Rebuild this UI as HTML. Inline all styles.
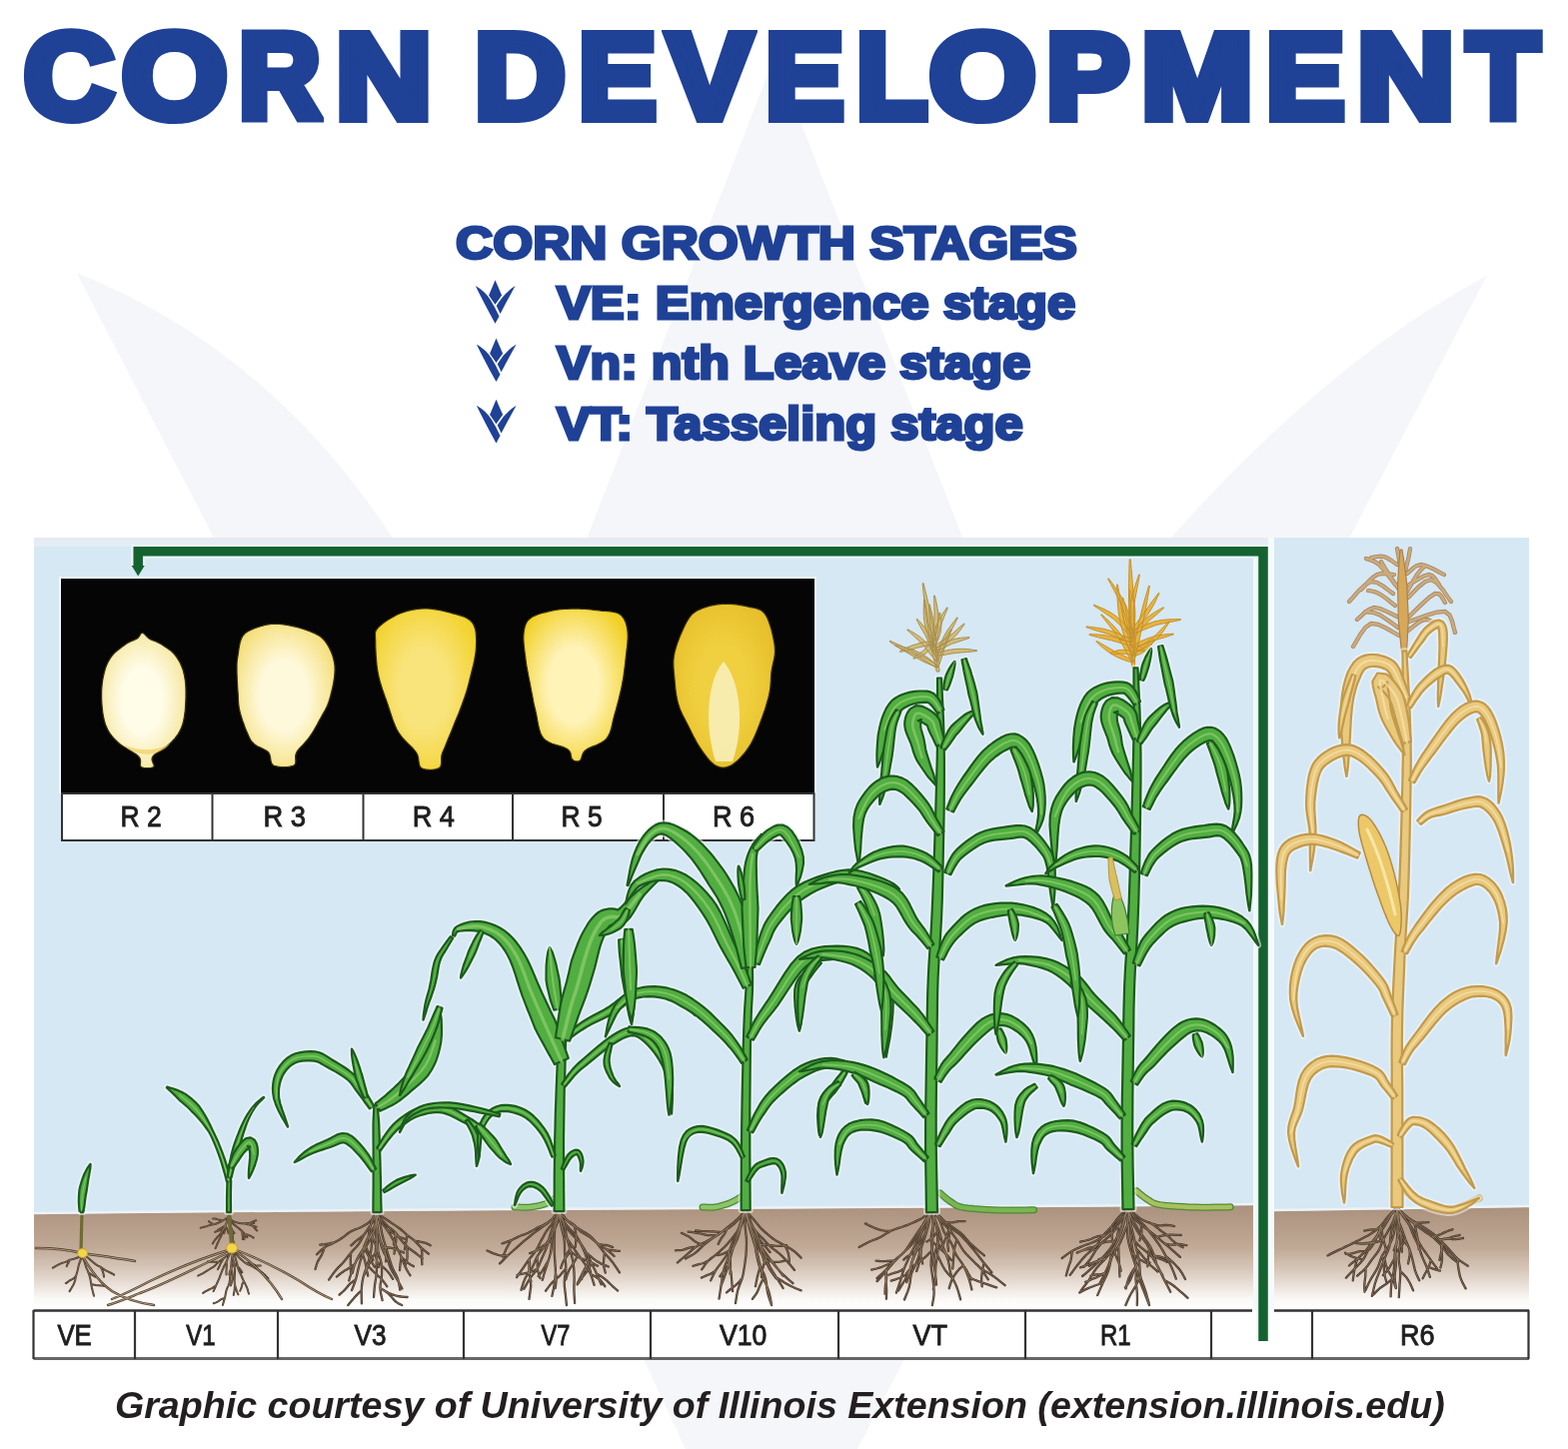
<!DOCTYPE html>
<html><head><meta charset="utf-8"><title>Corn Development</title>
<style>
html,body{margin:0;padding:0;background:#fff;}
body{width:1569px;height:1450px;position:relative;overflow:hidden;font-family:"Liberation Sans",Arial,sans-serif;}
.t{position:absolute;white-space:nowrap;line-height:1;transform-origin:0 0;}
#title{position:absolute;left:0;top:16.2px;width:1569px;height:120px;color:#1f4196;font-weight:bold;font-size:120px;line-height:1;-webkit-text-stroke:10px #1f4196;white-space:nowrap;}
#title span{position:absolute;top:0;transform-origin:0 0;}
#sub{left:455.5px;top:219.5px;color:#1f4196;font-weight:bold;font-size:46px;transform:scaleX(1.118);-webkit-text-stroke:3px #1f4196;}
.bl{color:#1f4196;font-weight:bold;font-size:46px;-webkit-text-stroke:3px #1f4196;}
#foot{left:115px;top:1389px;color:#231f20;font-weight:bold;font-style:italic;font-size:36.5px;transform:scaleX(1.030);}
svg{position:absolute;left:0;top:0;}
.lab{font-family:"Liberation Sans",Arial,sans-serif;font-weight:normal;fill:#1e1e1e;stroke:#1e1e1e;stroke-width:0.9px;}
</style></head>
<body>
<svg width="1569" height="1450" viewBox="0 0 1569 1450"><g fill="#f5f6f9"><path d="M775.4,56 L975,568 L775.4,800 L575.8,568 Z"/><path d="M76.5,273 Q270,350 392.6,538 L480,650 L300,700 L214,538 Z"/><path d="M1488,275.7 Q1330,360 1171.9,538 L1080,660 L1280,680 L1350.3,538 Z"/><path d="M630,1330 L921,1330 L850,1465 L693,1465 Z"/></g><g transform="translate(460.00,270.00) scale(1.0)" fill="#1f4196"><path d="M35.5,10.2 L42.1,25.5 L35.5,34.7 L29.1,25.5 Z"/><path d="M15.8,16.1 Q25.5,21.5 31,30.5 Q35.5,38 39.5,46.4 L35.5,53.8 Q24,33 15.8,16.1 Z"/><path d="M55.6,16.1 Q44.5,23 36.7,36 L40.6,43.9 Q48.5,29 55.6,16.1 Z"/></g><g transform="translate(461.00,328.30) scale(1.0)" fill="#1f4196"><path d="M35.5,10.2 L42.1,25.5 L35.5,34.7 L29.1,25.5 Z"/><path d="M15.8,16.1 Q25.5,21.5 31,30.5 Q35.5,38 39.5,46.4 L35.5,53.8 Q24,33 15.8,16.1 Z"/><path d="M55.6,16.1 Q44.5,23 36.7,36 L40.6,43.9 Q48.5,29 55.6,16.1 Z"/></g><g transform="translate(461.00,389.60) scale(1.0)" fill="#1f4196"><path d="M35.5,10.2 L42.1,25.5 L35.5,34.7 L29.1,25.5 Z"/><path d="M15.8,16.1 Q25.5,21.5 31,30.5 Q35.5,38 39.5,46.4 L35.5,53.8 Q24,33 15.8,16.1 Z"/><path d="M55.6,16.1 Q44.5,23 36.7,36 L40.6,43.9 Q48.5,29 55.6,16.1 Z"/></g><rect x="34" y="538" width="1235" height="773" fill="#d6e8f4"/><rect x="34" y="538" width="1235" height="9" fill="#e2edf6"/><rect x="34" y="538" width="1235" height="2.5" fill="#ebe8ee"/><rect x="1254" y="558" width="4" height="753" fill="#f4f8fb"/><rect x="1269" y="538" width="6" height="773" fill="#f7fafc"/><rect x="1275" y="538" width="255" height="773" fill="#d6e8f4"/><defs><linearGradient id="soil" x1="0" y1="0" x2="0" y2="1"><stop offset="0" stop-color="#ab927e"/><stop offset="0.4" stop-color="#c0a996"/><stop offset="0.62" stop-color="#d8c9bc"/><stop offset="0.8" stop-color="#efe8e2"/><stop offset="0.9" stop-color="#fbfaf8"/><stop offset="1" stop-color="#ffffff"/></linearGradient></defs><path d="M34,1215 L120,1214 L300,1212.5 L500,1211 L700,1210 L930,1208.5 L1100,1207.5 L1254,1206 L1254,1311 L34,1311 Z" fill="url(#soil)"/><path d="M1275,1212 L1400,1210 L1530,1208 L1530,1311 L1275,1311 Z" fill="url(#soil)"/><path d="M34,1214 L120,1213 L300,1211.5 L500,1210 L700,1209 L930,1207.5 L1100,1206.5 L1254,1205 M1275,1211 L1400,1209 L1530,1207" fill="none" stroke="#eef5f9" stroke-width="2.5" opacity="0.9"/><rect x="59" y="577" width="758" height="217" fill="#f4f8fb"/><rect x="61" y="579" width="754" height="215" fill="#050505"/><rect x="62" y="794" width="752.5" height="47" fill="#fff" stroke="#333" stroke-width="2"/><path d="M212.5,794 L212.5,841" stroke="#333" stroke-width="2"/><path d="M363.5,794 L363.5,841" stroke="#333" stroke-width="2"/><path d="M513,794 L513,841" stroke="#333" stroke-width="2"/><path d="M664,794 L664,841" stroke="#333" stroke-width="2"/><text x="120.6" y="826.8" class="lab" font-size="29" textLength="41.1" lengthAdjust="spacingAndGlyphs" xml:space="preserve">R 2</text><text x="263.5" y="826.8" class="lab" font-size="29" textLength="42.5" lengthAdjust="spacingAndGlyphs" xml:space="preserve">R 3</text><text x="412.7" y="826.8" class="lab" font-size="29" textLength="42.2" lengthAdjust="spacingAndGlyphs" xml:space="preserve">R 4</text><text x="561.5" y="826.8" class="lab" font-size="29" textLength="41.1" lengthAdjust="spacingAndGlyphs" xml:space="preserve">R 5</text><text x="713" y="826.8" class="lab" font-size="29" textLength="42.2" lengthAdjust="spacingAndGlyphs" xml:space="preserve">R 6</text><defs><radialGradient id="kg0" cx="0.48" cy="0.5" r="0.6"><stop offset="0" stop-color="#fffce8"/><stop offset="0.4" stop-color="#fffce8"/><stop offset="1" stop-color="#f3e390"/></radialGradient><radialGradient id="kg1" cx="0.48" cy="0.5" r="0.6"><stop offset="0" stop-color="#fff9dc"/><stop offset="0.4" stop-color="#fff9dc"/><stop offset="1" stop-color="#f3dc70"/></radialGradient><radialGradient id="kg2" cx="0.48" cy="0.5" r="0.6"><stop offset="0" stop-color="#f9e47c"/><stop offset="0.4" stop-color="#f9e47c"/><stop offset="1" stop-color="#f2d22c"/></radialGradient><radialGradient id="kg3" cx="0.48" cy="0.5" r="0.6"><stop offset="0" stop-color="#fff3b8"/><stop offset="0.4" stop-color="#fff3b8"/><stop offset="1" stop-color="#f2d024"/></radialGradient><radialGradient id="kg4" cx="0.48" cy="0.5" r="0.6"><stop offset="0" stop-color="#f0d040"/><stop offset="0.4" stop-color="#f0d040"/><stop offset="1" stop-color="#e6be28"/></radialGradient></defs><path d="M142.4,633.2 L143.2,633.4 L143.9,633.9 L144.8,634.7 L145.6,635.6 L146.5,636.6 L147.5,637.6 L148.5,638.5 L149.6,639.3 L150.8,639.9 L152.0,640.5 L153.3,641.0 L154.6,641.5 L156.1,642.0 L157.5,642.7 L159.0,643.4 L160.6,644.3 L162.3,645.3 L164.1,646.5 L166.0,647.7 L167.9,649.0 L169.9,650.4 L171.7,651.9 L173.4,653.6 L175.0,655.3 L176.4,657.1 L177.7,659.1 L179.0,661.2 L180.2,663.3 L181.2,665.6 L182.2,668.0 L183.1,670.4 L183.8,673.0 L184.4,675.7 L184.9,678.5 L185.4,681.5 L185.7,684.5 L185.9,687.7 L186.0,690.8 L186.0,694.1 L186.0,697.3 L185.9,700.7 L185.7,704.2 L185.5,707.8 L185.2,711.5 L184.7,715.1 L184.2,718.6 L183.5,721.9 L182.7,724.9 L181.7,727.6 L180.7,730.1 L179.5,732.4 L178.2,734.5 L176.7,736.6 L175.2,738.6 L173.5,740.5 L171.7,742.5 L169.6,744.5 L167.1,746.4 L164.4,748.3 L161.6,750.2 L158.9,752.0 L156.5,753.7 L154.4,755.3 L153.0,756.9 L152.2,758.4 L152.0,759.9 L152.3,761.3 L152.7,762.6 L153.3,763.9 L153.8,765.0 L154.1,766.0 L154.0,766.8 L153.5,767.4 L152.9,767.9 L152.1,768.2 L151.2,768.4 L150.2,768.5 L149.2,768.5 L148.3,768.5 L147.4,768.5 L146.5,768.5 L145.6,768.5 L144.7,768.5 L143.8,768.4 L143.0,768.2 L142.1,767.9 L141.4,767.4 L140.8,766.8 L140.4,766.0 L140.4,765.0 L140.5,763.9 L140.6,762.6 L140.6,761.3 L140.4,759.9 L139.7,758.4 L138.6,756.9 L136.8,755.3 L134.5,753.7 L131.7,752.0 L128.7,750.2 L125.6,748.3 L122.7,746.4 L119.9,744.5 L117.6,742.5 L115.6,740.5 L113.8,738.6 L112.1,736.6 L110.5,734.5 L109.0,732.4 L107.7,730.1 L106.6,727.6 L105.5,724.9 L104.6,721.9 L103.8,718.6 L103.1,715.1 L102.6,711.5 L102.2,707.8 L101.9,704.2 L101.7,700.7 L101.6,697.3 L101.6,694.1 L101.7,690.8 L101.9,687.6 L102.2,684.5 L102.6,681.4 L103.1,678.5 L103.7,675.6 L104.3,673.0 L105.0,670.5 L105.7,668.2 L106.5,666.0 L107.4,663.9 L108.4,662.0 L109.5,660.1 L110.7,658.2 L112.0,656.4 L113.5,654.6 L115.2,652.9 L117.1,651.2 L119.0,649.7 L120.9,648.2 L122.9,646.8 L124.7,645.5 L126.4,644.3 L128.0,643.3 L129.6,642.5 L131.1,641.8 L132.5,641.1 L133.9,640.6 L135.2,640.0 L136.4,639.4 L137.5,638.8 L138.4,638.0 L139.1,637.1 L139.7,636.2 L140.2,635.3 L140.7,634.4 L141.2,633.8 L141.7,633.3Z" fill="url(#kg0)" stroke="#3a3008" stroke-width="1.2"/><path d="M243.2,636.0 L244.7,634.3 L246.5,632.8 L248.6,631.5 L250.8,630.4 L253.0,629.4 L255.4,628.5 L257.7,627.7 L260.0,627.0 L262.2,626.3 L264.4,625.7 L266.6,625.2 L268.8,624.8 L271.1,624.5 L273.5,624.3 L276.1,624.3 L278.8,624.4 L281.8,624.7 L285.0,625.1 L288.4,625.7 L291.8,626.3 L295.3,627.1 L298.7,628.0 L302.0,629.0 L305.0,630.0 L307.8,631.0 L310.6,632.0 L313.3,633.1 L315.8,634.3 L318.3,635.6 L320.6,637.1 L322.7,638.9 L324.7,641.0 L326.5,643.4 L328.3,646.2 L329.9,649.2 L331.4,652.4 L332.7,655.7 L333.7,659.3 L334.5,662.8 L335.0,666.5 L335.1,670.4 L334.9,674.5 L334.4,678.9 L333.7,683.4 L332.8,687.8 L331.8,692.0 L330.8,696.0 L329.8,699.6 L328.8,702.8 L327.7,705.7 L326.5,708.3 L325.2,710.8 L323.9,713.1 L322.6,715.4 L321.3,717.7 L320.0,720.0 L318.7,722.4 L317.5,724.7 L316.2,727.0 L314.9,729.3 L313.6,731.5 L312.2,733.7 L310.8,735.8 L309.4,737.9 L307.8,739.9 L306.1,741.9 L304.4,743.9 L302.6,745.8 L300.8,747.6 L299.2,749.4 L297.8,751.2 L296.7,753.0 L296.0,754.8 L295.7,756.7 L295.7,758.6 L295.8,760.4 L295.9,762.2 L295.7,763.7 L295.1,765.0 L294.0,766.0 L292.2,766.7 L289.8,767.2 L287.0,767.5 L284.0,767.6 L281.0,767.5 L278.2,767.2 L275.7,766.7 L273.8,766.0 L272.5,765.0 L271.7,763.5 L271.2,761.9 L270.8,760.0 L270.6,758.1 L270.2,756.2 L269.6,754.5 L268.7,753.0 L267.4,751.8 L265.7,750.7 L263.9,749.7 L262.0,748.8 L260.0,747.9 L258.1,747.0 L256.4,746.0 L255.0,745.0 L253.8,744.0 L252.9,743.0 L252.0,742.1 L251.3,741.1 L250.6,740.0 L249.9,738.7 L249.2,737.2 L248.3,735.3 L247.3,733.0 L246.2,730.4 L245.0,727.4 L243.9,724.3 L242.7,721.1 L241.7,717.9 L240.7,714.8 L240.0,712.0 L239.4,709.4 L239.0,706.8 L238.7,704.3 L238.5,701.9 L238.4,699.5 L238.3,697.1 L238.2,694.6 L238.0,692.0 L237.8,689.3 L237.6,686.4 L237.5,683.5 L237.3,680.6 L237.2,677.7 L237.1,675.0 L237.0,672.4 L237.0,670.0 L237.0,667.9 L237.0,666.1 L237.0,664.5 L237.1,663.0 L237.2,661.6 L237.4,660.0 L237.7,658.3 L238.0,656.3 L238.4,654.0 L238.7,651.4 L239.1,648.7 L239.6,645.9 L240.2,643.1 L241.0,640.4 L242.0,638.0Z" fill="url(#kg1)" stroke="#3a3008" stroke-width="1.2"/><path d="M378.3,628.2 L380.1,626.4 L382.3,624.5 L384.9,622.6 L387.8,620.6 L390.8,618.7 L394.0,616.9 L397.0,615.3 L400.0,614.0 L402.9,612.9 L405.8,611.9 L408.8,611.1 L411.8,610.4 L414.9,609.8 L418.0,609.4 L421.1,609.1 L424.2,609.0 L427.4,609.0 L430.6,609.2 L433.9,609.6 L437.2,610.1 L440.5,610.7 L443.7,611.4 L446.9,612.2 L450.0,613.0 L453.1,613.9 L456.3,614.7 L459.5,615.6 L462.7,616.6 L465.6,617.8 L468.3,619.3 L470.7,621.0 L472.6,623.0 L474.0,625.4 L475.1,628.2 L475.9,631.2 L476.3,634.5 L476.5,637.9 L476.6,641.4 L476.5,645.0 L476.4,648.6 L476.1,652.3 L475.5,656.2 L474.8,660.2 L473.9,664.4 L472.9,668.5 L471.9,672.5 L470.9,676.4 L470.0,680.0 L469.2,683.3 L468.4,686.3 L467.6,689.2 L466.8,691.9 L465.9,694.7 L464.9,697.7 L463.7,701.0 L462.4,704.7 L460.8,709.0 L458.9,713.9 L456.7,719.2 L454.5,724.6 L452.4,729.9 L450.3,734.9 L448.5,739.3 L447.0,743.0 L445.9,745.8 L445.0,748.0 L444.3,749.6 L443.7,750.9 L443.2,752.1 L442.8,753.1 L442.4,754.3 L442.0,755.7 L441.7,757.4 L441.6,759.2 L441.6,761.1 L441.6,762.9 L441.5,764.6 L441.1,766.2 L440.5,767.5 L439.5,768.5 L437.9,769.2 L435.8,769.8 L433.4,770.1 L430.7,770.3 L428.1,770.2 L425.5,769.9 L423.3,769.3 L421.6,768.5 L420.4,767.3 L419.7,765.8 L419.3,764.0 L419.0,762.0 L418.8,759.8 L418.4,757.6 L417.7,755.3 L416.5,753.0 L414.8,750.8 L412.8,748.5 L410.4,746.1 L407.9,743.7 L405.4,741.1 L402.9,738.5 L400.7,735.7 L398.7,732.8 L397.0,729.7 L395.5,726.5 L394.1,723.1 L392.8,719.6 L391.6,716.0 L390.4,712.4 L389.2,708.7 L388.0,705.0 L386.7,701.3 L385.3,697.5 L384.0,693.7 L382.6,689.8 L381.4,685.9 L380.2,682.0 L379.2,678.0 L378.3,674.0 L377.6,669.8 L377.0,665.4 L376.6,660.9 L376.2,656.4 L376.0,652.0 L375.8,647.9 L375.7,644.2 L375.7,641.0 L375.6,638.4 L375.5,636.4 L375.5,634.8 L375.5,633.4 L375.7,632.2 L376.2,631.0 L377.0,629.7Z" fill="url(#kg2)" stroke="#3a3008" stroke-width="1.2"/><path d="M530.6,618.7 L532.6,617.3 L535.1,616.1 L537.8,615.0 L540.7,614.0 L543.8,613.1 L547.0,612.3 L550.0,611.6 L553.0,611.0 L555.9,610.5 L558.8,610.0 L561.7,609.7 L564.7,609.5 L567.6,609.3 L570.6,609.2 L573.6,609.1 L576.5,609.1 L579.5,609.1 L582.4,609.3 L585.4,609.4 L588.4,609.7 L591.4,610.0 L594.3,610.3 L597.2,610.6 L600.0,611.0 L602.8,611.3 L605.6,611.5 L608.5,611.7 L611.2,612.0 L613.9,612.4 L616.4,613.0 L618.6,613.8 L620.5,614.9 L622.1,616.3 L623.5,618.0 L624.7,619.9 L625.7,621.9 L626.5,624.2 L627.1,626.6 L627.6,629.3 L628.0,632.0 L628.2,635.0 L628.2,638.3 L628.0,641.8 L627.7,645.5 L627.3,649.2 L626.8,652.9 L626.4,656.5 L626.0,660.0 L625.7,663.3 L625.3,666.5 L624.9,669.6 L624.5,672.7 L624.1,675.8 L623.6,679.0 L623.0,682.2 L622.4,685.6 L621.7,689.1 L620.8,692.8 L619.9,696.6 L619.0,700.4 L618.0,704.2 L617.0,707.9 L616.0,711.6 L615.0,715.0 L614.1,718.3 L613.3,721.7 L612.6,724.9 L611.9,728.1 L611.0,731.1 L609.9,734.0 L608.6,736.6 L607.0,739.0 L604.9,741.1 L602.3,742.8 L599.4,744.3 L596.4,745.7 L593.3,746.9 L590.5,748.1 L588.0,749.3 L586.0,750.6 L584.6,752.0 L583.5,753.6 L582.8,755.1 L582.3,756.6 L581.9,758.0 L581.5,759.2 L581.0,760.3 L580.3,761.0 L579.4,761.5 L578.5,761.8 L577.5,761.9 L576.4,761.8 L575.4,761.6 L574.4,761.2 L573.5,760.6 L572.7,760.0 L572.1,759.2 L571.8,758.1 L571.5,756.8 L571.3,755.5 L571.0,754.0 L570.4,752.5 L569.4,751.1 L567.9,749.7 L565.7,748.5 L562.9,747.4 L559.6,746.4 L556.1,745.4 L552.6,744.2 L549.3,742.8 L546.4,741.1 L544.0,739.0 L542.2,736.4 L540.8,733.4 L539.7,730.0 L538.8,726.5 L538.1,722.8 L537.4,719.1 L536.8,715.5 L536.0,712.0 L535.2,708.7 L534.4,705.3 L533.7,702.0 L533.1,698.7 L532.5,695.4 L531.8,692.1 L531.2,688.9 L530.6,685.6 L530.0,682.4 L529.3,679.2 L528.7,676.0 L528.1,672.8 L527.5,669.6 L526.9,666.4 L526.4,663.2 L526.0,660.0 L525.6,656.7 L525.1,653.3 L524.7,649.8 L524.3,646.4 L524.0,643.0 L523.8,639.8 L523.8,636.7 L524.0,634.0 L524.3,631.5 L524.7,629.2 L525.2,627.1 L525.8,625.2 L526.6,623.4 L527.6,621.7 L529.0,620.2Z" fill="url(#kg3)" stroke="#3a3008" stroke-width="1.2"/><path d="M689.3,618.7 L691.2,616.2 L693.0,614.2 L694.9,612.7 L696.8,611.4 L698.7,610.5 L700.7,609.6 L702.8,608.8 L705.0,608.0 L707.3,607.2 L709.8,606.4 L712.3,605.8 L714.9,605.3 L717.5,604.9 L720.2,604.6 L722.9,604.4 L725.6,604.3 L728.3,604.3 L731.2,604.4 L734.1,604.6 L737.0,604.9 L739.9,605.3 L742.7,605.8 L745.4,606.4 L748.0,607.0 L750.5,607.6 L753.0,608.0 L755.4,608.5 L757.7,609.1 L759.9,609.9 L762.0,611.1 L764.0,612.7 L765.8,614.9 L767.5,617.8 L769.1,621.5 L770.5,625.6 L771.9,630.1 L773.0,634.7 L774.0,639.3 L774.8,643.5 L775.3,647.4 L775.5,650.9 L775.4,654.1 L775.0,657.3 L774.4,660.3 L773.7,663.2 L773.1,666.1 L772.5,669.0 L772.0,672.0 L771.7,674.9 L771.5,677.7 L771.4,680.5 L771.2,683.3 L771.0,686.1 L770.7,689.0 L770.2,692.0 L769.6,695.2 L768.8,698.7 L767.7,702.3 L766.6,706.2 L765.4,710.1 L764.0,714.0 L762.7,717.8 L761.3,721.5 L760.0,725.0 L758.7,728.3 L757.4,731.5 L756.1,734.6 L754.8,737.6 L753.4,740.5 L751.9,743.4 L750.3,746.1 L748.6,748.7 L746.7,751.3 L744.7,753.9 L742.5,756.4 L740.3,758.8 L738.0,761.1 L735.7,763.0 L733.5,764.7 L731.4,766.0 L729.4,766.9 L727.4,767.6 L725.5,768.0 L723.6,768.2 L721.7,768.0 L719.8,767.6 L717.9,766.9 L716.0,766.0 L714.1,764.7 L712.1,763.0 L710.2,761.1 L708.2,758.8 L706.3,756.4 L704.4,753.9 L702.6,751.3 L700.8,748.7 L699.1,746.0 L697.3,743.1 L695.7,740.1 L694.0,737.0 L692.4,733.9 L690.9,730.8 L689.4,727.8 L688.0,725.0 L686.6,722.3 L685.3,719.8 L684.0,717.3 L682.8,714.9 L681.7,712.5 L680.6,710.0 L679.7,707.4 L678.8,704.7 L678.0,701.8 L677.4,698.9 L676.8,695.9 L676.3,692.8 L675.9,689.6 L675.6,686.4 L675.3,683.2 L675.0,680.0 L674.7,676.8 L674.4,673.6 L674.1,670.4 L673.9,667.1 L673.8,663.8 L673.9,660.3 L674.3,656.7 L675.0,653.0 L676.1,648.9 L677.5,644.4 L679.3,639.6 L681.2,634.8 L683.2,630.2 L685.3,625.8 L687.3,621.9Z" fill="url(#kg4)" stroke="#3a3008" stroke-width="1.2"/><path d="M724,662 C740,680 746,725 733,762 L716,762 C704,725 708,680 724,662Z" fill="#f8eeb8" opacity="0.9"/><path d="M124,745 C135,752 160,752 170,744 C160,758 135,758 124,745Z" fill="#f0d060" opacity="0.7"/><rect x="33.5" y="1311" width="1496" height="49" fill="#fff"/><path d="M33.5,1311.5 L1253,1311.5 M1275,1311.5 L1530,1311.5" stroke="#333" stroke-width="2.5" fill="none"/><path d="M33.5,1359.5 L1530,1359.5" stroke="#666" stroke-width="3" fill="none"/><path d="M33.5,1311 L33.5,1360" stroke="#333" stroke-width="2.2"/><path d="M135,1311 L135,1360" stroke="#333" stroke-width="2.2"/><path d="M278,1311 L278,1360" stroke="#333" stroke-width="2.2"/><path d="M464,1311 L464,1360" stroke="#333" stroke-width="2.2"/><path d="M651,1311 L651,1360" stroke="#333" stroke-width="2.2"/><path d="M839,1311 L839,1360" stroke="#333" stroke-width="2.2"/><path d="M1026,1311 L1026,1360" stroke="#333" stroke-width="2.2"/><path d="M1212,1311 L1212,1360" stroke="#333" stroke-width="2.2"/><path d="M1313,1311 L1313,1360" stroke="#333" stroke-width="2.2"/><path d="M1529.5,1311 L1529.5,1360" stroke="#333" stroke-width="2.2"/><text x="57.4" y="1346.3" class="lab" font-size="29.5" textLength="34.4" lengthAdjust="spacingAndGlyphs">VE</text><text x="186.3" y="1346.3" class="lab" font-size="29.5" textLength="29.3" lengthAdjust="spacingAndGlyphs">V1</text><text x="354.6" y="1346.3" class="lab" font-size="29.5" textLength="31.9" lengthAdjust="spacingAndGlyphs">V3</text><text x="541.6" y="1346.3" class="lab" font-size="29.5" textLength="28.8" lengthAdjust="spacingAndGlyphs">V7</text><text x="720" y="1346.3" class="lab" font-size="29.5" textLength="47.3" lengthAdjust="spacingAndGlyphs">V10</text><text x="913.5" y="1346.3" class="lab" font-size="29.5" textLength="34.5" lengthAdjust="spacingAndGlyphs">VT</text><text x="1101" y="1346.3" class="lab" font-size="29.5" textLength="30.6" lengthAdjust="spacingAndGlyphs">R1</text><text x="1401" y="1346.3" class="lab" font-size="29.5" textLength="34.6" lengthAdjust="spacingAndGlyphs">R6</text><path d="M1264,1342 L1264,551.8 L138.2,551.8 L138.2,566" fill="none" stroke="#f2f8fb" stroke-width="14" stroke-linejoin="miter" opacity="0.7"/><path d="M1264,1342 L1264,551.8 L138.2,551.8 L138.2,566" fill="none" stroke="#14622f" stroke-width="9.5" stroke-linejoin="miter"/><path d="M131.7,566 L144.7,566 L138.2,576.6 Z" fill="#14622f"/><path d="M376.6,1214.8 L374.9,1216.9 L372.5,1220.0 L369.8,1222.7 L367.1,1224.8 L364.1,1226.6 L361.0,1228.2 L357.8,1229.5 L354.5,1230.7 L351.4,1232.1 L348.5,1234.0 L345.8,1236.2 L343.0,1238.3 L340.1,1240.2 L337.1,1241.9 L334.1,1243.6 L330.9,1245.1 L327.7,1246.5 L324.7,1248.2 L321.8,1250.6 L319.0,1253.3 L317.1,1255.3 M324.7,1248.2 L324.1,1250.1 L323.1,1252.9 L322.0,1255.6 L320.7,1257.9 L319.2,1260.1 L318.0,1262.4 L316.9,1265.2 L316.1,1268.0 L315.5,1270.0 M334.1,1243.6 L332.9,1243.7 L331.2,1244.0 L329.5,1244.3 L328.0,1244.6 L326.5,1244.9 L324.9,1245.2 L323.2,1245.4 L321.5,1245.5 L320.3,1245.6 M376.9,1215.2 L375.5,1217.8 L373.4,1221.6 L371.2,1225.3 L369.1,1228.5 L366.9,1231.8 L364.8,1235.0 L362.9,1238.3 L361.0,1241.7 L358.9,1245.0 L356.4,1248.0 L353.7,1250.8 L351.1,1253.7 L348.7,1256.7 L346.4,1259.8 L344.0,1262.8 L341.3,1265.7 L338.5,1268.4 L335.9,1271.2 L333.3,1274.6 L330.8,1278.1 L329.1,1280.6 M364.8,1235.0 L363.6,1236.0 L362.0,1237.4 L360.3,1238.8 L358.7,1240.0 L357.2,1241.2 L355.6,1242.4 L354.0,1243.8 L352.4,1245.3 L351.3,1246.3 M351.1,1253.7 L351.0,1255.4 L350.9,1257.8 L350.8,1260.3 L350.8,1262.5 L350.8,1264.8 L350.8,1267.0 L350.9,1269.4 L351.0,1271.9 L351.1,1273.6 M378.3,1215.6 L377.7,1218.5 L376.8,1222.7 L375.8,1226.8 L374.8,1230.5 L373.7,1234.2 L372.3,1237.8 L370.4,1241.1 L368.2,1244.2 L366.2,1247.5 L364.5,1250.9 L363.0,1254.5 L361.7,1258.1 L360.6,1261.8 L359.6,1265.5 L358.6,1269.2 L357.8,1272.9 L356.9,1276.7 L356.0,1280.4 L354.6,1284.4 L353.1,1288.4 L352.0,1291.2 M366.2,1247.5 L366.6,1248.7 L367.3,1250.5 L368.1,1252.2 L369.1,1253.6 L370.2,1254.9 L371.2,1256.3 L372.1,1258.0 L372.8,1259.7 L373.3,1261.0 M372.3,1237.8 L372.8,1238.9 L373.6,1240.6 L374.4,1242.2 L375.0,1243.7 L375.7,1245.2 L376.2,1246.8 L376.6,1248.5 L377.0,1250.3 L377.2,1251.6 M356.0,1280.4 L354.4,1281.5 L352.1,1283.1 L350.0,1284.9 L348.3,1286.7 L346.7,1288.7 L345.1,1290.6 L343.1,1292.5 L341.0,1294.4 L339.6,1295.7 M375.5,1213.3 L374.6,1215.6 L373.2,1218.7 L372.0,1222.0 L371.1,1224.9 L370.4,1228.0 L369.7,1231.0 L369.1,1234.1 L368.7,1237.2 L368.0,1240.2 L366.9,1243.1 L365.6,1245.9 L364.1,1248.7 L362.5,1251.3 L360.8,1253.9 L359.2,1256.6 L357.7,1259.3 L356.3,1262.1 L355.1,1264.9 L354.0,1268.2 L353.2,1271.6 L352.6,1273.9 M364.1,1248.7 L365.1,1250.3 L366.4,1252.6 L367.7,1255.0 L368.9,1257.1 L370.0,1259.2 L371.1,1261.3 L372.4,1263.7 L373.7,1266.0 L374.7,1267.7 M355.1,1264.9 L353.5,1266.0 L351.2,1267.6 L349.0,1269.1 L346.9,1270.4 L344.7,1271.6 L342.7,1273.0 L340.5,1274.6 L338.4,1276.4 L336.9,1277.6 M378.4,1214.6 L377.8,1217.2 L376.9,1221.0 L375.8,1224.7 L374.2,1227.8 L372.4,1230.8 L370.7,1233.8 L369.1,1236.9 L367.5,1240.0 L366.0,1243.2 L364.7,1246.4 L363.6,1249.7 L362.2,1252.9 L360.4,1255.9 L358.4,1258.8 L356.6,1261.7 L355.1,1264.9 L353.8,1268.1 L352.5,1271.3 L351.2,1275.0 L350.0,1278.7 L349.2,1281.3 M362.2,1252.9 L362.9,1254.9 L363.9,1257.8 L364.8,1260.7 L365.5,1263.3 L366.0,1266.0 L366.5,1268.7 L367.1,1271.6 L367.8,1274.6 L368.2,1276.7 M375.6,1214.1 L375.4,1217.5 L375.2,1222.4 L374.8,1227.2 L374.2,1231.5 L373.3,1235.8 L372.5,1240.1 L372.0,1244.5 L371.6,1248.8 L371.0,1253.1 L370.0,1257.4 L368.9,1261.6 L367.6,1265.8 L366.2,1269.9 L364.6,1274.1 L363.4,1278.2 L362.6,1282.5 L362.0,1286.9 L361.7,1291.2 L361.7,1296.1 L361.8,1301.0 L361.9,1304.4 M367.6,1265.8 L369.3,1267.7 L371.7,1270.4 L374.2,1273.0 L376.6,1275.2 L379.1,1277.3 L381.4,1279.5 L383.7,1282.3 L385.8,1285.2 L387.3,1287.3 M361.7,1291.2 L360.4,1292.5 L358.6,1294.2 L356.8,1296.1 L355.2,1297.8 L353.8,1299.6 L352.3,1301.3 L350.8,1303.1 L349.3,1304.8 L348.3,1306.0 M378.3,1215.0 L377.7,1218.1 L376.9,1222.4 L376.3,1226.8 L376.1,1230.8 L376.2,1234.7 L376.4,1238.7 L377.0,1242.7 L377.9,1246.6 L378.3,1250.5 L378.0,1254.4 L377.3,1258.4 L376.8,1262.3 L376.7,1266.3 L376.9,1270.3 L376.8,1274.3 L376.3,1278.2 L375.6,1282.1 L375.0,1286.1 L374.6,1290.5 L374.2,1294.9 L374.0,1298.0 M378.3,1250.5 L376.8,1252.5 L374.7,1255.3 L372.7,1258.2 L371.2,1261.0 L369.8,1263.9 L368.5,1266.8 L367.1,1270.0 L365.7,1273.2 L364.7,1275.5 M376.8,1262.3 L378.4,1263.7 L380.7,1265.6 L382.9,1267.5 L384.9,1269.4 L386.8,1271.3 L388.6,1273.2 L390.4,1275.6 L392.0,1278.2 L393.1,1279.9 M376.3,1214.0 L376.5,1217.3 L376.8,1221.9 L377.0,1226.6 L377.3,1230.8 L377.5,1235.0 L377.7,1239.1 L377.8,1243.3 L377.9,1247.5 L378.3,1251.7 L379.2,1255.8 L380.5,1259.8 L381.5,1263.8 L381.9,1268.0 L382.1,1272.2 L382.0,1276.4 L381.5,1280.6 L380.7,1284.7 L380.4,1288.9 L380.9,1293.5 L381.9,1298.0 L382.6,1301.2 M380.4,1288.9 L382.6,1290.3 L385.8,1292.3 L388.8,1294.6 L391.2,1297.1 L393.4,1299.9 L395.6,1302.2 L398.0,1303.9 L400.5,1305.2 L402.2,1306.0 M380.4,1288.9 L382.5,1290.2 L385.6,1292.1 L388.7,1293.8 L391.7,1295.1 L394.8,1296.2 L397.9,1297.0 L401.4,1297.5 L405.0,1297.8 L407.6,1298.0 M377.7,1239.1 L377.2,1241.6 L376.5,1245.2 L376.0,1248.8 L375.9,1252.0 L376.0,1255.3 L376.4,1258.5 L377.2,1262.1 L378.2,1265.6 L378.9,1268.0 M375.5,1215.2 L376.0,1218.2 L376.7,1222.3 L377.4,1226.5 L378.0,1230.2 L378.6,1234.0 L379.4,1237.7 L380.6,1241.3 L381.9,1244.8 L383.3,1248.4 L384.6,1251.9 L386.0,1255.5 L387.4,1259.0 L388.6,1262.6 L389.7,1266.3 L391.1,1269.8 L392.9,1273.1 L395.0,1276.3 L397.0,1279.6 L399.0,1283.2 L401.0,1286.9 L402.4,1289.5 M383.3,1248.4 L385.2,1248.4 L387.8,1248.5 L390.5,1248.7 L392.9,1249.2 L395.2,1249.9 L397.5,1250.7 L399.9,1251.7 L402.4,1252.8 L404.1,1253.6 M379.4,1237.7 L379.8,1239.8 L380.4,1242.9 L381.2,1245.9 L382.1,1248.5 L383.1,1251.1 L384.2,1253.6 L385.7,1256.3 L387.4,1259.0 L388.5,1260.8 M378.1,1213.1 L378.7,1216.1 L379.5,1220.3 L380.4,1224.5 L381.1,1228.3 L381.7,1232.1 L382.5,1235.9 L383.5,1239.6 L384.7,1243.3 L385.8,1247.0 L386.9,1250.7 L388.0,1254.4 L389.2,1258.0 L390.3,1261.7 L391.5,1265.4 L392.8,1269.0 L394.5,1272.5 L396.4,1275.9 L398.0,1279.4 L399.0,1283.5 L399.8,1287.8 L400.3,1290.7 M385.8,1247.0 L385.7,1248.3 L385.6,1250.2 L385.6,1252.1 L385.8,1253.9 L386.2,1255.6 L386.4,1257.3 L386.3,1259.2 L386.2,1261.1 L386.0,1262.4 M376.4,1214.1 L377.8,1216.3 L379.7,1219.5 L381.7,1222.7 L383.6,1225.5 L385.6,1228.2 L387.5,1231.0 L389.4,1233.9 L391.2,1236.7 L392.8,1239.7 L394.4,1242.7 L395.8,1245.8 L397.2,1248.8 L398.8,1251.8 L400.3,1254.9 L401.7,1257.9 L402.9,1261.1 L404.1,1264.3 L405.4,1267.4 L407.1,1270.7 L409.0,1274.0 L410.4,1276.2 M401.7,1257.9 L401.5,1259.1 L401.1,1260.7 L400.9,1262.3 L400.7,1263.7 L400.5,1265.2 L400.4,1266.7 L400.2,1268.3 L400.1,1270.0 L400.0,1271.1 M387.5,1231.0 L389.1,1231.8 L391.4,1232.9 L393.6,1234.1 L395.5,1235.3 L397.4,1236.5 L399.4,1237.7 L401.7,1238.6 L404.1,1239.3 L405.8,1239.8 M401.7,1257.9 L402.7,1258.8 L404.1,1260.1 L405.5,1261.4 L406.8,1262.5 L408.1,1263.6 L409.5,1264.6 L411.1,1265.7 L412.8,1266.6 L413.9,1267.2 M375.6,1214.0 L377.3,1215.7 L379.7,1218.2 L382.1,1220.8 L384.2,1223.1 L386.3,1225.4 L388.5,1227.6 L391.0,1229.5 L393.5,1231.4 L395.8,1233.5 L397.8,1235.9 L399.6,1238.5 L401.4,1241.0 L403.5,1243.4 L405.6,1245.6 L407.8,1247.8 L410.2,1249.8 L412.8,1251.7 L415.3,1253.5 L418.0,1255.7 L420.8,1257.8 L422.7,1259.3 M407.8,1247.8 L407.7,1249.4 L407.6,1251.6 L407.5,1253.8 L407.5,1255.9 L407.6,1257.9 L407.4,1259.9 L407.0,1262.1 L406.3,1264.2 L405.8,1265.7 M395.8,1233.5 L395.8,1234.5 L395.7,1236.0 L395.5,1237.6 L395.1,1238.9 L394.7,1240.2 L394.3,1241.5 L394.1,1243.0 L394.0,1244.5 L394.0,1245.6 M395.8,1233.5 L396.0,1235.3 L396.3,1237.9 L396.3,1240.6 L396.2,1242.9 L395.8,1245.3 L395.4,1247.6 L395.1,1250.2 L394.7,1252.8 L394.5,1254.6 M376.4,1213.3 L378.4,1214.7 L381.3,1216.7 L384.2,1218.7 L386.9,1220.5 L389.5,1222.3 L392.2,1224.1 L394.9,1225.9 L397.5,1227.6 L400.1,1229.5 L402.5,1231.5 L404.9,1233.7 L407.3,1235.8 L409.8,1237.8 L412.4,1239.6 L414.9,1241.6 L417.1,1243.9 L419.3,1246.3 L421.5,1248.6 L424.1,1250.9 L426.9,1253.1 L428.8,1254.7 M407.3,1235.8 L407.2,1237.1 L407.0,1238.9 L406.8,1240.7 L406.5,1242.4 L406.1,1244.0 L405.7,1245.6 L405.4,1247.4 L405.1,1249.2 L404.9,1250.4 M414.9,1241.6 L416.3,1241.9 L418.3,1242.2 L420.3,1242.6 L422.1,1243.0 L423.9,1243.3 L425.7,1243.8 L427.6,1244.6 L429.4,1245.5 L430.7,1246.2 M421.5,1248.6 L421.7,1250.0 L422.1,1252.0 L422.3,1254.1 L422.3,1256.0 L422.1,1257.8 L422.1,1259.7 L422.2,1261.7 L422.3,1263.8 L422.4,1265.3" fill="none" stroke="#46352a" stroke-width="2.3" stroke-linecap="round" stroke-linejoin="round"/><path d="M376.6,1214.8 L374.9,1216.9 L372.5,1220.0 L369.8,1222.7 L367.1,1224.8 L364.1,1226.6 L361.0,1228.2 L357.8,1229.5 L354.5,1230.7 L351.4,1232.1 L348.5,1234.0 L345.8,1236.2 L343.0,1238.3 L340.1,1240.2 L337.1,1241.9 L334.1,1243.6 L330.9,1245.1 L327.7,1246.5 L324.7,1248.2 L321.8,1250.6 L319.0,1253.3 L317.1,1255.3 M324.7,1248.2 L324.1,1250.1 L323.1,1252.9 L322.0,1255.6 L320.7,1257.9 L319.2,1260.1 L318.0,1262.4 L316.9,1265.2 L316.1,1268.0 L315.5,1270.0 M334.1,1243.6 L332.9,1243.7 L331.2,1244.0 L329.5,1244.3 L328.0,1244.6 L326.5,1244.9 L324.9,1245.2 L323.2,1245.4 L321.5,1245.5 L320.3,1245.6 M376.9,1215.2 L375.5,1217.8 L373.4,1221.6 L371.2,1225.3 L369.1,1228.5 L366.9,1231.8 L364.8,1235.0 L362.9,1238.3 L361.0,1241.7 L358.9,1245.0 L356.4,1248.0 L353.7,1250.8 L351.1,1253.7 L348.7,1256.7 L346.4,1259.8 L344.0,1262.8 L341.3,1265.7 L338.5,1268.4 L335.9,1271.2 L333.3,1274.6 L330.8,1278.1 L329.1,1280.6 M364.8,1235.0 L363.6,1236.0 L362.0,1237.4 L360.3,1238.8 L358.7,1240.0 L357.2,1241.2 L355.6,1242.4 L354.0,1243.8 L352.4,1245.3 L351.3,1246.3 M351.1,1253.7 L351.0,1255.4 L350.9,1257.8 L350.8,1260.3 L350.8,1262.5 L350.8,1264.8 L350.8,1267.0 L350.9,1269.4 L351.0,1271.9 L351.1,1273.6 M378.3,1215.6 L377.7,1218.5 L376.8,1222.7 L375.8,1226.8 L374.8,1230.5 L373.7,1234.2 L372.3,1237.8 L370.4,1241.1 L368.2,1244.2 L366.2,1247.5 L364.5,1250.9 L363.0,1254.5 L361.7,1258.1 L360.6,1261.8 L359.6,1265.5 L358.6,1269.2 L357.8,1272.9 L356.9,1276.7 L356.0,1280.4 L354.6,1284.4 L353.1,1288.4 L352.0,1291.2 M366.2,1247.5 L366.6,1248.7 L367.3,1250.5 L368.1,1252.2 L369.1,1253.6 L370.2,1254.9 L371.2,1256.3 L372.1,1258.0 L372.8,1259.7 L373.3,1261.0 M372.3,1237.8 L372.8,1238.9 L373.6,1240.6 L374.4,1242.2 L375.0,1243.7 L375.7,1245.2 L376.2,1246.8 L376.6,1248.5 L377.0,1250.3 L377.2,1251.6 M356.0,1280.4 L354.4,1281.5 L352.1,1283.1 L350.0,1284.9 L348.3,1286.7 L346.7,1288.7 L345.1,1290.6 L343.1,1292.5 L341.0,1294.4 L339.6,1295.7 M375.5,1213.3 L374.6,1215.6 L373.2,1218.7 L372.0,1222.0 L371.1,1224.9 L370.4,1228.0 L369.7,1231.0 L369.1,1234.1 L368.7,1237.2 L368.0,1240.2 L366.9,1243.1 L365.6,1245.9 L364.1,1248.7 L362.5,1251.3 L360.8,1253.9 L359.2,1256.6 L357.7,1259.3 L356.3,1262.1 L355.1,1264.9 L354.0,1268.2 L353.2,1271.6 L352.6,1273.9 M364.1,1248.7 L365.1,1250.3 L366.4,1252.6 L367.7,1255.0 L368.9,1257.1 L370.0,1259.2 L371.1,1261.3 L372.4,1263.7 L373.7,1266.0 L374.7,1267.7 M355.1,1264.9 L353.5,1266.0 L351.2,1267.6 L349.0,1269.1 L346.9,1270.4 L344.7,1271.6 L342.7,1273.0 L340.5,1274.6 L338.4,1276.4 L336.9,1277.6 M378.4,1214.6 L377.8,1217.2 L376.9,1221.0 L375.8,1224.7 L374.2,1227.8 L372.4,1230.8 L370.7,1233.8 L369.1,1236.9 L367.5,1240.0 L366.0,1243.2 L364.7,1246.4 L363.6,1249.7 L362.2,1252.9 L360.4,1255.9 L358.4,1258.8 L356.6,1261.7 L355.1,1264.9 L353.8,1268.1 L352.5,1271.3 L351.2,1275.0 L350.0,1278.7 L349.2,1281.3 M362.2,1252.9 L362.9,1254.9 L363.9,1257.8 L364.8,1260.7 L365.5,1263.3 L366.0,1266.0 L366.5,1268.7 L367.1,1271.6 L367.8,1274.6 L368.2,1276.7 M375.6,1214.1 L375.4,1217.5 L375.2,1222.4 L374.8,1227.2 L374.2,1231.5 L373.3,1235.8 L372.5,1240.1 L372.0,1244.5 L371.6,1248.8 L371.0,1253.1 L370.0,1257.4 L368.9,1261.6 L367.6,1265.8 L366.2,1269.9 L364.6,1274.1 L363.4,1278.2 L362.6,1282.5 L362.0,1286.9 L361.7,1291.2 L361.7,1296.1 L361.8,1301.0 L361.9,1304.4 M367.6,1265.8 L369.3,1267.7 L371.7,1270.4 L374.2,1273.0 L376.6,1275.2 L379.1,1277.3 L381.4,1279.5 L383.7,1282.3 L385.8,1285.2 L387.3,1287.3 M361.7,1291.2 L360.4,1292.5 L358.6,1294.2 L356.8,1296.1 L355.2,1297.8 L353.8,1299.6 L352.3,1301.3 L350.8,1303.1 L349.3,1304.8 L348.3,1306.0 M378.3,1215.0 L377.7,1218.1 L376.9,1222.4 L376.3,1226.8 L376.1,1230.8 L376.2,1234.7 L376.4,1238.7 L377.0,1242.7 L377.9,1246.6 L378.3,1250.5 L378.0,1254.4 L377.3,1258.4 L376.8,1262.3 L376.7,1266.3 L376.9,1270.3 L376.8,1274.3 L376.3,1278.2 L375.6,1282.1 L375.0,1286.1 L374.6,1290.5 L374.2,1294.9 L374.0,1298.0 M378.3,1250.5 L376.8,1252.5 L374.7,1255.3 L372.7,1258.2 L371.2,1261.0 L369.8,1263.9 L368.5,1266.8 L367.1,1270.0 L365.7,1273.2 L364.7,1275.5 M376.8,1262.3 L378.4,1263.7 L380.7,1265.6 L382.9,1267.5 L384.9,1269.4 L386.8,1271.3 L388.6,1273.2 L390.4,1275.6 L392.0,1278.2 L393.1,1279.9 M376.3,1214.0 L376.5,1217.3 L376.8,1221.9 L377.0,1226.6 L377.3,1230.8 L377.5,1235.0 L377.7,1239.1 L377.8,1243.3 L377.9,1247.5 L378.3,1251.7 L379.2,1255.8 L380.5,1259.8 L381.5,1263.8 L381.9,1268.0 L382.1,1272.2 L382.0,1276.4 L381.5,1280.6 L380.7,1284.7 L380.4,1288.9 L380.9,1293.5 L381.9,1298.0 L382.6,1301.2 M380.4,1288.9 L382.6,1290.3 L385.8,1292.3 L388.8,1294.6 L391.2,1297.1 L393.4,1299.9 L395.6,1302.2 L398.0,1303.9 L400.5,1305.2 L402.2,1306.0 M380.4,1288.9 L382.5,1290.2 L385.6,1292.1 L388.7,1293.8 L391.7,1295.1 L394.8,1296.2 L397.9,1297.0 L401.4,1297.5 L405.0,1297.8 L407.6,1298.0 M377.7,1239.1 L377.2,1241.6 L376.5,1245.2 L376.0,1248.8 L375.9,1252.0 L376.0,1255.3 L376.4,1258.5 L377.2,1262.1 L378.2,1265.6 L378.9,1268.0 M375.5,1215.2 L376.0,1218.2 L376.7,1222.3 L377.4,1226.5 L378.0,1230.2 L378.6,1234.0 L379.4,1237.7 L380.6,1241.3 L381.9,1244.8 L383.3,1248.4 L384.6,1251.9 L386.0,1255.5 L387.4,1259.0 L388.6,1262.6 L389.7,1266.3 L391.1,1269.8 L392.9,1273.1 L395.0,1276.3 L397.0,1279.6 L399.0,1283.2 L401.0,1286.9 L402.4,1289.5 M383.3,1248.4 L385.2,1248.4 L387.8,1248.5 L390.5,1248.7 L392.9,1249.2 L395.2,1249.9 L397.5,1250.7 L399.9,1251.7 L402.4,1252.8 L404.1,1253.6 M379.4,1237.7 L379.8,1239.8 L380.4,1242.9 L381.2,1245.9 L382.1,1248.5 L383.1,1251.1 L384.2,1253.6 L385.7,1256.3 L387.4,1259.0 L388.5,1260.8 M378.1,1213.1 L378.7,1216.1 L379.5,1220.3 L380.4,1224.5 L381.1,1228.3 L381.7,1232.1 L382.5,1235.9 L383.5,1239.6 L384.7,1243.3 L385.8,1247.0 L386.9,1250.7 L388.0,1254.4 L389.2,1258.0 L390.3,1261.7 L391.5,1265.4 L392.8,1269.0 L394.5,1272.5 L396.4,1275.9 L398.0,1279.4 L399.0,1283.5 L399.8,1287.8 L400.3,1290.7 M385.8,1247.0 L385.7,1248.3 L385.6,1250.2 L385.6,1252.1 L385.8,1253.9 L386.2,1255.6 L386.4,1257.3 L386.3,1259.2 L386.2,1261.1 L386.0,1262.4 M376.4,1214.1 L377.8,1216.3 L379.7,1219.5 L381.7,1222.7 L383.6,1225.5 L385.6,1228.2 L387.5,1231.0 L389.4,1233.9 L391.2,1236.7 L392.8,1239.7 L394.4,1242.7 L395.8,1245.8 L397.2,1248.8 L398.8,1251.8 L400.3,1254.9 L401.7,1257.9 L402.9,1261.1 L404.1,1264.3 L405.4,1267.4 L407.1,1270.7 L409.0,1274.0 L410.4,1276.2 M401.7,1257.9 L401.5,1259.1 L401.1,1260.7 L400.9,1262.3 L400.7,1263.7 L400.5,1265.2 L400.4,1266.7 L400.2,1268.3 L400.1,1270.0 L400.0,1271.1 M387.5,1231.0 L389.1,1231.8 L391.4,1232.9 L393.6,1234.1 L395.5,1235.3 L397.4,1236.5 L399.4,1237.7 L401.7,1238.6 L404.1,1239.3 L405.8,1239.8 M401.7,1257.9 L402.7,1258.8 L404.1,1260.1 L405.5,1261.4 L406.8,1262.5 L408.1,1263.6 L409.5,1264.6 L411.1,1265.7 L412.8,1266.6 L413.9,1267.2 M375.6,1214.0 L377.3,1215.7 L379.7,1218.2 L382.1,1220.8 L384.2,1223.1 L386.3,1225.4 L388.5,1227.6 L391.0,1229.5 L393.5,1231.4 L395.8,1233.5 L397.8,1235.9 L399.6,1238.5 L401.4,1241.0 L403.5,1243.4 L405.6,1245.6 L407.8,1247.8 L410.2,1249.8 L412.8,1251.7 L415.3,1253.5 L418.0,1255.7 L420.8,1257.8 L422.7,1259.3 M407.8,1247.8 L407.7,1249.4 L407.6,1251.6 L407.5,1253.8 L407.5,1255.9 L407.6,1257.9 L407.4,1259.9 L407.0,1262.1 L406.3,1264.2 L405.8,1265.7 M395.8,1233.5 L395.8,1234.5 L395.7,1236.0 L395.5,1237.6 L395.1,1238.9 L394.7,1240.2 L394.3,1241.5 L394.1,1243.0 L394.0,1244.5 L394.0,1245.6 M395.8,1233.5 L396.0,1235.3 L396.3,1237.9 L396.3,1240.6 L396.2,1242.9 L395.8,1245.3 L395.4,1247.6 L395.1,1250.2 L394.7,1252.8 L394.5,1254.6 M376.4,1213.3 L378.4,1214.7 L381.3,1216.7 L384.2,1218.7 L386.9,1220.5 L389.5,1222.3 L392.2,1224.1 L394.9,1225.9 L397.5,1227.6 L400.1,1229.5 L402.5,1231.5 L404.9,1233.7 L407.3,1235.8 L409.8,1237.8 L412.4,1239.6 L414.9,1241.6 L417.1,1243.9 L419.3,1246.3 L421.5,1248.6 L424.1,1250.9 L426.9,1253.1 L428.8,1254.7 M407.3,1235.8 L407.2,1237.1 L407.0,1238.9 L406.8,1240.7 L406.5,1242.4 L406.1,1244.0 L405.7,1245.6 L405.4,1247.4 L405.1,1249.2 L404.9,1250.4 M414.9,1241.6 L416.3,1241.9 L418.3,1242.2 L420.3,1242.6 L422.1,1243.0 L423.9,1243.3 L425.7,1243.8 L427.6,1244.6 L429.4,1245.5 L430.7,1246.2 M421.5,1248.6 L421.7,1250.0 L422.1,1252.0 L422.3,1254.1 L422.3,1256.0 L422.1,1257.8 L422.1,1259.7 L422.2,1261.7 L422.3,1263.8 L422.4,1265.3" fill="none" stroke="#9c8466" stroke-width="0.64" stroke-linecap="round"/><path d="M560.0,1212.2 L558.3,1214.0 L555.9,1216.6 L553.4,1219.1 L550.9,1221.2 L548.4,1223.1 L545.8,1224.8 L543.0,1226.3 L540.0,1227.5 L537.1,1228.9 L534.4,1230.4 L531.7,1232.1 L528.9,1233.6 L525.9,1234.8 L522.9,1235.8 L520.0,1237.0 L517.1,1238.4 L514.3,1239.8 L511.4,1241.2 L508.1,1242.4 L504.8,1243.6 L502.5,1244.4 M511.4,1241.2 L510.6,1242.5 L509.5,1244.5 L508.3,1246.5 L507.4,1248.3 L506.5,1250.1 L505.6,1252.0 L504.7,1254.0 L503.8,1256.1 L503.1,1257.6 M558.1,1212.7 L556.4,1215.0 L553.9,1218.3 L551.2,1221.4 L548.3,1223.7 L545.3,1225.9 L542.3,1228.0 L539.3,1230.2 L536.3,1232.4 L533.3,1234.7 L530.4,1237.0 L527.5,1239.3 L524.6,1241.7 L521.8,1244.1 L519.0,1246.6 L516.3,1249.1 L513.5,1251.5 L510.7,1254.0 L508.0,1256.5 L505.0,1259.4 L502.2,1262.4 L500.1,1264.4 M508.0,1256.5 L506.1,1256.5 L503.5,1256.5 L500.9,1256.3 L498.6,1255.8 L496.3,1255.1 L494.0,1254.4 L491.6,1253.4 L489.2,1252.3 L487.5,1251.5 M558.9,1213.8 L557.6,1216.3 L555.6,1219.8 L553.5,1223.3 L551.3,1226.3 L549.0,1229.1 L546.8,1232.0 L544.9,1235.2 L543.2,1238.4 L541.4,1241.6 L539.8,1244.9 L538.1,1248.2 L536.3,1251.4 L534.2,1254.3 L531.9,1257.2 L529.6,1260.0 L527.5,1263.0 L525.4,1266.0 L523.3,1269.1 L521.0,1272.4 L518.7,1275.7 L517.1,1278.1 M529.6,1260.0 L529.8,1261.3 L530.0,1263.1 L530.1,1264.9 L530.1,1266.6 L529.9,1268.2 L529.8,1269.9 L529.5,1271.7 L529.2,1273.5 L529.0,1274.7 M529.6,1260.0 L529.6,1262.0 L529.5,1264.8 L529.5,1267.6 L529.5,1270.1 L529.5,1272.6 L529.7,1275.1 L530.2,1277.8 L530.9,1280.5 L531.4,1282.4 M559.8,1213.7 L558.4,1216.5 L556.4,1220.6 L554.5,1224.6 L553.0,1228.3 L551.6,1232.1 L550.4,1235.9 L549.3,1239.8 L548.4,1243.8 L547.2,1247.6 L545.8,1251.3 L544.1,1255.0 L542.4,1258.7 L540.9,1262.4 L539.4,1266.2 L537.6,1269.8 L535.3,1273.0 L532.7,1276.1 L530.3,1279.3 L528.0,1283.2 L525.8,1287.1 L524.3,1289.8 M530.3,1279.3 L530.6,1281.1 L531.0,1283.7 L531.2,1286.2 L531.1,1288.5 L530.7,1290.8 L530.4,1293.1 L530.1,1295.6 L529.7,1298.1 L529.5,1299.9 M547.2,1247.6 L545.7,1248.0 L543.5,1248.7 L541.4,1249.4 L539.5,1250.2 L537.7,1251.0 L535.8,1251.9 L533.7,1252.7 L531.6,1253.5 L530.1,1254.1 M537.6,1269.8 L536.0,1270.6 L533.7,1271.7 L531.3,1272.7 L529.1,1273.4 L526.8,1273.9 L524.5,1274.4 L522.0,1274.9 L519.4,1275.4 L517.6,1275.8 M561.0,1214.0 L560.0,1217.1 L558.5,1221.5 L556.9,1225.8 L555.2,1229.6 L553.4,1233.3 L551.4,1236.9 L549.3,1240.5 L547.0,1243.9 L544.6,1247.3 L542.2,1250.7 L539.7,1254.0 L537.5,1257.5 L535.7,1261.2 L534.2,1265.1 L532.4,1268.9 L530.2,1272.3 L527.7,1275.7 L525.5,1279.2 L523.8,1283.4 L522.4,1287.8 L521.5,1290.9 M537.5,1257.5 L537.5,1259.4 L537.6,1262.1 L537.7,1264.8 L537.8,1267.2 L538.0,1269.6 L538.3,1272.0 L539.0,1274.6 L539.8,1277.2 L540.5,1279.0 M559.9,1214.0 L558.7,1216.9 L557.2,1221.1 L555.9,1225.4 L555.3,1229.3 L555.0,1233.3 L554.8,1237.3 L554.6,1241.3 L554.6,1245.3 L554.6,1249.3 L554.7,1253.3 L555.0,1257.3 L555.2,1261.2 L555.5,1265.2 L555.8,1269.2 L555.9,1273.2 L555.7,1277.2 L555.2,1281.2 L554.7,1285.1 L553.9,1289.5 L553.0,1293.8 L552.4,1296.9 M555.9,1273.2 L556.1,1274.6 L556.4,1276.5 L556.6,1278.5 L556.6,1280.3 L556.5,1282.1 L556.3,1283.9 L556.1,1285.8 L555.8,1287.8 L555.6,1289.2 M558.5,1212.3 L558.1,1214.9 L557.5,1218.6 L556.7,1222.2 L555.5,1225.4 L554.2,1228.5 L553.1,1231.7 L552.6,1235.0 L552.3,1238.3 L552.1,1241.7 L551.9,1245.1 L551.7,1248.4 L551.3,1251.8 L550.6,1255.0 L549.7,1258.3 L548.7,1261.5 L547.7,1264.7 L546.7,1267.9 L545.6,1271.1 L544.5,1274.7 L543.5,1278.3 L542.7,1280.8 M548.7,1261.5 L547.9,1262.9 L546.7,1264.9 L545.6,1266.9 L544.5,1268.6 L543.5,1270.4 L542.4,1272.2 L541.0,1274.0 L539.7,1275.9 L538.7,1277.1 M552.1,1241.7 L550.4,1242.6 L548.1,1243.8 L545.8,1245.2 L543.8,1246.5 L541.8,1247.9 L539.8,1249.3 L537.7,1250.8 L535.5,1252.3 L533.9,1253.4 M559.1,1214.1 L559.8,1217.6 L560.7,1222.7 L561.7,1227.7 L562.8,1232.3 L563.9,1236.8 L564.7,1241.3 L565.0,1246.0 L565.0,1250.6 L565.1,1255.3 L565.6,1259.9 L566.1,1264.5 L566.3,1269.1 L565.9,1273.7 L565.1,1278.3 L564.7,1282.9 L564.9,1287.7 L565.5,1292.5 L566.0,1296.8 L566.4,1300.6 L566.7,1303.8 L567.0,1306.0 M566.3,1269.1 L564.7,1271.2 L562.3,1274.1 L559.9,1276.9 L557.4,1279.2 L554.8,1281.4 L552.3,1283.7 L549.9,1286.6 L547.6,1289.6 L546.0,1291.7 M560.4,1214.5 L561.6,1217.6 L563.3,1222.2 L564.8,1226.8 L565.8,1231.0 L566.6,1235.3 L567.5,1239.5 L568.6,1243.7 L569.8,1247.9 L570.9,1252.1 L571.9,1256.4 L573.0,1260.6 L573.7,1264.9 L574.2,1269.2 L574.5,1273.5 L574.6,1277.9 L574.6,1282.2 L574.4,1286.6 L574.4,1290.9 L574.6,1295.8 L574.9,1300.6 L575.1,1304.0 M570.9,1252.1 L573.0,1253.8 L576.0,1256.1 L579.2,1258.2 L582.3,1259.7 L585.5,1260.9 L588.8,1262.2 L592.2,1263.9 L595.6,1265.6 L598.0,1266.8 M570.9,1252.1 L569.9,1253.5 L568.4,1255.4 L567.0,1257.3 L565.8,1259.1 L564.5,1260.9 L563.5,1262.8 L562.5,1265.0 L561.7,1267.3 L561.2,1268.9 M560.0,1214.4 L560.4,1217.4 L561.0,1221.6 L561.8,1225.7 L562.9,1229.4 L564.3,1233.0 L565.9,1236.5 L567.7,1239.8 L569.8,1243.0 L572.0,1246.2 L574.2,1249.4 L576.4,1252.5 L578.6,1255.6 L580.8,1258.7 L583.1,1261.8 L585.3,1264.9 L587.3,1268.2 L589.2,1271.5 L590.9,1274.9 L592.4,1278.9 L593.7,1283.0 L594.6,1285.8 M578.6,1255.6 L577.4,1257.7 L575.8,1260.7 L574.1,1263.7 L572.4,1266.3 L570.7,1268.8 L569.2,1271.5 L567.9,1274.7 L566.9,1278.0 L566.2,1280.3 M572.0,1246.2 L571.4,1247.3 L570.5,1248.9 L569.7,1250.6 L568.9,1252.0 L568.0,1253.4 L567.3,1254.9 L566.5,1256.5 L565.7,1258.2 L565.2,1259.4 M590.9,1274.9 L592.4,1275.7 L594.5,1276.8 L596.6,1278.0 L598.3,1279.2 L600.0,1280.5 L601.5,1282.0 L603.0,1283.9 L604.4,1285.8 L605.3,1287.2 M559.6,1214.8 L560.8,1217.6 L562.6,1221.6 L564.7,1225.5 L566.9,1228.7 L569.4,1231.8 L572.0,1234.7 L574.8,1237.6 L577.6,1240.3 L580.2,1243.3 L582.5,1246.5 L584.6,1249.9 L586.5,1253.3 L588.4,1256.8 L590.1,1260.3 L591.9,1263.8 L593.6,1267.4 L595.3,1270.9 L596.9,1274.5 L598.7,1278.5 L600.4,1282.6 L601.6,1285.4 M586.5,1253.3 L588.2,1254.8 L590.7,1257.0 L593.2,1259.1 L595.6,1260.9 L598.0,1262.6 L600.6,1264.1 L603.5,1265.5 L606.6,1266.6 L608.8,1267.5 M596.9,1274.5 L599.0,1275.7 L601.9,1277.5 L604.6,1279.4 L607.0,1281.3 L609.1,1283.4 L611.3,1285.5 L613.8,1287.8 L616.3,1290.0 L618.1,1291.6 M591.9,1263.8 L590.9,1265.9 L589.5,1268.7 L587.9,1271.5 L586.2,1273.8 L584.4,1276.0 L582.6,1278.3 L580.8,1280.9 L579.0,1283.5 L577.7,1285.4 M560.0,1213.6 L561.1,1215.9 L562.7,1219.1 L564.4,1222.3 L566.2,1225.0 L568.1,1227.6 L570.2,1230.1 L572.5,1232.4 L574.9,1234.7 L577.0,1237.1 L578.7,1239.8 L580.2,1242.7 L581.6,1245.7 L583.0,1248.6 L584.3,1251.6 L585.5,1254.6 L586.6,1257.7 L587.5,1260.8 L588.5,1263.9 L589.5,1267.3 L590.4,1270.8 L591.1,1273.2 M588.5,1263.9 L587.5,1265.6 L586.0,1268.0 L584.7,1270.5 L583.5,1272.7 L582.4,1275.0 L581.3,1277.3 L580.0,1279.8 L578.8,1282.4 L577.9,1284.1 M588.5,1263.9 L587.8,1265.2 L586.9,1267.2 L585.9,1269.1 L585.1,1270.9 L584.1,1272.6 L583.4,1274.4 L582.8,1276.5 L582.4,1278.6 L582.1,1280.1 M560.8,1212.8 L562.8,1215.3 L565.6,1218.9 L568.6,1222.2 L571.7,1224.8 L575.1,1227.1 L578.5,1229.3 L582.1,1231.4 L585.6,1233.4 L589.0,1235.6 L592.1,1238.3 L594.9,1241.2 L597.6,1244.3 L600.1,1247.5 L602.5,1250.8 L605.0,1254.0 L607.7,1257.1 L610.4,1260.1 L613.0,1263.2 L615.6,1266.9 L618.1,1270.7 L619.9,1273.4 M605.0,1254.0 L604.7,1255.7 L604.4,1258.1 L604.1,1260.6 L604.0,1262.8 L604.0,1265.0 L604.2,1267.2 L604.7,1269.6 L605.3,1271.9 L605.8,1273.6 M558.8,1212.4 L560.5,1214.4 L563.1,1217.2 L565.8,1219.8 L568.6,1221.9 L571.5,1223.7 L574.3,1225.7 L576.7,1228.0 L579.1,1230.5 L581.6,1232.8 L584.5,1234.6 L587.5,1236.2 L590.5,1238.0 L593.1,1240.1 L595.7,1242.4 L598.3,1244.6 L601.1,1246.6 L604.0,1248.4 L606.8,1250.3 L609.8,1252.7 L612.6,1255.2 L614.6,1257.0 M598.3,1244.6 L599.6,1245.0 L601.4,1245.4 L603.3,1245.8 L605.0,1245.9 L606.7,1246.0 L608.3,1246.3 L610.1,1246.9 L611.9,1247.6 L613.1,1248.1 M606.8,1250.3 L608.0,1250.5 L609.6,1250.8 L611.2,1251.0 L612.6,1251.2 L614.1,1251.4 L615.5,1251.5 L617.1,1251.7 L618.7,1251.8 L619.9,1251.9 M574.3,1225.7 L574.8,1227.5 L575.5,1230.2 L576.1,1233.0 L576.3,1235.4 L576.4,1238.0 L576.3,1240.5 L576.2,1243.2 L575.9,1246.0 L575.7,1248.0" fill="none" stroke="#46352a" stroke-width="2.3" stroke-linecap="round" stroke-linejoin="round"/><path d="M560.0,1212.2 L558.3,1214.0 L555.9,1216.6 L553.4,1219.1 L550.9,1221.2 L548.4,1223.1 L545.8,1224.8 L543.0,1226.3 L540.0,1227.5 L537.1,1228.9 L534.4,1230.4 L531.7,1232.1 L528.9,1233.6 L525.9,1234.8 L522.9,1235.8 L520.0,1237.0 L517.1,1238.4 L514.3,1239.8 L511.4,1241.2 L508.1,1242.4 L504.8,1243.6 L502.5,1244.4 M511.4,1241.2 L510.6,1242.5 L509.5,1244.5 L508.3,1246.5 L507.4,1248.3 L506.5,1250.1 L505.6,1252.0 L504.7,1254.0 L503.8,1256.1 L503.1,1257.6 M558.1,1212.7 L556.4,1215.0 L553.9,1218.3 L551.2,1221.4 L548.3,1223.7 L545.3,1225.9 L542.3,1228.0 L539.3,1230.2 L536.3,1232.4 L533.3,1234.7 L530.4,1237.0 L527.5,1239.3 L524.6,1241.7 L521.8,1244.1 L519.0,1246.6 L516.3,1249.1 L513.5,1251.5 L510.7,1254.0 L508.0,1256.5 L505.0,1259.4 L502.2,1262.4 L500.1,1264.4 M508.0,1256.5 L506.1,1256.5 L503.5,1256.5 L500.9,1256.3 L498.6,1255.8 L496.3,1255.1 L494.0,1254.4 L491.6,1253.4 L489.2,1252.3 L487.5,1251.5 M558.9,1213.8 L557.6,1216.3 L555.6,1219.8 L553.5,1223.3 L551.3,1226.3 L549.0,1229.1 L546.8,1232.0 L544.9,1235.2 L543.2,1238.4 L541.4,1241.6 L539.8,1244.9 L538.1,1248.2 L536.3,1251.4 L534.2,1254.3 L531.9,1257.2 L529.6,1260.0 L527.5,1263.0 L525.4,1266.0 L523.3,1269.1 L521.0,1272.4 L518.7,1275.7 L517.1,1278.1 M529.6,1260.0 L529.8,1261.3 L530.0,1263.1 L530.1,1264.9 L530.1,1266.6 L529.9,1268.2 L529.8,1269.9 L529.5,1271.7 L529.2,1273.5 L529.0,1274.7 M529.6,1260.0 L529.6,1262.0 L529.5,1264.8 L529.5,1267.6 L529.5,1270.1 L529.5,1272.6 L529.7,1275.1 L530.2,1277.8 L530.9,1280.5 L531.4,1282.4 M559.8,1213.7 L558.4,1216.5 L556.4,1220.6 L554.5,1224.6 L553.0,1228.3 L551.6,1232.1 L550.4,1235.9 L549.3,1239.8 L548.4,1243.8 L547.2,1247.6 L545.8,1251.3 L544.1,1255.0 L542.4,1258.7 L540.9,1262.4 L539.4,1266.2 L537.6,1269.8 L535.3,1273.0 L532.7,1276.1 L530.3,1279.3 L528.0,1283.2 L525.8,1287.1 L524.3,1289.8 M530.3,1279.3 L530.6,1281.1 L531.0,1283.7 L531.2,1286.2 L531.1,1288.5 L530.7,1290.8 L530.4,1293.1 L530.1,1295.6 L529.7,1298.1 L529.5,1299.9 M547.2,1247.6 L545.7,1248.0 L543.5,1248.7 L541.4,1249.4 L539.5,1250.2 L537.7,1251.0 L535.8,1251.9 L533.7,1252.7 L531.6,1253.5 L530.1,1254.1 M537.6,1269.8 L536.0,1270.6 L533.7,1271.7 L531.3,1272.7 L529.1,1273.4 L526.8,1273.9 L524.5,1274.4 L522.0,1274.9 L519.4,1275.4 L517.6,1275.8 M561.0,1214.0 L560.0,1217.1 L558.5,1221.5 L556.9,1225.8 L555.2,1229.6 L553.4,1233.3 L551.4,1236.9 L549.3,1240.5 L547.0,1243.9 L544.6,1247.3 L542.2,1250.7 L539.7,1254.0 L537.5,1257.5 L535.7,1261.2 L534.2,1265.1 L532.4,1268.9 L530.2,1272.3 L527.7,1275.7 L525.5,1279.2 L523.8,1283.4 L522.4,1287.8 L521.5,1290.9 M537.5,1257.5 L537.5,1259.4 L537.6,1262.1 L537.7,1264.8 L537.8,1267.2 L538.0,1269.6 L538.3,1272.0 L539.0,1274.6 L539.8,1277.2 L540.5,1279.0 M559.9,1214.0 L558.7,1216.9 L557.2,1221.1 L555.9,1225.4 L555.3,1229.3 L555.0,1233.3 L554.8,1237.3 L554.6,1241.3 L554.6,1245.3 L554.6,1249.3 L554.7,1253.3 L555.0,1257.3 L555.2,1261.2 L555.5,1265.2 L555.8,1269.2 L555.9,1273.2 L555.7,1277.2 L555.2,1281.2 L554.7,1285.1 L553.9,1289.5 L553.0,1293.8 L552.4,1296.9 M555.9,1273.2 L556.1,1274.6 L556.4,1276.5 L556.6,1278.5 L556.6,1280.3 L556.5,1282.1 L556.3,1283.9 L556.1,1285.8 L555.8,1287.8 L555.6,1289.2 M558.5,1212.3 L558.1,1214.9 L557.5,1218.6 L556.7,1222.2 L555.5,1225.4 L554.2,1228.5 L553.1,1231.7 L552.6,1235.0 L552.3,1238.3 L552.1,1241.7 L551.9,1245.1 L551.7,1248.4 L551.3,1251.8 L550.6,1255.0 L549.7,1258.3 L548.7,1261.5 L547.7,1264.7 L546.7,1267.9 L545.6,1271.1 L544.5,1274.7 L543.5,1278.3 L542.7,1280.8 M548.7,1261.5 L547.9,1262.9 L546.7,1264.9 L545.6,1266.9 L544.5,1268.6 L543.5,1270.4 L542.4,1272.2 L541.0,1274.0 L539.7,1275.9 L538.7,1277.1 M552.1,1241.7 L550.4,1242.6 L548.1,1243.8 L545.8,1245.2 L543.8,1246.5 L541.8,1247.9 L539.8,1249.3 L537.7,1250.8 L535.5,1252.3 L533.9,1253.4 M559.1,1214.1 L559.8,1217.6 L560.7,1222.7 L561.7,1227.7 L562.8,1232.3 L563.9,1236.8 L564.7,1241.3 L565.0,1246.0 L565.0,1250.6 L565.1,1255.3 L565.6,1259.9 L566.1,1264.5 L566.3,1269.1 L565.9,1273.7 L565.1,1278.3 L564.7,1282.9 L564.9,1287.7 L565.5,1292.5 L566.0,1296.8 L566.4,1300.6 L566.7,1303.8 L567.0,1306.0 M566.3,1269.1 L564.7,1271.2 L562.3,1274.1 L559.9,1276.9 L557.4,1279.2 L554.8,1281.4 L552.3,1283.7 L549.9,1286.6 L547.6,1289.6 L546.0,1291.7 M560.4,1214.5 L561.6,1217.6 L563.3,1222.2 L564.8,1226.8 L565.8,1231.0 L566.6,1235.3 L567.5,1239.5 L568.6,1243.7 L569.8,1247.9 L570.9,1252.1 L571.9,1256.4 L573.0,1260.6 L573.7,1264.9 L574.2,1269.2 L574.5,1273.5 L574.6,1277.9 L574.6,1282.2 L574.4,1286.6 L574.4,1290.9 L574.6,1295.8 L574.9,1300.6 L575.1,1304.0 M570.9,1252.1 L573.0,1253.8 L576.0,1256.1 L579.2,1258.2 L582.3,1259.7 L585.5,1260.9 L588.8,1262.2 L592.2,1263.9 L595.6,1265.6 L598.0,1266.8 M570.9,1252.1 L569.9,1253.5 L568.4,1255.4 L567.0,1257.3 L565.8,1259.1 L564.5,1260.9 L563.5,1262.8 L562.5,1265.0 L561.7,1267.3 L561.2,1268.9 M560.0,1214.4 L560.4,1217.4 L561.0,1221.6 L561.8,1225.7 L562.9,1229.4 L564.3,1233.0 L565.9,1236.5 L567.7,1239.8 L569.8,1243.0 L572.0,1246.2 L574.2,1249.4 L576.4,1252.5 L578.6,1255.6 L580.8,1258.7 L583.1,1261.8 L585.3,1264.9 L587.3,1268.2 L589.2,1271.5 L590.9,1274.9 L592.4,1278.9 L593.7,1283.0 L594.6,1285.8 M578.6,1255.6 L577.4,1257.7 L575.8,1260.7 L574.1,1263.7 L572.4,1266.3 L570.7,1268.8 L569.2,1271.5 L567.9,1274.7 L566.9,1278.0 L566.2,1280.3 M572.0,1246.2 L571.4,1247.3 L570.5,1248.9 L569.7,1250.6 L568.9,1252.0 L568.0,1253.4 L567.3,1254.9 L566.5,1256.5 L565.7,1258.2 L565.2,1259.4 M590.9,1274.9 L592.4,1275.7 L594.5,1276.8 L596.6,1278.0 L598.3,1279.2 L600.0,1280.5 L601.5,1282.0 L603.0,1283.9 L604.4,1285.8 L605.3,1287.2 M559.6,1214.8 L560.8,1217.6 L562.6,1221.6 L564.7,1225.5 L566.9,1228.7 L569.4,1231.8 L572.0,1234.7 L574.8,1237.6 L577.6,1240.3 L580.2,1243.3 L582.5,1246.5 L584.6,1249.9 L586.5,1253.3 L588.4,1256.8 L590.1,1260.3 L591.9,1263.8 L593.6,1267.4 L595.3,1270.9 L596.9,1274.5 L598.7,1278.5 L600.4,1282.6 L601.6,1285.4 M586.5,1253.3 L588.2,1254.8 L590.7,1257.0 L593.2,1259.1 L595.6,1260.9 L598.0,1262.6 L600.6,1264.1 L603.5,1265.5 L606.6,1266.6 L608.8,1267.5 M596.9,1274.5 L599.0,1275.7 L601.9,1277.5 L604.6,1279.4 L607.0,1281.3 L609.1,1283.4 L611.3,1285.5 L613.8,1287.8 L616.3,1290.0 L618.1,1291.6 M591.9,1263.8 L590.9,1265.9 L589.5,1268.7 L587.9,1271.5 L586.2,1273.8 L584.4,1276.0 L582.6,1278.3 L580.8,1280.9 L579.0,1283.5 L577.7,1285.4 M560.0,1213.6 L561.1,1215.9 L562.7,1219.1 L564.4,1222.3 L566.2,1225.0 L568.1,1227.6 L570.2,1230.1 L572.5,1232.4 L574.9,1234.7 L577.0,1237.1 L578.7,1239.8 L580.2,1242.7 L581.6,1245.7 L583.0,1248.6 L584.3,1251.6 L585.5,1254.6 L586.6,1257.7 L587.5,1260.8 L588.5,1263.9 L589.5,1267.3 L590.4,1270.8 L591.1,1273.2 M588.5,1263.9 L587.5,1265.6 L586.0,1268.0 L584.7,1270.5 L583.5,1272.7 L582.4,1275.0 L581.3,1277.3 L580.0,1279.8 L578.8,1282.4 L577.9,1284.1 M588.5,1263.9 L587.8,1265.2 L586.9,1267.2 L585.9,1269.1 L585.1,1270.9 L584.1,1272.6 L583.4,1274.4 L582.8,1276.5 L582.4,1278.6 L582.1,1280.1 M560.8,1212.8 L562.8,1215.3 L565.6,1218.9 L568.6,1222.2 L571.7,1224.8 L575.1,1227.1 L578.5,1229.3 L582.1,1231.4 L585.6,1233.4 L589.0,1235.6 L592.1,1238.3 L594.9,1241.2 L597.6,1244.3 L600.1,1247.5 L602.5,1250.8 L605.0,1254.0 L607.7,1257.1 L610.4,1260.1 L613.0,1263.2 L615.6,1266.9 L618.1,1270.7 L619.9,1273.4 M605.0,1254.0 L604.7,1255.7 L604.4,1258.1 L604.1,1260.6 L604.0,1262.8 L604.0,1265.0 L604.2,1267.2 L604.7,1269.6 L605.3,1271.9 L605.8,1273.6 M558.8,1212.4 L560.5,1214.4 L563.1,1217.2 L565.8,1219.8 L568.6,1221.9 L571.5,1223.7 L574.3,1225.7 L576.7,1228.0 L579.1,1230.5 L581.6,1232.8 L584.5,1234.6 L587.5,1236.2 L590.5,1238.0 L593.1,1240.1 L595.7,1242.4 L598.3,1244.6 L601.1,1246.6 L604.0,1248.4 L606.8,1250.3 L609.8,1252.7 L612.6,1255.2 L614.6,1257.0 M598.3,1244.6 L599.6,1245.0 L601.4,1245.4 L603.3,1245.8 L605.0,1245.9 L606.7,1246.0 L608.3,1246.3 L610.1,1246.9 L611.9,1247.6 L613.1,1248.1 M606.8,1250.3 L608.0,1250.5 L609.6,1250.8 L611.2,1251.0 L612.6,1251.2 L614.1,1251.4 L615.5,1251.5 L617.1,1251.7 L618.7,1251.8 L619.9,1251.9 M574.3,1225.7 L574.8,1227.5 L575.5,1230.2 L576.1,1233.0 L576.3,1235.4 L576.4,1238.0 L576.3,1240.5 L576.2,1243.2 L575.9,1246.0 L575.7,1248.0" fill="none" stroke="#9c8466" stroke-width="0.64" stroke-linecap="round"/><path d="M747.3,1211.4 L745.3,1213.5 L742.5,1216.5 L739.6,1219.5 L737.0,1222.2 L734.3,1224.8 L731.4,1227.2 L728.4,1229.3 L725.1,1231.1 L721.9,1233.1 L718.8,1235.1 L715.7,1237.2 L712.7,1239.3 L709.6,1241.5 L706.7,1243.8 L703.8,1246.2 L701.1,1248.8 L698.5,1251.4 L695.7,1253.9 L692.3,1256.1 L688.6,1258.1 L686.0,1259.5 M721.9,1233.1 L719.7,1232.9 L716.5,1232.6 L713.3,1232.4 L710.4,1232.3 L707.5,1232.2 L704.7,1232.1 L701.5,1231.9 L698.3,1231.6 L696.1,1231.4 M703.8,1246.2 L701.8,1245.3 L698.9,1244.2 L696.2,1242.8 L693.9,1241.1 L691.8,1239.3 L689.5,1237.6 L686.8,1236.2 L684.0,1234.8 L682.0,1233.9 M745.5,1211.8 L743.4,1214.1 L740.3,1217.5 L737.1,1220.7 L734.1,1223.4 L730.9,1226.0 L727.7,1228.5 L724.5,1231.1 L721.3,1233.6 L718.0,1236.0 L714.6,1238.1 L711.0,1240.1 L707.4,1242.0 L703.7,1243.8 L700.0,1245.6 L696.5,1247.7 L693.3,1250.1 L690.2,1252.8 L687.2,1255.5 L683.7,1258.5 L680.3,1261.4 L677.9,1263.5 M727.7,1228.5 L727.1,1230.0 L726.3,1232.2 L725.3,1234.3 L724.1,1236.0 L722.8,1237.7 L721.6,1239.4 L720.5,1241.4 L719.4,1243.4 L718.7,1244.9 M696.5,1247.7 L694.7,1247.9 L692.1,1248.2 L689.6,1248.6 L687.4,1249.4 L685.2,1250.2 L682.9,1250.9 L680.4,1251.2 L677.8,1251.2 L675.9,1251.3 M718.0,1236.0 L715.4,1236.1 L711.8,1236.2 L708.1,1236.1 L704.9,1235.5 L701.7,1234.7 L698.5,1234.0 L694.8,1233.4 L691.2,1232.9 L688.7,1232.6 M744.8,1211.0 L744.0,1213.7 L742.9,1217.5 L741.7,1221.2 L740.7,1224.7 L739.6,1228.1 L738.2,1231.3 L736.3,1234.3 L734.1,1237.2 L731.9,1240.0 L729.6,1242.7 L727.2,1245.4 L724.8,1248.0 L722.2,1250.4 L719.6,1252.8 L716.9,1255.2 L714.1,1257.3 L711.2,1259.5 L708.5,1261.8 L706.0,1264.9 L703.8,1268.1 L702.2,1270.4 M708.5,1261.8 L707.3,1262.4 L705.5,1263.3 L703.7,1264.0 L702.0,1264.5 L700.3,1264.9 L698.6,1265.3 L696.7,1265.9 L694.8,1266.5 L693.5,1266.9 M745.1,1210.8 L744.4,1213.6 L743.3,1217.7 L742.2,1221.7 L741.2,1225.4 L740.2,1229.0 L739.0,1232.5 L737.2,1235.8 L735.3,1239.0 L733.4,1242.3 L732.0,1245.8 L730.7,1249.4 L729.2,1252.8 L727.2,1256.0 L725.0,1259.1 L722.8,1262.1 L720.6,1265.1 L718.3,1268.1 L716.2,1271.2 L714.2,1274.9 L712.4,1278.7 L711.2,1281.4 M716.2,1271.2 L715.1,1272.1 L713.5,1273.3 L711.8,1274.4 L710.2,1275.1 L708.5,1275.7 L706.8,1276.4 L705.0,1277.2 L703.2,1278.0 L701.9,1278.6 M729.2,1252.8 L729.3,1254.1 L729.4,1256.0 L729.5,1257.9 L729.4,1259.6 L729.2,1261.3 L729.1,1263.1 L729.0,1265.0 L729.0,1266.9 L729.0,1268.2 M729.2,1252.8 L729.6,1254.7 L730.3,1257.3 L730.7,1260.0 L730.9,1262.4 L730.9,1264.9 L730.9,1267.4 L730.8,1270.1 L730.7,1272.8 L730.6,1274.7 M745.2,1211.8 L744.8,1214.7 L744.1,1218.8 L743.2,1222.9 L741.9,1226.4 L740.3,1229.8 L738.8,1233.2 L737.6,1236.8 L736.4,1240.3 L735.3,1243.9 L734.1,1247.5 L733.0,1251.0 L731.9,1254.6 L731.0,1258.2 L730.2,1261.9 L729.2,1265.5 L728.0,1269.1 L726.7,1272.6 L725.5,1276.1 L724.0,1280.0 L722.6,1283.9 L721.6,1286.6 M729.2,1265.5 L728.5,1266.6 L727.5,1268.1 L726.5,1269.6 L725.4,1270.8 L724.3,1272.0 L723.2,1273.2 L722.2,1274.7 L721.1,1276.2 L720.4,1277.2 M746.3,1210.9 L745.1,1214.1 L743.3,1218.7 L741.8,1223.4 L740.8,1227.7 L740.1,1232.1 L739.0,1236.4 L737.5,1240.6 L735.6,1244.6 L733.7,1248.6 L731.7,1252.6 L729.7,1256.5 L727.9,1260.6 L726.2,1264.7 L724.7,1268.9 L723.5,1273.2 L722.7,1277.5 L722.2,1281.9 L721.6,1286.3 L720.8,1291.2 L720.1,1296.1 L719.5,1299.5 M733.7,1248.6 L732.4,1249.5 L730.6,1250.8 L728.8,1252.0 L727.1,1253.0 L725.3,1253.9 L723.5,1254.7 L721.4,1255.3 L719.2,1255.8 L717.7,1256.1 M727.9,1260.6 L728.8,1263.2 L730.0,1267.0 L731.0,1270.8 L731.6,1274.3 L731.9,1277.9 L732.2,1281.5 L732.5,1285.4 L732.9,1289.4 L733.1,1292.2 M746.1,1212.8 L745.8,1216.3 L745.6,1221.2 L745.5,1226.1 L745.9,1230.4 L746.4,1234.8 L746.9,1239.2 L747.0,1243.6 L746.9,1248.0 L746.7,1252.4 L746.4,1256.8 L745.8,1261.2 L745.2,1265.6 L744.5,1269.9 L743.8,1274.3 L742.8,1278.6 L741.3,1282.8 L739.7,1286.9 L738.3,1291.1 L737.3,1295.8 L736.5,1300.7 L736.0,1304.1 M742.8,1278.6 L741.6,1280.1 L740.0,1282.2 L738.2,1284.2 L736.4,1285.8 L734.5,1287.3 L732.6,1288.8 L730.5,1290.5 L728.5,1292.2 L727.1,1293.4 M746.7,1212.1 L747.4,1215.6 L748.4,1220.7 L749.7,1225.7 L751.1,1230.0 L752.8,1234.3 L754.2,1238.7 L755.1,1243.3 L755.8,1247.8 L756.5,1252.4 L757.4,1256.9 L758.3,1261.5 L759.5,1265.9 L760.9,1270.3 L762.4,1274.7 L764.0,1279.0 L765.8,1283.3 L767.6,1287.6 L769.1,1291.9 L770.4,1296.9 L771.4,1301.9 L772.0,1305.5 M764.0,1279.0 L763.1,1280.9 L761.8,1283.5 L760.5,1286.2 L759.5,1288.6 L758.6,1291.1 L757.5,1293.5 L755.9,1295.9 L754.1,1298.3 L752.9,1299.9 M747.1,1212.2 L747.6,1215.8 L748.3,1220.9 L749.2,1226.0 L750.4,1230.5 L751.8,1235.0 L753.2,1239.4 L754.6,1243.9 L756.0,1248.3 L757.4,1252.8 L758.5,1257.3 L759.5,1261.8 L760.8,1266.3 L762.5,1270.7 L764.5,1274.9 L766.0,1279.3 L766.9,1283.9 L767.3,1288.6 L768.0,1293.1 L769.3,1298.0 L770.9,1302.7 L772.1,1306.0 M760.8,1266.3 L760.3,1268.1 L759.7,1270.7 L759.0,1273.3 L758.4,1275.6 L757.8,1277.9 L757.3,1280.2 L756.8,1282.8 L756.3,1285.4 L755.9,1287.2 M744.5,1210.9 L745.7,1213.5 L747.4,1217.1 L749.0,1220.8 L750.2,1224.2 L751.3,1227.7 L752.3,1231.2 L753.1,1234.8 L753.8,1238.3 L754.8,1241.8 L756.3,1245.1 L758.2,1248.2 L760.0,1251.3 L761.9,1254.4 L763.8,1257.5 L765.6,1260.7 L767.2,1263.9 L768.8,1267.2 L770.4,1270.4 L772.7,1273.8 L775.0,1277.0 L776.7,1279.3 M765.6,1260.7 L767.2,1261.2 L769.5,1261.9 L771.8,1262.4 L773.9,1262.7 L776.1,1262.8 L778.2,1262.8 L780.6,1262.6 L782.9,1262.2 L784.6,1261.9 M765.6,1260.7 L765.2,1262.2 L764.6,1264.3 L764.0,1266.4 L763.5,1268.3 L762.9,1270.2 L762.4,1272.1 L762.2,1274.3 L762.0,1276.5 L761.9,1278.0 M747.4,1210.8 L748.3,1213.9 L749.7,1218.3 L751.2,1222.6 L752.8,1226.4 L754.5,1230.1 L756.2,1233.8 L757.9,1237.6 L759.5,1241.4 L761.1,1245.2 L762.5,1249.1 L764.0,1252.9 L765.5,1256.8 L767.1,1260.6 L768.8,1264.3 L770.6,1268.0 L772.7,1271.6 L774.9,1275.0 L777.1,1278.5 L779.5,1282.4 L782.0,1286.3 L783.6,1289.0 M777.1,1278.5 L779.1,1279.8 L782.0,1281.6 L785.0,1283.4 L787.7,1284.9 L790.4,1286.4 L793.1,1287.8 L796.2,1289.2 L799.4,1290.5 L801.6,1291.4 M765.5,1256.8 L767.3,1258.2 L770.0,1260.3 L772.4,1262.6 L774.5,1264.8 L776.3,1267.2 L778.2,1269.6 L780.3,1272.2 L782.3,1274.9 L783.8,1276.7 M745.2,1210.4 L746.0,1213.7 L747.1,1218.3 L748.6,1222.8 L750.3,1226.6 L752.3,1230.4 L754.4,1234.1 L756.4,1237.9 L758.4,1241.7 L760.5,1245.4 L762.8,1249.0 L765.1,1252.5 L767.6,1256.0 L770.1,1259.5 L772.6,1262.9 L775.3,1266.2 L778.0,1269.5 L780.9,1272.7 L783.8,1275.7 L787.3,1278.9 L790.9,1282.0 L793.4,1284.2 M760.5,1245.4 L760.7,1247.1 L761.1,1249.5 L761.6,1252.0 L762.1,1254.1 L762.8,1256.2 L763.5,1258.3 L764.2,1260.7 L765.0,1263.0 L765.5,1264.7 M754.4,1234.1 L755.1,1236.5 L756.1,1239.8 L757.4,1243.0 L758.9,1245.7 L760.7,1248.2 L762.4,1250.8 L764.2,1253.8 L766.1,1256.7 L767.4,1258.7 M760.5,1245.4 L762.8,1245.5 L766.1,1245.7 L769.4,1246.0 L772.4,1246.3 L775.3,1246.7 L778.3,1246.9 L781.5,1246.8 L784.8,1246.4 L787.1,1246.1 M745.1,1212.7 L746.2,1215.3 L747.8,1219.1 L749.6,1222.8 L751.5,1225.9 L753.7,1228.9 L756.0,1231.8 L758.4,1234.6 L761.0,1237.2 L763.6,1239.8 L766.1,1242.5 L768.7,1245.2 L771.3,1247.8 L774.2,1250.1 L777.2,1252.3 L780.1,1254.6 L782.7,1257.1 L785.3,1259.8 L787.8,1262.5 L790.5,1265.6 L793.2,1268.7 L795.0,1270.9 M756.0,1231.8 L756.8,1233.9 L758.1,1236.8 L759.5,1239.6 L761.2,1242.0 L763.1,1244.2 L764.9,1246.4 L767.0,1248.8 L769.0,1251.2 L770.5,1253.0 M747.2,1212.6 L749.0,1214.5 L751.6,1217.4 L754.1,1220.2 L756.3,1222.9 L758.4,1225.6 L760.6,1228.2 L763.0,1230.6 L765.5,1233.0 L768.1,1235.2 L770.8,1237.4 L773.5,1239.5 L776.3,1241.4 L779.3,1243.1 L782.3,1244.7 L785.4,1246.3 L788.4,1248.0 L791.3,1249.7 L794.2,1251.7 L797.0,1254.2 L799.8,1256.8 L801.6,1258.7 M785.4,1246.3 L786.1,1247.7 L787.0,1249.5 L787.9,1251.5 L788.5,1253.3 L789.0,1255.1 L789.3,1257.0 L789.6,1259.0 L789.7,1261.1 L789.8,1262.6" fill="none" stroke="#46352a" stroke-width="2.3" stroke-linecap="round" stroke-linejoin="round"/><path d="M747.3,1211.4 L745.3,1213.5 L742.5,1216.5 L739.6,1219.5 L737.0,1222.2 L734.3,1224.8 L731.4,1227.2 L728.4,1229.3 L725.1,1231.1 L721.9,1233.1 L718.8,1235.1 L715.7,1237.2 L712.7,1239.3 L709.6,1241.5 L706.7,1243.8 L703.8,1246.2 L701.1,1248.8 L698.5,1251.4 L695.7,1253.9 L692.3,1256.1 L688.6,1258.1 L686.0,1259.5 M721.9,1233.1 L719.7,1232.9 L716.5,1232.6 L713.3,1232.4 L710.4,1232.3 L707.5,1232.2 L704.7,1232.1 L701.5,1231.9 L698.3,1231.6 L696.1,1231.4 M703.8,1246.2 L701.8,1245.3 L698.9,1244.2 L696.2,1242.8 L693.9,1241.1 L691.8,1239.3 L689.5,1237.6 L686.8,1236.2 L684.0,1234.8 L682.0,1233.9 M745.5,1211.8 L743.4,1214.1 L740.3,1217.5 L737.1,1220.7 L734.1,1223.4 L730.9,1226.0 L727.7,1228.5 L724.5,1231.1 L721.3,1233.6 L718.0,1236.0 L714.6,1238.1 L711.0,1240.1 L707.4,1242.0 L703.7,1243.8 L700.0,1245.6 L696.5,1247.7 L693.3,1250.1 L690.2,1252.8 L687.2,1255.5 L683.7,1258.5 L680.3,1261.4 L677.9,1263.5 M727.7,1228.5 L727.1,1230.0 L726.3,1232.2 L725.3,1234.3 L724.1,1236.0 L722.8,1237.7 L721.6,1239.4 L720.5,1241.4 L719.4,1243.4 L718.7,1244.9 M696.5,1247.7 L694.7,1247.9 L692.1,1248.2 L689.6,1248.6 L687.4,1249.4 L685.2,1250.2 L682.9,1250.9 L680.4,1251.2 L677.8,1251.2 L675.9,1251.3 M718.0,1236.0 L715.4,1236.1 L711.8,1236.2 L708.1,1236.1 L704.9,1235.5 L701.7,1234.7 L698.5,1234.0 L694.8,1233.4 L691.2,1232.9 L688.7,1232.6 M744.8,1211.0 L744.0,1213.7 L742.9,1217.5 L741.7,1221.2 L740.7,1224.7 L739.6,1228.1 L738.2,1231.3 L736.3,1234.3 L734.1,1237.2 L731.9,1240.0 L729.6,1242.7 L727.2,1245.4 L724.8,1248.0 L722.2,1250.4 L719.6,1252.8 L716.9,1255.2 L714.1,1257.3 L711.2,1259.5 L708.5,1261.8 L706.0,1264.9 L703.8,1268.1 L702.2,1270.4 M708.5,1261.8 L707.3,1262.4 L705.5,1263.3 L703.7,1264.0 L702.0,1264.5 L700.3,1264.9 L698.6,1265.3 L696.7,1265.9 L694.8,1266.5 L693.5,1266.9 M745.1,1210.8 L744.4,1213.6 L743.3,1217.7 L742.2,1221.7 L741.2,1225.4 L740.2,1229.0 L739.0,1232.5 L737.2,1235.8 L735.3,1239.0 L733.4,1242.3 L732.0,1245.8 L730.7,1249.4 L729.2,1252.8 L727.2,1256.0 L725.0,1259.1 L722.8,1262.1 L720.6,1265.1 L718.3,1268.1 L716.2,1271.2 L714.2,1274.9 L712.4,1278.7 L711.2,1281.4 M716.2,1271.2 L715.1,1272.1 L713.5,1273.3 L711.8,1274.4 L710.2,1275.1 L708.5,1275.7 L706.8,1276.4 L705.0,1277.2 L703.2,1278.0 L701.9,1278.6 M729.2,1252.8 L729.3,1254.1 L729.4,1256.0 L729.5,1257.9 L729.4,1259.6 L729.2,1261.3 L729.1,1263.1 L729.0,1265.0 L729.0,1266.9 L729.0,1268.2 M729.2,1252.8 L729.6,1254.7 L730.3,1257.3 L730.7,1260.0 L730.9,1262.4 L730.9,1264.9 L730.9,1267.4 L730.8,1270.1 L730.7,1272.8 L730.6,1274.7 M745.2,1211.8 L744.8,1214.7 L744.1,1218.8 L743.2,1222.9 L741.9,1226.4 L740.3,1229.8 L738.8,1233.2 L737.6,1236.8 L736.4,1240.3 L735.3,1243.9 L734.1,1247.5 L733.0,1251.0 L731.9,1254.6 L731.0,1258.2 L730.2,1261.9 L729.2,1265.5 L728.0,1269.1 L726.7,1272.6 L725.5,1276.1 L724.0,1280.0 L722.6,1283.9 L721.6,1286.6 M729.2,1265.5 L728.5,1266.6 L727.5,1268.1 L726.5,1269.6 L725.4,1270.8 L724.3,1272.0 L723.2,1273.2 L722.2,1274.7 L721.1,1276.2 L720.4,1277.2 M746.3,1210.9 L745.1,1214.1 L743.3,1218.7 L741.8,1223.4 L740.8,1227.7 L740.1,1232.1 L739.0,1236.4 L737.5,1240.6 L735.6,1244.6 L733.7,1248.6 L731.7,1252.6 L729.7,1256.5 L727.9,1260.6 L726.2,1264.7 L724.7,1268.9 L723.5,1273.2 L722.7,1277.5 L722.2,1281.9 L721.6,1286.3 L720.8,1291.2 L720.1,1296.1 L719.5,1299.5 M733.7,1248.6 L732.4,1249.5 L730.6,1250.8 L728.8,1252.0 L727.1,1253.0 L725.3,1253.9 L723.5,1254.7 L721.4,1255.3 L719.2,1255.8 L717.7,1256.1 M727.9,1260.6 L728.8,1263.2 L730.0,1267.0 L731.0,1270.8 L731.6,1274.3 L731.9,1277.9 L732.2,1281.5 L732.5,1285.4 L732.9,1289.4 L733.1,1292.2 M746.1,1212.8 L745.8,1216.3 L745.6,1221.2 L745.5,1226.1 L745.9,1230.4 L746.4,1234.8 L746.9,1239.2 L747.0,1243.6 L746.9,1248.0 L746.7,1252.4 L746.4,1256.8 L745.8,1261.2 L745.2,1265.6 L744.5,1269.9 L743.8,1274.3 L742.8,1278.6 L741.3,1282.8 L739.7,1286.9 L738.3,1291.1 L737.3,1295.8 L736.5,1300.7 L736.0,1304.1 M742.8,1278.6 L741.6,1280.1 L740.0,1282.2 L738.2,1284.2 L736.4,1285.8 L734.5,1287.3 L732.6,1288.8 L730.5,1290.5 L728.5,1292.2 L727.1,1293.4 M746.7,1212.1 L747.4,1215.6 L748.4,1220.7 L749.7,1225.7 L751.1,1230.0 L752.8,1234.3 L754.2,1238.7 L755.1,1243.3 L755.8,1247.8 L756.5,1252.4 L757.4,1256.9 L758.3,1261.5 L759.5,1265.9 L760.9,1270.3 L762.4,1274.7 L764.0,1279.0 L765.8,1283.3 L767.6,1287.6 L769.1,1291.9 L770.4,1296.9 L771.4,1301.9 L772.0,1305.5 M764.0,1279.0 L763.1,1280.9 L761.8,1283.5 L760.5,1286.2 L759.5,1288.6 L758.6,1291.1 L757.5,1293.5 L755.9,1295.9 L754.1,1298.3 L752.9,1299.9 M747.1,1212.2 L747.6,1215.8 L748.3,1220.9 L749.2,1226.0 L750.4,1230.5 L751.8,1235.0 L753.2,1239.4 L754.6,1243.9 L756.0,1248.3 L757.4,1252.8 L758.5,1257.3 L759.5,1261.8 L760.8,1266.3 L762.5,1270.7 L764.5,1274.9 L766.0,1279.3 L766.9,1283.9 L767.3,1288.6 L768.0,1293.1 L769.3,1298.0 L770.9,1302.7 L772.1,1306.0 M760.8,1266.3 L760.3,1268.1 L759.7,1270.7 L759.0,1273.3 L758.4,1275.6 L757.8,1277.9 L757.3,1280.2 L756.8,1282.8 L756.3,1285.4 L755.9,1287.2 M744.5,1210.9 L745.7,1213.5 L747.4,1217.1 L749.0,1220.8 L750.2,1224.2 L751.3,1227.7 L752.3,1231.2 L753.1,1234.8 L753.8,1238.3 L754.8,1241.8 L756.3,1245.1 L758.2,1248.2 L760.0,1251.3 L761.9,1254.4 L763.8,1257.5 L765.6,1260.7 L767.2,1263.9 L768.8,1267.2 L770.4,1270.4 L772.7,1273.8 L775.0,1277.0 L776.7,1279.3 M765.6,1260.7 L767.2,1261.2 L769.5,1261.9 L771.8,1262.4 L773.9,1262.7 L776.1,1262.8 L778.2,1262.8 L780.6,1262.6 L782.9,1262.2 L784.6,1261.9 M765.6,1260.7 L765.2,1262.2 L764.6,1264.3 L764.0,1266.4 L763.5,1268.3 L762.9,1270.2 L762.4,1272.1 L762.2,1274.3 L762.0,1276.5 L761.9,1278.0 M747.4,1210.8 L748.3,1213.9 L749.7,1218.3 L751.2,1222.6 L752.8,1226.4 L754.5,1230.1 L756.2,1233.8 L757.9,1237.6 L759.5,1241.4 L761.1,1245.2 L762.5,1249.1 L764.0,1252.9 L765.5,1256.8 L767.1,1260.6 L768.8,1264.3 L770.6,1268.0 L772.7,1271.6 L774.9,1275.0 L777.1,1278.5 L779.5,1282.4 L782.0,1286.3 L783.6,1289.0 M777.1,1278.5 L779.1,1279.8 L782.0,1281.6 L785.0,1283.4 L787.7,1284.9 L790.4,1286.4 L793.1,1287.8 L796.2,1289.2 L799.4,1290.5 L801.6,1291.4 M765.5,1256.8 L767.3,1258.2 L770.0,1260.3 L772.4,1262.6 L774.5,1264.8 L776.3,1267.2 L778.2,1269.6 L780.3,1272.2 L782.3,1274.9 L783.8,1276.7 M745.2,1210.4 L746.0,1213.7 L747.1,1218.3 L748.6,1222.8 L750.3,1226.6 L752.3,1230.4 L754.4,1234.1 L756.4,1237.9 L758.4,1241.7 L760.5,1245.4 L762.8,1249.0 L765.1,1252.5 L767.6,1256.0 L770.1,1259.5 L772.6,1262.9 L775.3,1266.2 L778.0,1269.5 L780.9,1272.7 L783.8,1275.7 L787.3,1278.9 L790.9,1282.0 L793.4,1284.2 M760.5,1245.4 L760.7,1247.1 L761.1,1249.5 L761.6,1252.0 L762.1,1254.1 L762.8,1256.2 L763.5,1258.3 L764.2,1260.7 L765.0,1263.0 L765.5,1264.7 M754.4,1234.1 L755.1,1236.5 L756.1,1239.8 L757.4,1243.0 L758.9,1245.7 L760.7,1248.2 L762.4,1250.8 L764.2,1253.8 L766.1,1256.7 L767.4,1258.7 M760.5,1245.4 L762.8,1245.5 L766.1,1245.7 L769.4,1246.0 L772.4,1246.3 L775.3,1246.7 L778.3,1246.9 L781.5,1246.8 L784.8,1246.4 L787.1,1246.1 M745.1,1212.7 L746.2,1215.3 L747.8,1219.1 L749.6,1222.8 L751.5,1225.9 L753.7,1228.9 L756.0,1231.8 L758.4,1234.6 L761.0,1237.2 L763.6,1239.8 L766.1,1242.5 L768.7,1245.2 L771.3,1247.8 L774.2,1250.1 L777.2,1252.3 L780.1,1254.6 L782.7,1257.1 L785.3,1259.8 L787.8,1262.5 L790.5,1265.6 L793.2,1268.7 L795.0,1270.9 M756.0,1231.8 L756.8,1233.9 L758.1,1236.8 L759.5,1239.6 L761.2,1242.0 L763.1,1244.2 L764.9,1246.4 L767.0,1248.8 L769.0,1251.2 L770.5,1253.0 M747.2,1212.6 L749.0,1214.5 L751.6,1217.4 L754.1,1220.2 L756.3,1222.9 L758.4,1225.6 L760.6,1228.2 L763.0,1230.6 L765.5,1233.0 L768.1,1235.2 L770.8,1237.4 L773.5,1239.5 L776.3,1241.4 L779.3,1243.1 L782.3,1244.7 L785.4,1246.3 L788.4,1248.0 L791.3,1249.7 L794.2,1251.7 L797.0,1254.2 L799.8,1256.8 L801.6,1258.7 M785.4,1246.3 L786.1,1247.7 L787.0,1249.5 L787.9,1251.5 L788.5,1253.3 L789.0,1255.1 L789.3,1257.0 L789.6,1259.0 L789.7,1261.1 L789.8,1262.6" fill="none" stroke="#9c8466" stroke-width="0.64" stroke-linecap="round"/><path d="M933.1,1211.5 L930.6,1213.4 L927.1,1216.0 L923.5,1218.4 L920.1,1220.4 L916.6,1222.1 L913.1,1223.8 L909.4,1225.3 L905.8,1226.6 L902.1,1228.0 L898.4,1229.2 L894.6,1230.5 L891.0,1231.9 L887.6,1233.9 L884.3,1236.0 L881.0,1238.0 L877.4,1239.6 L873.7,1241.0 L870.1,1242.5 L866.2,1244.5 L862.4,1246.6 L859.7,1248.0 M891.0,1231.9 L888.7,1231.8 L885.4,1231.6 L882.2,1231.2 L879.4,1230.4 L876.6,1229.4 L873.9,1228.3 L870.9,1226.9 L868.0,1225.4 L865.9,1224.4 M933.4,1211.4 L931.6,1214.2 L929.1,1218.1 L926.5,1222.0 L924.0,1225.3 L921.4,1228.7 L919.0,1232.1 L916.6,1235.6 L914.3,1239.1 L912.0,1242.6 L909.7,1246.2 L907.3,1249.7 L904.7,1252.9 L901.7,1255.8 L898.4,1258.4 L895.2,1261.2 L892.3,1264.2 L889.6,1267.4 L886.7,1270.5 L883.4,1273.8 L879.9,1276.9 L877.5,1279.1 M886.7,1270.5 L886.6,1273.1 L886.5,1276.7 L886.5,1280.3 L886.7,1283.5 L886.9,1286.8 L887.1,1290.0 L887.1,1293.6 L887.0,1297.2 L886.9,1299.8 M886.7,1270.5 L886.9,1272.6 L887.1,1275.6 L887.1,1278.6 L886.8,1281.3 L886.3,1283.9 L885.9,1286.6 L885.7,1289.6 L885.6,1292.6 L885.5,1294.7 M895.2,1261.2 L893.6,1261.4 L891.3,1261.6 L889.0,1261.8 L886.9,1262.0 L884.9,1262.1 L882.8,1262.1 L880.5,1262.0 L878.2,1261.8 L876.6,1261.6 M932.7,1210.7 L930.9,1213.5 L928.3,1217.5 L925.8,1221.6 L923.7,1225.4 L921.8,1229.3 L919.7,1233.1 L917.7,1236.9 L915.6,1240.7 L913.2,1244.3 L910.3,1247.5 L907.2,1250.5 L904.0,1253.5 L900.9,1256.5 L897.8,1259.5 L894.8,1262.6 L891.9,1265.9 L889.1,1269.2 L886.3,1272.5 L883.1,1276.1 L879.9,1279.6 L877.6,1282.1 M894.8,1262.6 L892.9,1263.4 L890.1,1264.6 L887.4,1265.8 L884.9,1266.8 L882.5,1267.8 L879.9,1268.7 L877.1,1269.5 L874.2,1270.2 L872.2,1270.6 M931.8,1211.3 L930.2,1214.2 L928.0,1218.4 L925.9,1222.7 L924.1,1226.5 L922.4,1230.5 L920.8,1234.4 L919.1,1238.3 L917.4,1242.2 L915.7,1246.1 L913.8,1250.0 L911.9,1253.8 L910.0,1257.6 L908.2,1261.5 L906.4,1265.4 L904.8,1269.3 L903.4,1273.4 L902.2,1277.5 L901.0,1281.6 L899.5,1286.1 L898.0,1290.5 L896.9,1293.7 M904.8,1269.3 L903.6,1270.1 L901.8,1271.2 L900.0,1272.2 L898.2,1272.8 L896.4,1273.3 L894.6,1273.8 L892.7,1274.5 L890.7,1275.2 L889.4,1275.7 M931.6,1211.4 L930.7,1214.0 L929.4,1217.9 L928.3,1221.8 L927.7,1225.3 L927.1,1228.9 L926.3,1232.4 L925.0,1235.8 L923.4,1239.1 L921.7,1242.3 L920.1,1245.6 L918.5,1248.8 L917.0,1252.1 L915.5,1255.4 L914.1,1258.8 L912.9,1262.2 L911.8,1265.6 L910.9,1269.1 L910.0,1272.7 L908.9,1276.6 L907.9,1280.5 L907.2,1283.2 M917.0,1252.1 L915.9,1252.8 L914.2,1253.8 L912.6,1254.8 L911.1,1255.6 L909.6,1256.4 L908.1,1257.2 L906.7,1258.4 L905.2,1259.7 L904.3,1260.6 M910.0,1272.7 L908.6,1273.8 L906.6,1275.4 L904.5,1276.8 L902.5,1277.8 L900.4,1278.7 L898.3,1279.5 L895.9,1280.4 L893.5,1281.1 L891.8,1281.6 M932.6,1211.5 L931.4,1214.5 L929.7,1218.8 L927.9,1223.0 L926.0,1226.7 L923.9,1230.3 L922.1,1234.0 L920.8,1237.9 L919.7,1241.9 L918.6,1245.9 L917.1,1249.8 L915.5,1253.6 L914.1,1257.5 L913.0,1261.5 L912.1,1265.6 L910.9,1269.5 L909.3,1273.4 L907.5,1277.1 L905.5,1280.8 L903.2,1284.7 L900.8,1288.7 L899.1,1291.4 M918.6,1245.9 L918.9,1247.5 L919.4,1249.8 L920.0,1252.1 L920.5,1254.2 L921.1,1256.2 L921.7,1258.3 L922.3,1260.6 L922.8,1262.9 L923.2,1264.5 M914.1,1257.5 L913.5,1259.3 L912.7,1261.8 L912.0,1264.4 L911.5,1266.7 L911.1,1269.1 L910.8,1271.5 L910.4,1274.1 L910.1,1276.7 L909.9,1278.6 M931.6,1210.4 L931.1,1213.9 L930.3,1218.8 L929.5,1223.7 L928.4,1228.1 L927.2,1232.4 L926.0,1236.7 L924.6,1241.0 L923.0,1245.2 L921.6,1249.5 L920.2,1253.8 L919.0,1258.1 L917.5,1262.3 L915.7,1266.4 L913.7,1270.4 L912.0,1274.6 L911.1,1279.0 L910.6,1283.5 L909.8,1287.9 L908.2,1292.6 L906.3,1297.2 L905.0,1300.5 M921.6,1249.5 L921.6,1251.5 L921.5,1254.3 L921.3,1257.2 L920.8,1259.7 L920.2,1262.2 L919.5,1264.7 L918.7,1267.4 L917.8,1270.2 L917.2,1272.1 M934.0,1209.1 L934.1,1212.8 L934.2,1218.1 L934.1,1223.4 L933.4,1228.1 L932.5,1232.8 L931.8,1237.5 L931.9,1242.2 L932.2,1247.0 L932.5,1251.7 L932.2,1256.5 L931.8,1261.2 L931.6,1265.9 L932.1,1270.7 L932.8,1275.4 L933.5,1280.1 L934.0,1284.9 L934.5,1289.7 L934.6,1294.3 L934.2,1298.8 L933.4,1303.1 L932.9,1306.0 M932.5,1251.7 L930.3,1253.7 L927.3,1256.6 L924.2,1259.4 L921.2,1261.6 L918.1,1263.7 L915.1,1265.9 L912.1,1268.8 L909.2,1271.8 L907.2,1274.0 M933.5,1209.7 L934.0,1212.7 L934.7,1216.9 L935.4,1221.2 L936.3,1224.9 L937.3,1228.7 L938.0,1232.5 L938.3,1236.3 L938.2,1240.2 L938.2,1244.1 L938.2,1248.0 L938.3,1251.8 L938.1,1255.7 L937.6,1259.5 L936.8,1263.3 L936.3,1267.2 L936.1,1271.0 L936.1,1274.9 L935.9,1278.8 L935.3,1283.0 L934.5,1287.2 L933.9,1290.2 M938.2,1244.1 L939.3,1245.3 L940.9,1247.0 L942.4,1248.7 L943.7,1250.3 L945.0,1252.0 L946.1,1253.8 L947.1,1255.8 L948.0,1258.0 L948.6,1259.5 M938.0,1232.5 L937.2,1233.5 L936.1,1235.0 L934.9,1236.4 L933.8,1237.6 L932.7,1238.8 L931.4,1239.9 L929.9,1240.9 L928.4,1241.9 L927.3,1242.5 M938.1,1255.7 L939.1,1257.9 L940.5,1261.1 L942.0,1264.3 L943.4,1267.0 L945.0,1269.8 L946.7,1272.3 L949.0,1275.0 L951.4,1277.5 L953.1,1279.2 M932.2,1210.2 L932.6,1213.0 L933.1,1216.9 L933.4,1220.9 L933.6,1224.5 L933.6,1228.2 L933.6,1231.8 L933.4,1235.4 L933.2,1239.0 L933.1,1242.6 L933.0,1246.2 L932.9,1249.8 L933.0,1253.5 L933.3,1257.1 L933.7,1260.6 L934.2,1264.2 L934.8,1267.8 L935.4,1271.4 L936.0,1274.9 L936.4,1278.9 L936.8,1282.9 L937.0,1285.7 M933.1,1242.6 L934.8,1244.1 L937.2,1246.3 L939.7,1248.5 L941.9,1250.4 L944.1,1252.4 L946.2,1254.4 L948.4,1256.8 L950.5,1259.3 L952.0,1261.1 M932.6,1209.6 L933.6,1213.0 L934.9,1217.8 L936.3,1222.7 L937.8,1227.0 L939.4,1231.2 L940.8,1235.5 L941.9,1239.9 L942.9,1244.4 L944.1,1248.8 L945.7,1253.0 L947.4,1257.2 L948.9,1261.5 L949.8,1266.0 L950.5,1270.5 L951.5,1274.9 L953.2,1279.1 L955.3,1283.1 L957.2,1287.3 L958.8,1292.0 L960.2,1296.9 L961.1,1300.3 M940.8,1235.5 L940.1,1238.2 L939.0,1241.9 L937.9,1245.6 L936.9,1249.0 L935.9,1252.4 L935.1,1255.8 L934.6,1259.6 L934.3,1263.5 L934.1,1266.2 M932.9,1210.3 L934.9,1213.0 L937.7,1216.9 L940.2,1220.9 L941.8,1224.9 L943.1,1229.0 L944.7,1233.0 L946.9,1236.6 L949.4,1240.1 L951.7,1243.7 L953.5,1247.6 L955.0,1251.6 L956.7,1255.6 L959.0,1259.1 L961.6,1262.6 L963.9,1266.2 L965.8,1270.0 L967.5,1274.0 L969.0,1278.0 L970.4,1282.5 L971.6,1287.2 L972.4,1290.4 M963.9,1266.2 L964.7,1267.4 L965.9,1269.1 L967.0,1270.8 L967.9,1272.4 L968.7,1274.0 L969.6,1275.6 L970.6,1277.4 L971.6,1279.2 L972.2,1280.4 M969.0,1278.0 L971.4,1279.0 L974.8,1280.5 L978.2,1281.9 L981.4,1283.0 L984.5,1284.1 L987.7,1285.2 L991.2,1286.4 L994.7,1287.6 L997.2,1288.4 M963.9,1266.2 L962.2,1267.9 L959.7,1270.2 L957.5,1272.8 L955.7,1275.2 L954.1,1277.8 L952.6,1280.5 L951.4,1283.7 L950.4,1286.9 L949.7,1289.2 M933.0,1211.2 L935.1,1213.8 L938.0,1217.5 L941.0,1221.1 L943.9,1224.2 L946.8,1227.3 L949.7,1230.4 L952.4,1233.7 L954.9,1237.1 L957.4,1240.6 L959.6,1244.2 L961.7,1247.9 L964.0,1251.4 L966.8,1254.7 L969.7,1257.8 L972.7,1260.8 L975.7,1263.8 L978.8,1266.7 L981.7,1269.8 L984.5,1273.6 L987.0,1277.6 L988.8,1280.4 M957.4,1240.6 L956.7,1243.0 L955.7,1246.5 L955.0,1250.0 L954.6,1253.3 L954.3,1256.5 L954.1,1259.8 L953.8,1263.4 L953.5,1267.0 L953.3,1269.5 M981.7,1269.8 L984.0,1271.0 L987.1,1272.7 L990.2,1274.5 L992.9,1276.2 L995.5,1278.1 L998.1,1280.1 L1000.9,1282.3 L1003.7,1284.6 L1005.6,1286.2 M949.7,1230.4 L949.0,1232.2 L948.0,1234.7 L947.1,1237.2 L946.2,1239.4 L945.3,1241.7 L944.4,1243.9 L943.3,1246.4 L942.2,1248.8 L941.4,1250.5 M934.0,1210.3 L935.9,1212.9 L938.7,1216.5 L941.7,1220.0 L944.5,1222.9 L947.5,1225.8 L950.6,1228.4 L953.9,1230.8 L957.4,1233.1 L960.7,1235.5 L963.6,1238.4 L966.4,1241.5 L969.1,1244.6 L971.8,1247.7 L974.4,1250.8 L977.0,1254.0 L979.5,1257.2 L982.0,1260.5 L984.5,1263.8 L987.4,1267.3 L990.3,1270.8 L992.4,1273.2 M984.5,1263.8 L984.1,1265.8 L983.5,1268.7 L983.0,1271.6 L982.6,1274.2 L982.3,1276.8 L982.1,1279.5 L982.2,1282.4 L982.5,1285.3 L982.7,1287.3 M950.6,1228.4 L950.5,1230.5 L950.2,1233.4 L949.9,1236.3 L949.4,1238.9 L948.8,1241.5 L948.4,1244.0 L948.5,1246.9 L948.8,1249.9 L949.0,1251.9 M931.2,1210.3 L933.3,1211.8 L936.4,1214.0 L939.3,1216.3 L941.8,1218.7 L944.1,1221.1 L946.6,1223.4 L949.3,1225.4 L952.1,1227.3 L954.9,1229.2 L957.7,1231.2 L960.4,1233.2 L962.9,1235.4 L965.3,1237.9 L967.5,1240.5 L969.7,1243.0 L972.1,1245.3 L974.6,1247.6 L977.2,1249.9 L980.0,1252.3 L982.9,1254.7 L984.9,1256.4 M946.6,1223.4 L948.2,1223.4 L950.6,1223.4 L952.9,1223.3 L955.0,1223.0 L957.1,1222.5 L959.2,1222.2 L961.5,1222.1 L963.9,1222.2 L965.5,1222.2" fill="none" stroke="#46352a" stroke-width="2.3" stroke-linecap="round" stroke-linejoin="round"/><path d="M933.1,1211.5 L930.6,1213.4 L927.1,1216.0 L923.5,1218.4 L920.1,1220.4 L916.6,1222.1 L913.1,1223.8 L909.4,1225.3 L905.8,1226.6 L902.1,1228.0 L898.4,1229.2 L894.6,1230.5 L891.0,1231.9 L887.6,1233.9 L884.3,1236.0 L881.0,1238.0 L877.4,1239.6 L873.7,1241.0 L870.1,1242.5 L866.2,1244.5 L862.4,1246.6 L859.7,1248.0 M891.0,1231.9 L888.7,1231.8 L885.4,1231.6 L882.2,1231.2 L879.4,1230.4 L876.6,1229.4 L873.9,1228.3 L870.9,1226.9 L868.0,1225.4 L865.9,1224.4 M933.4,1211.4 L931.6,1214.2 L929.1,1218.1 L926.5,1222.0 L924.0,1225.3 L921.4,1228.7 L919.0,1232.1 L916.6,1235.6 L914.3,1239.1 L912.0,1242.6 L909.7,1246.2 L907.3,1249.7 L904.7,1252.9 L901.7,1255.8 L898.4,1258.4 L895.2,1261.2 L892.3,1264.2 L889.6,1267.4 L886.7,1270.5 L883.4,1273.8 L879.9,1276.9 L877.5,1279.1 M886.7,1270.5 L886.6,1273.1 L886.5,1276.7 L886.5,1280.3 L886.7,1283.5 L886.9,1286.8 L887.1,1290.0 L887.1,1293.6 L887.0,1297.2 L886.9,1299.8 M886.7,1270.5 L886.9,1272.6 L887.1,1275.6 L887.1,1278.6 L886.8,1281.3 L886.3,1283.9 L885.9,1286.6 L885.7,1289.6 L885.6,1292.6 L885.5,1294.7 M895.2,1261.2 L893.6,1261.4 L891.3,1261.6 L889.0,1261.8 L886.9,1262.0 L884.9,1262.1 L882.8,1262.1 L880.5,1262.0 L878.2,1261.8 L876.6,1261.6 M932.7,1210.7 L930.9,1213.5 L928.3,1217.5 L925.8,1221.6 L923.7,1225.4 L921.8,1229.3 L919.7,1233.1 L917.7,1236.9 L915.6,1240.7 L913.2,1244.3 L910.3,1247.5 L907.2,1250.5 L904.0,1253.5 L900.9,1256.5 L897.8,1259.5 L894.8,1262.6 L891.9,1265.9 L889.1,1269.2 L886.3,1272.5 L883.1,1276.1 L879.9,1279.6 L877.6,1282.1 M894.8,1262.6 L892.9,1263.4 L890.1,1264.6 L887.4,1265.8 L884.9,1266.8 L882.5,1267.8 L879.9,1268.7 L877.1,1269.5 L874.2,1270.2 L872.2,1270.6 M931.8,1211.3 L930.2,1214.2 L928.0,1218.4 L925.9,1222.7 L924.1,1226.5 L922.4,1230.5 L920.8,1234.4 L919.1,1238.3 L917.4,1242.2 L915.7,1246.1 L913.8,1250.0 L911.9,1253.8 L910.0,1257.6 L908.2,1261.5 L906.4,1265.4 L904.8,1269.3 L903.4,1273.4 L902.2,1277.5 L901.0,1281.6 L899.5,1286.1 L898.0,1290.5 L896.9,1293.7 M904.8,1269.3 L903.6,1270.1 L901.8,1271.2 L900.0,1272.2 L898.2,1272.8 L896.4,1273.3 L894.6,1273.8 L892.7,1274.5 L890.7,1275.2 L889.4,1275.7 M931.6,1211.4 L930.7,1214.0 L929.4,1217.9 L928.3,1221.8 L927.7,1225.3 L927.1,1228.9 L926.3,1232.4 L925.0,1235.8 L923.4,1239.1 L921.7,1242.3 L920.1,1245.6 L918.5,1248.8 L917.0,1252.1 L915.5,1255.4 L914.1,1258.8 L912.9,1262.2 L911.8,1265.6 L910.9,1269.1 L910.0,1272.7 L908.9,1276.6 L907.9,1280.5 L907.2,1283.2 M917.0,1252.1 L915.9,1252.8 L914.2,1253.8 L912.6,1254.8 L911.1,1255.6 L909.6,1256.4 L908.1,1257.2 L906.7,1258.4 L905.2,1259.7 L904.3,1260.6 M910.0,1272.7 L908.6,1273.8 L906.6,1275.4 L904.5,1276.8 L902.5,1277.8 L900.4,1278.7 L898.3,1279.5 L895.9,1280.4 L893.5,1281.1 L891.8,1281.6 M932.6,1211.5 L931.4,1214.5 L929.7,1218.8 L927.9,1223.0 L926.0,1226.7 L923.9,1230.3 L922.1,1234.0 L920.8,1237.9 L919.7,1241.9 L918.6,1245.9 L917.1,1249.8 L915.5,1253.6 L914.1,1257.5 L913.0,1261.5 L912.1,1265.6 L910.9,1269.5 L909.3,1273.4 L907.5,1277.1 L905.5,1280.8 L903.2,1284.7 L900.8,1288.7 L899.1,1291.4 M918.6,1245.9 L918.9,1247.5 L919.4,1249.8 L920.0,1252.1 L920.5,1254.2 L921.1,1256.2 L921.7,1258.3 L922.3,1260.6 L922.8,1262.9 L923.2,1264.5 M914.1,1257.5 L913.5,1259.3 L912.7,1261.8 L912.0,1264.4 L911.5,1266.7 L911.1,1269.1 L910.8,1271.5 L910.4,1274.1 L910.1,1276.7 L909.9,1278.6 M931.6,1210.4 L931.1,1213.9 L930.3,1218.8 L929.5,1223.7 L928.4,1228.1 L927.2,1232.4 L926.0,1236.7 L924.6,1241.0 L923.0,1245.2 L921.6,1249.5 L920.2,1253.8 L919.0,1258.1 L917.5,1262.3 L915.7,1266.4 L913.7,1270.4 L912.0,1274.6 L911.1,1279.0 L910.6,1283.5 L909.8,1287.9 L908.2,1292.6 L906.3,1297.2 L905.0,1300.5 M921.6,1249.5 L921.6,1251.5 L921.5,1254.3 L921.3,1257.2 L920.8,1259.7 L920.2,1262.2 L919.5,1264.7 L918.7,1267.4 L917.8,1270.2 L917.2,1272.1 M934.0,1209.1 L934.1,1212.8 L934.2,1218.1 L934.1,1223.4 L933.4,1228.1 L932.5,1232.8 L931.8,1237.5 L931.9,1242.2 L932.2,1247.0 L932.5,1251.7 L932.2,1256.5 L931.8,1261.2 L931.6,1265.9 L932.1,1270.7 L932.8,1275.4 L933.5,1280.1 L934.0,1284.9 L934.5,1289.7 L934.6,1294.3 L934.2,1298.8 L933.4,1303.1 L932.9,1306.0 M932.5,1251.7 L930.3,1253.7 L927.3,1256.6 L924.2,1259.4 L921.2,1261.6 L918.1,1263.7 L915.1,1265.9 L912.1,1268.8 L909.2,1271.8 L907.2,1274.0 M933.5,1209.7 L934.0,1212.7 L934.7,1216.9 L935.4,1221.2 L936.3,1224.9 L937.3,1228.7 L938.0,1232.5 L938.3,1236.3 L938.2,1240.2 L938.2,1244.1 L938.2,1248.0 L938.3,1251.8 L938.1,1255.7 L937.6,1259.5 L936.8,1263.3 L936.3,1267.2 L936.1,1271.0 L936.1,1274.9 L935.9,1278.8 L935.3,1283.0 L934.5,1287.2 L933.9,1290.2 M938.2,1244.1 L939.3,1245.3 L940.9,1247.0 L942.4,1248.7 L943.7,1250.3 L945.0,1252.0 L946.1,1253.8 L947.1,1255.8 L948.0,1258.0 L948.6,1259.5 M938.0,1232.5 L937.2,1233.5 L936.1,1235.0 L934.9,1236.4 L933.8,1237.6 L932.7,1238.8 L931.4,1239.9 L929.9,1240.9 L928.4,1241.9 L927.3,1242.5 M938.1,1255.7 L939.1,1257.9 L940.5,1261.1 L942.0,1264.3 L943.4,1267.0 L945.0,1269.8 L946.7,1272.3 L949.0,1275.0 L951.4,1277.5 L953.1,1279.2 M932.2,1210.2 L932.6,1213.0 L933.1,1216.9 L933.4,1220.9 L933.6,1224.5 L933.6,1228.2 L933.6,1231.8 L933.4,1235.4 L933.2,1239.0 L933.1,1242.6 L933.0,1246.2 L932.9,1249.8 L933.0,1253.5 L933.3,1257.1 L933.7,1260.6 L934.2,1264.2 L934.8,1267.8 L935.4,1271.4 L936.0,1274.9 L936.4,1278.9 L936.8,1282.9 L937.0,1285.7 M933.1,1242.6 L934.8,1244.1 L937.2,1246.3 L939.7,1248.5 L941.9,1250.4 L944.1,1252.4 L946.2,1254.4 L948.4,1256.8 L950.5,1259.3 L952.0,1261.1 M932.6,1209.6 L933.6,1213.0 L934.9,1217.8 L936.3,1222.7 L937.8,1227.0 L939.4,1231.2 L940.8,1235.5 L941.9,1239.9 L942.9,1244.4 L944.1,1248.8 L945.7,1253.0 L947.4,1257.2 L948.9,1261.5 L949.8,1266.0 L950.5,1270.5 L951.5,1274.9 L953.2,1279.1 L955.3,1283.1 L957.2,1287.3 L958.8,1292.0 L960.2,1296.9 L961.1,1300.3 M940.8,1235.5 L940.1,1238.2 L939.0,1241.9 L937.9,1245.6 L936.9,1249.0 L935.9,1252.4 L935.1,1255.8 L934.6,1259.6 L934.3,1263.5 L934.1,1266.2 M932.9,1210.3 L934.9,1213.0 L937.7,1216.9 L940.2,1220.9 L941.8,1224.9 L943.1,1229.0 L944.7,1233.0 L946.9,1236.6 L949.4,1240.1 L951.7,1243.7 L953.5,1247.6 L955.0,1251.6 L956.7,1255.6 L959.0,1259.1 L961.6,1262.6 L963.9,1266.2 L965.8,1270.0 L967.5,1274.0 L969.0,1278.0 L970.4,1282.5 L971.6,1287.2 L972.4,1290.4 M963.9,1266.2 L964.7,1267.4 L965.9,1269.1 L967.0,1270.8 L967.9,1272.4 L968.7,1274.0 L969.6,1275.6 L970.6,1277.4 L971.6,1279.2 L972.2,1280.4 M969.0,1278.0 L971.4,1279.0 L974.8,1280.5 L978.2,1281.9 L981.4,1283.0 L984.5,1284.1 L987.7,1285.2 L991.2,1286.4 L994.7,1287.6 L997.2,1288.4 M963.9,1266.2 L962.2,1267.9 L959.7,1270.2 L957.5,1272.8 L955.7,1275.2 L954.1,1277.8 L952.6,1280.5 L951.4,1283.7 L950.4,1286.9 L949.7,1289.2 M933.0,1211.2 L935.1,1213.8 L938.0,1217.5 L941.0,1221.1 L943.9,1224.2 L946.8,1227.3 L949.7,1230.4 L952.4,1233.7 L954.9,1237.1 L957.4,1240.6 L959.6,1244.2 L961.7,1247.9 L964.0,1251.4 L966.8,1254.7 L969.7,1257.8 L972.7,1260.8 L975.7,1263.8 L978.8,1266.7 L981.7,1269.8 L984.5,1273.6 L987.0,1277.6 L988.8,1280.4 M957.4,1240.6 L956.7,1243.0 L955.7,1246.5 L955.0,1250.0 L954.6,1253.3 L954.3,1256.5 L954.1,1259.8 L953.8,1263.4 L953.5,1267.0 L953.3,1269.5 M981.7,1269.8 L984.0,1271.0 L987.1,1272.7 L990.2,1274.5 L992.9,1276.2 L995.5,1278.1 L998.1,1280.1 L1000.9,1282.3 L1003.7,1284.6 L1005.6,1286.2 M949.7,1230.4 L949.0,1232.2 L948.0,1234.7 L947.1,1237.2 L946.2,1239.4 L945.3,1241.7 L944.4,1243.9 L943.3,1246.4 L942.2,1248.8 L941.4,1250.5 M934.0,1210.3 L935.9,1212.9 L938.7,1216.5 L941.7,1220.0 L944.5,1222.9 L947.5,1225.8 L950.6,1228.4 L953.9,1230.8 L957.4,1233.1 L960.7,1235.5 L963.6,1238.4 L966.4,1241.5 L969.1,1244.6 L971.8,1247.7 L974.4,1250.8 L977.0,1254.0 L979.5,1257.2 L982.0,1260.5 L984.5,1263.8 L987.4,1267.3 L990.3,1270.8 L992.4,1273.2 M984.5,1263.8 L984.1,1265.8 L983.5,1268.7 L983.0,1271.6 L982.6,1274.2 L982.3,1276.8 L982.1,1279.5 L982.2,1282.4 L982.5,1285.3 L982.7,1287.3 M950.6,1228.4 L950.5,1230.5 L950.2,1233.4 L949.9,1236.3 L949.4,1238.9 L948.8,1241.5 L948.4,1244.0 L948.5,1246.9 L948.8,1249.9 L949.0,1251.9 M931.2,1210.3 L933.3,1211.8 L936.4,1214.0 L939.3,1216.3 L941.8,1218.7 L944.1,1221.1 L946.6,1223.4 L949.3,1225.4 L952.1,1227.3 L954.9,1229.2 L957.7,1231.2 L960.4,1233.2 L962.9,1235.4 L965.3,1237.9 L967.5,1240.5 L969.7,1243.0 L972.1,1245.3 L974.6,1247.6 L977.2,1249.9 L980.0,1252.3 L982.9,1254.7 L984.9,1256.4 M946.6,1223.4 L948.2,1223.4 L950.6,1223.4 L952.9,1223.3 L955.0,1223.0 L957.1,1222.5 L959.2,1222.2 L961.5,1222.1 L963.9,1222.2 L965.5,1222.2" fill="none" stroke="#9c8466" stroke-width="0.64" stroke-linecap="round"/><path d="M1130.4,1208.9 L1128.4,1211.4 L1125.7,1215.0 L1122.8,1218.5 L1120.1,1221.6 L1117.4,1224.6 L1114.6,1227.6 L1111.8,1230.6 L1108.9,1233.6 L1105.9,1236.2 L1102.5,1238.6 L1099.0,1240.6 L1095.3,1242.4 L1091.5,1244.0 L1087.7,1245.3 L1083.8,1246.8 L1080.1,1248.4 L1076.3,1250.0 L1072.7,1251.9 L1068.9,1254.4 L1065.3,1257.1 L1062.7,1259.0 M1072.7,1251.9 L1072.5,1254.1 L1072.2,1257.2 L1071.7,1260.3 L1071.0,1263.0 L1070.0,1265.7 L1069.1,1268.4 L1068.2,1271.4 L1067.4,1274.4 L1066.8,1276.5 M1105.9,1236.2 L1103.7,1236.5 L1100.5,1236.9 L1097.4,1237.5 L1094.7,1238.5 L1092.1,1239.7 L1089.5,1240.7 L1086.4,1241.5 L1083.3,1242.2 L1081.1,1242.7 M1129.4,1208.9 L1126.9,1211.1 L1123.3,1214.2 L1119.9,1217.5 L1117.2,1220.8 L1114.7,1224.2 L1112.1,1227.6 L1109.2,1230.8 L1106.2,1233.8 L1103.4,1237.0 L1101.0,1240.5 L1098.9,1244.2 L1096.4,1247.6 L1093.3,1250.6 L1089.9,1253.2 L1086.7,1256.0 L1083.8,1259.1 L1081.0,1262.4 L1078.3,1265.7 L1075.5,1269.4 L1072.7,1273.3 L1070.7,1275.9 M1112.1,1227.6 L1112.3,1229.1 L1112.5,1231.2 L1112.7,1233.2 L1112.7,1235.1 L1112.6,1237.0 L1112.7,1238.9 L1113.2,1240.9 L1113.7,1242.9 L1114.2,1244.3 M1096.4,1247.6 L1094.7,1247.8 L1092.2,1248.1 L1089.9,1248.6 L1087.8,1249.3 L1085.8,1250.2 L1083.8,1251.1 L1081.5,1252.0 L1079.3,1252.9 L1077.7,1253.6 M1129.9,1208.6 L1128.5,1211.0 L1126.5,1214.4 L1124.4,1217.8 L1122.4,1220.8 L1120.4,1223.7 L1118.3,1226.6 L1116.2,1229.6 L1114.1,1232.5 L1111.9,1235.2 L1109.3,1237.7 L1106.5,1240.0 L1103.9,1242.4 L1101.4,1245.0 L1099.1,1247.7 L1096.9,1250.5 L1095.0,1253.6 L1093.2,1256.7 L1091.3,1259.7 L1088.8,1262.8 L1086.2,1265.8 L1084.3,1267.9 M1118.3,1226.6 L1118.5,1227.9 L1118.8,1229.6 L1118.9,1231.3 L1118.8,1232.9 L1118.5,1234.4 L1118.3,1236.0 L1118.3,1237.8 L1118.3,1239.5 L1118.4,1240.7 M1096.9,1250.5 L1095.4,1250.3 L1093.2,1250.0 L1091.1,1249.9 L1089.1,1250.0 L1087.2,1250.3 L1085.3,1250.7 L1083.3,1251.3 L1081.3,1252.1 L1079.8,1252.7 M1129.6,1209.2 L1128.3,1212.0 L1126.4,1216.1 L1124.7,1220.1 L1123.4,1223.9 L1122.1,1227.7 L1120.8,1231.4 L1119.2,1235.1 L1117.4,1238.7 L1115.6,1242.2 L1113.5,1245.6 L1111.3,1248.9 L1108.9,1252.1 L1106.3,1255.1 L1103.6,1258.0 L1100.8,1260.9 L1098.0,1263.7 L1095.1,1266.5 L1092.2,1269.2 L1088.9,1272.1 L1085.5,1275.0 L1083.1,1277.0 M1115.6,1242.2 L1113.6,1242.2 L1110.8,1242.3 L1108.0,1242.6 L1105.5,1243.2 L1103.1,1243.9 L1100.7,1244.7 L1098.2,1245.8 L1095.7,1247.1 L1093.9,1248.0 M1127.8,1210.3 L1126.9,1213.7 L1125.7,1218.6 L1124.3,1223.4 L1123.1,1227.8 L1121.7,1232.1 L1120.2,1236.3 L1118.5,1240.5 L1116.6,1244.6 L1114.4,1248.6 L1111.9,1252.3 L1109.1,1255.9 L1106.2,1259.4 L1103.1,1262.7 L1099.9,1265.9 L1097.0,1269.3 L1094.4,1273.0 L1092.1,1276.9 L1089.7,1280.8 L1086.8,1284.8 L1083.7,1288.8 L1081.6,1291.6 M1106.2,1259.4 L1104.7,1259.9 L1102.6,1260.6 L1100.6,1261.4 L1098.7,1262.1 L1096.9,1262.9 L1095.1,1263.7 L1093.2,1264.8 L1091.3,1266.0 L1090.0,1266.9 M1114.4,1248.6 L1114.9,1250.6 L1115.6,1253.5 L1116.5,1256.4 L1117.5,1258.9 L1118.6,1261.3 L1119.6,1263.8 L1120.5,1266.7 L1121.2,1269.6 L1121.7,1271.7 M1106.2,1259.4 L1104.0,1260.1 L1100.8,1261.1 L1097.7,1262.1 L1094.9,1263.1 L1092.1,1264.2 L1089.3,1265.2 L1086.3,1266.4 L1083.2,1267.6 L1081.0,1268.4 M1130.4,1208.5 L1130.2,1212.0 L1129.9,1217.0 L1129.2,1221.9 L1128.0,1226.2 L1126.4,1230.4 L1124.7,1234.6 L1123.0,1238.7 L1121.2,1242.8 L1119.2,1246.9 L1116.9,1250.7 L1114.4,1254.5 L1112.4,1258.5 L1111.1,1262.8 L1110.3,1267.2 L1109.1,1271.5 L1107.5,1275.7 L1105.5,1279.7 L1103.6,1283.8 L1101.6,1288.4 L1099.6,1292.9 L1098.2,1296.1 M1103.6,1283.8 L1101.5,1284.5 L1098.6,1285.5 L1095.6,1286.5 L1093.0,1287.5 L1090.3,1288.5 L1087.8,1289.6 L1084.9,1291.0 L1082.2,1292.4 L1080.2,1293.5 M1119.2,1246.9 L1119.2,1249.5 L1119.4,1253.3 L1119.5,1257.1 L1119.7,1260.5 L1119.9,1263.9 L1120.1,1267.3 L1120.2,1271.1 L1120.3,1274.8 L1120.4,1277.5 M1127.5,1210.7 L1126.9,1213.6 L1126.1,1217.6 L1125.2,1221.7 L1124.3,1225.3 L1123.4,1229.0 L1122.3,1232.5 L1120.9,1236.0 L1119.4,1239.4 L1117.8,1242.8 L1116.1,1246.2 L1114.4,1249.5 L1112.8,1252.9 L1111.8,1256.5 L1111.1,1260.2 L1110.1,1263.8 L1108.7,1267.3 L1107.2,1270.7 L1105.6,1274.1 L1103.8,1277.8 L1101.9,1281.5 L1100.6,1284.1 M1112.8,1252.9 L1111.6,1253.5 L1109.9,1254.3 L1108.2,1255.2 L1106.8,1256.2 L1105.5,1257.3 L1104.1,1258.2 L1102.3,1259.0 L1100.6,1259.7 L1099.3,1260.2 M1105.6,1274.1 L1104.4,1274.4 L1102.6,1274.9 L1100.9,1275.2 L1099.3,1275.4 L1097.6,1275.4 L1096.0,1275.5 L1094.3,1275.9 L1092.6,1276.5 L1091.4,1276.9 M1105.6,1274.1 L1103.9,1274.9 L1101.6,1276.1 L1099.2,1277.3 L1097.1,1278.3 L1094.9,1279.1 L1092.7,1280.0 L1090.3,1281.1 L1087.9,1282.2 L1086.2,1282.9 M1128.7,1208.0 L1129.3,1211.8 L1130.2,1217.1 L1130.9,1222.4 L1131.1,1227.3 L1131.2,1232.1 L1131.4,1237.0 L1132.0,1241.8 L1132.7,1246.6 L1133.6,1251.4 L1134.9,1256.1 L1136.2,1260.8 L1137.1,1265.5 L1137.1,1270.3 L1136.7,1275.2 L1136.5,1280.1 L1136.9,1285.0 L1137.5,1290.0 L1137.9,1294.6 L1138.0,1299.0 L1137.9,1303.1 L1137.8,1306.0 M1131.4,1237.0 L1133.2,1239.2 L1135.8,1242.3 L1138.5,1245.3 L1141.2,1247.8 L1144.0,1250.1 L1146.9,1252.4 L1149.9,1255.1 L1152.9,1257.8 L1155.0,1259.7 M1137.1,1265.5 L1136.3,1267.6 L1135.1,1270.5 L1133.9,1273.5 L1132.9,1276.1 L1131.9,1278.8 L1130.7,1281.4 L1129.0,1284.0 L1127.2,1286.7 L1125.9,1288.5 M1129.2,1210.4 L1128.9,1214.1 L1128.6,1219.4 L1128.3,1224.7 L1128.2,1229.6 L1128.2,1234.4 L1128.5,1239.1 L1129.4,1243.8 L1130.6,1248.5 L1132.0,1253.1 L1133.4,1257.7 L1134.9,1262.3 L1136.4,1266.8 L1137.6,1271.5 L1138.8,1276.1 L1140.2,1280.7 L1141.9,1285.3 L1143.7,1289.8 L1145.4,1294.2 L1147.2,1298.7 L1148.9,1303.0 L1150.0,1306.0 M1132.0,1253.1 L1134.1,1255.1 L1137.2,1257.8 L1140.4,1260.3 L1143.6,1262.1 L1146.9,1263.7 L1150.1,1265.4 L1153.3,1267.9 L1156.4,1270.7 L1158.5,1272.6 M1128.0,1208.7 L1128.7,1212.3 L1129.7,1217.3 L1130.8,1222.4 L1131.9,1226.9 L1133.0,1231.4 L1134.1,1235.9 L1135.1,1240.5 L1136.0,1245.0 L1137.0,1249.6 L1138.1,1254.1 L1139.2,1258.6 L1140.1,1263.2 L1140.4,1267.8 L1140.6,1272.5 L1141.1,1277.1 L1142.4,1281.5 L1144.1,1285.9 L1145.7,1290.3 L1147.2,1295.2 L1148.6,1300.2 L1149.6,1303.6 M1137.0,1249.6 L1138.1,1250.8 L1139.7,1252.6 L1141.3,1254.5 L1142.7,1256.2 L1144.0,1257.9 L1145.4,1259.6 L1147.2,1261.2 L1149.2,1262.7 L1150.5,1263.7 M1141.1,1277.1 L1139.9,1279.7 L1138.1,1283.4 L1136.3,1287.0 L1134.4,1290.2 L1132.5,1293.3 L1130.7,1296.5 L1129.0,1300.0 L1127.5,1303.5 L1126.4,1306.0 M1140.1,1263.2 L1138.4,1265.2 L1136.1,1268.0 L1133.9,1271.0 L1132.1,1273.8 L1130.6,1276.7 L1129.2,1279.8 L1128.1,1283.3 L1127.2,1286.9 L1126.6,1289.4 M1127.8,1210.5 L1129.1,1212.9 L1131.0,1216.4 L1132.9,1219.9 L1134.7,1223.0 L1136.5,1226.1 L1138.3,1229.1 L1140.2,1232.1 L1142.2,1235.1 L1144.3,1238.0 L1146.4,1240.9 L1148.6,1243.8 L1150.5,1246.7 L1152.2,1249.9 L1153.6,1253.2 L1154.9,1256.5 L1155.9,1259.9 L1156.8,1263.4 L1158.0,1266.8 L1159.8,1270.3 L1161.8,1273.7 L1163.3,1276.1 M1154.9,1256.5 L1155.9,1257.2 L1157.4,1258.2 L1159.0,1259.1 L1160.5,1259.6 L1162.0,1260.1 L1163.5,1260.7 L1165.1,1261.5 L1166.7,1262.3 L1167.8,1263.0 M1150.5,1246.7 L1150.2,1248.5 L1149.8,1251.0 L1149.4,1253.5 L1149.2,1255.8 L1149.0,1258.1 L1148.9,1260.4 L1148.6,1263.0 L1148.4,1265.5 L1148.3,1267.3 M1154.9,1256.5 L1156.5,1256.8 L1158.9,1257.2 L1161.2,1257.7 L1163.2,1258.3 L1165.2,1259.1 L1167.2,1259.9 L1169.4,1260.8 L1171.6,1261.7 L1173.1,1262.4 M1129.7,1210.1 L1130.5,1213.5 L1131.8,1218.2 L1133.3,1222.9 L1135.2,1226.9 L1137.4,1230.8 L1139.7,1234.5 L1142.4,1238.1 L1145.2,1241.5 L1147.7,1245.1 L1149.6,1249.1 L1151.1,1253.3 L1152.8,1257.4 L1154.9,1261.3 L1157.2,1265.1 L1159.4,1268.9 L1161.3,1272.9 L1163.2,1276.9 L1165.1,1280.9 L1167.4,1285.3 L1169.6,1289.6 L1171.2,1292.7 M1165.1,1280.9 L1167.3,1282.2 L1170.5,1284.0 L1173.5,1286.0 L1176.1,1288.0 L1178.6,1290.2 L1181.1,1292.3 L1183.9,1294.7 L1186.6,1297.1 L1188.5,1298.8 M1128.6,1209.0 L1130.7,1211.5 L1133.6,1215.0 L1136.6,1218.4 L1139.5,1221.3 L1142.6,1224.0 L1145.5,1226.9 L1148.2,1230.0 L1150.7,1233.3 L1153.2,1236.6 L1155.7,1239.8 L1158.2,1243.2 L1160.5,1246.5 L1162.7,1250.0 L1164.8,1253.6 L1166.8,1257.2 L1168.7,1260.8 L1170.6,1264.4 L1172.4,1268.2 L1174.1,1272.4 L1175.7,1276.7 L1176.8,1279.7 M1166.8,1257.2 L1168.8,1258.8 L1171.6,1261.3 L1174.3,1263.8 L1176.6,1266.2 L1178.9,1268.7 L1181.0,1271.3 L1183.0,1274.4 L1184.8,1277.7 L1186.0,1280.0 M1130.1,1208.9 L1131.1,1211.3 L1132.6,1214.8 L1134.4,1218.1 L1136.5,1220.8 L1139.0,1223.2 L1141.5,1225.4 L1144.2,1227.6 L1146.9,1229.6 L1149.7,1231.6 L1152.4,1233.7 L1155.1,1235.7 L1157.7,1237.9 L1160.3,1240.1 L1162.9,1242.3 L1165.4,1244.5 L1168.1,1246.7 L1170.7,1248.9 L1173.3,1251.1 L1176.1,1253.6 L1178.9,1256.1 L1180.9,1257.9 M1141.5,1225.4 L1141.8,1226.8 L1142.1,1228.8 L1142.3,1230.8 L1142.3,1232.6 L1142.2,1234.5 L1141.9,1236.2 L1141.4,1238.2 L1140.7,1240.1 L1140.3,1241.4 M1157.7,1237.9 L1159.8,1237.3 L1162.7,1236.6 L1165.6,1236.0 L1168.3,1235.8 L1171.1,1235.7 L1173.8,1235.7 L1176.8,1235.8 L1179.8,1235.9 L1181.9,1236.0 M1165.4,1244.5 L1167.3,1244.9 L1170.0,1245.4 L1172.7,1245.7 L1175.2,1245.5 L1177.6,1245.2 L1180.0,1245.0 L1182.7,1245.3 L1185.4,1245.9 L1187.3,1246.2 M1129.1,1208.4 L1130.8,1210.3 L1133.3,1212.9 L1135.9,1215.4 L1138.4,1217.4 L1141.0,1219.4 L1143.8,1221.1 L1146.8,1222.3 L1149.8,1223.4 L1152.8,1224.7 L1155.5,1226.6 L1158.0,1228.6 L1160.5,1230.7 L1163.1,1232.6 L1165.7,1234.5 L1168.3,1236.5 L1170.7,1238.7 L1172.9,1241.0 L1175.4,1243.2 L1178.4,1245.2 L1181.5,1247.0 L1183.7,1248.2 M1152.8,1224.7 L1154.7,1225.2 L1157.4,1225.9 L1160.1,1226.3 L1162.6,1226.3 L1165.1,1226.0 L1167.6,1225.9 L1170.4,1226.2 L1173.1,1226.7 L1175.0,1227.1" fill="none" stroke="#46352a" stroke-width="2.3" stroke-linecap="round" stroke-linejoin="round"/><path d="M1130.4,1208.9 L1128.4,1211.4 L1125.7,1215.0 L1122.8,1218.5 L1120.1,1221.6 L1117.4,1224.6 L1114.6,1227.6 L1111.8,1230.6 L1108.9,1233.6 L1105.9,1236.2 L1102.5,1238.6 L1099.0,1240.6 L1095.3,1242.4 L1091.5,1244.0 L1087.7,1245.3 L1083.8,1246.8 L1080.1,1248.4 L1076.3,1250.0 L1072.7,1251.9 L1068.9,1254.4 L1065.3,1257.1 L1062.7,1259.0 M1072.7,1251.9 L1072.5,1254.1 L1072.2,1257.2 L1071.7,1260.3 L1071.0,1263.0 L1070.0,1265.7 L1069.1,1268.4 L1068.2,1271.4 L1067.4,1274.4 L1066.8,1276.5 M1105.9,1236.2 L1103.7,1236.5 L1100.5,1236.9 L1097.4,1237.5 L1094.7,1238.5 L1092.1,1239.7 L1089.5,1240.7 L1086.4,1241.5 L1083.3,1242.2 L1081.1,1242.7 M1129.4,1208.9 L1126.9,1211.1 L1123.3,1214.2 L1119.9,1217.5 L1117.2,1220.8 L1114.7,1224.2 L1112.1,1227.6 L1109.2,1230.8 L1106.2,1233.8 L1103.4,1237.0 L1101.0,1240.5 L1098.9,1244.2 L1096.4,1247.6 L1093.3,1250.6 L1089.9,1253.2 L1086.7,1256.0 L1083.8,1259.1 L1081.0,1262.4 L1078.3,1265.7 L1075.5,1269.4 L1072.7,1273.3 L1070.7,1275.9 M1112.1,1227.6 L1112.3,1229.1 L1112.5,1231.2 L1112.7,1233.2 L1112.7,1235.1 L1112.6,1237.0 L1112.7,1238.9 L1113.2,1240.9 L1113.7,1242.9 L1114.2,1244.3 M1096.4,1247.6 L1094.7,1247.8 L1092.2,1248.1 L1089.9,1248.6 L1087.8,1249.3 L1085.8,1250.2 L1083.8,1251.1 L1081.5,1252.0 L1079.3,1252.9 L1077.7,1253.6 M1129.9,1208.6 L1128.5,1211.0 L1126.5,1214.4 L1124.4,1217.8 L1122.4,1220.8 L1120.4,1223.7 L1118.3,1226.6 L1116.2,1229.6 L1114.1,1232.5 L1111.9,1235.2 L1109.3,1237.7 L1106.5,1240.0 L1103.9,1242.4 L1101.4,1245.0 L1099.1,1247.7 L1096.9,1250.5 L1095.0,1253.6 L1093.2,1256.7 L1091.3,1259.7 L1088.8,1262.8 L1086.2,1265.8 L1084.3,1267.9 M1118.3,1226.6 L1118.5,1227.9 L1118.8,1229.6 L1118.9,1231.3 L1118.8,1232.9 L1118.5,1234.4 L1118.3,1236.0 L1118.3,1237.8 L1118.3,1239.5 L1118.4,1240.7 M1096.9,1250.5 L1095.4,1250.3 L1093.2,1250.0 L1091.1,1249.9 L1089.1,1250.0 L1087.2,1250.3 L1085.3,1250.7 L1083.3,1251.3 L1081.3,1252.1 L1079.8,1252.7 M1129.6,1209.2 L1128.3,1212.0 L1126.4,1216.1 L1124.7,1220.1 L1123.4,1223.9 L1122.1,1227.7 L1120.8,1231.4 L1119.2,1235.1 L1117.4,1238.7 L1115.6,1242.2 L1113.5,1245.6 L1111.3,1248.9 L1108.9,1252.1 L1106.3,1255.1 L1103.6,1258.0 L1100.8,1260.9 L1098.0,1263.7 L1095.1,1266.5 L1092.2,1269.2 L1088.9,1272.1 L1085.5,1275.0 L1083.1,1277.0 M1115.6,1242.2 L1113.6,1242.2 L1110.8,1242.3 L1108.0,1242.6 L1105.5,1243.2 L1103.1,1243.9 L1100.7,1244.7 L1098.2,1245.8 L1095.7,1247.1 L1093.9,1248.0 M1127.8,1210.3 L1126.9,1213.7 L1125.7,1218.6 L1124.3,1223.4 L1123.1,1227.8 L1121.7,1232.1 L1120.2,1236.3 L1118.5,1240.5 L1116.6,1244.6 L1114.4,1248.6 L1111.9,1252.3 L1109.1,1255.9 L1106.2,1259.4 L1103.1,1262.7 L1099.9,1265.9 L1097.0,1269.3 L1094.4,1273.0 L1092.1,1276.9 L1089.7,1280.8 L1086.8,1284.8 L1083.7,1288.8 L1081.6,1291.6 M1106.2,1259.4 L1104.7,1259.9 L1102.6,1260.6 L1100.6,1261.4 L1098.7,1262.1 L1096.9,1262.9 L1095.1,1263.7 L1093.2,1264.8 L1091.3,1266.0 L1090.0,1266.9 M1114.4,1248.6 L1114.9,1250.6 L1115.6,1253.5 L1116.5,1256.4 L1117.5,1258.9 L1118.6,1261.3 L1119.6,1263.8 L1120.5,1266.7 L1121.2,1269.6 L1121.7,1271.7 M1106.2,1259.4 L1104.0,1260.1 L1100.8,1261.1 L1097.7,1262.1 L1094.9,1263.1 L1092.1,1264.2 L1089.3,1265.2 L1086.3,1266.4 L1083.2,1267.6 L1081.0,1268.4 M1130.4,1208.5 L1130.2,1212.0 L1129.9,1217.0 L1129.2,1221.9 L1128.0,1226.2 L1126.4,1230.4 L1124.7,1234.6 L1123.0,1238.7 L1121.2,1242.8 L1119.2,1246.9 L1116.9,1250.7 L1114.4,1254.5 L1112.4,1258.5 L1111.1,1262.8 L1110.3,1267.2 L1109.1,1271.5 L1107.5,1275.7 L1105.5,1279.7 L1103.6,1283.8 L1101.6,1288.4 L1099.6,1292.9 L1098.2,1296.1 M1103.6,1283.8 L1101.5,1284.5 L1098.6,1285.5 L1095.6,1286.5 L1093.0,1287.5 L1090.3,1288.5 L1087.8,1289.6 L1084.9,1291.0 L1082.2,1292.4 L1080.2,1293.5 M1119.2,1246.9 L1119.2,1249.5 L1119.4,1253.3 L1119.5,1257.1 L1119.7,1260.5 L1119.9,1263.9 L1120.1,1267.3 L1120.2,1271.1 L1120.3,1274.8 L1120.4,1277.5 M1127.5,1210.7 L1126.9,1213.6 L1126.1,1217.6 L1125.2,1221.7 L1124.3,1225.3 L1123.4,1229.0 L1122.3,1232.5 L1120.9,1236.0 L1119.4,1239.4 L1117.8,1242.8 L1116.1,1246.2 L1114.4,1249.5 L1112.8,1252.9 L1111.8,1256.5 L1111.1,1260.2 L1110.1,1263.8 L1108.7,1267.3 L1107.2,1270.7 L1105.6,1274.1 L1103.8,1277.8 L1101.9,1281.5 L1100.6,1284.1 M1112.8,1252.9 L1111.6,1253.5 L1109.9,1254.3 L1108.2,1255.2 L1106.8,1256.2 L1105.5,1257.3 L1104.1,1258.2 L1102.3,1259.0 L1100.6,1259.7 L1099.3,1260.2 M1105.6,1274.1 L1104.4,1274.4 L1102.6,1274.9 L1100.9,1275.2 L1099.3,1275.4 L1097.6,1275.4 L1096.0,1275.5 L1094.3,1275.9 L1092.6,1276.5 L1091.4,1276.9 M1105.6,1274.1 L1103.9,1274.9 L1101.6,1276.1 L1099.2,1277.3 L1097.1,1278.3 L1094.9,1279.1 L1092.7,1280.0 L1090.3,1281.1 L1087.9,1282.2 L1086.2,1282.9 M1128.7,1208.0 L1129.3,1211.8 L1130.2,1217.1 L1130.9,1222.4 L1131.1,1227.3 L1131.2,1232.1 L1131.4,1237.0 L1132.0,1241.8 L1132.7,1246.6 L1133.6,1251.4 L1134.9,1256.1 L1136.2,1260.8 L1137.1,1265.5 L1137.1,1270.3 L1136.7,1275.2 L1136.5,1280.1 L1136.9,1285.0 L1137.5,1290.0 L1137.9,1294.6 L1138.0,1299.0 L1137.9,1303.1 L1137.8,1306.0 M1131.4,1237.0 L1133.2,1239.2 L1135.8,1242.3 L1138.5,1245.3 L1141.2,1247.8 L1144.0,1250.1 L1146.9,1252.4 L1149.9,1255.1 L1152.9,1257.8 L1155.0,1259.7 M1137.1,1265.5 L1136.3,1267.6 L1135.1,1270.5 L1133.9,1273.5 L1132.9,1276.1 L1131.9,1278.8 L1130.7,1281.4 L1129.0,1284.0 L1127.2,1286.7 L1125.9,1288.5 M1129.2,1210.4 L1128.9,1214.1 L1128.6,1219.4 L1128.3,1224.7 L1128.2,1229.6 L1128.2,1234.4 L1128.5,1239.1 L1129.4,1243.8 L1130.6,1248.5 L1132.0,1253.1 L1133.4,1257.7 L1134.9,1262.3 L1136.4,1266.8 L1137.6,1271.5 L1138.8,1276.1 L1140.2,1280.7 L1141.9,1285.3 L1143.7,1289.8 L1145.4,1294.2 L1147.2,1298.7 L1148.9,1303.0 L1150.0,1306.0 M1132.0,1253.1 L1134.1,1255.1 L1137.2,1257.8 L1140.4,1260.3 L1143.6,1262.1 L1146.9,1263.7 L1150.1,1265.4 L1153.3,1267.9 L1156.4,1270.7 L1158.5,1272.6 M1128.0,1208.7 L1128.7,1212.3 L1129.7,1217.3 L1130.8,1222.4 L1131.9,1226.9 L1133.0,1231.4 L1134.1,1235.9 L1135.1,1240.5 L1136.0,1245.0 L1137.0,1249.6 L1138.1,1254.1 L1139.2,1258.6 L1140.1,1263.2 L1140.4,1267.8 L1140.6,1272.5 L1141.1,1277.1 L1142.4,1281.5 L1144.1,1285.9 L1145.7,1290.3 L1147.2,1295.2 L1148.6,1300.2 L1149.6,1303.6 M1137.0,1249.6 L1138.1,1250.8 L1139.7,1252.6 L1141.3,1254.5 L1142.7,1256.2 L1144.0,1257.9 L1145.4,1259.6 L1147.2,1261.2 L1149.2,1262.7 L1150.5,1263.7 M1141.1,1277.1 L1139.9,1279.7 L1138.1,1283.4 L1136.3,1287.0 L1134.4,1290.2 L1132.5,1293.3 L1130.7,1296.5 L1129.0,1300.0 L1127.5,1303.5 L1126.4,1306.0 M1140.1,1263.2 L1138.4,1265.2 L1136.1,1268.0 L1133.9,1271.0 L1132.1,1273.8 L1130.6,1276.7 L1129.2,1279.8 L1128.1,1283.3 L1127.2,1286.9 L1126.6,1289.4 M1127.8,1210.5 L1129.1,1212.9 L1131.0,1216.4 L1132.9,1219.9 L1134.7,1223.0 L1136.5,1226.1 L1138.3,1229.1 L1140.2,1232.1 L1142.2,1235.1 L1144.3,1238.0 L1146.4,1240.9 L1148.6,1243.8 L1150.5,1246.7 L1152.2,1249.9 L1153.6,1253.2 L1154.9,1256.5 L1155.9,1259.9 L1156.8,1263.4 L1158.0,1266.8 L1159.8,1270.3 L1161.8,1273.7 L1163.3,1276.1 M1154.9,1256.5 L1155.9,1257.2 L1157.4,1258.2 L1159.0,1259.1 L1160.5,1259.6 L1162.0,1260.1 L1163.5,1260.7 L1165.1,1261.5 L1166.7,1262.3 L1167.8,1263.0 M1150.5,1246.7 L1150.2,1248.5 L1149.8,1251.0 L1149.4,1253.5 L1149.2,1255.8 L1149.0,1258.1 L1148.9,1260.4 L1148.6,1263.0 L1148.4,1265.5 L1148.3,1267.3 M1154.9,1256.5 L1156.5,1256.8 L1158.9,1257.2 L1161.2,1257.7 L1163.2,1258.3 L1165.2,1259.1 L1167.2,1259.9 L1169.4,1260.8 L1171.6,1261.7 L1173.1,1262.4 M1129.7,1210.1 L1130.5,1213.5 L1131.8,1218.2 L1133.3,1222.9 L1135.2,1226.9 L1137.4,1230.8 L1139.7,1234.5 L1142.4,1238.1 L1145.2,1241.5 L1147.7,1245.1 L1149.6,1249.1 L1151.1,1253.3 L1152.8,1257.4 L1154.9,1261.3 L1157.2,1265.1 L1159.4,1268.9 L1161.3,1272.9 L1163.2,1276.9 L1165.1,1280.9 L1167.4,1285.3 L1169.6,1289.6 L1171.2,1292.7 M1165.1,1280.9 L1167.3,1282.2 L1170.5,1284.0 L1173.5,1286.0 L1176.1,1288.0 L1178.6,1290.2 L1181.1,1292.3 L1183.9,1294.7 L1186.6,1297.1 L1188.5,1298.8 M1128.6,1209.0 L1130.7,1211.5 L1133.6,1215.0 L1136.6,1218.4 L1139.5,1221.3 L1142.6,1224.0 L1145.5,1226.9 L1148.2,1230.0 L1150.7,1233.3 L1153.2,1236.6 L1155.7,1239.8 L1158.2,1243.2 L1160.5,1246.5 L1162.7,1250.0 L1164.8,1253.6 L1166.8,1257.2 L1168.7,1260.8 L1170.6,1264.4 L1172.4,1268.2 L1174.1,1272.4 L1175.7,1276.7 L1176.8,1279.7 M1166.8,1257.2 L1168.8,1258.8 L1171.6,1261.3 L1174.3,1263.8 L1176.6,1266.2 L1178.9,1268.7 L1181.0,1271.3 L1183.0,1274.4 L1184.8,1277.7 L1186.0,1280.0 M1130.1,1208.9 L1131.1,1211.3 L1132.6,1214.8 L1134.4,1218.1 L1136.5,1220.8 L1139.0,1223.2 L1141.5,1225.4 L1144.2,1227.6 L1146.9,1229.6 L1149.7,1231.6 L1152.4,1233.7 L1155.1,1235.7 L1157.7,1237.9 L1160.3,1240.1 L1162.9,1242.3 L1165.4,1244.5 L1168.1,1246.7 L1170.7,1248.9 L1173.3,1251.1 L1176.1,1253.6 L1178.9,1256.1 L1180.9,1257.9 M1141.5,1225.4 L1141.8,1226.8 L1142.1,1228.8 L1142.3,1230.8 L1142.3,1232.6 L1142.2,1234.5 L1141.9,1236.2 L1141.4,1238.2 L1140.7,1240.1 L1140.3,1241.4 M1157.7,1237.9 L1159.8,1237.3 L1162.7,1236.6 L1165.6,1236.0 L1168.3,1235.8 L1171.1,1235.7 L1173.8,1235.7 L1176.8,1235.8 L1179.8,1235.9 L1181.9,1236.0 M1165.4,1244.5 L1167.3,1244.9 L1170.0,1245.4 L1172.7,1245.7 L1175.2,1245.5 L1177.6,1245.2 L1180.0,1245.0 L1182.7,1245.3 L1185.4,1245.9 L1187.3,1246.2 M1129.1,1208.4 L1130.8,1210.3 L1133.3,1212.9 L1135.9,1215.4 L1138.4,1217.4 L1141.0,1219.4 L1143.8,1221.1 L1146.8,1222.3 L1149.8,1223.4 L1152.8,1224.7 L1155.5,1226.6 L1158.0,1228.6 L1160.5,1230.7 L1163.1,1232.6 L1165.7,1234.5 L1168.3,1236.5 L1170.7,1238.7 L1172.9,1241.0 L1175.4,1243.2 L1178.4,1245.2 L1181.5,1247.0 L1183.7,1248.2 M1152.8,1224.7 L1154.7,1225.2 L1157.4,1225.9 L1160.1,1226.3 L1162.6,1226.3 L1165.1,1226.0 L1167.6,1225.9 L1170.4,1226.2 L1173.1,1226.7 L1175.0,1227.1" fill="none" stroke="#9c8466" stroke-width="0.64" stroke-linecap="round"/><path d="M1398.1,1208.5 L1395.7,1210.7 L1392.4,1213.8 L1389.3,1217.0 L1386.7,1220.2 L1384.3,1223.6 L1381.7,1226.7 L1378.7,1229.4 L1375.5,1232.0 L1372.2,1234.3 L1368.7,1236.4 L1365.1,1238.3 L1361.5,1240.2 L1357.8,1242.1 L1354.2,1243.9 L1350.5,1245.7 L1346.8,1247.4 L1343.2,1249.2 L1339.5,1250.9 L1335.4,1252.9 L1331.4,1254.9 L1328.5,1256.4 M1381.7,1226.7 L1381.4,1228.0 L1380.9,1229.9 L1380.6,1231.8 L1380.4,1233.5 L1380.4,1235.3 L1380.5,1237.0 L1380.8,1238.9 L1381.2,1240.8 L1381.5,1242.2 M1381.7,1226.7 L1381.0,1228.8 L1379.9,1231.8 L1378.8,1234.8 L1377.8,1237.6 L1376.7,1240.3 L1375.5,1242.9 L1373.8,1245.6 L1371.9,1248.2 L1370.6,1250.1 M1397.7,1209.0 L1395.5,1211.3 L1392.4,1214.7 L1389.5,1218.3 L1387.1,1221.6 L1384.9,1225.1 L1382.6,1228.6 L1380.4,1232.1 L1378.3,1235.6 L1376.1,1239.1 L1373.9,1242.6 L1371.8,1246.1 L1369.6,1249.7 L1367.8,1253.4 L1366.0,1257.1 L1363.9,1260.6 L1361.2,1263.8 L1358.3,1266.7 L1355.4,1269.7 L1352.2,1273.0 L1349.1,1276.3 L1346.9,1278.7 M1382.6,1228.6 L1381.2,1229.0 L1379.1,1229.7 L1377.0,1230.2 L1375.0,1230.4 L1373.1,1230.4 L1371.1,1230.6 L1369.0,1230.9 L1366.8,1231.3 L1365.3,1231.6 M1382.6,1228.6 L1382.8,1230.7 L1383.0,1233.7 L1383.3,1236.7 L1383.9,1239.3 L1384.7,1241.9 L1385.4,1244.5 L1386.1,1247.4 L1386.9,1250.4 L1387.4,1252.4 M1363.9,1260.6 L1362.3,1260.2 L1360.0,1259.6 L1357.7,1259.0 L1355.6,1258.4 L1353.6,1257.7 L1351.6,1256.9 L1349.5,1255.8 L1347.5,1254.6 L1346.1,1253.7 M1396.9,1207.9 L1395.4,1210.2 L1393.2,1213.6 L1391.1,1216.9 L1389.3,1220.1 L1387.5,1223.2 L1385.7,1226.3 L1383.7,1229.4 L1381.7,1232.3 L1379.5,1235.2 L1377.2,1238.0 L1374.8,1240.6 L1372.4,1243.4 L1370.4,1246.3 L1368.4,1249.3 L1366.2,1252.2 L1363.7,1254.7 L1361.0,1257.1 L1358.2,1259.5 L1355.2,1262.1 L1352.1,1264.7 L1350.0,1266.5 M1366.2,1252.2 L1364.5,1252.2 L1362.1,1252.2 L1359.7,1252.4 L1357.5,1253.0 L1355.5,1253.7 L1353.4,1254.2 L1351.0,1254.6 L1348.5,1254.8 L1346.8,1254.9 M1372.4,1243.4 L1371.1,1243.5 L1369.1,1243.8 L1367.2,1244.0 L1365.5,1244.2 L1363.7,1244.4 L1362.0,1244.5 L1360.0,1244.4 L1358.1,1244.1 L1356.7,1244.0 M1358.2,1259.5 L1357.7,1261.3 L1356.9,1264.0 L1356.2,1266.7 L1355.7,1269.1 L1355.2,1271.5 L1354.7,1274.0 L1354.4,1276.7 L1354.0,1279.5 L1353.8,1281.4 M1398.5,1209.9 L1397.5,1212.6 L1396.2,1216.6 L1394.7,1220.5 L1393.2,1223.9 L1391.5,1227.3 L1389.7,1230.6 L1387.9,1233.9 L1385.9,1237.1 L1384.2,1240.4 L1382.7,1243.9 L1381.4,1247.5 L1379.9,1250.9 L1377.8,1254.0 L1375.5,1257.0 L1373.2,1259.9 L1371.0,1263.0 L1368.8,1266.1 L1366.5,1269.0 L1363.5,1272.0 L1360.4,1274.7 L1358.2,1276.7 M1384.2,1240.4 L1382.5,1241.1 L1380.0,1242.1 L1377.5,1242.9 L1375.2,1243.4 L1372.9,1243.8 L1370.5,1244.1 L1367.9,1244.3 L1365.3,1244.5 L1363.5,1244.6 M1366.5,1269.0 L1366.5,1271.1 L1366.4,1274.0 L1366.3,1277.0 L1366.0,1279.6 L1365.6,1282.2 L1365.4,1284.9 L1365.3,1287.8 L1365.4,1290.7 L1365.5,1292.8 M1398.2,1209.5 L1397.7,1212.7 L1397.0,1217.3 L1396.3,1222.0 L1395.9,1226.2 L1395.5,1230.4 L1394.8,1234.5 L1393.5,1238.5 L1391.9,1242.5 L1390.0,1246.2 L1387.7,1249.8 L1385.2,1253.2 L1382.9,1256.7 L1381.4,1260.6 L1380.1,1264.7 L1378.5,1268.6 L1376.5,1272.2 L1374.2,1275.8 L1372.0,1279.4 L1369.9,1283.6 L1367.9,1287.8 L1366.6,1290.8 M1382.9,1256.7 L1383.5,1258.9 L1384.2,1262.1 L1384.8,1265.3 L1384.9,1268.2 L1385.0,1271.1 L1385.2,1274.0 L1385.8,1277.2 L1386.6,1280.3 L1387.2,1282.5 M1398.4,1209.0 L1397.5,1212.3 L1396.2,1216.9 L1394.9,1221.6 L1393.8,1225.8 L1392.7,1230.1 L1391.8,1234.4 L1391.3,1238.7 L1391.0,1243.1 L1390.3,1247.4 L1388.9,1251.5 L1387.1,1255.5 L1385.4,1259.5 L1383.8,1263.6 L1382.2,1267.7 L1380.6,1271.7 L1379.0,1275.8 L1377.4,1279.9 L1376.0,1284.0 L1374.8,1288.7 L1373.7,1293.4 L1372.9,1296.8 M1385.4,1259.5 L1386.0,1262.2 L1386.9,1266.0 L1388.1,1269.7 L1389.7,1272.9 L1391.6,1275.9 L1393.3,1279.0 L1394.7,1282.6 L1395.9,1286.4 L1396.8,1289.0 M1398.6,1208.5 L1398.9,1211.9 L1399.2,1216.6 L1399.5,1221.3 L1399.7,1225.6 L1399.9,1229.9 L1399.7,1234.1 L1398.9,1238.3 L1397.7,1242.4 L1396.7,1246.5 L1396.1,1250.8 L1395.7,1255.0 L1395.4,1259.3 L1395.2,1263.5 L1395.0,1267.8 L1394.7,1272.0 L1393.9,1276.2 L1393.0,1280.4 L1392.3,1284.6 L1391.9,1289.3 L1391.7,1294.1 L1391.6,1297.4 M1395.4,1259.3 L1394.6,1260.8 L1393.3,1263.0 L1392.1,1265.2 L1391.0,1267.2 L1389.9,1269.2 L1388.6,1271.1 L1386.9,1273.0 L1385.1,1274.8 L1383.9,1276.1 M1398.2,1208.1 L1398.6,1211.4 L1399.1,1216.2 L1399.7,1220.9 L1400.3,1225.2 L1400.9,1229.5 L1401.3,1233.7 L1401.3,1238.0 L1401.1,1242.4 L1400.8,1246.7 L1400.3,1251.0 L1399.8,1255.3 L1399.6,1259.5 L1400.0,1263.8 L1400.8,1268.1 L1401.3,1272.4 L1401.2,1276.7 L1400.9,1281.0 L1400.5,1285.3 L1400.3,1290.1 L1400.0,1294.8 L1399.8,1298.2 M1401.3,1233.7 L1401.7,1235.4 L1402.2,1237.7 L1402.6,1240.0 L1402.7,1242.1 L1402.7,1244.3 L1402.7,1246.4 L1402.7,1248.8 L1402.8,1251.2 L1402.8,1252.8 M1401.3,1272.4 L1402.8,1273.7 L1404.9,1275.7 L1406.9,1277.7 L1408.4,1279.8 L1409.7,1282.0 L1411.0,1284.3 L1412.2,1286.9 L1413.3,1289.5 L1414.1,1291.4 M1398.9,1208.3 L1398.6,1211.2 L1398.3,1215.5 L1398.1,1219.8 L1398.2,1223.6 L1398.4,1227.5 L1398.5,1231.4 L1398.3,1235.2 L1398.0,1239.0 L1397.6,1242.9 L1397.1,1246.7 L1396.6,1250.5 L1396.3,1254.4 L1396.4,1258.2 L1396.7,1262.1 L1396.8,1265.9 L1396.4,1269.8 L1395.9,1273.6 L1395.6,1277.4 L1395.9,1281.7 L1396.5,1286.0 L1396.9,1288.9 M1395.6,1277.4 L1393.8,1279.1 L1391.3,1281.5 L1388.6,1283.7 L1386.0,1285.5 L1383.4,1287.2 L1380.8,1289.0 L1378.3,1291.4 L1375.8,1293.9 L1374.1,1295.6 M1398.5,1231.4 L1399.4,1232.5 L1400.7,1234.1 L1401.9,1235.8 L1403.0,1237.3 L1403.9,1238.9 L1404.8,1240.6 L1405.9,1242.4 L1406.9,1244.2 L1407.6,1245.4 M1397.0,1209.4 L1397.4,1212.2 L1398.0,1216.2 L1398.8,1220.1 L1400.0,1223.5 L1401.4,1226.8 L1402.8,1230.2 L1404.0,1233.6 L1405.2,1237.0 L1406.4,1240.4 L1407.8,1243.7 L1409.2,1247.1 L1410.5,1250.4 L1411.6,1253.9 L1412.6,1257.3 L1413.5,1260.8 L1414.3,1264.3 L1415.1,1267.9 L1416.0,1271.4 L1417.4,1275.1 L1419.0,1278.8 L1420.2,1281.3 M1410.5,1250.4 L1410.6,1251.7 L1410.7,1253.4 L1410.7,1255.2 L1410.5,1256.7 L1410.2,1258.3 L1409.9,1259.9 L1409.6,1261.6 L1409.3,1263.3 L1409.0,1264.5 M1402.8,1230.2 L1401.8,1231.9 L1400.4,1234.3 L1399.2,1236.8 L1398.5,1239.2 L1398.0,1241.6 L1397.4,1244.1 L1396.4,1246.7 L1395.4,1249.3 L1394.7,1251.1 M1406.4,1240.4 L1405.8,1241.5 L1404.9,1243.0 L1404.0,1244.5 L1403.0,1245.7 L1401.9,1246.9 L1400.9,1248.1 L1399.8,1249.6 L1398.8,1251.0 L1398.1,1252.0 M1398.4,1207.3 L1399.8,1209.8 L1401.9,1213.4 L1404.1,1216.9 L1406.2,1220.0 L1408.4,1223.0 L1410.3,1226.1 L1411.8,1229.5 L1413.1,1233.0 L1414.5,1236.4 L1416.1,1239.8 L1417.7,1243.1 L1419.2,1246.5 L1420.5,1250.0 L1421.6,1253.5 L1422.9,1257.0 L1424.3,1260.4 L1425.8,1263.8 L1427.3,1267.3 L1428.7,1271.1 L1430.0,1275.0 L1430.9,1277.8 M1427.3,1267.3 L1428.4,1267.7 L1430.1,1268.2 L1431.8,1268.8 L1433.3,1269.4 L1434.8,1269.9 L1436.3,1270.4 L1438.0,1270.9 L1439.7,1271.3 L1441.0,1271.6 M1398.4,1207.5 L1399.7,1209.9 L1401.6,1213.4 L1403.6,1216.7 L1405.8,1219.5 L1408.2,1222.1 L1410.4,1224.8 L1412.3,1227.8 L1414.1,1230.8 L1415.7,1234.0 L1417.2,1237.2 L1418.5,1240.5 L1420.0,1243.6 L1421.8,1246.7 L1423.7,1249.6 L1425.8,1252.5 L1427.8,1255.4 L1429.8,1258.2 L1431.9,1261.1 L1434.2,1264.3 L1436.5,1267.4 L1438.1,1269.7 M1431.9,1261.1 L1431.4,1262.7 L1430.6,1265.1 L1429.8,1267.4 L1428.8,1269.4 L1427.7,1271.3 L1426.7,1273.3 L1425.5,1275.5 L1424.4,1277.7 L1423.6,1279.2 M1397.1,1207.0 L1399.2,1209.3 L1402.3,1212.5 L1405.4,1215.6 L1408.3,1218.3 L1411.2,1221.1 L1414.2,1223.7 L1417.3,1226.2 L1420.4,1228.6 L1423.6,1230.9 L1426.9,1233.2 L1430.2,1235.4 L1433.4,1237.7 L1436.4,1240.3 L1439.3,1243.1 L1442.1,1245.9 L1444.4,1249.1 L1446.7,1252.4 L1449.1,1255.5 L1452.4,1258.5 L1455.8,1261.3 L1458.3,1263.2 M1414.2,1223.7 L1415.5,1223.7 L1417.4,1223.7 L1419.3,1223.7 L1421.0,1223.6 L1422.7,1223.5 L1424.4,1223.3 L1426.3,1223.3 L1428.2,1223.2 L1429.5,1223.1 M1433.4,1237.7 L1435.2,1237.2 L1437.7,1236.5 L1440.2,1235.6 L1442.4,1234.7 L1444.6,1233.6 L1446.7,1232.7 L1449.2,1231.7 L1451.7,1230.9 L1453.5,1230.3 M1442.1,1245.9 L1442.2,1247.9 L1442.5,1250.7 L1442.7,1253.5 L1442.9,1256.0 L1443.0,1258.6 L1442.9,1261.1 L1442.5,1263.9 L1441.9,1266.6 L1441.4,1268.5 M1397.2,1209.3 L1399.3,1211.5 L1402.4,1214.5 L1405.6,1217.4 L1408.8,1219.7 L1412.1,1221.7 L1415.4,1223.8 L1418.7,1225.9 L1422.0,1227.9 L1425.3,1230.0 L1428.4,1232.3 L1431.6,1234.6 L1434.6,1237.0 L1437.7,1239.4 L1440.6,1242.0 L1443.4,1244.6 L1446.0,1247.5 L1448.4,1250.6 L1451.0,1253.5 L1454.1,1256.5 L1457.3,1259.4 L1459.6,1261.4 M1415.4,1223.8 L1415.8,1226.1 L1416.5,1229.3 L1417.1,1232.5 L1417.7,1235.4 L1418.3,1238.3 L1418.8,1241.2 L1419.2,1244.5 L1419.5,1247.7 L1419.7,1250.0 M1443.4,1244.6 L1443.3,1246.0 L1443.0,1248.1 L1442.8,1250.1 L1442.4,1251.9 L1442.0,1253.7 L1441.6,1255.4 L1441.2,1257.4 L1440.8,1259.4 L1440.5,1260.8 M1399.3,1209.8 L1401.7,1212.1 L1405.2,1215.4 L1408.9,1218.5 L1412.4,1220.9 L1416.2,1223.0 L1419.9,1225.2 L1423.6,1227.4 L1427.2,1229.7 L1430.8,1232.1 L1434.2,1234.7 L1437.4,1237.6 L1440.6,1240.5 L1443.6,1243.5 L1446.6,1246.6 L1449.5,1249.8 L1452.4,1253.0 L1455.2,1256.3 L1458.2,1259.4 L1461.9,1262.3 L1465.9,1264.9 L1468.7,1266.8 M1458.2,1259.4 L1458.5,1262.1 L1458.9,1265.9 L1459.4,1269.8 L1460.1,1273.3 L1460.8,1276.7 L1461.9,1280.0 L1463.5,1283.6 L1465.3,1287.0 L1466.6,1289.4 M1440.6,1240.5 L1442.6,1240.2 L1445.5,1239.7 L1448.4,1239.4 L1451.0,1239.6 L1453.6,1240.0 L1456.2,1240.2 L1459.1,1239.9 L1462.0,1239.4 L1464.0,1239.0 M1440.6,1240.5 L1442.4,1240.4 L1444.9,1240.2 L1447.4,1239.8 L1449.6,1239.1 L1451.8,1238.2 L1453.9,1237.5 L1456.4,1236.8 L1458.9,1236.3 L1460.6,1235.9" fill="none" stroke="#46352a" stroke-width="2.3" stroke-linecap="round" stroke-linejoin="round"/><path d="M1398.1,1208.5 L1395.7,1210.7 L1392.4,1213.8 L1389.3,1217.0 L1386.7,1220.2 L1384.3,1223.6 L1381.7,1226.7 L1378.7,1229.4 L1375.5,1232.0 L1372.2,1234.3 L1368.7,1236.4 L1365.1,1238.3 L1361.5,1240.2 L1357.8,1242.1 L1354.2,1243.9 L1350.5,1245.7 L1346.8,1247.4 L1343.2,1249.2 L1339.5,1250.9 L1335.4,1252.9 L1331.4,1254.9 L1328.5,1256.4 M1381.7,1226.7 L1381.4,1228.0 L1380.9,1229.9 L1380.6,1231.8 L1380.4,1233.5 L1380.4,1235.3 L1380.5,1237.0 L1380.8,1238.9 L1381.2,1240.8 L1381.5,1242.2 M1381.7,1226.7 L1381.0,1228.8 L1379.9,1231.8 L1378.8,1234.8 L1377.8,1237.6 L1376.7,1240.3 L1375.5,1242.9 L1373.8,1245.6 L1371.9,1248.2 L1370.6,1250.1 M1397.7,1209.0 L1395.5,1211.3 L1392.4,1214.7 L1389.5,1218.3 L1387.1,1221.6 L1384.9,1225.1 L1382.6,1228.6 L1380.4,1232.1 L1378.3,1235.6 L1376.1,1239.1 L1373.9,1242.6 L1371.8,1246.1 L1369.6,1249.7 L1367.8,1253.4 L1366.0,1257.1 L1363.9,1260.6 L1361.2,1263.8 L1358.3,1266.7 L1355.4,1269.7 L1352.2,1273.0 L1349.1,1276.3 L1346.9,1278.7 M1382.6,1228.6 L1381.2,1229.0 L1379.1,1229.7 L1377.0,1230.2 L1375.0,1230.4 L1373.1,1230.4 L1371.1,1230.6 L1369.0,1230.9 L1366.8,1231.3 L1365.3,1231.6 M1382.6,1228.6 L1382.8,1230.7 L1383.0,1233.7 L1383.3,1236.7 L1383.9,1239.3 L1384.7,1241.9 L1385.4,1244.5 L1386.1,1247.4 L1386.9,1250.4 L1387.4,1252.4 M1363.9,1260.6 L1362.3,1260.2 L1360.0,1259.6 L1357.7,1259.0 L1355.6,1258.4 L1353.6,1257.7 L1351.6,1256.9 L1349.5,1255.8 L1347.5,1254.6 L1346.1,1253.7 M1396.9,1207.9 L1395.4,1210.2 L1393.2,1213.6 L1391.1,1216.9 L1389.3,1220.1 L1387.5,1223.2 L1385.7,1226.3 L1383.7,1229.4 L1381.7,1232.3 L1379.5,1235.2 L1377.2,1238.0 L1374.8,1240.6 L1372.4,1243.4 L1370.4,1246.3 L1368.4,1249.3 L1366.2,1252.2 L1363.7,1254.7 L1361.0,1257.1 L1358.2,1259.5 L1355.2,1262.1 L1352.1,1264.7 L1350.0,1266.5 M1366.2,1252.2 L1364.5,1252.2 L1362.1,1252.2 L1359.7,1252.4 L1357.5,1253.0 L1355.5,1253.7 L1353.4,1254.2 L1351.0,1254.6 L1348.5,1254.8 L1346.8,1254.9 M1372.4,1243.4 L1371.1,1243.5 L1369.1,1243.8 L1367.2,1244.0 L1365.5,1244.2 L1363.7,1244.4 L1362.0,1244.5 L1360.0,1244.4 L1358.1,1244.1 L1356.7,1244.0 M1358.2,1259.5 L1357.7,1261.3 L1356.9,1264.0 L1356.2,1266.7 L1355.7,1269.1 L1355.2,1271.5 L1354.7,1274.0 L1354.4,1276.7 L1354.0,1279.5 L1353.8,1281.4 M1398.5,1209.9 L1397.5,1212.6 L1396.2,1216.6 L1394.7,1220.5 L1393.2,1223.9 L1391.5,1227.3 L1389.7,1230.6 L1387.9,1233.9 L1385.9,1237.1 L1384.2,1240.4 L1382.7,1243.9 L1381.4,1247.5 L1379.9,1250.9 L1377.8,1254.0 L1375.5,1257.0 L1373.2,1259.9 L1371.0,1263.0 L1368.8,1266.1 L1366.5,1269.0 L1363.5,1272.0 L1360.4,1274.7 L1358.2,1276.7 M1384.2,1240.4 L1382.5,1241.1 L1380.0,1242.1 L1377.5,1242.9 L1375.2,1243.4 L1372.9,1243.8 L1370.5,1244.1 L1367.9,1244.3 L1365.3,1244.5 L1363.5,1244.6 M1366.5,1269.0 L1366.5,1271.1 L1366.4,1274.0 L1366.3,1277.0 L1366.0,1279.6 L1365.6,1282.2 L1365.4,1284.9 L1365.3,1287.8 L1365.4,1290.7 L1365.5,1292.8 M1398.2,1209.5 L1397.7,1212.7 L1397.0,1217.3 L1396.3,1222.0 L1395.9,1226.2 L1395.5,1230.4 L1394.8,1234.5 L1393.5,1238.5 L1391.9,1242.5 L1390.0,1246.2 L1387.7,1249.8 L1385.2,1253.2 L1382.9,1256.7 L1381.4,1260.6 L1380.1,1264.7 L1378.5,1268.6 L1376.5,1272.2 L1374.2,1275.8 L1372.0,1279.4 L1369.9,1283.6 L1367.9,1287.8 L1366.6,1290.8 M1382.9,1256.7 L1383.5,1258.9 L1384.2,1262.1 L1384.8,1265.3 L1384.9,1268.2 L1385.0,1271.1 L1385.2,1274.0 L1385.8,1277.2 L1386.6,1280.3 L1387.2,1282.5 M1398.4,1209.0 L1397.5,1212.3 L1396.2,1216.9 L1394.9,1221.6 L1393.8,1225.8 L1392.7,1230.1 L1391.8,1234.4 L1391.3,1238.7 L1391.0,1243.1 L1390.3,1247.4 L1388.9,1251.5 L1387.1,1255.5 L1385.4,1259.5 L1383.8,1263.6 L1382.2,1267.7 L1380.6,1271.7 L1379.0,1275.8 L1377.4,1279.9 L1376.0,1284.0 L1374.8,1288.7 L1373.7,1293.4 L1372.9,1296.8 M1385.4,1259.5 L1386.0,1262.2 L1386.9,1266.0 L1388.1,1269.7 L1389.7,1272.9 L1391.6,1275.9 L1393.3,1279.0 L1394.7,1282.6 L1395.9,1286.4 L1396.8,1289.0 M1398.6,1208.5 L1398.9,1211.9 L1399.2,1216.6 L1399.5,1221.3 L1399.7,1225.6 L1399.9,1229.9 L1399.7,1234.1 L1398.9,1238.3 L1397.7,1242.4 L1396.7,1246.5 L1396.1,1250.8 L1395.7,1255.0 L1395.4,1259.3 L1395.2,1263.5 L1395.0,1267.8 L1394.7,1272.0 L1393.9,1276.2 L1393.0,1280.4 L1392.3,1284.6 L1391.9,1289.3 L1391.7,1294.1 L1391.6,1297.4 M1395.4,1259.3 L1394.6,1260.8 L1393.3,1263.0 L1392.1,1265.2 L1391.0,1267.2 L1389.9,1269.2 L1388.6,1271.1 L1386.9,1273.0 L1385.1,1274.8 L1383.9,1276.1 M1398.2,1208.1 L1398.6,1211.4 L1399.1,1216.2 L1399.7,1220.9 L1400.3,1225.2 L1400.9,1229.5 L1401.3,1233.7 L1401.3,1238.0 L1401.1,1242.4 L1400.8,1246.7 L1400.3,1251.0 L1399.8,1255.3 L1399.6,1259.5 L1400.0,1263.8 L1400.8,1268.1 L1401.3,1272.4 L1401.2,1276.7 L1400.9,1281.0 L1400.5,1285.3 L1400.3,1290.1 L1400.0,1294.8 L1399.8,1298.2 M1401.3,1233.7 L1401.7,1235.4 L1402.2,1237.7 L1402.6,1240.0 L1402.7,1242.1 L1402.7,1244.3 L1402.7,1246.4 L1402.7,1248.8 L1402.8,1251.2 L1402.8,1252.8 M1401.3,1272.4 L1402.8,1273.7 L1404.9,1275.7 L1406.9,1277.7 L1408.4,1279.8 L1409.7,1282.0 L1411.0,1284.3 L1412.2,1286.9 L1413.3,1289.5 L1414.1,1291.4 M1398.9,1208.3 L1398.6,1211.2 L1398.3,1215.5 L1398.1,1219.8 L1398.2,1223.6 L1398.4,1227.5 L1398.5,1231.4 L1398.3,1235.2 L1398.0,1239.0 L1397.6,1242.9 L1397.1,1246.7 L1396.6,1250.5 L1396.3,1254.4 L1396.4,1258.2 L1396.7,1262.1 L1396.8,1265.9 L1396.4,1269.8 L1395.9,1273.6 L1395.6,1277.4 L1395.9,1281.7 L1396.5,1286.0 L1396.9,1288.9 M1395.6,1277.4 L1393.8,1279.1 L1391.3,1281.5 L1388.6,1283.7 L1386.0,1285.5 L1383.4,1287.2 L1380.8,1289.0 L1378.3,1291.4 L1375.8,1293.9 L1374.1,1295.6 M1398.5,1231.4 L1399.4,1232.5 L1400.7,1234.1 L1401.9,1235.8 L1403.0,1237.3 L1403.9,1238.9 L1404.8,1240.6 L1405.9,1242.4 L1406.9,1244.2 L1407.6,1245.4 M1397.0,1209.4 L1397.4,1212.2 L1398.0,1216.2 L1398.8,1220.1 L1400.0,1223.5 L1401.4,1226.8 L1402.8,1230.2 L1404.0,1233.6 L1405.2,1237.0 L1406.4,1240.4 L1407.8,1243.7 L1409.2,1247.1 L1410.5,1250.4 L1411.6,1253.9 L1412.6,1257.3 L1413.5,1260.8 L1414.3,1264.3 L1415.1,1267.9 L1416.0,1271.4 L1417.4,1275.1 L1419.0,1278.8 L1420.2,1281.3 M1410.5,1250.4 L1410.6,1251.7 L1410.7,1253.4 L1410.7,1255.2 L1410.5,1256.7 L1410.2,1258.3 L1409.9,1259.9 L1409.6,1261.6 L1409.3,1263.3 L1409.0,1264.5 M1402.8,1230.2 L1401.8,1231.9 L1400.4,1234.3 L1399.2,1236.8 L1398.5,1239.2 L1398.0,1241.6 L1397.4,1244.1 L1396.4,1246.7 L1395.4,1249.3 L1394.7,1251.1 M1406.4,1240.4 L1405.8,1241.5 L1404.9,1243.0 L1404.0,1244.5 L1403.0,1245.7 L1401.9,1246.9 L1400.9,1248.1 L1399.8,1249.6 L1398.8,1251.0 L1398.1,1252.0 M1398.4,1207.3 L1399.8,1209.8 L1401.9,1213.4 L1404.1,1216.9 L1406.2,1220.0 L1408.4,1223.0 L1410.3,1226.1 L1411.8,1229.5 L1413.1,1233.0 L1414.5,1236.4 L1416.1,1239.8 L1417.7,1243.1 L1419.2,1246.5 L1420.5,1250.0 L1421.6,1253.5 L1422.9,1257.0 L1424.3,1260.4 L1425.8,1263.8 L1427.3,1267.3 L1428.7,1271.1 L1430.0,1275.0 L1430.9,1277.8 M1427.3,1267.3 L1428.4,1267.7 L1430.1,1268.2 L1431.8,1268.8 L1433.3,1269.4 L1434.8,1269.9 L1436.3,1270.4 L1438.0,1270.9 L1439.7,1271.3 L1441.0,1271.6 M1398.4,1207.5 L1399.7,1209.9 L1401.6,1213.4 L1403.6,1216.7 L1405.8,1219.5 L1408.2,1222.1 L1410.4,1224.8 L1412.3,1227.8 L1414.1,1230.8 L1415.7,1234.0 L1417.2,1237.2 L1418.5,1240.5 L1420.0,1243.6 L1421.8,1246.7 L1423.7,1249.6 L1425.8,1252.5 L1427.8,1255.4 L1429.8,1258.2 L1431.9,1261.1 L1434.2,1264.3 L1436.5,1267.4 L1438.1,1269.7 M1431.9,1261.1 L1431.4,1262.7 L1430.6,1265.1 L1429.8,1267.4 L1428.8,1269.4 L1427.7,1271.3 L1426.7,1273.3 L1425.5,1275.5 L1424.4,1277.7 L1423.6,1279.2 M1397.1,1207.0 L1399.2,1209.3 L1402.3,1212.5 L1405.4,1215.6 L1408.3,1218.3 L1411.2,1221.1 L1414.2,1223.7 L1417.3,1226.2 L1420.4,1228.6 L1423.6,1230.9 L1426.9,1233.2 L1430.2,1235.4 L1433.4,1237.7 L1436.4,1240.3 L1439.3,1243.1 L1442.1,1245.9 L1444.4,1249.1 L1446.7,1252.4 L1449.1,1255.5 L1452.4,1258.5 L1455.8,1261.3 L1458.3,1263.2 M1414.2,1223.7 L1415.5,1223.7 L1417.4,1223.7 L1419.3,1223.7 L1421.0,1223.6 L1422.7,1223.5 L1424.4,1223.3 L1426.3,1223.3 L1428.2,1223.2 L1429.5,1223.1 M1433.4,1237.7 L1435.2,1237.2 L1437.7,1236.5 L1440.2,1235.6 L1442.4,1234.7 L1444.6,1233.6 L1446.7,1232.7 L1449.2,1231.7 L1451.7,1230.9 L1453.5,1230.3 M1442.1,1245.9 L1442.2,1247.9 L1442.5,1250.7 L1442.7,1253.5 L1442.9,1256.0 L1443.0,1258.6 L1442.9,1261.1 L1442.5,1263.9 L1441.9,1266.6 L1441.4,1268.5 M1397.2,1209.3 L1399.3,1211.5 L1402.4,1214.5 L1405.6,1217.4 L1408.8,1219.7 L1412.1,1221.7 L1415.4,1223.8 L1418.7,1225.9 L1422.0,1227.9 L1425.3,1230.0 L1428.4,1232.3 L1431.6,1234.6 L1434.6,1237.0 L1437.7,1239.4 L1440.6,1242.0 L1443.4,1244.6 L1446.0,1247.5 L1448.4,1250.6 L1451.0,1253.5 L1454.1,1256.5 L1457.3,1259.4 L1459.6,1261.4 M1415.4,1223.8 L1415.8,1226.1 L1416.5,1229.3 L1417.1,1232.5 L1417.7,1235.4 L1418.3,1238.3 L1418.8,1241.2 L1419.2,1244.5 L1419.5,1247.7 L1419.7,1250.0 M1443.4,1244.6 L1443.3,1246.0 L1443.0,1248.1 L1442.8,1250.1 L1442.4,1251.9 L1442.0,1253.7 L1441.6,1255.4 L1441.2,1257.4 L1440.8,1259.4 L1440.5,1260.8 M1399.3,1209.8 L1401.7,1212.1 L1405.2,1215.4 L1408.9,1218.5 L1412.4,1220.9 L1416.2,1223.0 L1419.9,1225.2 L1423.6,1227.4 L1427.2,1229.7 L1430.8,1232.1 L1434.2,1234.7 L1437.4,1237.6 L1440.6,1240.5 L1443.6,1243.5 L1446.6,1246.6 L1449.5,1249.8 L1452.4,1253.0 L1455.2,1256.3 L1458.2,1259.4 L1461.9,1262.3 L1465.9,1264.9 L1468.7,1266.8 M1458.2,1259.4 L1458.5,1262.1 L1458.9,1265.9 L1459.4,1269.8 L1460.1,1273.3 L1460.8,1276.7 L1461.9,1280.0 L1463.5,1283.6 L1465.3,1287.0 L1466.6,1289.4 M1440.6,1240.5 L1442.6,1240.2 L1445.5,1239.7 L1448.4,1239.4 L1451.0,1239.6 L1453.6,1240.0 L1456.2,1240.2 L1459.1,1239.9 L1462.0,1239.4 L1464.0,1239.0 M1440.6,1240.5 L1442.4,1240.4 L1444.9,1240.2 L1447.4,1239.8 L1449.6,1239.1 L1451.8,1238.2 L1453.9,1237.5 L1456.4,1236.8 L1458.9,1236.3 L1460.6,1235.9" fill="none" stroke="#9c8466" stroke-width="0.64" stroke-linecap="round"/><path d="M230.2,1216.3 L229.3,1217.0 L228.0,1218.2 L226.6,1219.2 L225.3,1220.0 L224.0,1220.8 L222.6,1221.5 L221.3,1222.3 L219.9,1223.0 L218.5,1223.7 L217.1,1224.2 L215.6,1224.7 L214.1,1225.1 L212.6,1225.4 L211.1,1225.8 L209.6,1226.1 L208.1,1226.6 L206.6,1227.1 L205.2,1227.5 L203.5,1228.0 L201.8,1228.4 L200.7,1228.7 M222.6,1221.5 L221.8,1221.3 L220.6,1221.0 L219.5,1220.7 L218.4,1220.4 L217.4,1220.1 L216.3,1219.8 L215.1,1219.6 L214.0,1219.5 L213.1,1219.4 M214.1,1225.1 L213.6,1224.9 L212.9,1224.7 L212.2,1224.4 L211.6,1224.1 L211.0,1223.7 L210.5,1223.4 L209.9,1222.9 L209.3,1222.5 L208.9,1222.1 M230.1,1218.9 L229.4,1219.8 L228.4,1221.1 L227.4,1222.4 L226.7,1223.7 L226.1,1225.1 L225.4,1226.4 L224.7,1227.6 L223.9,1228.9 L223.1,1230.1 L222.4,1231.5 L221.8,1232.8 L221.0,1234.1 L220.1,1235.2 L219.1,1236.3 L218.1,1237.4 L217.1,1238.5 L216.1,1239.6 L215.2,1240.7 L214.3,1242.0 L213.4,1243.4 L212.8,1244.4 M223.1,1230.1 L222.4,1230.4 L221.4,1230.7 L220.4,1231.0 L219.5,1231.2 L218.7,1231.5 L217.8,1231.8 L216.8,1232.1 L215.8,1232.5 L215.1,1232.8 M225.4,1226.4 L224.8,1226.8 L223.9,1227.4 L223.1,1228.0 L222.2,1228.4 L221.4,1228.9 L220.5,1229.3 L219.6,1229.8 L218.7,1230.4 L218.1,1230.7 M225.4,1226.4 L225.7,1227.0 L226.2,1228.0 L226.7,1228.9 L227.1,1229.7 L227.5,1230.6 L227.8,1231.5 L228.1,1232.4 L228.4,1233.4 L228.6,1234.2 M227.9,1218.4 L227.6,1219.6 L227.2,1221.3 L226.7,1223.0 L226.2,1224.5 L225.7,1226.0 L225.1,1227.4 L224.4,1228.8 L223.6,1230.2 L222.9,1231.6 L222.4,1233.1 L222.0,1234.7 L221.6,1236.2 L220.9,1237.6 L220.2,1239.0 L219.4,1240.4 L218.8,1241.8 L218.1,1243.3 L217.4,1244.7 L216.8,1246.3 L216.1,1248.0 L215.6,1249.1 M225.1,1227.4 L225.1,1228.0 L225.2,1228.9 L225.2,1229.7 L225.2,1230.5 L225.0,1231.2 L224.8,1232.0 L224.6,1232.8 L224.3,1233.6 L224.1,1234.2 M230.3,1217.3 L230.4,1218.4 L230.5,1219.8 L230.6,1221.3 L230.5,1222.6 L230.4,1223.9 L230.4,1225.2 L230.7,1226.5 L231.0,1227.7 L231.4,1229.0 L231.8,1230.3 L232.1,1231.5 L232.4,1232.8 L232.6,1234.1 L232.7,1235.4 L232.8,1236.7 L232.9,1238.0 L232.9,1239.4 L233.1,1240.7 L233.4,1242.1 L233.7,1243.5 L233.9,1244.5 M232.4,1232.8 L232.3,1233.5 L232.1,1234.4 L232.0,1235.3 L231.9,1236.1 L231.8,1237.0 L231.7,1237.8 L231.7,1238.7 L231.6,1239.7 L231.6,1240.3 M231.4,1229.0 L231.6,1229.5 L231.9,1230.1 L232.2,1230.8 L232.5,1231.3 L232.9,1231.8 L233.2,1232.4 L233.7,1232.9 L234.1,1233.5 L234.4,1233.9 M229.4,1218.4 L229.7,1219.4 L230.2,1220.7 L230.8,1222.0 L231.6,1223.0 L232.5,1223.9 L233.5,1224.8 L234.4,1225.7 L235.5,1226.4 L236.5,1227.2 L237.5,1228.0 L238.5,1228.8 L239.5,1229.6 L240.5,1230.4 L241.5,1231.3 L242.4,1232.2 L243.3,1233.1 L244.2,1234.0 L245.0,1235.0 L245.9,1236.1 L246.7,1237.3 L247.3,1238.1 M245.0,1235.0 L245.0,1235.5 L244.9,1236.1 L244.9,1236.8 L244.8,1237.4 L244.7,1238.0 L244.6,1238.6 L244.5,1239.2 L244.4,1239.9 L244.3,1240.3 M242.4,1232.2 L242.4,1232.9 L242.5,1233.8 L242.5,1234.8 L242.7,1235.7 L242.8,1236.5 L242.9,1237.4 L242.9,1238.4 L242.9,1239.4 L242.8,1240.0 M245.0,1235.0 L245.8,1235.2 L246.9,1235.5 L248.0,1235.8 L249.0,1236.1 L250.0,1236.5 L251.0,1236.9 L252.0,1237.5 L252.9,1238.1 L253.6,1238.6 M228.7,1218.4 L229.5,1219.2 L230.7,1220.2 L231.9,1221.2 L233.1,1221.9 L234.4,1222.5 L235.8,1223.0 L237.1,1223.4 L238.5,1223.8 L239.9,1224.1 L241.3,1224.2 L242.8,1224.2 L244.2,1224.4 L245.6,1224.6 L247.0,1224.9 L248.4,1225.2 L249.7,1225.6 L251.1,1226.1 L252.4,1226.6 L253.9,1227.0 L255.5,1227.4 L256.6,1227.7 M252.4,1226.6 L252.9,1227.0 L253.5,1227.5 L254.2,1228.1 L254.6,1228.7 L255.1,1229.3 L255.5,1230.0 L256.1,1230.5 L256.8,1231.1 L257.2,1231.5 M248.4,1225.2 L249.0,1224.8 L249.9,1224.2 L250.8,1223.6 L251.7,1223.2 L252.6,1222.7 L253.5,1222.3 L254.5,1221.9 L255.5,1221.5 L256.2,1221.3 M244.2,1224.4 L245.1,1224.2 L246.3,1224.0 L247.5,1224.0 L248.7,1224.1 L249.8,1224.2 L250.9,1224.4 L252.1,1224.3 L253.4,1224.2 L254.2,1224.1" fill="none" stroke="#46352a" stroke-width="2.0" stroke-linecap="round" stroke-linejoin="round"/><path d="M230.2,1216.3 L229.3,1217.0 L228.0,1218.2 L226.6,1219.2 L225.3,1220.0 L224.0,1220.8 L222.6,1221.5 L221.3,1222.3 L219.9,1223.0 L218.5,1223.7 L217.1,1224.2 L215.6,1224.7 L214.1,1225.1 L212.6,1225.4 L211.1,1225.8 L209.6,1226.1 L208.1,1226.6 L206.6,1227.1 L205.2,1227.5 L203.5,1228.0 L201.8,1228.4 L200.7,1228.7 M222.6,1221.5 L221.8,1221.3 L220.6,1221.0 L219.5,1220.7 L218.4,1220.4 L217.4,1220.1 L216.3,1219.8 L215.1,1219.6 L214.0,1219.5 L213.1,1219.4 M214.1,1225.1 L213.6,1224.9 L212.9,1224.7 L212.2,1224.4 L211.6,1224.1 L211.0,1223.7 L210.5,1223.4 L209.9,1222.9 L209.3,1222.5 L208.9,1222.1 M230.1,1218.9 L229.4,1219.8 L228.4,1221.1 L227.4,1222.4 L226.7,1223.7 L226.1,1225.1 L225.4,1226.4 L224.7,1227.6 L223.9,1228.9 L223.1,1230.1 L222.4,1231.5 L221.8,1232.8 L221.0,1234.1 L220.1,1235.2 L219.1,1236.3 L218.1,1237.4 L217.1,1238.5 L216.1,1239.6 L215.2,1240.7 L214.3,1242.0 L213.4,1243.4 L212.8,1244.4 M223.1,1230.1 L222.4,1230.4 L221.4,1230.7 L220.4,1231.0 L219.5,1231.2 L218.7,1231.5 L217.8,1231.8 L216.8,1232.1 L215.8,1232.5 L215.1,1232.8 M225.4,1226.4 L224.8,1226.8 L223.9,1227.4 L223.1,1228.0 L222.2,1228.4 L221.4,1228.9 L220.5,1229.3 L219.6,1229.8 L218.7,1230.4 L218.1,1230.7 M225.4,1226.4 L225.7,1227.0 L226.2,1228.0 L226.7,1228.9 L227.1,1229.7 L227.5,1230.6 L227.8,1231.5 L228.1,1232.4 L228.4,1233.4 L228.6,1234.2 M227.9,1218.4 L227.6,1219.6 L227.2,1221.3 L226.7,1223.0 L226.2,1224.5 L225.7,1226.0 L225.1,1227.4 L224.4,1228.8 L223.6,1230.2 L222.9,1231.6 L222.4,1233.1 L222.0,1234.7 L221.6,1236.2 L220.9,1237.6 L220.2,1239.0 L219.4,1240.4 L218.8,1241.8 L218.1,1243.3 L217.4,1244.7 L216.8,1246.3 L216.1,1248.0 L215.6,1249.1 M225.1,1227.4 L225.1,1228.0 L225.2,1228.9 L225.2,1229.7 L225.2,1230.5 L225.0,1231.2 L224.8,1232.0 L224.6,1232.8 L224.3,1233.6 L224.1,1234.2 M230.3,1217.3 L230.4,1218.4 L230.5,1219.8 L230.6,1221.3 L230.5,1222.6 L230.4,1223.9 L230.4,1225.2 L230.7,1226.5 L231.0,1227.7 L231.4,1229.0 L231.8,1230.3 L232.1,1231.5 L232.4,1232.8 L232.6,1234.1 L232.7,1235.4 L232.8,1236.7 L232.9,1238.0 L232.9,1239.4 L233.1,1240.7 L233.4,1242.1 L233.7,1243.5 L233.9,1244.5 M232.4,1232.8 L232.3,1233.5 L232.1,1234.4 L232.0,1235.3 L231.9,1236.1 L231.8,1237.0 L231.7,1237.8 L231.7,1238.7 L231.6,1239.7 L231.6,1240.3 M231.4,1229.0 L231.6,1229.5 L231.9,1230.1 L232.2,1230.8 L232.5,1231.3 L232.9,1231.8 L233.2,1232.4 L233.7,1232.9 L234.1,1233.5 L234.4,1233.9 M229.4,1218.4 L229.7,1219.4 L230.2,1220.7 L230.8,1222.0 L231.6,1223.0 L232.5,1223.9 L233.5,1224.8 L234.4,1225.7 L235.5,1226.4 L236.5,1227.2 L237.5,1228.0 L238.5,1228.8 L239.5,1229.6 L240.5,1230.4 L241.5,1231.3 L242.4,1232.2 L243.3,1233.1 L244.2,1234.0 L245.0,1235.0 L245.9,1236.1 L246.7,1237.3 L247.3,1238.1 M245.0,1235.0 L245.0,1235.5 L244.9,1236.1 L244.9,1236.8 L244.8,1237.4 L244.7,1238.0 L244.6,1238.6 L244.5,1239.2 L244.4,1239.9 L244.3,1240.3 M242.4,1232.2 L242.4,1232.9 L242.5,1233.8 L242.5,1234.8 L242.7,1235.7 L242.8,1236.5 L242.9,1237.4 L242.9,1238.4 L242.9,1239.4 L242.8,1240.0 M245.0,1235.0 L245.8,1235.2 L246.9,1235.5 L248.0,1235.8 L249.0,1236.1 L250.0,1236.5 L251.0,1236.9 L252.0,1237.5 L252.9,1238.1 L253.6,1238.6 M228.7,1218.4 L229.5,1219.2 L230.7,1220.2 L231.9,1221.2 L233.1,1221.9 L234.4,1222.5 L235.8,1223.0 L237.1,1223.4 L238.5,1223.8 L239.9,1224.1 L241.3,1224.2 L242.8,1224.2 L244.2,1224.4 L245.6,1224.6 L247.0,1224.9 L248.4,1225.2 L249.7,1225.6 L251.1,1226.1 L252.4,1226.6 L253.9,1227.0 L255.5,1227.4 L256.6,1227.7 M252.4,1226.6 L252.9,1227.0 L253.5,1227.5 L254.2,1228.1 L254.6,1228.7 L255.1,1229.3 L255.5,1230.0 L256.1,1230.5 L256.8,1231.1 L257.2,1231.5 M248.4,1225.2 L249.0,1224.8 L249.9,1224.2 L250.8,1223.6 L251.7,1223.2 L252.6,1222.7 L253.5,1222.3 L254.5,1221.9 L255.5,1221.5 L256.2,1221.3 M244.2,1224.4 L245.1,1224.2 L246.3,1224.0 L247.5,1224.0 L248.7,1224.1 L249.8,1224.2 L250.9,1224.4 L252.1,1224.3 L253.4,1224.2 L254.2,1224.1" fill="none" stroke="#9c8466" stroke-width="0.56" stroke-linecap="round"/><path d="M233.0,1250.9 L231.9,1252.1 L230.4,1253.8 L228.7,1255.4 L227.2,1256.7 L225.5,1258.0 L223.8,1259.2 L222.1,1260.3 L220.3,1261.5 L218.6,1262.7 L217.2,1264.2 L215.8,1265.8 L214.3,1267.2 L212.6,1268.4 L210.8,1269.4 L209.0,1270.5 L207.2,1271.6 L205.5,1272.7 L203.7,1273.8 L201.7,1274.9 L199.6,1275.9 L198.2,1276.6 M223.8,1259.2 L223.2,1260.1 L222.4,1261.4 L221.6,1262.7 L221.0,1263.9 L220.4,1265.2 L219.9,1266.4 L219.2,1267.8 L218.5,1269.2 L218.0,1270.1 M218.6,1262.7 L217.7,1262.7 L216.3,1262.7 L215.0,1262.7 L213.8,1262.8 L212.6,1262.8 L211.4,1262.8 L210.0,1262.7 L208.7,1262.5 L207.8,1262.4 M232.0,1250.7 L231.2,1252.2 L230.1,1254.3 L229.1,1256.4 L228.2,1258.4 L227.4,1260.5 L226.6,1262.5 L225.6,1264.4 L224.7,1266.3 L223.7,1268.3 L222.8,1270.3 L222.0,1272.3 L221.2,1274.3 L220.4,1276.3 L219.7,1278.3 L218.9,1280.4 L218.0,1282.4 L217.1,1284.3 L216.2,1286.3 L215.2,1288.5 L214.3,1290.7 L213.6,1292.2 M216.2,1286.3 L215.1,1287.0 L213.6,1288.1 L212.0,1289.1 L210.5,1289.8 L209.0,1290.5 L207.5,1291.3 L205.9,1292.2 L204.3,1293.2 L203.2,1293.9 M226.6,1262.5 L226.7,1263.6 L226.8,1265.2 L226.8,1266.8 L226.7,1268.2 L226.6,1269.7 L226.5,1271.1 L226.5,1272.7 L226.5,1274.4 L226.5,1275.5 M233.0,1252.9 L232.7,1254.9 L232.3,1257.8 L231.9,1260.6 L231.6,1263.2 L231.4,1265.8 L231.1,1268.4 L230.8,1270.9 L230.6,1273.5 L230.3,1276.1 L230.1,1278.7 L229.9,1281.3 L229.5,1283.9 L228.6,1286.3 L227.5,1288.7 L226.6,1291.1 L226.0,1293.6 L225.5,1296.2 L225.0,1298.7 L224.2,1301.4 L223.4,1304.1 L222.9,1306.0 M225.0,1298.7 L224.0,1299.1 L222.5,1299.7 L221.1,1300.4 L220.0,1301.1 L218.9,1302.0 L217.7,1302.7 L216.3,1303.4 L214.9,1303.9 L213.8,1304.3 M231.1,1268.4 L231.5,1269.9 L232.1,1272.1 L232.5,1274.4 L232.6,1276.4 L232.6,1278.5 L232.5,1280.6 L232.0,1282.8 L231.4,1285.0 L230.9,1286.5 M232.6,1251.1 L232.6,1252.8 L232.6,1255.2 L232.7,1257.5 L233.1,1259.7 L233.6,1261.7 L234.1,1263.8 L234.5,1266.0 L234.7,1268.1 L234.9,1270.2 L235.0,1272.4 L234.9,1274.5 L234.8,1276.7 L234.7,1278.8 L234.6,1281.0 L234.7,1283.1 L235.0,1285.2 L235.5,1287.3 L236.1,1289.4 L236.8,1291.6 L237.7,1293.9 L238.4,1295.4 M234.7,1283.1 L234.8,1284.2 L234.9,1285.8 L234.9,1287.4 L234.8,1288.9 L234.7,1290.3 L234.5,1291.7 L234.2,1293.3 L233.9,1294.9 L233.7,1296.0 M234.1,1263.8 L233.6,1264.8 L232.8,1266.1 L232.1,1267.5 L231.5,1268.7 L230.9,1270.0 L230.4,1271.3 L229.9,1272.8 L229.6,1274.3 L229.3,1275.3 M234.1,1263.8 L234.9,1264.6 L236.0,1265.6 L237.1,1266.7 L238.1,1267.7 L239.1,1268.7 L240.0,1269.7 L240.9,1271.0 L241.7,1272.3 L242.2,1273.3 M232.9,1250.1 L233.4,1251.7 L234.3,1254.1 L235.0,1256.5 L235.6,1258.7 L236.2,1260.9 L236.8,1263.1 L237.3,1265.3 L237.8,1267.5 L238.4,1269.7 L239.2,1271.8 L240.2,1273.8 L241.2,1275.9 L242.1,1278.0 L243.0,1280.0 L243.9,1282.1 L245.0,1284.1 L246.0,1286.1 L247.0,1288.2 L247.8,1290.5 L248.5,1293.0 L249.0,1294.6 M243.9,1282.1 L243.5,1282.9 L242.9,1284.0 L242.4,1285.2 L242.1,1286.3 L241.9,1287.4 L241.6,1288.5 L241.1,1289.7 L240.6,1290.9 L240.2,1291.7 M231.0,1250.1 L232.4,1251.2 L234.3,1252.9 L236.1,1254.6 L237.7,1256.3 L239.1,1258.1 L240.7,1259.7 L242.4,1261.3 L244.1,1262.8 L245.9,1264.1 L247.9,1265.2 L250.1,1266.1 L252.1,1267.0 L254.1,1268.1 L256.1,1269.3 L258.0,1270.5 L259.9,1271.8 L261.8,1273.1 L263.5,1274.5 L265.4,1276.3 L267.2,1278.1 L268.4,1279.3 M245.9,1264.1 L246.8,1264.1 L248.1,1264.2 L249.3,1264.3 L250.4,1264.5 L251.5,1264.8 L252.6,1265.1 L253.8,1265.5 L255.0,1266.0 L255.8,1266.4 M252.1,1267.0 L252.9,1267.0 L254.0,1267.1 L255.0,1267.0 L256.0,1266.9 L256.9,1266.7 L257.9,1266.6 L259.0,1266.5 L260.0,1266.5 L260.8,1266.5" fill="none" stroke="#46352a" stroke-width="2.0" stroke-linecap="round" stroke-linejoin="round"/><path d="M233.0,1250.9 L231.9,1252.1 L230.4,1253.8 L228.7,1255.4 L227.2,1256.7 L225.5,1258.0 L223.8,1259.2 L222.1,1260.3 L220.3,1261.5 L218.6,1262.7 L217.2,1264.2 L215.8,1265.8 L214.3,1267.2 L212.6,1268.4 L210.8,1269.4 L209.0,1270.5 L207.2,1271.6 L205.5,1272.7 L203.7,1273.8 L201.7,1274.9 L199.6,1275.9 L198.2,1276.6 M223.8,1259.2 L223.2,1260.1 L222.4,1261.4 L221.6,1262.7 L221.0,1263.9 L220.4,1265.2 L219.9,1266.4 L219.2,1267.8 L218.5,1269.2 L218.0,1270.1 M218.6,1262.7 L217.7,1262.7 L216.3,1262.7 L215.0,1262.7 L213.8,1262.8 L212.6,1262.8 L211.4,1262.8 L210.0,1262.7 L208.7,1262.5 L207.8,1262.4 M232.0,1250.7 L231.2,1252.2 L230.1,1254.3 L229.1,1256.4 L228.2,1258.4 L227.4,1260.5 L226.6,1262.5 L225.6,1264.4 L224.7,1266.3 L223.7,1268.3 L222.8,1270.3 L222.0,1272.3 L221.2,1274.3 L220.4,1276.3 L219.7,1278.3 L218.9,1280.4 L218.0,1282.4 L217.1,1284.3 L216.2,1286.3 L215.2,1288.5 L214.3,1290.7 L213.6,1292.2 M216.2,1286.3 L215.1,1287.0 L213.6,1288.1 L212.0,1289.1 L210.5,1289.8 L209.0,1290.5 L207.5,1291.3 L205.9,1292.2 L204.3,1293.2 L203.2,1293.9 M226.6,1262.5 L226.7,1263.6 L226.8,1265.2 L226.8,1266.8 L226.7,1268.2 L226.6,1269.7 L226.5,1271.1 L226.5,1272.7 L226.5,1274.4 L226.5,1275.5 M233.0,1252.9 L232.7,1254.9 L232.3,1257.8 L231.9,1260.6 L231.6,1263.2 L231.4,1265.8 L231.1,1268.4 L230.8,1270.9 L230.6,1273.5 L230.3,1276.1 L230.1,1278.7 L229.9,1281.3 L229.5,1283.9 L228.6,1286.3 L227.5,1288.7 L226.6,1291.1 L226.0,1293.6 L225.5,1296.2 L225.0,1298.7 L224.2,1301.4 L223.4,1304.1 L222.9,1306.0 M225.0,1298.7 L224.0,1299.1 L222.5,1299.7 L221.1,1300.4 L220.0,1301.1 L218.9,1302.0 L217.7,1302.7 L216.3,1303.4 L214.9,1303.9 L213.8,1304.3 M231.1,1268.4 L231.5,1269.9 L232.1,1272.1 L232.5,1274.4 L232.6,1276.4 L232.6,1278.5 L232.5,1280.6 L232.0,1282.8 L231.4,1285.0 L230.9,1286.5 M232.6,1251.1 L232.6,1252.8 L232.6,1255.2 L232.7,1257.5 L233.1,1259.7 L233.6,1261.7 L234.1,1263.8 L234.5,1266.0 L234.7,1268.1 L234.9,1270.2 L235.0,1272.4 L234.9,1274.5 L234.8,1276.7 L234.7,1278.8 L234.6,1281.0 L234.7,1283.1 L235.0,1285.2 L235.5,1287.3 L236.1,1289.4 L236.8,1291.6 L237.7,1293.9 L238.4,1295.4 M234.7,1283.1 L234.8,1284.2 L234.9,1285.8 L234.9,1287.4 L234.8,1288.9 L234.7,1290.3 L234.5,1291.7 L234.2,1293.3 L233.9,1294.9 L233.7,1296.0 M234.1,1263.8 L233.6,1264.8 L232.8,1266.1 L232.1,1267.5 L231.5,1268.7 L230.9,1270.0 L230.4,1271.3 L229.9,1272.8 L229.6,1274.3 L229.3,1275.3 M234.1,1263.8 L234.9,1264.6 L236.0,1265.6 L237.1,1266.7 L238.1,1267.7 L239.1,1268.7 L240.0,1269.7 L240.9,1271.0 L241.7,1272.3 L242.2,1273.3 M232.9,1250.1 L233.4,1251.7 L234.3,1254.1 L235.0,1256.5 L235.6,1258.7 L236.2,1260.9 L236.8,1263.1 L237.3,1265.3 L237.8,1267.5 L238.4,1269.7 L239.2,1271.8 L240.2,1273.8 L241.2,1275.9 L242.1,1278.0 L243.0,1280.0 L243.9,1282.1 L245.0,1284.1 L246.0,1286.1 L247.0,1288.2 L247.8,1290.5 L248.5,1293.0 L249.0,1294.6 M243.9,1282.1 L243.5,1282.9 L242.9,1284.0 L242.4,1285.2 L242.1,1286.3 L241.9,1287.4 L241.6,1288.5 L241.1,1289.7 L240.6,1290.9 L240.2,1291.7 M231.0,1250.1 L232.4,1251.2 L234.3,1252.9 L236.1,1254.6 L237.7,1256.3 L239.1,1258.1 L240.7,1259.7 L242.4,1261.3 L244.1,1262.8 L245.9,1264.1 L247.9,1265.2 L250.1,1266.1 L252.1,1267.0 L254.1,1268.1 L256.1,1269.3 L258.0,1270.5 L259.9,1271.8 L261.8,1273.1 L263.5,1274.5 L265.4,1276.3 L267.2,1278.1 L268.4,1279.3 M245.9,1264.1 L246.8,1264.1 L248.1,1264.2 L249.3,1264.3 L250.4,1264.5 L251.5,1264.8 L252.6,1265.1 L253.8,1265.5 L255.0,1266.0 L255.8,1266.4 M252.1,1267.0 L252.9,1267.0 L254.0,1267.1 L255.0,1267.0 L256.0,1266.9 L256.9,1266.7 L257.9,1266.6 L259.0,1266.5 L260.0,1266.5 L260.8,1266.5" fill="none" stroke="#9c8466" stroke-width="0.56" stroke-linecap="round"/><path d="M82.3,1256.1 L81.3,1256.7 L79.8,1257.5 L78.3,1258.3 L76.9,1258.8 L75.4,1259.3 L73.9,1259.7 L72.4,1260.1 L70.9,1260.5 L69.5,1260.9 L68.1,1261.6 L66.8,1262.3 L65.4,1262.9 L63.9,1263.4 L62.4,1263.8 L61.0,1264.3 L59.6,1264.9 L58.3,1265.7 L56.9,1266.4 L55.4,1267.2 L54.0,1268.1 L52.9,1268.7 M69.5,1260.9 L69.3,1261.5 L69.0,1262.3 L68.7,1263.1 L68.4,1263.8 L68.0,1264.4 L67.6,1265.1 L67.2,1265.8 L66.9,1266.6 L66.7,1267.2 M81.7,1255.2 L81.5,1256.6 L81.1,1258.7 L80.7,1260.7 L80.1,1262.4 L79.4,1264.2 L78.8,1265.9 L78.4,1267.8 L78.0,1269.6 L77.6,1271.4 L77.1,1273.2 L76.6,1275.0 L76.1,1276.8 L75.7,1278.6 L75.3,1280.5 L74.9,1282.2 L74.2,1284.0 L73.4,1285.7 L72.5,1287.3 L71.5,1289.1 L70.4,1290.9 L69.6,1292.1 M76.1,1276.8 L75.3,1277.6 L74.2,1278.7 L73.0,1279.7 L71.8,1280.4 L70.6,1281.0 L69.3,1281.7 L68.1,1282.6 L66.8,1283.6 L65.9,1284.2 M81.8,1256.4 L82.4,1257.8 L83.4,1259.8 L84.3,1261.9 L84.9,1263.8 L85.4,1265.8 L86.0,1267.7 L86.8,1269.6 L87.7,1271.4 L88.4,1273.3 L89.1,1275.2 L89.7,1277.1 L90.2,1279.1 L90.6,1281.1 L90.9,1283.1 L91.2,1285.1 L91.6,1287.0 L92.0,1289.0 L92.5,1291.0 L93.0,1293.1 L93.6,1295.3 L94.0,1296.8 M91.2,1285.1 L92.4,1285.3 L94.2,1285.7 L96.0,1286.1 L97.6,1286.2 L99.2,1286.3 L100.8,1286.4 L102.6,1286.6 L104.4,1286.9 L105.7,1287.1 M88.4,1273.3 L89.1,1273.7 L90.0,1274.4 L90.9,1275.0 L91.7,1275.6 L92.5,1276.1 L93.4,1276.7 L94.4,1277.2 L95.4,1277.7 L96.1,1278.0 M83.8,1255.9 L85.0,1256.7 L86.6,1257.7 L88.2,1258.8 L89.5,1259.9 L90.8,1261.1 L92.1,1262.2 L93.4,1263.3 L94.7,1264.4 L96.1,1265.4 L97.6,1266.3 L99.1,1267.1 L100.6,1267.9 L102.1,1268.9 L103.5,1269.8 L105.0,1270.8 L106.5,1271.6 L108.1,1272.3 L109.6,1273.1 L111.3,1274.0 L113.0,1274.9 L114.1,1275.6 M100.6,1267.9 L101.1,1268.7 L101.7,1269.9 L102.3,1271.0 L102.7,1272.1 L103.1,1273.2 L103.4,1274.3 L103.7,1275.6 L103.8,1276.8 L104.0,1277.7" fill="none" stroke="#46352a" stroke-width="2.0" stroke-linecap="round" stroke-linejoin="round"/><path d="M82.3,1256.1 L81.3,1256.7 L79.8,1257.5 L78.3,1258.3 L76.9,1258.8 L75.4,1259.3 L73.9,1259.7 L72.4,1260.1 L70.9,1260.5 L69.5,1260.9 L68.1,1261.6 L66.8,1262.3 L65.4,1262.9 L63.9,1263.4 L62.4,1263.8 L61.0,1264.3 L59.6,1264.9 L58.3,1265.7 L56.9,1266.4 L55.4,1267.2 L54.0,1268.1 L52.9,1268.7 M69.5,1260.9 L69.3,1261.5 L69.0,1262.3 L68.7,1263.1 L68.4,1263.8 L68.0,1264.4 L67.6,1265.1 L67.2,1265.8 L66.9,1266.6 L66.7,1267.2 M81.7,1255.2 L81.5,1256.6 L81.1,1258.7 L80.7,1260.7 L80.1,1262.4 L79.4,1264.2 L78.8,1265.9 L78.4,1267.8 L78.0,1269.6 L77.6,1271.4 L77.1,1273.2 L76.6,1275.0 L76.1,1276.8 L75.7,1278.6 L75.3,1280.5 L74.9,1282.2 L74.2,1284.0 L73.4,1285.7 L72.5,1287.3 L71.5,1289.1 L70.4,1290.9 L69.6,1292.1 M76.1,1276.8 L75.3,1277.6 L74.2,1278.7 L73.0,1279.7 L71.8,1280.4 L70.6,1281.0 L69.3,1281.7 L68.1,1282.6 L66.8,1283.6 L65.9,1284.2 M81.8,1256.4 L82.4,1257.8 L83.4,1259.8 L84.3,1261.9 L84.9,1263.8 L85.4,1265.8 L86.0,1267.7 L86.8,1269.6 L87.7,1271.4 L88.4,1273.3 L89.1,1275.2 L89.7,1277.1 L90.2,1279.1 L90.6,1281.1 L90.9,1283.1 L91.2,1285.1 L91.6,1287.0 L92.0,1289.0 L92.5,1291.0 L93.0,1293.1 L93.6,1295.3 L94.0,1296.8 M91.2,1285.1 L92.4,1285.3 L94.2,1285.7 L96.0,1286.1 L97.6,1286.2 L99.2,1286.3 L100.8,1286.4 L102.6,1286.6 L104.4,1286.9 L105.7,1287.1 M88.4,1273.3 L89.1,1273.7 L90.0,1274.4 L90.9,1275.0 L91.7,1275.6 L92.5,1276.1 L93.4,1276.7 L94.4,1277.2 L95.4,1277.7 L96.1,1278.0 M83.8,1255.9 L85.0,1256.7 L86.6,1257.7 L88.2,1258.8 L89.5,1259.9 L90.8,1261.1 L92.1,1262.2 L93.4,1263.3 L94.7,1264.4 L96.1,1265.4 L97.6,1266.3 L99.1,1267.1 L100.6,1267.9 L102.1,1268.9 L103.5,1269.8 L105.0,1270.8 L106.5,1271.6 L108.1,1272.3 L109.6,1273.1 L111.3,1274.0 L113.0,1274.9 L114.1,1275.6 M100.6,1267.9 L101.1,1268.7 L101.7,1269.9 L102.3,1271.0 L102.7,1272.1 L103.1,1273.2 L103.4,1274.3 L103.7,1275.6 L103.8,1276.8 L104.0,1277.7" fill="none" stroke="#9c8466" stroke-width="0.56" stroke-linecap="round"/><path d="M232,1250 C205,1258 175,1270 150,1282 C135,1290 122,1296 112,1300 M230,1253 C200,1266 168,1284 140,1294 C125,1300 118,1303 108,1306 M82,1256 C90,1270 100,1284 112,1292 C125,1300 140,1304 154,1306 M82,1254 C95,1256 112,1258 135,1262 M82,1254 C70,1251 52,1249 36,1249 M234,1250 C255,1258 280,1270 300,1282 C312,1290 322,1296 332,1300 M236,1252 C255,1265 270,1280 282,1300" fill="none" stroke="#4f3e2c" stroke-width="2.4" stroke-linecap="round"/><path d="M232,1250 C205,1258 175,1270 150,1282 C135,1290 122,1296 112,1300 M230,1253 C200,1266 168,1284 140,1294 C125,1300 118,1303 108,1306 M82,1256 C90,1270 100,1284 112,1292 C125,1300 140,1304 154,1306 M82,1254 C95,1256 112,1258 135,1262 M82,1254 C70,1251 52,1249 36,1249 M234,1250 C255,1258 280,1270 300,1282 C312,1290 322,1296 332,1300 M236,1252 C255,1265 270,1280 282,1300" fill="none" stroke="#b9a284" stroke-width="0.9" stroke-linecap="round"/><path d="M81,1254 L81.5,1232 L82,1212" fill="none" stroke="#6f6a34" stroke-width="3.2" stroke-linecap="round"/><path d="M232,1249 L230.5,1232 L229,1212" fill="none" stroke="#6f6a34" stroke-width="3.6" stroke-linecap="round"/><ellipse cx="82.6" cy="1254" rx="5" ry="4.5" fill="#f2d54a" stroke="#c9a52c" stroke-width="1"/><ellipse cx="232" cy="1249" rx="5.5" ry="5" fill="#f2d54a" stroke="#c9a52c" stroke-width="1"/><path d="M940.7,1194.0 L941.9,1195.0 L943.6,1196.5 L945.6,1198.2 L947.7,1199.9 L949.9,1201.6 L952.0,1203.0 L953.7,1204.1 L955.1,1205.2 L956.6,1206.1 L958.4,1206.9 L960.8,1207.7 L964.2,1208.4 L968.8,1209.0 L974.4,1209.6 L980.7,1210.1 L987.3,1210.5 L993.8,1210.8 L1000.0,1211.0 L1006.2,1211.1 L1012.9,1211.1 L1019.5,1211.0 L1025.7,1210.9 L1030.8,1210.8 L1034.6,1210.7" fill="none" stroke="#4f8a34" stroke-width="7" stroke-linecap="round"/><path d="M940.7,1194.0 L941.9,1195.0 L943.6,1196.5 L945.6,1198.2 L947.7,1199.9 L949.9,1201.6 L952.0,1203.0 L953.7,1204.1 L955.1,1205.2 L956.6,1206.1 L958.4,1206.9 L960.8,1207.7 L964.2,1208.4 L968.8,1209.0 L974.4,1209.6 L980.7,1210.1 L987.3,1210.5 L993.8,1210.8 L1000.0,1211.0 L1006.2,1211.1 L1012.9,1211.1 L1019.5,1211.0 L1025.7,1210.9 L1030.8,1210.8 L1034.6,1210.7" fill="none" stroke="#79b552" stroke-width="4.5" stroke-linecap="round"/><path d="M556.0,1199.0 L554.8,1199.7 L553.3,1200.7 L551.4,1201.8 L549.4,1203.0 L547.2,1204.1 L545.0,1205.0 L542.7,1205.7 L540.3,1206.3 L537.8,1206.9 L535.1,1207.3 L532.5,1207.7 L530.0,1208.0 L527.3,1208.2 L524.4,1208.2 L521.6,1208.2 L518.9,1208.1 L516.6,1208.0 L515.0,1208.0" fill="none" stroke="#4f8a34" stroke-width="7" stroke-linecap="round"/><path d="M556.0,1199.0 L554.8,1199.7 L553.3,1200.7 L551.4,1201.8 L549.4,1203.0 L547.2,1204.1 L545.0,1205.0 L542.7,1205.7 L540.3,1206.3 L537.8,1206.9 L535.1,1207.3 L532.5,1207.7 L530.0,1208.0 L527.3,1208.2 L524.4,1208.2 L521.6,1208.2 L518.9,1208.1 L516.6,1208.0 L515.0,1208.0" fill="none" stroke="#8cc46a" stroke-width="4.5" stroke-linecap="round"/><path d="M743.0,1197.0 L741.6,1197.8 L739.7,1198.9 L737.4,1200.2 L735.0,1201.6 L732.4,1202.9 L730.0,1204.0 L727.6,1204.9 L725.0,1205.7 L722.4,1206.4 L719.9,1207.1 L717.3,1207.6 L715.0,1208.0 L712.7,1208.2 L710.3,1208.3 L708.1,1208.2 L706.0,1208.1 L704.3,1208.0 L703.0,1208.0" fill="none" stroke="#4f8a34" stroke-width="7" stroke-linecap="round"/><path d="M743.0,1197.0 L741.6,1197.8 L739.7,1198.9 L737.4,1200.2 L735.0,1201.6 L732.4,1202.9 L730.0,1204.0 L727.6,1204.9 L725.0,1205.7 L722.4,1206.4 L719.9,1207.1 L717.3,1207.6 L715.0,1208.0 L712.7,1208.2 L710.3,1208.3 L708.1,1208.2 L706.0,1208.1 L704.3,1208.0 L703.0,1208.0" fill="none" stroke="#8cc46a" stroke-width="4.5" stroke-linecap="round"/><path d="M1137.2,1191.8 L1138.4,1192.8 L1140.1,1194.2 L1142.1,1195.8 L1144.2,1197.5 L1146.4,1199.1 L1148.5,1200.4 L1150.2,1201.5 L1151.6,1202.5 L1153.1,1203.4 L1154.9,1204.2 L1157.3,1204.9 L1160.7,1205.6 L1165.3,1206.2 L1170.9,1206.7 L1177.2,1207.2 L1183.8,1207.6 L1190.3,1207.9 L1196.5,1208.1 L1202.7,1208.2 L1209.4,1208.2 L1216.0,1208.1 L1222.2,1208.0 L1227.3,1207.9 L1231.1,1207.8" fill="none" stroke="#4f8a34" stroke-width="7" stroke-linecap="round"/><path d="M1137.2,1191.8 L1138.4,1192.8 L1140.1,1194.2 L1142.1,1195.8 L1144.2,1197.5 L1146.4,1199.1 L1148.5,1200.4 L1150.2,1201.5 L1151.6,1202.5 L1153.1,1203.4 L1154.9,1204.2 L1157.3,1204.9 L1160.7,1205.6 L1165.3,1206.2 L1170.9,1206.7 L1177.2,1207.2 L1183.8,1207.6 L1190.3,1207.9 L1196.5,1208.1 L1202.7,1208.2 L1209.4,1208.2 L1216.0,1208.1 L1222.2,1208.0 L1227.3,1207.9 L1231.1,1207.8" fill="none" stroke="#a8c060" stroke-width="4.5" stroke-linecap="round"/><path d="M940.1,671.8 L939.2,663.8 L937.9,652.2 L935.8,639.5 L933.6,627.4 L931.4,615.4 L928.7,602.7 L926.0,591.5 L924.1,583.6 L923.1,583.8 L923.9,591.8 L925.1,603.3 L926.7,616.2 L928.7,628.3 L930.6,640.4 L932.9,653.1 L935.5,664.4 L937.3,672.2Z M936.1,650.7 L935.1,647.5 L933.7,643.0 L931.5,638.1 L929.1,633.6 L926.4,629.3 L923.1,625.1 L919.9,621.6 L917.6,619.2 L917.0,619.6 L918.5,622.6 L920.7,626.7 L923.3,631.3 L925.8,635.5 L927.9,639.9 L930.1,644.6 L932.5,648.7 L934.2,651.5Z M935.3,646.9 L936.8,644.1 L938.8,640.1 L940.5,635.3 L941.6,630.5 L942.0,625.7 L941.8,620.6 L941.1,616.1 L940.7,613.0 L939.9,613.0 L939.5,616.1 L938.9,620.6 L938.4,625.4 L937.8,629.8 L936.6,634.1 L935.1,638.8 L934.1,643.1 L933.4,646.2Z M935.1,648.9 L938.4,647.6 L943.1,645.7 L948.1,642.8 L952.5,639.7 L956.6,635.9 L960.2,631.5 L963.2,627.4 L965.2,624.5 L964.6,623.9 L961.9,626.2 L958.1,629.6 L954.0,633.3 L950.2,636.6 L945.9,639.4 L941.2,642.2 L937.0,645.1 L934.1,647.1Z M938.3,665.9 L934.2,663.3 L928.2,659.7 L921.4,656.1 L914.8,652.8 L908.3,649.4 L901.3,646.0 L894.9,643.2 L890.5,641.2 L890.1,642.0 L894.1,644.7 L899.9,648.5 L906.6,652.6 L913.0,656.2 L919.5,659.7 L926.4,663.2 L932.9,665.9 L937.3,667.8Z M933.4,641.6 L930.3,641.9 L925.9,642.3 L921.0,643.4 L916.4,644.7 L911.9,646.2 L907.2,648.2 L903.2,650.2 L900.5,651.6 L900.7,652.4 L903.8,651.8 L908.2,650.8 L913.0,649.6 L917.4,648.4 L921.9,647.3 L926.7,646.1 L931.0,644.7 L933.9,643.6Z M933.1,643.0 L931.3,644.4 L928.6,646.4 L926.1,648.9 L923.7,651.1 L921.1,653.0 L918.2,655.1 L915.6,657.2 L913.8,658.6 L914.2,659.4 L916.4,658.6 L919.6,657.6 L923.0,656.1 L926.1,654.1 L928.8,651.8 L931.5,649.1 L933.3,646.4 L934.6,644.4Z M936.0,656.2 L939.8,655.8 L945.2,655.3 L951.1,654.2 L956.7,653.4 L962.3,652.9 L968.3,652.5 L973.7,651.9 L977.5,651.5 L977.5,650.7 L973.7,650.3 L968.3,649.6 L962.2,649.3 L956.3,649.5 L950.5,650.2 L944.5,651.4 L939.2,653.0 L935.6,654.1Z M936.5,653.1 L936.5,648.7 L936.6,642.4 L936.0,635.4 L935.2,628.8 L934.3,622.2 L932.9,615.3 L931.4,609.2 L930.4,604.9 L929.6,605.1 L929.8,609.4 L930.1,615.7 L930.7,622.7 L931.4,629.2 L932.0,635.8 L932.6,642.8 L933.7,649.0 L934.4,653.3Z M938.9,667.5 L940.2,664.1 L941.9,659.2 L943.5,653.7 L945.1,648.7 L947.1,643.7 L949.2,638.4 L951.1,633.6 L952.4,630.2 L951.6,629.8 L949.6,632.8 L946.7,637.1 L943.7,642.2 L941.5,647.3 L939.6,652.6 L938.1,658.2 L937.4,663.4 L936.9,667.0Z M937.5,659.6 L935.7,656.2 L933.2,651.4 L929.6,646.3 L925.7,641.9 L921.4,637.9 L916.3,634.4 L911.5,631.6 L908.3,629.7 L907.7,630.3 L910.5,632.9 L914.5,636.7 L919.0,640.7 L923.0,644.5 L926.4,648.8 L929.9,653.6 L933.4,657.8 L935.8,660.8Z M935.5,647.0 L934.4,642.7 L932.8,636.6 L930.7,630.0 L929.0,623.8 L928.0,617.4 L927.0,610.5 L926.1,604.3 L925.4,600.0 L924.6,600.0 L924.4,604.4 L924.2,610.7 L924.4,617.8 L925.3,624.5 L926.9,631.1 L929.1,637.9 L931.7,643.6 L933.5,647.6Z M935.4,646.7 L936.5,643.1 L938.0,638.0 L939.3,632.3 L940.8,627.1 L942.8,622.1 L945.0,616.6 L947.0,611.7 L948.4,608.2 L947.6,607.8 L945.5,610.9 L942.5,615.3 L939.4,620.5 L937.1,625.8 L935.4,631.3 L934.1,637.2 L933.7,642.6 L933.3,646.3Z M935.7,652.1 L938.8,650.8 L943.3,648.9 L948.0,646.4 L952.5,644.3 L957.1,642.8 L962.2,641.1 L966.9,639.5 L970.1,638.4 L969.9,637.6 L966.5,637.9 L961.6,638.3 L956.2,639.2 L951.1,640.7 L946.2,642.8 L941.4,645.4 L937.4,648.3 L934.6,650.3Z M938.5,666.7 L935.3,663.9 L930.6,659.8 L924.9,655.8 L919.1,652.6 L913.0,650.0 L906.4,648.0 L900.3,646.6 L896.1,645.6 L895.9,646.4 L899.8,648.2 L905.4,650.6 L911.7,653.4 L917.4,656.0 L922.7,659.3 L928.3,663.0 L933.6,666.2 L937.3,668.4Z M938.0,662.4 L939.8,658.3 L942.3,652.5 L944.8,645.9 L947.2,639.9 L950.2,634.1 L953.5,627.8 L956.4,622.2 L958.4,618.2 L957.6,617.8 L955.0,621.3 L951.1,626.4 L947.0,632.3 L943.8,638.2 L941.0,644.5 L938.6,651.2 L937.1,657.4 L936.0,661.7Z M934.5,641.8 L935.6,637.8 L937.3,632.0 L938.4,625.3 L938.9,618.9 L938.6,612.5 L937.6,605.9 L936.3,600.0 L935.4,596.0 L934.6,596.0 L934.7,600.2 L934.8,606.2 L935.0,612.7 L935.0,618.8 L934.4,624.8 L933.4,631.3 L932.8,637.2 L932.5,641.4Z" fill="#d2bc7c" stroke="#a8904f" stroke-width="1" stroke-linejoin="round"/><path d="M1135.4,668.0 L1135.6,658.2 L1135.9,644.2 L1135.4,628.6 L1134.9,613.8 L1134.3,599.0 L1133.3,583.3 L1132.1,569.4 L1131.2,559.7 L1130.2,559.7 L1129.9,569.5 L1129.6,583.4 L1129.5,599.1 L1129.8,613.9 L1130.2,628.7 L1130.7,644.4 L1131.8,658.3 L1132.6,668.0Z M1133.6,641.4 L1129.8,639.3 L1124.2,636.2 L1117.7,633.4 L1111.3,631.2 L1104.8,629.4 L1097.8,628.2 L1091.5,627.4 L1087.1,626.9 L1086.9,627.7 L1091.1,629.1 L1097.1,631.0 L1103.8,633.0 L1110.1,634.9 L1116.2,637.2 L1122.7,639.9 L1128.6,641.9 L1132.8,643.3Z M1133.8,636.1 L1131.2,632.4 L1127.3,627.1 L1122.4,621.6 L1117.2,616.9 L1111.4,612.9 L1104.9,609.6 L1098.9,607.0 L1094.7,605.1 L1094.3,605.9 L1098.1,608.4 L1103.5,612.0 L1109.4,616.0 L1114.8,619.9 L1119.5,624.5 L1124.4,629.7 L1129.0,634.3 L1132.3,637.4Z M1134.1,638.3 L1133.2,632.5 L1132.0,624.2 L1129.8,614.9 L1126.9,606.4 L1122.9,598.4 L1117.8,590.4 L1112.8,583.5 L1109.4,578.8 L1108.6,579.2 L1111.4,584.4 L1115.3,591.8 L1119.6,600.1 L1123.3,607.9 L1125.9,616.1 L1128.2,625.0 L1130.5,633.1 L1132.1,638.8Z M1134.8,661.8 L1136.6,655.1 L1139.0,645.5 L1141.3,634.6 L1143.4,624.2 L1145.5,613.9 L1147.6,603.0 L1149.3,593.1 L1150.4,586.3 L1149.6,586.1 L1147.6,592.8 L1144.8,602.3 L1142.0,613.1 L1139.6,623.4 L1137.4,633.8 L1135.2,644.7 L1133.8,654.6 L1132.8,661.4Z M1133.7,632.6 L1136.6,629.5 L1140.8,625.1 L1145.0,619.7 L1148.8,614.5 L1152.3,609.0 L1155.6,603.0 L1158.2,597.5 L1160.1,593.7 L1159.3,593.3 L1156.8,596.7 L1153.1,601.5 L1149.2,607.0 L1145.6,612.3 L1141.8,617.3 L1137.7,622.7 L1134.4,627.7 L1132.1,631.3Z M1133.4,634.3 L1137.7,632.7 L1143.9,630.5 L1150.6,627.8 L1156.9,625.5 L1163.4,624.0 L1170.5,622.6 L1177.0,621.3 L1181.4,620.4 L1181.4,619.6 L1176.8,619.7 L1170.2,619.8 L1162.8,620.4 L1155.8,621.8 L1149.1,624.0 L1142.3,626.9 L1136.5,630.1 L1132.5,632.4Z M1133.8,648.3 L1137.5,647.1 L1142.8,645.4 L1148.5,643.1 L1153.8,641.1 L1159.4,639.5 L1165.3,637.8 L1170.6,636.1 L1174.3,634.9 L1174.1,634.1 L1170.2,634.5 L1164.7,635.0 L1158.5,636.0 L1152.7,637.4 L1147.0,639.4 L1141.2,641.8 L1136.4,644.5 L1133.0,646.4Z M1132.8,645.8 L1133.6,646.8 L1134.9,648.1 L1136.6,649.2 L1138.3,650.0 L1140.0,650.8 L1141.9,651.3 L1143.7,651.6 L1145.0,651.8 L1145.4,651.0 L1144.5,650.1 L1143.2,648.8 L1141.7,647.5 L1140.1,646.6 L1138.6,645.6 L1136.8,644.7 L1135.1,644.3 L1133.8,644.0Z M1134.2,661.2 L1130.8,659.4 L1126.0,656.8 L1120.5,654.3 L1115.4,651.9 L1110.6,649.0 L1105.3,646.0 L1100.6,643.2 L1097.2,641.4 L1096.8,642.0 L1099.6,644.6 L1103.7,648.3 L1108.6,652.1 L1113.5,655.3 L1118.8,658.0 L1124.5,660.4 L1129.8,662.0 L1133.4,663.1Z M1133.7,652.5 L1131.8,651.8 L1129.0,650.8 L1125.7,650.3 L1122.4,650.3 L1119.2,650.6 L1116.0,651.5 L1113.2,652.6 L1111.3,653.4 L1111.5,654.2 L1113.5,654.3 L1116.5,654.3 L1119.6,654.2 L1122.5,654.1 L1125.3,654.3 L1128.4,654.7 L1131.3,654.6 L1133.4,654.5Z M1133.9,638.4 L1136.6,635.5 L1140.6,631.5 L1144.6,626.8 L1148.5,622.5 L1152.8,618.7 L1157.6,614.7 L1161.8,611.0 L1164.7,608.3 L1164.3,607.7 L1160.8,609.6 L1155.9,612.4 L1150.5,615.9 L1145.8,619.7 L1141.6,624.1 L1137.5,629.0 L1134.4,633.8 L1132.3,637.0Z M1134.0,636.3 L1133.0,632.8 L1131.5,627.9 L1129.6,622.6 L1127.9,617.6 L1126.9,612.4 L1125.8,606.9 L1124.7,601.8 L1123.9,598.3 L1123.1,598.3 L1123.0,602.0 L1122.9,607.2 L1123.2,613.0 L1124.2,618.5 L1125.7,623.9 L1127.9,629.3 L1130.4,633.9 L1132.1,637.1Z M1134.3,642.5 L1134.3,636.3 L1134.4,627.4 L1134.2,617.7 L1134.5,608.5 L1135.8,599.5 L1137.6,589.9 L1139.3,581.2 L1140.4,575.1 L1139.6,574.9 L1137.7,580.8 L1134.9,589.2 L1132.2,598.8 L1130.7,608.2 L1130.2,617.6 L1130.5,627.6 L1131.5,636.4 L1132.2,642.6Z M1134.8,662.1 L1132.9,657.2 L1130.2,650.2 L1126.5,642.7 L1122.3,635.8 L1117.4,629.5 L1111.6,623.4 L1106.1,618.3 L1102.3,614.7 L1101.7,615.3 L1104.9,619.4 L1109.5,625.3 L1114.6,631.8 L1119.1,637.9 L1122.9,644.6 L1126.7,651.9 L1130.3,658.4 L1132.9,663.0Z M1134.6,655.4 L1132.8,649.1 L1130.3,640.1 L1127.1,630.1 L1124.5,620.7 L1122.7,611.1 L1121.0,600.7 L1119.5,591.4 L1118.4,585.0 L1117.6,585.0 L1117.8,591.6 L1118.2,601.0 L1119.1,611.6 L1120.7,621.5 L1123.2,631.3 L1126.5,641.3 L1130.1,650.0 L1132.6,656.1Z M1133.9,630.7 L1134.6,627.1 L1135.6,621.8 L1135.9,615.8 L1135.8,610.0 L1134.9,604.3 L1133.4,598.5 L1131.6,593.4 L1130.4,589.9 L1129.6,590.1 L1130.0,593.8 L1130.6,599.1 L1131.3,604.9 L1131.9,610.3 L1131.9,615.7 L1131.6,621.5 L1131.7,626.9 L1131.8,630.6Z M1134.1,654.1 L1138.1,652.2 L1143.8,649.6 L1149.9,645.9 L1155.3,641.7 L1160.1,636.9 L1164.4,631.2 L1167.9,625.9 L1170.3,622.3 L1169.7,621.7 L1166.6,624.9 L1162.2,629.4 L1157.4,634.4 L1152.8,638.8 L1147.7,642.5 L1141.8,646.2 L1136.6,649.8 L1133.0,652.3Z M1133.6,644.1 L1129.9,642.5 L1124.6,640.3 L1118.4,638.4 L1112.4,636.9 L1106.3,635.8 L1099.9,635.1 L1094.1,634.8 L1090.1,634.6 L1089.9,635.4 L1093.8,636.4 L1099.4,637.9 L1105.6,639.4 L1111.5,640.7 L1117.3,642.3 L1123.4,644.1 L1129.1,645.2 L1133.0,646.1Z M1134.1,656.9 L1136.4,656.1 L1139.8,655.0 L1143.4,653.2 L1146.6,651.0 L1149.5,648.4 L1152.0,645.3 L1153.9,642.3 L1155.3,640.3 L1154.7,639.7 L1152.7,641.2 L1149.9,643.3 L1147.0,645.8 L1144.3,647.9 L1141.3,649.7 L1138.0,651.5 L1135.2,653.6 L1133.2,655.0Z M1133.4,639.1 L1132.3,638.5 L1130.6,637.6 L1128.6,637.2 L1126.6,637.2 L1124.6,637.4 L1122.7,638.1 L1121.0,639.0 L1119.9,639.6 L1120.1,640.4 L1121.3,640.6 L1123.1,640.9 L1125.0,641.0 L1126.6,641.0 L1128.1,641.2 L1129.9,641.5 L1131.7,641.3 L1132.9,641.2Z" fill="#e8b440" stroke="#c4922e" stroke-width="1" stroke-linejoin="round"/><defs><g id="gp"><path d="M83.2,1213.0 L83.3,1210.5 L83.3,1206.7 L83.4,1202.5 L83.5,1198.4 L83.6,1195.0 L83.7,1192.4 L83.8,1190.0 L83.7,1187.9 L83.6,1186.3 L83.6,1185.0 L82.4,1185.0 L82.2,1186.2 L82.0,1187.8 L81.7,1189.9 L81.6,1192.3 L81.4,1195.0 L81.3,1198.3 L81.1,1202.5 L81.0,1206.7 L80.9,1210.4 L80.8,1213.0Z"/><path d="M83.5,1212.1 L83.9,1209.8 L84.5,1206.5 L84.9,1202.8 L85.4,1198.9 L85.9,1195.4 L86.6,1192.1 L87.1,1188.7 L87.6,1185.2 L88.1,1181.9 L88.6,1178.7 L89.2,1175.7 L89.7,1172.5 L90.3,1169.6 L90.5,1166.9 L90.6,1165.1 L90.4,1164.9 L89.2,1166.5 L87.7,1168.6 L86.2,1171.3 L84.7,1174.2 L83.4,1177.3 L82.3,1180.4 L81.2,1183.8 L80.2,1187.3 L79.4,1190.9 L79.1,1194.6 L78.9,1198.4 L78.8,1202.5 L79.0,1206.3 L79.3,1209.6 L79.5,1211.9Z"/><path d="M81.5,1212.0 L81.6,1208.9 L81.8,1204.6 L82.1,1199.6 L82.5,1195.0 L83.3,1190.4 L84.3,1185.4 L85.3,1181.1 L86.0,1178.0" fill="none" stroke="#8ccc6c" stroke-width="1.1" stroke-linecap="round" opacity="0.75"/><path d="M231.0,1213.0 L231.0,1210.6 L231.0,1207.1 L230.9,1203.1 L230.9,1199.0 L230.9,1195.0 L231.0,1191.0 L231.1,1186.6 L231.2,1182.3 L230.8,1178.6 L230.5,1176.0 L228.5,1176.0 L228.0,1178.6 L227.5,1182.2 L227.3,1186.5 L227.2,1190.9 L227.1,1195.0 L227.0,1198.9 L227.0,1203.1 L227.0,1207.2 L227.0,1210.6 L227.0,1213.0Z"/><path d="M231.1,1181.4 L230.1,1178.2 L228.9,1173.7 L227.4,1168.3 L225.7,1162.7 L223.9,1157.3 L222.0,1152.2 L219.9,1146.8 L217.7,1141.4 L215.2,1136.2 L212.7,1131.1 L210.4,1126.0 L207.8,1120.9 L205.1,1116.0 L202.2,1111.4 L199.3,1107.1 L196.0,1103.4 L192.4,1100.2 L189.0,1097.4 L185.6,1094.9 L182.2,1093.0 L178.7,1091.4 L175.1,1090.1 L171.9,1089.0 L169.2,1088.2 L167.2,1087.6 L166.8,1088.4 L168.3,1089.8 L170.4,1091.6 L172.8,1093.9 L175.3,1096.4 L177.8,1099.0 L180.4,1101.7 L183.5,1104.2 L186.6,1106.8 L189.7,1109.7 L192.7,1112.9 L196.1,1116.2 L199.5,1120.0 L202.9,1124.1 L206.2,1128.5 L209.3,1132.9 L211.8,1137.8 L214.1,1143.0 L216.3,1148.3 L218.3,1153.6 L220.1,1158.7 L221.8,1163.9 L223.4,1169.5 L224.9,1174.8 L226.1,1179.3 L226.9,1182.6Z"/><path d="M229.0,1182.0 L227.8,1177.7 L226.2,1171.6 L224.2,1164.7 L222.0,1158.0 L219.6,1151.5 L217.0,1144.9 L214.1,1138.3 L211.0,1132.0 L207.6,1126.0 L203.8,1120.2 L199.9,1114.8 L196.0,1110.0 L191.7,1105.6 L187.1,1101.6 L182.9,1098.3 L180.0,1096.0" fill="none" stroke="#8ccc6c" stroke-width="1.4" stroke-linecap="round" opacity="0.75"/><path d="M231.5,1178.4 L232.5,1174.6 L233.8,1169.2 L235.5,1163.0 L237.2,1156.6 L238.8,1150.8 L240.3,1145.3 L241.8,1139.8 L243.4,1134.4 L245.1,1129.3 L246.7,1124.7 L248.3,1120.8 L249.9,1117.3 L251.5,1114.2 L253.1,1111.3 L254.8,1108.6 L256.7,1106.0 L258.9,1103.6 L261.0,1101.4 L262.9,1099.6 L264.2,1098.2 L263.8,1097.8 L262.3,1098.9 L260.3,1100.6 L257.9,1102.6 L255.5,1104.9 L253.2,1107.4 L251.2,1110.0 L249.2,1112.8 L247.2,1115.9 L245.3,1119.3 L243.3,1123.3 L241.2,1127.8 L239.1,1132.8 L237.0,1138.2 L235.0,1143.7 L233.2,1149.2 L231.6,1155.2 L230.3,1161.8 L229.2,1168.2 L228.2,1173.7 L227.5,1177.6Z"/><path d="M229.5,1178.0 L230.6,1172.9 L232.2,1165.6 L234.0,1157.5 L236.0,1150.0 L238.1,1143.1 L240.3,1136.2 L242.7,1129.8 L245.0,1124.0 L247.5,1118.9 L250.1,1114.4 L252.4,1110.6 L254.0,1108.0" fill="none" stroke="#8ccc6c" stroke-width="1.0" stroke-linecap="round" opacity="0.75"/><path d="M233.3,1169.2 L234.8,1167.0 L236.8,1163.9 L239.2,1160.5 L241.4,1157.1 L243.4,1154.4 L245.3,1152.1 L247.5,1149.9 L249.4,1148.2 L250.4,1147.6 L249.2,1147.6 L247.9,1146.9 L248.4,1147.5 L249.2,1149.3 L249.9,1151.9 L250.2,1154.8 L250.1,1158.9 L249.6,1164.3 L249.0,1170.1 L248.8,1175.3 L248.9,1179.0 L249.1,1179.0 L250.9,1175.8 L253.1,1171.0 L255.2,1165.5 L256.9,1160.0 L257.8,1155.2 L257.9,1151.1 L257.5,1147.3 L256.5,1143.9 L254.7,1140.8 L250.8,1138.4 L246.3,1139.1 L243.4,1141.3 L241.0,1143.9 L238.7,1146.7 L236.6,1149.6 L234.6,1152.9 L232.6,1156.8 L231.0,1160.9 L229.6,1164.4 L228.7,1166.8Z"/><path d="M231.0,1168.0 L232.6,1165.0 L234.9,1160.6 L237.5,1155.9 L240.0,1152.0 L242.6,1148.8 L245.3,1145.8 L247.9,1143.6 L250.0,1143.0 L251.5,1144.8 L252.6,1148.4 L253.4,1152.4 L254.0,1155.0" fill="none" stroke="#8ccc6c" stroke-width="1.4" stroke-linecap="round" opacity="0.75"/><path d="M381.6,1213.0 L381.4,1205.8 L381.2,1195.6 L381.0,1183.8 L380.7,1171.5 L380.4,1160.0 L380.0,1148.3 L379.6,1135.8 L379.2,1123.7 L378.3,1113.3 L377.6,1106.0 L374.4,1106.0 L374.0,1113.4 L373.5,1123.8 L373.5,1135.9 L373.6,1148.5 L373.6,1160.0 L373.6,1171.6 L373.6,1183.8 L373.5,1195.7 L373.4,1205.8 L373.4,1213.0Z"/><path d="M384.7,1193.1 L386.7,1192.0 L389.5,1190.5 L392.6,1188.6 L395.9,1186.7 L399.1,1185.1 L402.4,1183.2 L406.4,1181.2 L410.3,1179.2 L413.6,1177.3 L415.9,1175.7 L415.7,1175.5 L413.0,1175.9 L409.3,1176.7 L405.0,1177.9 L400.8,1179.4 L396.9,1180.9 L393.6,1182.9 L390.3,1185.2 L387.3,1187.4 L385.0,1189.5 L383.3,1190.9Z"/><path d="M376.2,1169.6 L375.0,1167.2 L373.2,1163.7 L371.1,1159.6 L368.6,1155.3 L365.7,1151.5 L362.8,1147.8 L359.5,1144.0 L355.8,1140.2 L351.9,1136.9 L347.4,1134.5 L342.5,1134.0 L338.2,1135.1 L334.5,1136.9 L331.3,1138.7 L328.1,1140.3 L324.4,1141.9 L320.3,1143.7 L316.1,1145.6 L312.1,1147.8 L308.4,1150.1 L304.9,1152.7 L301.6,1155.5 L298.7,1158.4 L296.4,1161.0 L294.7,1162.9 L294.9,1163.1 L297.1,1162.0 L300.2,1160.4 L303.7,1158.5 L307.4,1156.4 L311.0,1154.7 L314.7,1153.3 L318.8,1151.8 L323.0,1150.4 L327.1,1149.0 L331.1,1147.7 L334.9,1146.2 L338.3,1144.7 L341.0,1143.7 L343.0,1143.3 L344.6,1143.5 L346.9,1144.5 L350.0,1146.8 L353.3,1149.8 L356.6,1153.3 L359.7,1156.5 L362.4,1159.8 L365.2,1163.4 L367.9,1167.0 L370.1,1170.1 L371.8,1172.4Z"/><path d="M374.0,1171.0 L372.1,1167.9 L369.4,1163.4 L366.2,1158.5 L362.7,1154.0 L358.9,1149.6 L354.7,1145.1 L350.3,1141.3 L346.0,1139.0 L342.0,1138.8 L338.0,1140.0 L333.9,1142.0 L329.6,1144.0 L324.4,1146.1 L318.6,1148.5 L313.4,1150.8 L309.7,1152.4" fill="none" stroke="#8ccc6c" stroke-width="1.4" stroke-linecap="round" opacity="0.75"/><path d="M380.8,1151.3 L382.6,1148.9 L385.0,1145.5 L387.9,1141.7 L390.8,1138.0 L393.4,1134.9 L395.6,1132.5 L397.7,1130.4 L399.8,1128.4 L402.0,1126.6 L404.5,1124.8 L407.4,1122.8 L410.3,1120.9 L413.4,1119.1 L416.7,1117.5 L420.2,1116.2 L424.2,1115.1 L428.5,1114.0 L432.8,1113.3 L437.2,1113.0 L441.3,1113.3 L445.7,1114.4 L450.7,1116.3 L455.8,1118.8 L460.8,1121.4 L465.4,1123.9 L469.3,1126.0 L472.7,1128.0 L475.9,1130.1 L478.9,1132.3 L481.8,1134.6 L484.7,1137.2 L487.5,1140.0 L490.2,1143.0 L492.9,1146.1 L495.6,1149.1 L498.6,1152.4 L501.9,1155.9 L505.1,1159.2 L507.9,1162.1 L509.9,1164.1 L510.1,1163.9 L508.6,1161.6 L506.4,1158.2 L503.8,1154.4 L501.0,1150.4 L498.4,1146.9 L496.0,1143.6 L493.6,1140.2 L491.1,1136.9 L488.5,1133.6 L485.6,1130.6 L482.5,1127.8 L479.4,1125.3 L476.1,1122.9 L472.6,1120.5 L468.6,1118.1 L464.2,1115.5 L459.2,1112.5 L453.8,1109.6 L448.3,1107.1 L442.7,1105.5 L437.2,1105.0 L431.8,1105.4 L426.8,1106.5 L422.1,1107.8 L417.8,1109.2 L413.7,1110.8 L410.0,1112.7 L406.5,1114.9 L403.4,1117.1 L400.5,1119.2 L397.8,1121.4 L395.3,1123.5 L393.1,1125.8 L390.9,1128.3 L388.6,1131.1 L386.1,1134.6 L383.4,1138.6 L380.9,1142.7 L378.7,1146.3 L377.2,1148.7Z"/><path d="M379.0,1150.0 L381.2,1146.8 L384.3,1142.2 L387.8,1137.2 L391.0,1133.0 L393.8,1129.8 L396.5,1127.0 L399.3,1124.5 L402.5,1122.0 L406.1,1119.4 L410.0,1116.9 L414.3,1114.6 L419.0,1112.7 L424.2,1111.1 L430.0,1109.7 L436.0,1109.0 L442.0,1109.4 L448.3,1111.3 L454.9,1114.3 L461.3,1117.8 L467.0,1121.0 L471.8,1123.8 L476.1,1126.6 L480.0,1129.4 L483.7,1132.6 L487.6,1136.5 L491.4,1141.0 L494.7,1145.1 L497.0,1148.0" fill="none" stroke="#8ccc6c" stroke-width="1.2" stroke-linecap="round" opacity="0.75"/><path d="M465.7,1121.8 L466.7,1123.8 L468.2,1126.6 L469.9,1129.8 L471.5,1133.0 L472.7,1135.9 L473.5,1138.7 L474.1,1141.4 L474.9,1144.2 L475.4,1147.1 L475.8,1150.1 L476.1,1153.5 L476.2,1157.4 L476.4,1161.2 L476.6,1164.6 L476.9,1167.0 L477.1,1167.0 L477.8,1164.7 L478.7,1161.4 L479.4,1157.6 L480.0,1153.6 L480.2,1149.9 L480.1,1146.6 L479.8,1143.4 L479.4,1140.2 L478.5,1137.2 L477.3,1134.1 L475.7,1130.8 L473.7,1127.5 L471.5,1124.5 L469.6,1122.0 L468.3,1120.2Z"/><path d="M374.2,1106.6 L372.6,1104.0 L370.4,1100.2 L367.9,1096.0 L365.3,1091.7 L362.9,1088.0 L361.1,1085.0 L359.5,1082.3 L357.7,1079.6 L355.5,1076.8 L352.6,1074.0 L348.9,1071.0 L344.6,1068.0 L340.0,1065.1 L335.7,1062.5 L331.8,1060.2 L328.7,1058.2 L325.9,1056.4 L322.9,1054.6 L319.3,1053.2 L315.3,1052.3 L310.7,1052.1 L305.8,1052.4 L300.7,1053.1 L295.7,1054.3 L291.1,1056.3 L287.1,1059.0 L283.5,1062.4 L280.4,1066.2 L277.7,1070.3 L275.7,1074.6 L274.2,1079.1 L273.3,1083.9 L272.9,1088.9 L273.2,1094.1 L274.1,1099.5 L276.1,1105.5 L279.0,1112.1 L282.4,1118.5 L285.7,1123.9 L287.9,1127.7 L288.1,1127.5 L286.8,1123.4 L284.8,1117.4 L282.4,1110.7 L280.3,1104.1 L279.1,1098.5 L278.9,1093.8 L279.1,1089.2 L279.8,1085.0 L280.9,1081.0 L282.3,1077.4 L284.1,1074.0 L286.4,1070.8 L289.1,1067.9 L292.0,1065.5 L294.9,1063.7 L298.2,1062.5 L302.2,1061.7 L306.4,1061.4 L310.6,1061.4 L314.1,1061.7 L316.7,1062.1 L318.9,1062.9 L321.2,1064.2 L324.0,1065.9 L327.4,1067.8 L331.3,1070.0 L335.7,1072.4 L340.1,1075.0 L344.1,1077.6 L347.4,1080.0 L349.8,1082.2 L351.6,1084.3 L353.2,1086.5 L354.9,1089.1 L357.1,1092.0 L359.7,1095.5 L362.6,1099.4 L365.5,1103.5 L368.1,1107.0 L369.8,1109.4Z"/><path d="M372.0,1108.0 L369.8,1104.6 L366.6,1099.8 L363.1,1094.6 L360.0,1090.0 L357.6,1086.4 L355.5,1083.2 L353.2,1080.1 L350.0,1077.0 L345.5,1073.6 L340.1,1070.1 L334.6,1066.8 L329.6,1064.0 L325.6,1061.6 L322.2,1059.5 L318.8,1057.9 L314.7,1057.0 L309.6,1056.7 L303.8,1057.1 L298.0,1058.1 L293.0,1060.0 L288.7,1062.9 L284.8,1066.8 L281.5,1071.2 L279.0,1076.0 L277.5,1081.8 L276.9,1088.5 L276.8,1094.7 L276.6,1099.0" fill="none" stroke="#8ccc6c" stroke-width="1.4" stroke-linecap="round" opacity="0.75"/><path d="M367.8,1097.4 L367.2,1094.8 L366.4,1091.1 L365.2,1086.9 L364.1,1082.8 L363.1,1079.1 L362.3,1075.9 L361.3,1073.0 L360.4,1070.1 L359.5,1067.3 L358.5,1064.3 L357.4,1061.1 L356.0,1057.7 L354.6,1054.4 L353.2,1051.6 L352.1,1049.7 L351.9,1049.7 L351.9,1052.0 L352.0,1055.1 L352.4,1058.6 L352.9,1062.3 L353.5,1065.7 L354.1,1068.7 L354.6,1071.6 L355.2,1074.6 L355.8,1077.7 L356.9,1080.9 L358.3,1084.6 L359.8,1088.8 L361.5,1092.8 L363.1,1096.2 L364.2,1098.6Z"/><path d="M366.0,1098.0 L364.9,1094.7 L363.2,1089.9 L361.5,1084.7 L360.0,1080.0 L358.8,1075.7 L357.6,1071.4 L356.7,1067.6 L356.0,1065.0" fill="none" stroke="#8ccc6c" stroke-width="1.0" stroke-linecap="round" opacity="0.75"/><path d="M380.3,1111.8 L382.4,1110.8 L385.2,1109.5 L388.6,1107.8 L392.3,1106.0 L395.7,1104.1 L398.7,1102.1 L401.6,1100.0 L404.5,1097.7 L407.6,1095.1 L410.9,1092.2 L414.8,1088.9 L419.3,1085.1 L424.0,1080.8 L428.4,1075.9 L432.0,1070.5 L434.8,1065.1 L437.0,1059.8 L438.7,1054.3 L440.1,1048.7 L441.3,1042.7 L441.9,1035.6 L441.9,1027.6 L441.7,1019.9 L440.7,1013.1 L439.9,1008.3 L439.7,1008.3 L437.9,1012.8 L435.7,1019.2 L433.9,1026.7 L431.9,1034.0 L429.9,1040.1 L428.2,1045.3 L426.3,1050.0 L424.3,1054.3 L422.0,1058.3 L419.4,1062.1 L416.2,1065.8 L412.5,1069.8 L408.6,1074.0 L404.7,1078.1 L401.1,1081.8 L398.1,1084.9 L395.5,1087.4 L393.1,1089.7 L390.7,1091.8 L388.3,1093.9 L385.7,1096.3 L382.8,1098.7 L380.0,1100.9 L377.5,1102.8 L375.7,1104.2Z"/><path d="M378.0,1108.0 L380.5,1106.5 L384.1,1104.2 L388.2,1101.7 L392.0,1099.0 L395.4,1096.4 L398.6,1093.7 L402.1,1090.7 L406.0,1087.0 L410.8,1082.5 L416.1,1077.5 L421.3,1072.0 L425.7,1066.3 L429.1,1059.8 L431.9,1052.6 L434.1,1046.0 L435.6,1041.4" fill="none" stroke="#8ccc6c" stroke-width="2.4" stroke-linecap="round" opacity="0.75"/><path d="M564.4,1212.0 L564.3,1203.4 L564.2,1191.2 L564.1,1177.1 L564.0,1162.8 L564.0,1150.0 L564.0,1139.0 L564.2,1128.4 L564.3,1118.1 L564.5,1108.1 L564.6,1098.1 L564.8,1088.3 L565.1,1078.7 L565.4,1069.3 L565.6,1059.8 L565.8,1050.1 L566.0,1039.4 L566.0,1027.8 L565.6,1016.5 L565.3,1006.9 L565.0,1000.0 L561.0,1000.0 L560.5,1006.8 L559.8,1016.4 L559.0,1027.7 L558.5,1039.2 L558.2,1049.9 L557.8,1059.5 L557.5,1069.0 L557.1,1078.5 L556.7,1088.1 L556.4,1097.9 L556.0,1107.9 L555.7,1117.9 L555.5,1128.2 L555.2,1138.8 L555.0,1150.0 L554.9,1162.7 L554.7,1177.1 L554.7,1191.2 L554.6,1203.4 L554.6,1212.0Z"/><path d="M554.1,1205.3 L552.8,1202.9 L550.9,1199.3 L548.6,1195.3 L546.1,1191.5 L543.5,1188.4 L540.9,1186.3 L538.2,1184.6 L535.4,1183.4 L532.6,1182.8 L529.8,1182.9 L527.1,1183.6 L524.6,1184.9 L522.3,1186.7 L520.4,1188.8 L518.6,1191.1 L517.3,1194.0 L516.3,1197.4 L515.6,1200.8 L515.2,1203.9 L514.9,1206.0 L515.1,1206.0 L516.0,1204.1 L517.2,1201.3 L518.5,1198.1 L519.9,1195.2 L521.4,1192.9 L522.9,1191.1 L524.7,1189.5 L526.6,1188.3 L528.5,1187.4 L530.2,1187.1 L532.0,1187.3 L534.0,1187.8 L536.1,1188.7 L538.3,1189.9 L540.5,1191.6 L542.8,1194.0 L545.4,1197.5 L548.0,1201.1 L550.3,1204.4 L551.9,1206.7Z"/><path d="M564.2,1170.6 L565.3,1168.7 L566.8,1166.1 L568.5,1163.1 L570.2,1160.3 L571.7,1158.4 L573.1,1157.1 L574.6,1156.1 L575.9,1155.4 L576.8,1155.0 L577.1,1154.9 L577.5,1155.3 L578.4,1156.5 L579.2,1158.3 L579.9,1160.3 L580.5,1162.2 L580.8,1164.1 L580.9,1166.3 L580.8,1168.5 L580.8,1170.6 L580.9,1172.0 L581.1,1172.0 L581.6,1170.7 L582.4,1168.8 L583.0,1166.5 L583.4,1164.1 L583.5,1161.8 L583.2,1159.5 L582.7,1157.1 L581.9,1154.8 L580.7,1152.7 L578.9,1151.1 L576.5,1150.6 L574.2,1151.1 L572.1,1152.2 L570.1,1153.7 L568.3,1155.6 L566.7,1158.1 L565.1,1161.3 L563.7,1164.5 L562.6,1167.4 L561.8,1169.4Z"/><path d="M555.7,1156.4 L554.8,1153.3 L553.5,1148.9 L551.8,1143.8 L549.8,1138.4 L547.4,1133.6 L544.5,1129.2 L541.2,1124.8 L537.6,1120.5 L533.8,1116.7 L529.8,1113.4 L525.6,1110.8 L521.2,1108.7 L516.8,1107.2 L512.4,1106.3 L508.3,1105.8 L504.4,1105.8 L500.6,1106.2 L497.0,1107.2 L493.5,1108.7 L490.3,1110.8 L487.4,1113.5 L484.8,1116.7 L482.4,1120.4 L480.4,1124.6 L478.9,1129.5 L478.2,1135.4 L478.0,1142.4 L478.1,1149.5 L478.6,1155.7 L478.9,1160.0 L479.1,1160.0 L479.7,1155.7 L480.3,1149.6 L481.0,1142.6 L481.8,1135.9 L483.1,1130.5 L484.7,1126.5 L486.7,1122.9 L488.8,1119.8 L491.2,1117.2 L493.7,1115.2 L496.1,1113.7 L498.7,1112.7 L501.5,1112.1 L504.5,1112.0 L507.7,1112.2 L511.2,1112.7 L515.0,1113.7 L518.8,1114.9 L522.6,1116.5 L526.2,1118.6 L529.7,1121.3 L533.2,1124.7 L536.7,1128.5 L539.9,1132.5 L542.6,1136.4 L545.1,1140.7 L547.4,1145.5 L549.4,1150.4 L551.0,1154.6 L552.3,1157.6Z"/><path d="M554.0,1157.0 L552.6,1153.0 L550.6,1147.2 L548.0,1140.8 L545.0,1135.0 L541.4,1129.8 L537.2,1124.6 L532.6,1119.8 L528.0,1116.0 L523.1,1113.1 L517.9,1111.1 L512.8,1109.7 L508.0,1109.0 L503.6,1108.9 L499.4,1109.5 L495.6,1110.8 L492.0,1113.0 L488.6,1116.7 L485.5,1121.8 L482.9,1126.6 L481.0,1130.0" fill="none" stroke="#8ccc6c" stroke-width="1.0" stroke-linecap="round" opacity="0.75"/><path d="M500.4,1114.6 L497.0,1113.6 L492.2,1112.2 L486.7,1110.6 L480.9,1109.0 L475.5,1107.8 L470.5,1106.6 L465.5,1105.6 L460.4,1104.6 L455.3,1103.8 L450.1,1103.3 L444.9,1103.3 L439.5,1103.5 L434.2,1104.0 L429.1,1104.8 L424.4,1106.0 L420.2,1107.6 L416.3,1109.5 L412.8,1111.8 L409.7,1114.4 L407.0,1117.1 L404.7,1120.3 L402.9,1123.9 L401.6,1127.6 L400.6,1130.7 L399.9,1132.9 L400.1,1133.1 L401.3,1131.0 L402.8,1128.1 L404.6,1124.8 L406.7,1121.6 L409.0,1118.9 L411.7,1116.7 L414.7,1114.7 L418.1,1112.9 L421.7,1111.3 L425.6,1110.0 L429.9,1109.2 L434.7,1108.7 L439.7,1108.4 L444.9,1108.5 L449.9,1108.7 L454.7,1109.0 L459.6,1109.6 L464.5,1110.4 L469.5,1111.3 L474.5,1112.2 L479.9,1113.3 L485.7,1114.5 L491.4,1115.7 L496.2,1116.7 L499.6,1117.4Z"/><path d="M476.0,1127.7 L477.4,1129.8 L479.3,1132.8 L481.6,1136.1 L484.2,1139.5 L486.5,1142.8 L488.7,1146.0 L491.4,1149.2 L494.2,1152.4 L496.9,1155.4 L499.5,1158.1 L502.2,1160.2 L504.8,1162.0 L507.1,1163.5 L509.3,1164.4 L510.9,1165.1 L511.1,1164.9 L510.3,1163.3 L509.3,1161.2 L507.7,1159.0 L506.1,1156.6 L504.5,1153.9 L502.7,1151.0 L500.6,1147.6 L498.5,1144.0 L496.2,1140.4 L493.5,1137.2 L490.6,1134.2 L487.6,1131.0 L484.6,1128.2 L481.9,1125.9 L480.0,1124.3Z"/><path d="M478.0,1126.0 L480.2,1128.5 L483.2,1132.0 L486.7,1136.0 L490.0,1140.0 L493.3,1144.2 L496.8,1148.9 L499.8,1153.1 L502.0,1156.0" fill="none" stroke="#8ccc6c" stroke-width="1.4" stroke-linecap="round" opacity="0.75"/><path d="M565.8,1087.3 L567.3,1085.4 L569.5,1082.7 L572.0,1079.7 L574.6,1076.6 L577.1,1073.9 L579.4,1071.8 L581.5,1069.9 L583.9,1068.0 L586.6,1065.8 L589.8,1063.2 L593.9,1059.8 L598.7,1055.9 L603.7,1051.9 L608.7,1048.2 L613.1,1045.1 L617.2,1042.5 L621.1,1040.3 L624.7,1038.4 L627.9,1037.2 L630.7,1036.5 L633.0,1036.2 L635.0,1036.4 L636.9,1037.0 L639.1,1038.1 L641.7,1039.9 L644.8,1042.4 L648.2,1045.7 L651.6,1049.5 L654.9,1053.6 L657.7,1057.7 L660.2,1061.6 L662.4,1065.6 L664.3,1069.7 L666.0,1074.2 L667.5,1079.4 L668.7,1086.1 L669.6,1094.1 L670.4,1102.4 L671.2,1109.6 L671.9,1114.6 L672.1,1114.6 L672.4,1109.5 L672.8,1102.3 L673.0,1094.0 L672.8,1085.7 L672.1,1078.6 L671.0,1072.8 L669.5,1067.7 L667.7,1063.1 L665.5,1058.7 L663.1,1054.3 L660.2,1049.8 L656.8,1045.3 L653.3,1041.0 L649.7,1037.2 L646.3,1034.1 L643.1,1031.8 L640.0,1030.0 L636.7,1028.8 L633.1,1028.3 L629.3,1028.5 L625.3,1029.5 L621.3,1031.3 L617.2,1033.5 L613.1,1036.0 L608.9,1038.9 L604.2,1042.3 L599.2,1046.3 L594.2,1050.5 L589.6,1054.6 L585.6,1058.0 L582.4,1060.8 L579.7,1063.1 L577.4,1065.3 L575.2,1067.5 L572.9,1070.1 L570.4,1073.1 L567.9,1076.5 L565.6,1079.8 L563.6,1082.7 L562.2,1084.7Z"/><path d="M564.0,1086.0 L565.9,1083.4 L568.7,1079.7 L571.9,1075.6 L575.0,1072.0 L577.8,1069.1 L580.6,1066.6 L583.7,1063.9 L587.7,1060.6 L592.9,1056.2 L599.0,1051.2 L605.2,1046.2 L611.0,1042.0 L616.2,1038.7 L621.1,1035.8 L625.7,1033.7 L630.0,1032.5 L633.8,1032.3 L637.2,1033.0 L640.4,1034.5 L644.0,1037.0 L648.1,1040.6 L652.5,1045.3 L656.7,1050.6 L660.4,1056.0 L663.5,1062.0 L666.1,1068.7 L668.3,1074.8 L669.8,1079.0" fill="none" stroke="#8ccc6c" stroke-width="1.2" stroke-linecap="round" opacity="0.75"/><path d="M609.6,1043.6 L608.7,1046.0 L607.3,1049.4 L605.9,1053.5 L604.9,1057.9 L604.4,1062.0 L604.7,1065.9 L605.8,1069.6 L607.2,1073.0 L608.8,1076.1 L610.3,1078.9 L612.3,1081.3 L614.4,1083.4 L616.6,1085.1 L618.5,1086.2 L619.9,1087.1 L620.1,1086.9 L619.2,1085.5 L617.9,1083.7 L616.3,1081.7 L614.8,1079.4 L613.7,1077.1 L612.6,1074.4 L611.5,1071.4 L610.6,1068.2 L610.0,1065.0 L609.6,1062.0 L609.7,1058.6 L610.4,1054.6 L611.3,1050.6 L612.0,1047.0 L612.4,1044.4Z"/><path d="M566.4,1041.8 L569.1,1039.8 L572.9,1037.1 L577.3,1033.9 L582.1,1030.7 L586.7,1027.8 L591.5,1025.1 L596.7,1022.5 L602.1,1019.9 L607.6,1017.2 L613.0,1014.2 L618.2,1010.9 L623.1,1007.3 L627.6,1003.7 L631.9,1000.6 L636.0,998.4 L640.2,996.9 L644.5,995.9 L648.8,995.3 L653.1,995.3 L657.5,995.6 L662.1,996.4 L666.9,997.8 L671.8,999.5 L676.4,1001.5 L680.5,1003.5 L684.1,1005.9 L687.6,1008.8 L690.8,1011.7 L693.5,1014.3 L695.5,1016.1 L695.7,1015.9 L694.2,1013.7 L692.0,1010.7 L689.4,1007.1 L686.2,1003.5 L682.5,1000.5 L678.4,997.8 L673.8,995.2 L668.8,992.8 L663.6,990.9 L658.5,989.6 L653.5,989.0 L648.5,988.8 L643.5,989.1 L638.4,990.0 L633.2,991.6 L628.0,994.1 L623.0,997.3 L618.2,1000.9 L613.6,1004.5 L609.0,1007.8 L604.1,1010.7 L598.8,1013.5 L593.5,1016.3 L588.2,1019.2 L583.3,1022.2 L578.5,1025.7 L573.9,1029.4 L569.7,1033.0 L566.1,1036.1 L563.6,1038.2Z"/><path d="M565.0,1040.0 L568.5,1037.3 L573.4,1033.4 L579.1,1029.0 L585.0,1025.0 L591.1,1021.5 L597.8,1018.1 L604.5,1014.6 L611.0,1011.0 L617.1,1006.8 L623.0,1002.3 L628.8,998.1 L634.6,995.0 L640.5,993.2 L646.3,992.2 L652.1,992.1 L658.0,992.6 L664.4,994.3 L671.2,997.2 L677.3,1000.0 L681.5,1002.0" fill="none" stroke="#8ccc6c" stroke-width="1.2" stroke-linecap="round" opacity="0.75"/><path d="M619.1,940.5 L619.3,943.9 L619.5,948.6 L619.9,954.1 L620.6,960.0 L621.2,965.7 L621.8,971.4 L622.4,977.4 L623.5,983.4 L624.6,989.5 L625.7,995.4 L626.7,1001.8 L627.9,1008.6 L629.2,1015.3 L630.6,1021.0 L631.9,1025.0 L632.1,1025.0 L632.9,1020.9 L633.7,1015.0 L634.2,1008.2 L634.5,1001.2 L634.3,994.6 L634.0,988.4 L633.6,982.1 L633.0,975.9 L631.9,969.9 L630.8,964.3 L629.7,958.6 L628.5,952.7 L627.1,947.3 L625.8,942.8 L624.9,939.5Z"/><path d="M622.0,940.0 L622.7,944.4 L623.8,950.6 L624.9,957.8 L626.0,965.0 L627.1,972.9 L628.2,981.6 L629.3,989.5 L630.0,995.0" fill="none" stroke="#8ccc6c" stroke-width="1.6" stroke-linecap="round" opacity="0.75"/><path d="M568.8,1058.9 L567.7,1055.8 L566.2,1051.6 L564.4,1046.5 L562.5,1041.2 L560.7,1036.1 L559.0,1031.1 L557.2,1025.9 L555.2,1020.6 L552.8,1015.7 L550.5,1010.9 L548.4,1006.5 L546.5,1002.5 L544.6,998.4 L542.6,994.1 L540.3,989.0 L537.6,982.9 L534.6,975.6 L531.3,968.0 L527.8,960.5 L524.1,953.8 L520.5,948.2 L516.9,943.3 L513.1,938.8 L509.1,934.9 L504.8,931.4 L500.2,928.5 L495.3,926.1 L490.4,924.2 L485.4,922.9 L480.5,922.1 L475.4,922.0 L470.1,922.5 L465.2,923.7 L461.0,925.3 L457.6,926.9 L455.1,928.9 L453.8,931.2 L453.3,933.3 L453.1,934.9 L453.0,935.9 L455.0,936.7 L455.6,935.6 L456.2,934.2 L456.9,933.0 L457.9,932.1 L459.6,931.7 L462.5,931.4 L466.5,931.2 L470.9,931.2 L475.2,931.3 L479.1,931.9 L482.8,932.9 L486.6,934.4 L490.3,936.3 L493.8,938.5 L497.0,941.2 L500.0,944.2 L502.7,947.6 L505.4,951.5 L508.0,956.0 L510.5,961.0 L512.9,967.0 L515.4,974.2 L517.8,981.9 L520.2,989.4 L522.5,996.2 L524.6,1001.6 L526.4,1006.3 L528.0,1010.5 L529.7,1014.6 L531.5,1019.1 L533.5,1024.1 L535.5,1029.3 L538.0,1034.3 L540.7,1039.2 L543.3,1043.9 L545.9,1048.7 L548.6,1053.6 L551.2,1058.3 L553.4,1062.3 L555.0,1065.1Z"/><path d="M561.9,1062.0 L560.1,1058.1 L557.6,1052.6 L554.8,1046.2 L552.0,1040.0 L549.3,1033.9 L546.5,1027.5 L543.7,1021.1 L541.0,1015.0 L538.6,1009.5 L536.4,1004.4 L534.1,999.0 L531.4,992.6 L528.2,984.4 L524.8,974.9 L521.1,965.5 L517.3,957.4 L513.5,950.9 L509.5,945.2 L505.4,940.4 L500.9,936.3 L496.0,932.9 L490.6,930.2 L485.2,928.2 L479.8,927.0 L474.0,926.8 L467.9,927.6 L462.4,928.6 L458.6,929.3" fill="none" stroke="#8ccc6c" stroke-width="3.2" stroke-linecap="round" opacity="0.75"/><path d="M480.4,931.1 L479.7,932.2 L478.7,933.5 L477.5,935.3 L476.2,937.4 L474.9,939.8 L473.4,942.6 L471.9,945.8 L470.2,949.3 L468.6,953.0 L467.3,956.8 L465.7,961.1 L463.9,966.0 L462.5,970.9 L461.4,975.3 L460.9,978.4 L461.1,978.6 L463.1,976.0 L465.5,972.3 L468.2,967.9 L470.6,963.3 L472.7,959.2 L474.6,955.5 L476.2,951.9 L477.6,948.3 L478.8,945.0 L479.9,942.2 L481.0,939.7 L481.8,937.5 L482.5,935.6 L483.2,934.0 L483.6,932.9Z"/><path d="M482.0,932.0 L481.2,933.4 L480.2,935.4 L478.9,938.0 L477.4,941.0 L475.6,945.1 L473.4,950.1 L471.4,954.8 L470.0,958.0" fill="none" stroke="#8ccc6c" stroke-width="1.0" stroke-linecap="round" opacity="0.75"/><path d="M450.8,937.2 L449.6,938.7 L447.9,941.0 L445.9,943.6 L443.9,946.3 L442.2,948.8 L440.7,951.0 L439.3,953.0 L437.9,955.2 L436.5,957.9 L435.1,961.3 L434.0,965.5 L432.9,970.3 L432.1,975.5 L431.4,980.5 L430.5,985.1 L429.6,989.2 L428.5,993.2 L427.4,997.1 L426.4,1000.9 L425.5,1004.6 L424.9,1008.3 L424.3,1012.1 L423.8,1015.6 L423.6,1018.5 L423.4,1020.7 L423.6,1020.7 L424.3,1018.7 L425.2,1015.9 L426.3,1012.5 L427.3,1008.9 L428.5,1005.4 L429.7,1001.9 L431.1,998.3 L432.4,994.5 L433.8,990.4 L435.1,986.1 L436.2,981.4 L437.3,976.4 L438.1,971.3 L438.9,966.6 L439.9,962.7 L440.9,959.8 L441.9,957.5 L443.1,955.5 L444.4,953.4 L445.8,951.2 L447.4,948.5 L449.0,945.7 L450.7,942.9 L452.2,940.5 L453.2,938.8Z"/><path d="M437.5,1007.1 L436.3,1010.0 L434.5,1014.0 L432.5,1018.7 L430.3,1023.7 L428.3,1028.4 L426.0,1033.1 L423.5,1038.0 L420.9,1043.0 L418.3,1048.0 L416.1,1053.0 L413.9,1057.9 L411.6,1062.8 L409.4,1067.6 L407.2,1072.2 L405.4,1076.7 L403.8,1081.2 L402.4,1085.6 L401.2,1089.8 L400.4,1093.4 L399.9,1095.9 L400.1,1096.1 L401.6,1093.9 L403.7,1090.9 L405.9,1087.2 L408.2,1083.2 L410.6,1079.3 L413.1,1075.3 L415.7,1070.9 L418.4,1066.4 L421.2,1061.7 L423.9,1057.0 L426.6,1052.1 L429.1,1047.0 L431.5,1041.8 L433.7,1036.6 L435.7,1031.6 L437.6,1026.5 L439.3,1021.2 L440.6,1016.1 L441.7,1011.9 L442.5,1008.9Z"/><path d="M440.0,1008.0 L438.7,1011.9 L436.8,1017.4 L434.5,1023.8 L432.0,1030.0 L429.3,1036.1 L426.2,1042.4 L423.1,1048.8 L420.0,1055.0 L416.7,1061.4 L413.2,1068.1 L410.2,1073.9 L408.0,1078.0" fill="none" stroke="#8ccc6c" stroke-width="1.4" stroke-linecap="round" opacity="0.75"/><path d="M561.7,1009.4 L561.7,1005.2 L561.6,999.3 L560.9,992.6 L560.3,985.6 L559.5,979.2 L558.0,972.6 L556.5,965.4 L554.5,958.3 L552.5,952.2 L550.1,948.0 L549.9,948.0 L548.3,952.6 L547.3,958.9 L546.6,966.3 L546.5,973.8 L546.5,980.8 L547.6,987.6 L549.3,994.6 L550.9,1001.2 L552.9,1006.7 L554.3,1010.6Z"/><path d="M558.0,1010.0 L557.1,1004.7 L555.7,997.0 L554.2,988.3 L553.0,980.0 L552.0,971.4 L551.2,962.1 L550.5,953.8 L550.0,948.0" fill="none" stroke="#8ccc6c" stroke-width="2.0" stroke-linecap="round" opacity="0.75"/><path d="M570.1,1041.7 L571.6,1037.3 L573.8,1031.0 L576.3,1023.8 L578.8,1016.7 L581.0,1010.7 L582.8,1006.1 L584.4,1001.9 L585.9,997.8 L587.4,993.5 L589.0,988.8 L590.6,983.7 L592.2,978.4 L593.7,973.2 L595.2,968.2 L596.4,963.4 L597.5,958.8 L598.6,954.3 L599.6,950.2 L600.7,946.4 L601.9,942.9 L603.3,939.3 L604.8,935.8 L606.4,932.6 L607.8,930.0 L608.8,928.1 L609.4,927.3 L609.5,927.0 L609.9,926.6 L611.2,926.1 L612.4,925.6 L612.9,925.3 L614.3,925.4 L617.7,925.5 L622.5,924.5 L627.2,921.6 L630.9,917.4 L634.2,912.5 L637.2,907.2 L640.1,902.1 L643.0,897.8 L646.1,893.9 L649.8,890.0 L653.4,886.3 L656.5,883.2 L658.8,881.0 L657.2,879.0 L654.6,880.7 L650.7,882.9 L646.2,885.7 L641.5,888.8 L637.0,892.2 L632.7,896.1 L628.4,900.6 L624.3,905.0 L620.9,908.5 L618.4,910.4 L617.6,910.5 L617.4,910.3 L616.2,909.9 L613.3,909.3 L609.6,909.4 L606.9,909.9 L604.5,910.4 L601.5,911.4 L598.2,913.3 L595.2,915.9 L592.4,919.0 L589.7,922.4 L587.3,926.2 L584.9,930.2 L582.7,934.3 L580.6,938.6 L578.7,943.0 L577.0,947.5 L575.3,952.0 L573.6,956.6 L571.9,961.6 L570.6,967.0 L569.4,972.4 L568.2,977.6 L567.0,982.4 L565.8,986.7 L564.6,990.9 L563.4,995.1 L562.1,999.8 L561.0,1005.3 L559.9,1011.9 L558.7,1019.5 L557.6,1027.1 L556.6,1033.7 L555.9,1038.3Z"/><path d="M563.0,1040.0 L564.5,1034.0 L566.6,1025.4 L568.9,1016.1 L571.0,1008.0 L572.8,1001.8 L574.6,996.4 L576.3,991.2 L578.0,985.6 L579.7,979.3 L581.5,972.7 L583.2,966.2 L585.0,960.0 L586.7,954.2 L588.5,948.7 L590.3,943.5 L592.3,938.6 L594.6,933.8 L597.0,929.2 L599.6,925.2 L602.0,922.0 L604.2,920.0 L606.4,918.8 L608.6,918.1 L611.0,917.5 L613.6,917.4 L616.4,917.8 L619.4,917.7 L622.8,916.0 L627.1,911.6 L632.1,905.4 L636.8,899.2 L640.0,895.0" fill="none" stroke="#8ccc6c" stroke-width="3.6" stroke-linecap="round" opacity="0.75"/><path d="M750.7,1211.0 L750.6,1200.2 L750.5,1185.3 L750.4,1167.5 L750.3,1148.6 L750.3,1130.0 L750.3,1110.7 L750.5,1089.5 L750.7,1068.2 L750.9,1048.4 L751.2,1031.8 L751.6,1019.0 L752.0,1008.9 L752.5,1000.6 L752.9,993.0 L753.1,985.1 L753.1,976.8 L753.0,968.5 L752.9,961.0 L752.9,954.6 L752.8,950.0 L749.2,950.0 L748.9,954.5 L748.5,960.9 L748.0,968.4 L747.5,976.6 L746.9,984.9 L746.3,992.6 L745.8,1000.2 L745.2,1008.6 L744.7,1018.7 L744.2,1031.6 L743.7,1048.3 L743.3,1068.1 L742.8,1089.4 L742.4,1110.6 L742.1,1130.0 L741.9,1148.6 L741.8,1167.5 L741.8,1185.3 L741.7,1200.3 L741.7,1211.0Z"/><path d="M744.9,1157.3 L743.9,1155.1 L742.6,1151.9 L741.0,1148.2 L739.0,1144.5 L736.8,1141.4 L734.4,1139.0 L731.9,1137.0 L729.1,1135.4 L726.0,1133.9 L722.5,1132.5 L718.3,1130.9 L713.4,1129.2 L708.2,1127.8 L702.9,1126.9 L698.2,1127.1 L694.1,1128.1 L690.4,1129.7 L686.9,1132.2 L684.0,1135.9 L681.7,1140.9 L680.0,1148.1 L678.9,1157.4 L678.3,1167.3 L678.1,1176.0 L678.1,1182.0 L678.3,1182.0 L679.6,1176.1 L681.0,1167.5 L682.6,1157.9 L684.4,1149.0 L686.3,1142.5 L688.4,1138.6 L690.6,1136.1 L693.0,1134.5 L695.7,1133.5 L698.8,1132.9 L702.5,1132.9 L707.0,1133.5 L711.8,1134.7 L716.6,1136.2 L720.7,1137.5 L724.0,1138.7 L726.7,1139.9 L729.1,1141.3 L731.2,1142.8 L733.2,1144.6 L735.2,1147.0 L737.3,1150.2 L739.2,1153.6 L740.7,1156.6 L741.9,1158.7Z"/><path d="M743.4,1158.0 L742.0,1155.1 L740.0,1151.0 L737.6,1146.6 L735.0,1143.0 L732.2,1140.4 L729.2,1138.4 L725.7,1136.6 L721.6,1135.0 L716.3,1133.1 L710.1,1131.3 L703.9,1130.0 L698.5,1130.0 L693.9,1132.0 L689.8,1135.5 L686.4,1139.2 L684.0,1141.7" fill="none" stroke="#8ccc6c" stroke-width="1.0" stroke-linecap="round" opacity="0.75"/><path d="M749.0,1182.7 L750.1,1181.0 L751.7,1178.6 L753.5,1175.9 L755.2,1173.3 L756.8,1171.4 L758.0,1170.1 L759.0,1169.2 L759.9,1168.5 L761.1,1167.9 L762.9,1167.3 L765.4,1166.4 L768.5,1165.4 L771.5,1164.7 L774.1,1164.2 L775.9,1164.4 L777.2,1165.1 L778.7,1166.6 L780.1,1168.6 L781.2,1171.1 L782.0,1173.9 L782.5,1177.4 L782.5,1181.9 L782.3,1186.7 L782.2,1190.9 L782.3,1193.9 L782.5,1193.9 L783.3,1191.1 L784.4,1187.0 L785.3,1182.2 L786.0,1177.4 L786.0,1173.3 L785.2,1169.8 L784.1,1166.6 L782.4,1163.8 L780.3,1161.4 L777.5,1159.6 L774.1,1159.0 L770.4,1159.4 L766.9,1160.5 L763.7,1161.7 L761.1,1162.7 L759.1,1163.6 L757.4,1164.5 L755.9,1165.6 L754.6,1167.0 L753.2,1168.6 L751.6,1170.9 L750.0,1173.9 L748.6,1176.8 L747.3,1179.5 L746.4,1181.3Z"/><path d="M753.3,1133.3 L754.6,1130.9 L756.4,1127.6 L758.6,1123.7 L761.0,1119.7 L763.4,1116.0 L765.8,1112.6 L768.1,1109.2 L770.5,1105.9 L773.4,1102.4 L777.1,1098.7 L781.9,1094.3 L787.5,1089.4 L793.6,1084.5 L799.6,1080.1 L805.3,1076.7 L810.7,1073.9 L816.0,1071.5 L821.3,1069.7 L826.5,1068.6 L831.6,1068.1 L836.8,1068.4 L842.1,1069.5 L847.6,1071.1 L853.4,1073.2 L859.2,1075.3 L865.3,1077.6 L871.8,1080.5 L878.2,1083.4 L884.1,1086.2 L889.0,1088.0 L892.7,1089.0 L895.4,1089.5 L897.4,1089.7 L898.8,1089.7 L900.0,1089.7 L900.0,1089.5 L898.9,1089.1 L897.6,1088.8 L895.8,1088.2 L893.4,1087.2 L890.2,1085.4 L885.9,1082.7 L880.4,1079.3 L874.4,1075.5 L868.1,1071.8 L862.0,1068.7 L856.3,1066.0 L850.4,1063.5 L844.4,1061.3 L838.2,1059.7 L831.8,1058.9 L825.3,1059.2 L818.9,1060.2 L812.6,1061.9 L806.3,1064.3 L800.1,1067.3 L793.7,1071.5 L787.3,1076.6 L781.0,1082.0 L775.4,1087.3 L770.5,1092.1 L766.6,1096.5 L763.4,1100.6 L760.9,1104.4 L758.7,1108.2 L756.6,1112.0 L754.4,1116.1 L752.4,1120.5 L750.5,1124.7 L749.0,1128.2 L747.9,1130.7Z"/><path d="M750.6,1132.0 L752.2,1128.8 L754.4,1124.2 L757.1,1119.0 L760.0,1114.0 L762.8,1109.5 L765.7,1105.0 L769.2,1100.4 L773.8,1095.4 L780.0,1089.5 L787.3,1083.1 L795.1,1076.9 L802.7,1072.0 L809.9,1068.4 L817.2,1065.8 L824.5,1064.1 L831.7,1063.5 L838.9,1064.3 L846.2,1066.3 L853.4,1069.0 L860.6,1072.0 L868.5,1075.6 L876.9,1079.9 L884.4,1083.9 L889.6,1086.7" fill="none" stroke="#8ccc6c" stroke-width="1.6" stroke-linecap="round" opacity="0.75"/><path d="M844.2,1070.7 L842.5,1072.8 L840.1,1075.7 L837.3,1079.0 L834.6,1082.6 L832.2,1085.8 L829.8,1088.4 L827.1,1091.0 L824.1,1093.9 L821.4,1097.9 L819.5,1102.9 L818.5,1109.4 L818.1,1116.9 L818.5,1124.6 L819.1,1131.3 L819.9,1136.0 L820.1,1136.0 L821.4,1131.4 L822.6,1124.8 L823.9,1117.4 L825.0,1110.4 L826.5,1105.1 L828.2,1101.7 L830.3,1099.0 L832.6,1096.3 L835.3,1093.5 L837.8,1090.2 L840.2,1086.5 L842.7,1082.7 L844.8,1078.8 L846.6,1075.6 L847.8,1073.3Z"/><path d="M846.0,1072.0 L844.0,1074.9 L841.2,1079.0 L838.1,1083.6 L835.0,1088.0 L831.8,1092.4 L828.3,1097.0 L825.2,1101.1 L823.0,1104.0" fill="none" stroke="#8ccc6c" stroke-width="1.2" stroke-linecap="round" opacity="0.75"/><path d="M858.3,1074.8 L858.9,1076.9 L859.8,1079.7 L861.0,1082.8 L862.0,1085.9 L862.8,1088.7 L863.6,1091.6 L864.1,1095.1 L864.7,1098.6 L865.4,1101.8 L866.3,1104.0 L866.5,1104.0 L867.5,1101.8 L868.3,1098.7 L869.1,1095.0 L869.3,1091.1 L869.2,1087.3 L868.1,1083.8 L866.4,1080.4 L864.7,1077.3 L862.9,1074.9 L861.7,1073.2Z"/><path d="M860.0,1074.0 L861.2,1076.5 L863.0,1080.0 L864.8,1084.0 L866.0,1088.0 L866.5,1092.2 L866.6,1096.9 L866.5,1101.1 L866.4,1104.0" fill="none" stroke="#8ccc6c" stroke-width="1.0" stroke-linecap="round" opacity="0.75"/><path d="M747.6,1060.2 L746.5,1058.1 L744.9,1055.2 L742.9,1051.7 L740.7,1047.9 L738.4,1044.4 L736.3,1041.3 L734.1,1038.3 L731.7,1035.2 L728.7,1031.8 L725.2,1028.1 L720.9,1023.7 L715.9,1018.7 L710.5,1013.4 L704.7,1008.3 L698.9,1003.8 L693.1,999.8 L687.2,996.1 L680.8,993.0 L674.4,990.5 L667.9,988.7 L661.4,987.6 L654.8,987.2 L648.3,987.4 L642.1,988.2 L636.3,989.7 L631.1,991.7 L626.3,994.5 L622.0,998.0 L618.2,1002.0 L614.8,1006.7 L611.9,1012.6 L609.4,1019.6 L607.7,1026.8 L606.6,1033.1 L605.7,1037.5 L605.9,1037.5 L607.9,1033.6 L610.6,1027.8 L613.7,1021.3 L616.8,1015.0 L620.0,1010.3 L623.3,1006.8 L626.9,1003.9 L630.7,1001.6 L634.6,999.7 L638.9,998.3 L643.6,997.5 L648.8,997.1 L654.3,997.3 L659.9,998.1 L665.3,999.3 L670.5,1001.1 L675.8,1003.6 L681.3,1006.7 L686.8,1009.8 L692.3,1013.2 L697.7,1017.1 L703.2,1021.6 L708.6,1026.4 L713.6,1031.1 L718.0,1035.3 L721.6,1038.7 L724.4,1041.6 L726.9,1044.3 L729.2,1046.9 L731.6,1049.6 L734.0,1052.6 L736.4,1055.8 L738.7,1059.0 L740.6,1061.8 L742.0,1063.8Z"/><path d="M744.8,1062.0 L743.1,1059.3 L740.7,1055.5 L737.9,1051.1 L735.0,1047.0 L732.2,1043.4 L729.3,1039.9 L725.9,1036.1 L721.6,1031.7 L716.1,1026.3 L709.6,1020.1 L702.6,1013.9 L695.6,1008.5 L688.6,1003.9 L681.3,999.8 L673.9,996.4 L666.6,994.0 L659.1,992.6 L651.5,992.2 L644.2,992.6 L637.6,994.0 L631.5,996.9 L625.7,1001.2 L620.8,1005.6 L617.4,1008.5" fill="none" stroke="#8ccc6c" stroke-width="1.8" stroke-linecap="round" opacity="0.75"/><path d="M628.6,1032.6 L631.0,1033.1 L634.4,1033.8 L638.2,1034.6 L641.8,1035.6 L644.8,1036.6 L647.2,1037.7 L649.5,1038.8 L651.5,1040.1 L653.2,1041.5 L654.9,1043.3 L656.5,1045.3 L658.0,1047.6 L659.3,1050.1 L660.5,1053.0 L661.5,1056.3 L662.6,1060.1 L663.6,1064.4 L664.4,1069.2 L665.2,1074.5 L665.8,1080.2 L666.4,1087.1 L667.1,1095.2 L667.7,1103.5 L668.5,1110.7 L669.4,1115.7 L669.6,1115.7 L670.6,1110.7 L671.6,1103.5 L672.4,1095.2 L673.1,1087.0 L673.2,1079.8 L673.0,1073.8 L672.7,1068.3 L672.2,1063.0 L671.5,1058.2 L670.5,1053.7 L669.0,1049.6 L667.3,1046.1 L665.4,1042.9 L663.3,1040.1 L661.1,1037.5 L658.6,1035.3 L656.0,1033.3 L653.2,1031.8 L650.3,1030.5 L647.2,1029.4 L643.4,1028.6 L639.3,1028.1 L635.2,1027.8 L631.8,1027.6 L629.4,1027.4Z"/><path d="M629.0,1030.0 L632.2,1030.4 L636.8,1031.0 L641.7,1031.9 L646.0,1033.0 L649.4,1034.4 L652.6,1036.0 L655.4,1037.9 L658.0,1040.4 L660.4,1043.3 L662.5,1046.6 L664.4,1050.5 L666.0,1055.0 L667.3,1061.1 L668.2,1068.4 L669.0,1075.3 L669.5,1080.0" fill="none" stroke="#8ccc6c" stroke-width="1.4" stroke-linecap="round" opacity="0.75"/><path d="M753.9,1040.7 L755.2,1038.5 L757.0,1035.4 L759.1,1031.8 L761.4,1028.0 L763.8,1024.4 L766.1,1021.3 L768.4,1018.3 L771.1,1015.1 L774.3,1011.1 L778.3,1005.8 L783.3,998.4 L789.1,989.5 L795.3,980.4 L801.4,972.3 L806.9,966.7 L811.6,963.7 L816.2,962.0 L821.1,961.1 L826.5,960.7 L832.2,960.1 L837.9,959.6 L843.5,959.5 L849.1,959.8 L854.1,960.5 L858.3,961.8 L861.7,963.6 L864.8,965.9 L867.8,968.9 L870.7,972.5 L873.6,976.6 L876.6,981.1 L879.4,985.6 L881.8,990.4 L883.9,996.1 L885.5,1003.1 L886.3,1012.9 L886.4,1025.3 L886.2,1038.2 L886.4,1049.7 L886.6,1057.7 L886.8,1057.7 L888.3,1049.9 L890.5,1038.6 L892.3,1025.6 L893.5,1013.0 L893.7,1002.3 L892.7,994.0 L890.8,987.0 L888.2,981.0 L885.3,975.8 L882.4,971.0 L879.5,966.2 L876.2,961.8 L872.5,957.6 L868.1,954.0 L862.9,951.0 L857.1,948.9 L850.7,947.5 L844.1,946.8 L837.5,946.6 L831.2,946.9 L825.3,947.2 L819.1,948.0 L812.4,949.5 L805.4,952.4 L798.5,957.3 L791.9,964.5 L785.5,973.6 L779.4,983.3 L773.9,992.4 L769.3,999.6 L765.7,1004.9 L762.9,1009.1 L760.5,1012.6 L758.4,1016.0 L756.2,1019.6 L753.9,1023.6 L751.8,1027.8 L750.0,1031.7 L748.4,1034.9 L747.3,1037.3Z"/><path d="M750.6,1039.0 L752.2,1036.0 L754.4,1031.7 L757.1,1026.8 L760.0,1022.0 L762.8,1017.8 L765.7,1013.8 L769.2,1009.1 L773.8,1002.7 L780.0,993.3 L787.3,981.7 L795.1,970.4 L802.7,962.0 L809.9,957.3 L817.2,955.0 L824.5,954.1 L831.7,953.5 L839.2,953.1 L846.9,953.3 L854.2,954.4 L860.6,956.4 L865.9,959.5 L870.4,963.5 L874.3,968.3 L878.0,973.8 L881.6,980.9 L884.9,989.3 L887.7,997.2 L889.6,1002.7" fill="none" stroke="#8ccc6c" stroke-width="2.0" stroke-linecap="round" opacity="0.75"/><path d="M818.1,960.2 L816.3,961.7 L813.6,963.9 L810.5,966.5 L807.4,969.5 L804.8,972.5 L802.7,975.0 L800.6,977.5 L798.4,980.6 L796.5,984.8 L795.2,990.4 L795.1,998.1 L795.6,1007.5 L796.7,1017.2 L798.1,1025.8 L799.7,1031.7 L799.9,1031.7 L801.3,1025.7 L802.1,1017.1 L802.8,1007.4 L803.5,998.4 L804.4,991.6 L805.2,987.5 L806.2,984.7 L807.5,982.5 L809.3,980.2 L811.2,977.5 L813.3,974.5 L815.7,971.4 L818.1,968.4 L820.3,965.7 L821.9,963.8Z"/><path d="M820.0,962.0 L817.8,964.3 L814.5,967.5 L811.0,971.2 L808.0,975.0 L805.5,979.2 L803.1,983.8 L801.2,988.1 L799.8,991.0" fill="none" stroke="#8ccc6c" stroke-width="1.4" stroke-linecap="round" opacity="0.75"/><path d="M751.8,985.2 L750.7,982.1 L749.2,977.7 L747.3,972.6 L745.4,967.3 L743.5,962.4 L741.7,958.2 L739.9,954.4 L738.0,950.7 L736.0,946.6 L733.6,941.7 L730.9,935.6 L727.9,928.4 L724.5,920.7 L720.8,912.9 L716.7,905.6 L712.1,899.2 L707.0,893.3 L701.8,887.7 L696.4,882.8 L691.0,878.6 L685.7,875.3 L680.4,872.7 L675.0,870.8 L669.4,869.8 L663.6,869.5 L657.6,870.4 L651.5,872.2 L645.5,874.7 L640.1,877.8 L635.4,881.3 L631.7,885.8 L629.3,891.1 L627.7,896.5 L626.7,901.1 L625.9,904.2 L626.1,904.4 L628.0,901.6 L630.5,897.7 L633.5,893.4 L636.6,889.5 L639.8,886.7 L643.8,884.7 L648.8,883.0 L654.1,881.7 L659.2,881.1 L663.8,881.1 L667.7,881.5 L671.4,882.6 L675.1,884.2 L678.9,886.5 L682.8,889.4 L686.9,893.1 L691.1,897.7 L695.3,903.0 L699.4,908.7 L703.3,914.4 L707.1,920.4 L710.9,927.3 L714.5,934.6 L718.0,941.7 L721.2,947.9 L724.0,952.9 L726.3,957.0 L728.4,960.6 L730.4,964.0 L732.5,967.6 L734.9,972.0 L737.5,976.9 L740.0,981.7 L742.1,985.8 L743.6,988.8Z"/><path d="M747.7,987.0 L746.0,983.0 L743.5,977.3 L740.7,970.9 L738.0,965.0 L735.6,960.2 L733.2,955.7 L730.5,950.8 L727.4,944.8 L723.7,936.9 L719.5,927.8 L714.9,918.4 L710.0,910.0 L704.6,902.5 L698.8,895.4 L692.8,889.1 L686.9,884.0 L681.2,880.2 L675.5,877.5 L669.7,875.8 L663.7,875.3 L656.8,876.5 L649.2,879.1 L642.4,882.0 L637.6,884.0" fill="none" stroke="#8ccc6c" stroke-width="2.4" stroke-linecap="round" opacity="0.75"/><path d="M626.0,909.1 L624.9,910.7 L623.5,912.9 L622.0,915.5 L620.5,917.9 L619.0,919.7 L617.5,921.1 L615.9,922.5 L614.2,924.1 L612.3,925.7 L610.3,927.3 L608.2,928.9 L605.7,930.8 L603.3,932.6 L601.3,934.4 L599.9,935.9 L600.1,936.1 L602.0,936.0 L604.7,935.7 L607.8,934.9 L610.9,934.0 L613.7,932.7 L616.1,931.5 L618.5,930.2 L620.9,928.7 L623.0,926.7 L625.0,924.3 L626.6,921.5 L628.0,918.4 L629.0,915.3 L629.6,912.7 L630.0,910.9Z"/><path d="M628.0,910.0 L627.0,912.2 L625.6,915.5 L623.9,919.0 L622.0,922.0 L619.5,924.5 L616.6,926.8 L613.9,928.7 L612.0,930.0" fill="none" stroke="#8ccc6c" stroke-width="1.2" stroke-linecap="round" opacity="0.75"/><path d="M625.3,930.1 L624.9,934.2 L624.4,940.0 L624.0,946.7 L623.9,953.7 L623.8,960.2 L623.7,966.2 L623.8,972.2 L624.4,978.2 L625.1,984.2 L625.7,990.2 L626.4,996.6 L627.6,1003.6 L628.8,1010.2 L630.4,1016.0 L631.8,1020.0 L632.0,1020.0 L633.2,1015.9 L634.4,1010.1 L635.2,1003.3 L636.0,996.3 L636.3,989.8 L636.5,983.8 L636.8,977.8 L637.0,971.8 L636.7,965.8 L636.2,959.8 L635.7,953.3 L635.1,946.4 L634.3,939.7 L633.4,933.9 L632.7,929.9Z"/><path d="M629.0,930.0 L629.2,935.4 L629.4,943.1 L629.7,951.8 L630.0,960.0 L630.3,968.2 L630.6,976.9 L630.8,984.6 L631.0,990.0" fill="none" stroke="#8ccc6c" stroke-width="2.0" stroke-linecap="round" opacity="0.75"/><path d="M754.0,967.0 L753.6,962.4 L753.1,955.9 L752.5,948.2 L751.7,940.3 L750.6,932.9 L749.2,926.2 L747.3,919.8 L745.3,913.4 L743.2,907.2 L740.8,901.1 L738.2,895.4 L735.5,889.9 L732.6,884.7 L729.6,879.6 L726.5,874.5 L723.0,869.3 L719.1,864.1 L715.0,858.8 L710.9,853.8 L706.8,849.2 L702.8,845.0 L698.8,841.2 L694.7,837.7 L690.7,834.5 L686.5,831.8 L682.3,829.5 L678.0,827.2 L673.6,825.3 L669.1,823.9 L664.4,823.4 L660.0,823.9 L656.1,825.4 L652.7,827.6 L649.7,830.1 L646.9,833.0 L644.2,836.2 L641.7,839.9 L639.3,844.0 L637.0,848.6 L634.9,853.7 L632.8,859.9 L631.0,867.3 L629.6,874.8 L628.4,881.3 L627.5,885.9 L628.5,886.1 L630.3,881.9 L632.8,875.7 L635.7,868.8 L638.7,862.0 L641.1,856.3 L643.5,851.9 L645.9,847.9 L648.3,844.4 L650.7,841.5 L653.1,839.0 L655.5,837.0 L657.8,835.5 L660.0,834.7 L661.9,834.4 L663.6,834.6 L665.6,835.4 L668.2,836.8 L671.2,838.9 L674.3,841.4 L677.5,844.2 L680.5,847.0 L683.7,850.0 L686.8,853.3 L690.0,856.9 L693.2,860.8 L696.4,865.2 L699.8,870.0 L703.1,875.2 L706.4,880.4 L709.5,885.5 L712.6,890.2 L715.6,894.8 L718.3,899.3 L720.8,904.0 L723.2,908.9 L725.5,914.1 L727.6,919.6 L729.6,925.3 L731.5,931.2 L733.4,937.1 L735.4,943.6 L737.4,950.9 L739.3,958.2 L740.9,964.5 L742.0,969.0Z"/><path d="M748.0,968.0 L747.0,962.0 L745.6,953.4 L743.9,943.8 L742.0,935.0 L739.9,927.2 L737.5,919.5 L734.9,912.1 L732.0,905.0 L728.9,898.4 L725.5,892.2 L721.9,886.1 L718.0,880.0 L713.8,873.6 L709.2,867.0 L704.6,860.7 L700.0,855.0 L695.5,850.0 L691.0,845.5 L686.5,841.5 L682.0,838.0 L677.4,834.8 L672.8,832.0 L668.2,829.9 L664.0,829.0 L660.2,829.3 L656.6,830.8 L653.3,833.0 L650.0,836.0 L646.6,840.4 L643.1,845.9 L640.1,851.3 L638.0,855.0" fill="none" stroke="#8ccc6c" stroke-width="3.0" stroke-linecap="round" opacity="0.75"/><path d="M759.9,965.2 L761.3,961.9 L763.2,957.2 L765.4,951.9 L767.7,946.5 L769.9,941.9 L771.6,938.0 L772.9,934.6 L774.3,931.6 L776.0,928.6 L778.6,924.9 L782.2,920.3 L786.5,915.1 L791.3,909.8 L796.2,904.9 L801.1,900.8 L806.0,897.5 L811.2,894.2 L816.7,891.3 L822.3,888.8 L827.9,886.4 L833.4,884.4 L838.7,882.6 L843.9,881.2 L849.2,880.3 L854.7,880.0 L861.2,880.3 L868.7,881.4 L876.4,883.0 L883.4,884.6 L889.0,885.8 L892.9,886.6 L895.6,887.6 L897.4,888.5 L898.8,889.3 L899.9,889.9 L900.1,889.7 L899.2,888.8 L898.1,887.6 L896.4,886.1 L893.9,884.2 L890.2,882.2 L884.9,879.8 L878.1,877.1 L870.5,874.3 L862.7,872.0 L855.3,870.6 L848.5,870.4 L842.1,871.0 L836.0,872.2 L830.0,873.8 L824.1,875.6 L817.9,877.6 L811.6,880.0 L805.2,882.8 L798.8,886.2 L792.9,890.4 L787.3,895.5 L782.0,901.3 L777.0,907.3 L772.7,913.1 L769.0,918.3 L766.2,922.8 L764.2,926.8 L762.7,930.6 L761.4,934.2 L760.1,938.1 L758.5,943.1 L756.8,948.8 L755.2,954.5 L753.9,959.4 L752.9,962.8Z"/><path d="M756.4,964.0 L757.9,959.6 L760.1,953.1 L762.6,946.2 L765.0,940.0 L766.8,935.2 L768.5,930.9 L770.6,926.6 L773.8,921.6 L778.5,915.4 L784.1,908.4 L790.5,901.5 L797.0,895.6 L803.8,890.9 L811.1,887.0 L818.6,883.8 L826.0,881.0 L833.1,878.6 L840.1,876.7 L847.4,875.5 L855.0,875.3 L864.1,876.7 L874.1,879.3 L883.3,882.1 L889.6,884.0" fill="none" stroke="#8ccc6c" stroke-width="2.0" stroke-linecap="round" opacity="0.75"/><path d="M858.1,888.6 L859.1,890.5 L860.5,893.1 L862.1,896.1 L863.6,899.2 L865.0,902.1 L866.1,904.7 L867.0,906.9 L867.9,909.3 L868.8,912.5 L869.8,917.1 L871.9,924.1 L874.6,933.1 L877.6,942.6 L880.7,950.9 L883.7,956.4 L883.9,956.4 L884.4,950.1 L883.9,941.2 L882.9,931.3 L881.5,921.9 L880.2,914.5 L878.6,909.5 L877.2,905.9 L875.8,903.0 L874.5,900.5 L873.0,897.9 L871.1,894.8 L868.8,891.7 L866.4,889.0 L864.4,886.8 L863.1,885.2Z"/><path d="M860.6,886.9 L862.2,889.2 L864.4,892.5 L866.9,896.2 L869.0,900.0 L870.8,904.1 L872.5,908.7 L874.0,912.9 L875.0,915.8" fill="none" stroke="#8ccc6c" stroke-width="1.6" stroke-linecap="round" opacity="0.75"/><path d="M794.0,897.0 L793.4,900.1 L792.7,904.5 L792.3,909.6 L791.9,914.9 L791.8,920.0 L792.4,925.2 L793.0,931.0 L794.1,936.6 L795.3,941.4 L796.9,944.8 L797.1,944.8 L798.7,941.4 L799.9,936.6 L801.0,931.0 L801.6,925.2 L802.2,920.0 L802.1,914.9 L801.7,909.6 L801.3,904.5 L800.6,900.1 L800.0,897.0Z"/><path d="M797.0,897.0 L797.0,901.1 L797.0,906.9 L797.0,913.6 L797.0,920.0 L797.0,926.7 L797.0,933.8 L797.0,940.3 L797.0,944.8" fill="none" stroke="#8ccc6c" stroke-width="1.6" stroke-linecap="round" opacity="0.75"/><path d="M755.5,967.9 L755.9,963.0 L756.5,956.0 L757.2,947.8 L757.5,938.9 L757.8,930.0 L758.1,920.3 L758.5,909.6 L758.0,898.8 L757.4,888.7 L757.1,880.2 L756.9,873.6 L756.8,868.3 L756.7,864.1 L756.8,860.2 L757.1,856.1 L757.9,851.6 L759.3,846.9 L760.5,842.1 L761.5,837.9 L762.1,834.9 L761.9,834.7 L759.9,837.1 L757.0,840.3 L753.8,844.4 L751.1,849.0 L748.9,853.9 L747.4,858.4 L746.2,862.9 L745.3,867.6 L744.7,873.1 L744.1,879.8 L743.4,888.5 L742.8,898.8 L742.5,909.7 L743.0,920.4 L743.4,930.0 L743.8,939.0 L744.3,948.0 L745.2,956.2 L746.0,963.1 L746.5,968.1Z"/><path d="M751.0,968.0 L750.9,961.5 L750.8,952.1 L750.7,941.2 L750.6,930.0 L750.5,917.8 L750.4,904.2 L750.4,891.0 L750.6,880.0 L751.1,871.4 L751.8,864.4 L752.5,858.9 L753.0,855.0" fill="none" stroke="#8ccc6c" stroke-width="2.4" stroke-linecap="round" opacity="0.75"/><path d="M757.2,852.0 L759.5,849.9 L762.6,847.0 L766.2,843.7 L769.7,840.8 L772.6,838.8 L775.4,837.2 L778.0,835.9 L779.9,835.3 L780.8,835.4 L781.9,836.0 L784.1,838.6 L787.4,842.9 L790.9,848.1 L793.9,853.7 L795.8,858.8 L796.7,864.1 L797.0,870.4 L796.7,877.0 L796.6,882.8 L796.9,887.0 L797.1,887.0 L798.7,883.2 L800.9,877.7 L802.7,871.1 L804.0,864.1 L803.8,857.2 L802.1,850.5 L799.4,843.8 L796.1,837.3 L792.4,831.8 L788.1,827.8 L783.2,825.5 L778.2,825.6 L774.0,827.1 L770.6,829.1 L767.4,831.2 L763.9,834.2 L760.3,838.0 L757.2,842.1 L754.6,845.6 L752.8,848.0Z"/><path d="M755.0,850.0 L757.7,847.0 L761.6,842.7 L765.9,838.3 L770.0,835.0 L773.8,832.7 L777.5,830.9 L781.3,830.3 L785.0,831.9 L789.1,837.0 L793.3,844.8 L797.1,852.6 L799.8,858.0" fill="none" stroke="#8ccc6c" stroke-width="1.6" stroke-linecap="round" opacity="0.75"/><path d="M745.5,899.8 L745.4,896.9 L745.2,892.8 L744.8,888.1 L744.2,883.5 L743.3,879.7 L742.5,876.4 L741.7,873.3 L740.8,870.5 L739.9,868.2 L739.1,866.6 L738.9,866.6 L738.6,868.4 L738.4,870.9 L738.4,873.8 L738.5,877.0 L738.7,880.3 L739.0,884.3 L739.8,888.9 L740.7,893.5 L741.7,897.5 L742.5,900.2Z"/><path d="M938.0,1212.9 L937.8,1201.9 L937.5,1186.5 L937.1,1168.3 L936.8,1149.3 L936.7,1131.0 L936.7,1112.9 L936.9,1093.7 L937.1,1074.4 L937.4,1056.1 L937.6,1039.6 L937.7,1025.7 L937.9,1013.8 L938.0,1002.8 L938.2,991.5 L938.6,978.7 L939.3,965.2 L940.1,951.6 L941.0,937.0 L942.0,920.2 L942.8,900.2 L943.4,875.1 L944.0,845.7 L944.6,814.8 L944.9,785.3 L944.9,760.0 L944.6,738.6 L944.0,719.2 L943.2,702.4 L942.5,688.6 L942.0,678.5 L938.0,678.5 L938.0,688.7 L938.1,702.5 L938.1,719.3 L938.0,738.7 L937.7,760.0 L937.0,785.2 L936.2,814.6 L935.2,845.5 L934.2,874.9 L933.2,899.8 L932.3,919.7 L931.4,936.4 L930.4,951.0 L929.5,964.6 L928.8,978.3 L928.3,991.2 L928.0,1002.6 L927.8,1013.7 L927.6,1025.6 L927.4,1039.4 L927.1,1055.9 L926.8,1074.3 L926.5,1093.6 L926.2,1112.8 L926.1,1131.0 L926.1,1149.4 L926.3,1168.5 L926.6,1186.7 L926.8,1202.1 L927.0,1213.1Z"/><path d="M928.8,1157.9 L927.3,1156.2 L925.1,1153.6 L922.6,1150.7 L920.1,1147.8 L918.0,1145.3 L916.7,1143.4 L915.6,1141.5 L913.9,1139.1 L911.5,1136.6 L908.0,1134.1 L903.3,1131.4 L897.6,1128.4 L891.3,1125.4 L884.7,1122.8 L878.4,1121.0 L872.2,1120.4 L866.1,1120.5 L860.1,1121.2 L854.6,1122.6 L849.6,1124.6 L845.6,1127.4 L842.3,1130.8 L839.8,1134.8 L837.9,1139.2 L836.6,1144.1 L835.8,1150.3 L835.7,1157.5 L836.0,1164.8 L836.8,1171.2 L837.4,1175.6 L837.6,1175.6 L838.5,1171.2 L839.7,1164.9 L840.6,1157.8 L841.8,1151.1 L843.2,1145.9 L844.9,1142.0 L846.7,1138.7 L848.6,1136.1 L850.9,1134.1 L853.6,1132.6 L857.1,1131.4 L861.5,1130.7 L866.4,1130.5 L871.5,1130.9 L876.4,1131.6 L881.6,1132.7 L887.5,1134.7 L893.5,1137.2 L899.0,1139.7 L903.2,1141.9 L905.8,1143.6 L907.3,1144.9 L908.4,1146.4 L909.9,1148.4 L912.0,1150.7 L914.6,1153.1 L917.5,1155.7 L920.4,1158.3 L922.8,1160.5 L924.6,1162.1Z"/><path d="M926.7,1160.0 L924.5,1157.8 L921.4,1154.6 L918.0,1151.1 L915.0,1148.0 L912.9,1145.4 L911.3,1143.0 L909.2,1140.6 L905.6,1138.0 L899.8,1134.9 L892.5,1131.4 L884.7,1128.3 L877.4,1126.3 L870.5,1125.6 L863.5,1125.7 L857.0,1126.7 L851.6,1128.6 L847.4,1132.1 L844.1,1136.9 L841.7,1141.7 L839.9,1145.0" fill="none" stroke="#8ccc6c" stroke-width="1.6" stroke-linecap="round" opacity="0.75"/><path d="M940.7,1147.2 L941.8,1145.3 L943.5,1142.7 L945.3,1139.7 L947.3,1136.6 L949.2,1133.9 L950.8,1131.3 L952.3,1128.9 L953.8,1126.7 L955.5,1124.5 L957.8,1122.2 L960.8,1119.5 L964.5,1116.3 L968.3,1113.4 L972.0,1111.1 L975.0,1109.5 L977.9,1108.8 L981.1,1108.6 L984.5,1108.9 L987.7,1109.7 L990.5,1110.8 L993.0,1112.3 L995.4,1114.3 L997.6,1116.8 L999.7,1119.6 L1001.5,1122.5 L1002.8,1126.2 L1003.8,1130.7 L1004.7,1135.5 L1005.6,1139.7 L1006.3,1142.7 L1006.5,1142.7 L1006.9,1139.7 L1007.4,1135.4 L1007.6,1130.4 L1007.4,1125.3 L1006.5,1120.7 L1005.0,1116.7 L1003.0,1113.0 L1000.5,1109.6 L997.5,1106.6 L994.1,1104.2 L990.4,1102.3 L986.2,1101.0 L981.7,1100.1 L977.0,1100.0 L972.2,1100.9 L967.4,1102.9 L962.9,1106.1 L958.7,1109.6 L955.0,1113.2 L951.8,1116.4 L949.3,1119.3 L947.2,1122.2 L945.6,1124.9 L944.2,1127.5 L942.8,1130.1 L941.3,1133.2 L939.7,1136.7 L938.2,1140.0 L937.0,1142.8 L936.1,1144.8Z"/><path d="M938.4,1146.0 L939.7,1143.5 L941.6,1139.8 L943.8,1135.7 L946.0,1132.0 L947.9,1128.8 L949.7,1125.7 L951.9,1122.5 L954.8,1119.3 L958.8,1115.5 L963.6,1111.3 L968.7,1107.6 L973.6,1105.2 L978.4,1104.3 L983.4,1104.6 L988.1,1105.7 L992.3,1107.5 L996.0,1110.5 L999.3,1114.7 L1002.1,1118.8 L1004.0,1121.6" fill="none" stroke="#8ccc6c" stroke-width="1.4" stroke-linecap="round" opacity="0.75"/><path d="M929.4,1114.0 L927.9,1111.7 L925.8,1108.5 L923.3,1104.8 L920.8,1101.2 L918.7,1098.1 L917.2,1095.9 L916.0,1093.9 L914.3,1091.7 L911.8,1089.2 L908.4,1086.6 L903.7,1083.7 L898.0,1080.6 L891.9,1077.3 L885.6,1074.2 L879.8,1071.5 L874.4,1069.3 L869.1,1067.4 L863.8,1065.6 L858.3,1064.1 L852.7,1062.9 L846.8,1062.0 L840.8,1061.3 L834.8,1061.0 L828.8,1061.3 L823.1,1062.1 L817.5,1063.5 L811.9,1065.6 L807.0,1068.2 L802.9,1070.6 L799.9,1072.3 L800.1,1072.5 L803.4,1072.0 L808.0,1071.0 L813.3,1070.0 L818.8,1068.9 L823.9,1068.5 L828.9,1068.8 L834.3,1069.4 L839.8,1070.2 L845.3,1071.3 L850.5,1072.5 L855.4,1074.0 L860.2,1075.8 L864.9,1077.8 L869.8,1080.1 L875.0,1082.5 L880.8,1084.9 L887.0,1087.6 L893.1,1090.4 L898.6,1093.0 L902.8,1095.4 L905.5,1097.1 L906.9,1098.4 L908.0,1099.7 L909.3,1101.6 L911.3,1103.9 L913.9,1106.7 L916.8,1109.9 L919.7,1113.1 L922.3,1116.0 L924.0,1118.0Z"/><path d="M926.7,1116.0 L924.5,1113.2 L921.4,1109.1 L918.0,1104.8 L915.0,1101.0 L912.9,1098.2 L911.3,1095.9 L909.2,1093.7 L905.6,1091.0 L899.8,1087.7 L892.5,1084.0 L884.7,1080.3 L877.4,1077.0 L870.8,1074.2 L864.5,1071.6 L858.2,1069.4 L851.6,1067.7 L844.1,1066.6 L835.9,1065.9 L828.6,1065.6 L823.5,1065.3" fill="none" stroke="#8ccc6c" stroke-width="1.8" stroke-linecap="round" opacity="0.75"/><path d="M852.6,1076.4 L853.6,1077.6 L855.0,1079.3 L856.5,1081.1 L858.0,1082.7 L859.1,1084.2 L859.7,1085.5 L860.2,1086.8 L860.8,1088.3 L861.5,1089.9 L862.3,1091.8 L863.2,1094.3 L864.1,1097.4 L865.4,1100.6 L866.6,1103.3 L867.9,1105.2 L868.1,1105.2 L868.8,1103.0 L869.2,1100.0 L869.5,1096.6 L869.4,1093.1 L869.1,1090.2 L868.7,1087.8 L868.3,1085.6 L867.5,1083.6 L866.3,1081.7 L864.9,1079.8 L863.1,1077.9 L860.9,1076.1 L858.7,1074.8 L856.7,1073.7 L855.4,1073.0Z"/><path d="M854.0,1074.7 L855.5,1076.0 L857.8,1077.8 L860.1,1079.9 L862.0,1082.0 L863.3,1084.3 L864.4,1087.0 L865.1,1089.3 L865.7,1091.0" fill="none" stroke="#8ccc6c" stroke-width="1.2" stroke-linecap="round" opacity="0.75"/><path d="M838.7,1082.2 L837.2,1083.0 L835.0,1084.2 L832.4,1085.7 L829.7,1087.5 L827.4,1089.8 L825.6,1091.8 L823.9,1094.0 L822.3,1096.7 L820.8,1100.1 L819.5,1104.5 L819.1,1110.6 L819.0,1118.3 L819.3,1126.2 L819.9,1133.2 L820.9,1138.0 L821.1,1138.0 L822.7,1133.3 L824.0,1126.4 L825.2,1118.7 L826.3,1111.4 L827.5,1105.9 L828.2,1102.4 L829.0,1099.9 L830.0,1097.9 L831.2,1096.1 L832.6,1094.2 L834.2,1092.3 L836.1,1090.4 L838.1,1088.6 L840.0,1087.0 L841.3,1085.8Z"/><path d="M840.0,1084.0 L838.1,1085.3 L835.4,1087.2 L832.5,1089.4 L830.0,1092.0 L828.0,1095.2 L826.1,1099.1 L824.6,1102.7 L823.5,1105.2" fill="none" stroke="#8ccc6c" stroke-width="1.2" stroke-linecap="round" opacity="0.75"/><path d="M941.6,1082.8 L942.8,1081.0 L944.4,1078.5 L946.2,1075.7 L948.2,1073.0 L949.9,1070.8 L951.4,1069.2 L952.8,1067.8 L954.5,1066.4 L956.5,1064.5 L958.9,1062.0 L961.9,1058.7 L965.1,1055.0 L968.6,1051.2 L972.1,1047.4 L975.7,1043.8 L979.4,1040.3 L983.2,1036.8 L986.9,1033.5 L990.3,1030.7 L993.1,1028.6 L995.6,1027.3 L998.0,1026.5 L1000.2,1026.1 L1002.6,1026.0 L1005.1,1026.3 L1007.8,1026.9 L1010.8,1028.1 L1013.9,1029.8 L1016.9,1031.7 L1019.5,1033.6 L1021.7,1035.6 L1023.7,1037.5 L1025.5,1039.6 L1027.2,1042.2 L1028.8,1045.3 L1030.5,1049.7 L1032.1,1055.4 L1033.9,1061.2 L1035.6,1066.4 L1036.9,1070.0 L1037.1,1070.0 L1037.2,1066.2 L1037.4,1060.7 L1037.2,1054.5 L1036.6,1048.3 L1035.6,1043.1 L1034.3,1038.9 L1032.7,1035.3 L1030.9,1032.0 L1028.7,1029.1 L1026.1,1026.4 L1023.0,1023.6 L1019.6,1021.0 L1015.8,1018.6 L1011.8,1016.5 L1007.7,1015.1 L1003.7,1014.4 L999.7,1014.1 L995.5,1014.5 L991.2,1015.6 L986.9,1017.4 L982.4,1020.0 L978.1,1023.4 L974.1,1027.3 L970.3,1031.3 L966.7,1035.2 L963.1,1039.2 L959.6,1043.4 L956.3,1047.6 L953.2,1051.4 L950.7,1054.6 L948.6,1057.0 L946.9,1059.0 L945.3,1060.8 L943.7,1062.8 L942.1,1065.2 L940.4,1068.2 L938.8,1071.4 L937.3,1074.6 L936.0,1077.3 L935.2,1079.2Z"/><path d="M938.4,1081.0 L939.7,1078.6 L941.6,1075.1 L943.8,1071.3 L946.0,1068.0 L947.9,1065.6 L949.9,1063.5 L952.0,1061.3 L954.8,1058.3 L958.3,1054.2 L962.4,1049.3 L966.8,1044.3 L971.2,1039.5 L975.8,1034.9 L980.6,1030.2 L985.4,1026.1 L990.0,1023.0 L994.3,1021.2 L998.3,1020.2 L1002.4,1020.1 L1006.4,1020.7 L1010.7,1022.1 L1015.0,1024.3 L1019.2,1027.1 L1022.8,1030.0 L1025.9,1033.5 L1028.5,1037.7 L1030.7,1041.5 L1032.2,1044.2" fill="none" stroke="#8ccc6c" stroke-width="2.0" stroke-linecap="round" opacity="0.75"/><path d="M997.3,1030.6 L997.3,1032.4 L997.4,1034.9 L998.0,1037.7 L998.5,1040.6 L999.3,1043.1 L1000.5,1045.5 L1001.7,1048.0 L1003.3,1050.4 L1004.8,1052.4 L1006.3,1053.6 L1006.5,1053.6 L1007.1,1051.7 L1007.3,1049.2 L1007.3,1046.4 L1007.0,1043.6 L1006.7,1040.9 L1006.0,1038.3 L1004.8,1035.6 L1003.7,1033.0 L1002.5,1030.9 L1001.5,1029.4Z"/><path d="M999.4,1030.0 L1000.1,1032.2 L1001.0,1035.3 L1002.0,1038.7 L1003.0,1042.0 L1003.9,1045.2 L1004.9,1048.5 L1005.8,1051.5 L1006.4,1053.6" fill="none" stroke="#8ccc6c" stroke-width="1.2" stroke-linecap="round" opacity="0.75"/><path d="M934.3,1031.7 L933.2,1030.0 L931.5,1027.5 L929.6,1024.6 L927.6,1021.7 L925.7,1019.0 L924.1,1016.7 L922.6,1014.7 L921.0,1012.6 L919.1,1010.3 L916.6,1007.5 L913.4,1004.2 L909.7,1000.3 L905.8,996.3 L901.9,992.2 L898.4,988.4 L895.4,984.7 L892.5,980.8 L889.5,976.7 L885.9,972.6 L881.6,968.9 L877.0,965.6 L872.2,962.4 L867.1,959.5 L861.6,956.9 L855.7,954.8 L849.5,953.2 L842.8,952.0 L836.1,951.5 L829.5,951.4 L823.4,951.7 L817.6,952.6 L812.0,954.2 L807.0,956.4 L802.9,958.3 L800.0,959.7 L800.0,959.9 L803.3,959.7 L807.7,959.2 L813.0,958.7 L818.3,958.2 L823.6,958.3 L829.0,959.0 L835.0,960.1 L841.1,961.5 L847.0,963.0 L852.3,964.8 L856.9,967.0 L861.4,969.5 L865.6,972.4 L869.5,975.5 L873.2,978.7 L876.3,981.9 L879.2,985.2 L882.3,988.9 L885.5,992.8 L889.2,996.8 L893.2,1000.8 L897.4,1004.8 L901.6,1008.6 L905.4,1012.2 L908.6,1015.3 L911.1,1017.7 L913.1,1019.7 L914.8,1021.4 L916.5,1023.1 L918.3,1025.0 L920.5,1027.3 L922.8,1029.9 L925.1,1032.5 L927.1,1034.7 L928.5,1036.3Z"/><path d="M931.4,1034.0 L929.7,1031.8 L927.3,1028.7 L924.6,1025.2 L922.0,1022.0 L919.9,1019.4 L917.9,1017.1 L915.6,1014.6 L912.6,1011.4 L908.5,1007.3 L903.6,1002.5 L898.6,997.5 L893.8,992.6 L889.7,987.8 L885.9,982.9 L881.9,978.2 L877.4,973.8 L872.2,969.7 L866.6,965.9 L860.5,962.5 L854.0,959.8 L846.2,957.8 L837.3,956.5 L829.1,955.6 L823.5,955.0" fill="none" stroke="#8ccc6c" stroke-width="2.0" stroke-linecap="round" opacity="0.75"/><path d="M875.1,976.2 L875.9,978.1 L877.1,980.7 L878.3,983.6 L879.5,986.6 L880.4,989.4 L881.1,991.7 L881.7,993.9 L882.1,996.1 L882.3,998.7 L882.4,1002.2 L882.3,1006.7 L882.1,1012.0 L882.2,1017.9 L882.3,1024.0 L882.3,1029.8 L882.4,1035.9 L882.7,1042.5 L883.0,1048.9 L883.6,1054.4 L884.3,1058.3 L884.5,1058.3 L885.6,1054.5 L886.9,1049.1 L888.0,1042.8 L889.1,1036.3 L889.7,1030.2 L890.3,1024.3 L890.9,1018.3 L891.5,1012.3 L891.4,1006.7 L891.2,1001.8 L890.7,997.9 L890.2,994.6 L889.5,991.8 L888.6,989.3 L887.6,986.6 L886.1,983.6 L884.3,980.6 L882.4,977.7 L880.8,975.4 L879.7,973.8Z"/><path d="M877.4,975.0 L878.7,977.3 L880.5,980.6 L882.5,984.4 L884.0,988.0 L885.1,991.1 L885.9,994.1 L886.4,997.5 L886.8,1002.0 L886.8,1008.7 L886.6,1016.9 L886.2,1024.6 L886.0,1030.0" fill="none" stroke="#8ccc6c" stroke-width="1.4" stroke-linecap="round" opacity="0.75"/><path d="M818.4,956.5 L816.8,957.9 L814.6,959.8 L812.0,962.3 L809.3,965.1 L807.1,968.2 L805.3,971.1 L803.6,974.0 L801.9,977.5 L800.3,981.8 L799.0,987.4 L798.5,995.2 L798.2,1004.9 L798.4,1014.9 L798.9,1023.8 L799.9,1030.0 L800.1,1030.0 L801.7,1024.0 L803.2,1015.2 L804.5,1005.3 L805.7,995.9 L807.0,988.6 L807.8,983.7 L808.9,980.1 L810.0,977.2 L811.4,974.6 L812.9,971.8 L814.6,969.0 L816.5,966.1 L818.5,963.5 L820.3,961.2 L821.6,959.5Z"/><path d="M820.0,958.0 L818.1,960.0 L815.4,962.9 L812.5,966.3 L810.0,970.0 L807.9,974.5 L805.9,979.8 L804.2,984.6 L803.0,988.0" fill="none" stroke="#8ccc6c" stroke-width="1.2" stroke-linecap="round" opacity="0.75"/><path d="M934.4,944.8 L933.3,943.0 L931.7,940.3 L929.8,937.2 L927.8,934.0 L925.9,931.0 L924.1,928.5 L922.5,926.3 L920.9,924.2 L919.2,922.0 L917.4,919.2 L915.3,915.3 L912.9,910.4 L910.2,904.9 L907.0,899.3 L903.2,894.3 L898.8,890.4 L894.3,887.2 L889.5,884.9 L884.6,883.0 L879.5,881.3 L873.8,879.6 L867.7,878.1 L861.4,876.9 L855.4,875.9 L850.0,875.2 L845.3,875.0 L841.1,875.1 L837.2,875.5 L833.4,876.1 L829.6,876.9 L825.2,878.0 L820.6,879.6 L816.2,881.6 L812.6,883.4 L810.0,884.7 L810.0,884.9 L812.9,884.7 L817.0,884.3 L821.6,884.0 L826.3,883.4 L830.4,883.1 L834.1,883.0 L837.5,883.1 L840.9,883.4 L844.5,884.0 L848.6,884.8 L853.5,885.8 L859.1,887.2 L864.8,888.9 L870.3,890.8 L875.3,892.7 L879.8,894.7 L883.9,896.7 L887.5,898.8 L890.8,900.9 L893.8,903.3 L896.7,906.5 L899.5,910.9 L902.4,915.9 L905.1,920.9 L907.8,925.2 L910.3,928.6 L912.5,931.2 L914.4,933.2 L916.3,935.0 L918.1,937.0 L920.3,939.5 L922.7,942.3 L925.0,945.1 L927.0,947.5 L928.4,949.2Z"/><path d="M931.4,947.0 L929.7,944.6 L927.3,941.2 L924.6,937.5 L922.0,934.0 L919.8,931.2 L917.6,928.7 L915.3,925.9 L912.6,922.2 L909.6,916.9 L906.3,910.5 L902.6,904.1 L898.5,898.8 L893.9,894.9 L888.8,891.9 L883.3,889.3 L877.4,887.0 L870.7,884.7 L863.2,882.8 L855.9,881.1 L849.3,880.0 L843.4,879.5 L837.9,879.6 L833.3,879.8 L830.0,880.0" fill="none" stroke="#8ccc6c" stroke-width="2.0" stroke-linecap="round" opacity="0.75"/><path d="M856.0,905.0 L856.7,906.3 L857.5,908.1 L858.5,910.1 L859.6,912.4 L860.6,914.8 L861.6,917.2 L862.7,919.8 L863.8,922.4 L865.0,925.2 L866.0,928.4 L867.0,932.3 L868.0,936.7 L869.0,941.4 L869.9,946.3 L870.7,951.1 L871.8,955.5 L872.8,959.7 L873.8,964.0 L874.7,968.7 L875.6,974.2 L876.5,981.3 L877.7,989.8 L879.1,998.5 L880.5,1006.1 L881.9,1011.4 L882.1,1011.4 L882.9,1006.0 L883.6,998.3 L884.1,989.5 L884.3,980.8 L884.0,973.4 L883.7,967.6 L883.2,962.5 L882.6,957.9 L882.0,953.5 L881.3,948.9 L880.1,944.1 L878.9,939.2 L877.5,934.3 L876.2,929.7 L874.8,925.6 L873.4,921.9 L871.9,918.7 L870.4,915.9 L868.8,913.5 L867.4,911.2 L866.0,908.9 L864.5,906.7 L863.1,904.7 L862.0,903.1 L861.2,902.0Z"/><path d="M858.6,903.5 L859.5,905.1 L860.9,907.4 L862.5,910.1 L864.0,913.0 L865.5,916.0 L867.2,919.2 L868.8,922.8 L870.4,927.0 L871.9,932.1 L873.4,937.9 L874.7,944.0 L876.0,950.0 L877.2,956.5 L878.2,963.3 L879.2,969.5 L879.8,973.8" fill="none" stroke="#8ccc6c" stroke-width="1.6" stroke-linecap="round" opacity="0.75"/><path d="M944.1,960.5 L945.1,958.5 L946.5,955.9 L948.0,952.8 L949.7,949.8 L951.2,947.3 L952.6,945.2 L953.9,943.4 L955.1,941.8 L956.7,940.1 L958.8,937.8 L961.8,934.9 L965.4,931.5 L969.2,928.2 L973.0,925.2 L976.7,922.9 L980.5,921.3 L984.5,919.9 L988.9,918.8 L993.3,917.8 L997.9,916.9 L1002.6,916.1 L1007.4,915.5 L1012.2,915.2 L1017.1,915.3 L1021.9,915.7 L1027.0,916.6 L1032.3,917.7 L1037.5,919.1 L1042.3,920.7 L1046.4,922.7 L1050.1,925.7 L1053.6,929.9 L1057.2,934.4 L1060.3,938.3 L1062.6,941.1 L1062.8,940.9 L1061.6,937.6 L1060.1,932.8 L1057.9,927.2 L1054.7,921.9 L1050.8,917.3 L1046.1,913.7 L1040.8,910.8 L1035.1,908.4 L1029.3,906.7 L1023.7,905.3 L1018.1,904.3 L1012.5,903.7 L1006.9,903.6 L1001.4,903.7 L996.1,904.1 L990.9,904.8 L985.6,905.9 L980.5,907.5 L975.4,909.5 L970.5,912.1 L965.7,915.4 L961.3,919.2 L957.3,923.2 L953.7,926.9 L950.8,930.2 L948.4,933.0 L946.5,935.5 L945.1,937.9 L943.9,940.2 L942.8,942.7 L941.4,945.8 L940.1,949.3 L938.9,952.7 L938.0,955.5 L937.3,957.5Z"/><path d="M940.7,959.0 L941.8,956.4 L943.4,952.7 L945.2,948.6 L947.0,945.0 L948.6,942.2 L950.1,939.7 L952.0,937.1 L954.8,934.0 L958.6,930.0 L963.2,925.5 L968.3,921.1 L973.6,917.5 L979.1,914.9 L984.9,913.0 L990.9,911.5 L997.0,910.5 L1003.3,909.8 L1009.7,909.5 L1016.3,909.7 L1022.8,910.5 L1029.9,912.4 L1037.3,915.2 L1044.0,918.1 L1048.6,920.0" fill="none" stroke="#8ccc6c" stroke-width="2.0" stroke-linecap="round" opacity="0.75"/><path d="M1008.9,911.2 L1009.0,913.2 L1009.4,916.1 L1010.0,919.4 L1010.6,922.7 L1011.1,925.6 L1011.9,928.6 L1012.6,932.2 L1013.5,935.7 L1014.5,938.8 L1015.7,941.0 L1015.9,941.0 L1017.0,938.8 L1017.9,935.6 L1018.6,931.9 L1018.8,928.1 L1018.9,924.4 L1018.1,920.9 L1016.9,917.4 L1015.6,914.2 L1014.1,911.7 L1013.1,909.8Z"/><path d="M1011.0,910.5 L1011.8,913.1 L1012.9,916.8 L1014.1,920.9 L1015.0,925.0 L1015.4,929.3 L1015.6,933.9 L1015.7,938.1 L1015.8,941.0" fill="none" stroke="#8ccc6c" stroke-width="1.2" stroke-linecap="round" opacity="0.75"/><path d="M944.5,710.1 L943.8,708.7 L942.9,706.4 L941.6,703.8 L940.2,701.1 L938.7,698.9 L937.4,697.2 L935.9,695.5 L933.8,693.7 L931.0,692.4 L927.7,691.7 L924.0,691.5 L919.8,691.5 L915.3,691.9 L910.7,692.6 L906.5,693.7 L902.8,695.0 L899.2,696.6 L895.6,698.7 L892.2,701.4 L889.3,705.0 L886.8,708.9 L884.8,713.1 L883.0,717.7 L881.4,722.8 L880.0,728.7 L878.6,736.1 L877.9,745.0 L877.4,754.0 L877.5,762.0 L877.9,767.6 L878.1,767.6 L880.3,762.5 L882.9,754.9 L885.5,746.3 L888.0,738.1 L890.0,731.3 L891.9,726.3 L893.8,722.0 L895.6,718.5 L897.5,715.5 L899.5,713.0 L901.5,711.1 L903.4,709.4 L905.5,708.0 L907.9,706.7 L910.5,705.5 L913.5,704.5 L917.1,703.7 L920.8,703.1 L924.2,702.8 L926.7,702.7 L928.0,702.8 L928.5,703.0 L929.1,703.2 L930.1,704.0 L931.3,705.1 L932.7,706.5 L934.2,708.4 L935.7,710.5 L937.1,712.5 L938.1,713.9Z"/><path d="M941.3,712.0 L940.2,710.1 L938.6,707.3 L936.8,704.4 L935.0,702.0 L933.4,700.3 L931.9,698.8 L930.0,697.8 L927.2,697.2 L923.2,697.1 L918.2,697.5 L913.1,698.3 L908.5,699.6 L904.5,701.2 L900.9,703.1 L897.5,705.7 L894.4,709.0 L891.5,713.9 L888.8,720.1 L886.6,726.0 L885.0,730.0" fill="none" stroke="#8ccc6c" stroke-width="2.0" stroke-linecap="round" opacity="0.75"/><path d="M945.5,743.5 L945.0,741.3 L944.3,738.1 L943.5,734.5 L942.6,730.9 L941.9,728.0 L941.5,726.0 L941.1,724.0 L940.5,721.5 L939.0,718.5 L936.7,715.7 L933.8,713.2 L930.4,710.7 L926.5,708.4 L922.1,706.6 L916.3,706.2 L910.7,709.4 L907.9,713.4 L906.3,717.4 L905.4,721.4 L905.2,725.6 L905.9,729.9 L907.2,734.0 L908.7,737.6 L910.2,741.0 L911.4,743.9 L912.3,746.5 L913.1,749.3 L914.0,752.4 L915.3,756.0 L917.2,760.3 L920.4,765.5 L924.5,771.5 L928.8,777.6 L933.3,782.6 L936.5,786.1 L936.7,785.9 L935.8,781.4 L934.2,774.8 L931.7,767.9 L929.5,761.1 L927.8,755.7 L926.7,752.1 L926.1,749.2 L925.7,746.5 L925.2,743.5 L924.6,740.1 L923.6,736.3 L922.6,732.7 L921.7,729.5 L921.2,726.9 L921.2,725.2 L921.3,723.4 L921.6,721.4 L921.9,720.1 L921.7,720.0 L919.5,721.0 L918.5,721.0 L920.2,721.6 L922.9,722.9 L925.6,724.5 L927.3,725.7 L927.9,726.2 L928.1,726.4 L928.4,727.5 L929.0,729.5 L930.1,732.0 L931.5,734.9 L933.1,738.1 L934.7,741.5 L936.1,744.4 L937.1,746.5Z"/><path d="M941.3,745.0 L940.3,742.2 L938.9,738.1 L937.4,733.7 L936.0,730.0 L935.1,727.2 L934.5,724.9 L933.7,722.7 L932.0,720.7 L929.0,718.3 L925.0,715.8 L921.0,714.0 L917.9,713.6 L915.8,715.1 L914.4,718.0 L913.5,721.7 L913.2,725.4 L913.7,729.2 L915.0,733.4 L916.6,737.8 L918.0,742.0 L919.3,746.4 L920.5,751.0 L921.7,755.1 L922.5,758.0" fill="none" stroke="#8ccc6c" stroke-width="2.4" stroke-linecap="round" opacity="0.75"/><path d="M896.7,710.2 L895.7,711.9 L894.2,714.2 L892.5,717.1 L890.8,720.4 L889.4,723.9 L888.4,727.3 L887.6,730.7 L886.9,734.4 L886.2,738.5 L885.3,743.4 L884.3,749.6 L883.5,756.8 L882.9,764.6 L882.3,772.1 L881.6,778.8 L881.1,785.0 L880.7,791.1 L880.2,796.7 L880.1,801.5 L880.2,805.0 L880.4,805.0 L881.7,801.8 L883.5,797.4 L885.1,791.9 L886.8,786.0 L888.4,779.8 L889.7,773.1 L891.0,765.6 L892.4,758.0 L893.4,750.8 L894.1,744.6 L894.6,739.7 L895.1,735.6 L895.5,732.1 L896.0,729.1 L896.6,726.1 L897.4,723.0 L898.5,719.8 L899.6,716.9 L900.6,714.3 L901.3,712.4Z"/><path d="M899.0,711.3 L897.9,713.6 L896.2,717.0 L894.5,720.9 L893.0,725.0 L892.0,729.0 L891.3,733.1 L890.6,738.0 L889.7,744.0 L888.5,752.5 L887.1,762.8 L885.9,772.6 L885.0,779.3" fill="none" stroke="#8ccc6c" stroke-width="1.4" stroke-linecap="round" opacity="0.75"/><path d="M944.4,831.9 L943.2,830.0 L941.6,827.2 L939.8,824.0 L937.8,820.6 L936.1,817.4 L934.6,814.6 L933.2,811.7 L931.6,808.5 L929.5,805.1 L926.9,801.5 L923.7,797.5 L919.9,793.0 L915.8,788.5 L911.5,784.3 L907.2,780.9 L902.8,778.6 L898.5,777.2 L894.1,776.5 L889.7,776.7 L885.5,777.6 L881.3,779.3 L877.2,781.7 L873.3,784.6 L869.7,788.1 L866.5,791.9 L863.6,795.8 L860.7,800.0 L858.0,805.1 L855.8,811.1 L854.4,818.3 L854.1,827.4 L854.9,838.4 L856.0,849.5 L857.8,859.3 L859.1,866.0 L859.3,866.0 L860.2,859.2 L861.2,849.4 L861.8,838.3 L862.8,827.8 L864.0,819.7 L865.6,814.2 L867.7,809.8 L870.0,806.1 L872.7,802.7 L875.5,799.5 L878.3,796.7 L881.1,794.4 L884.0,792.6 L886.8,791.2 L889.3,790.4 L891.5,789.9 L893.6,789.7 L895.7,789.9 L897.9,790.5 L900.4,791.7 L903.6,793.8 L907.3,797.1 L911.2,801.0 L915.0,805.0 L918.1,808.5 L920.5,811.4 L922.3,814.1 L924.1,816.8 L925.9,819.7 L927.9,822.6 L930.2,825.6 L932.6,828.7 L934.9,831.7 L936.8,834.3 L938.2,836.1Z"/><path d="M941.3,834.0 L939.6,831.5 L937.2,827.9 L934.6,823.9 L932.0,820.0 L929.9,816.4 L927.8,812.8 L925.5,809.0 L922.5,805.0 L918.4,800.2 L913.6,794.9 L908.5,789.9 L903.8,786.3 L899.5,784.2 L895.5,783.2 L891.4,783.2 L887.4,784.0 L883.2,785.7 L878.9,788.3 L874.8,791.6 L871.0,795.7 L867.5,801.3 L864.1,808.1 L861.2,814.5 L859.2,819.0" fill="none" stroke="#8ccc6c" stroke-width="2.0" stroke-linecap="round" opacity="0.75"/><path d="M945.9,750.3 L947.0,748.9 L948.6,746.9 L950.4,744.6 L952.0,742.2 L953.5,740.1 L954.6,738.4 L955.5,737.0 L956.3,735.9 L957.3,734.7 L958.9,733.1 L961.1,730.5 L963.6,727.3 L966.4,723.9 L969.0,720.8 L971.1,718.2 L972.9,716.4 L974.7,714.9 L976.4,713.6 L977.8,712.4 L978.9,711.4 L978.7,711.2 L977.4,711.2 L975.5,711.2 L973.2,711.6 L970.5,712.4 L967.7,713.8 L964.5,715.8 L961.1,718.5 L957.6,721.5 L954.4,724.4 L951.9,726.9 L950.2,729.2 L949.0,731.1 L948.1,732.7 L947.4,734.2 L946.5,735.9 L945.3,738.2 L944.0,740.9 L942.9,743.6 L942.0,746.0 L941.3,747.7Z"/><path d="M943.6,749.0 L944.8,747.0 L946.5,744.0 L948.3,740.8 L950.0,738.0 L951.2,735.9 L952.2,734.2 L953.5,732.4 L955.4,730.0 L958.6,726.6 L962.7,722.5 L966.7,718.7 L969.4,716.0" fill="none" stroke="#8ccc6c" stroke-width="1.4" stroke-linecap="round" opacity="0.75"/><path d="M947.8,690.5 L948.7,688.7 L949.9,686.1 L951.0,683.1 L952.1,680.0 L953.1,677.0 L953.8,674.0 L954.6,670.6 L955.2,667.3 L955.6,664.3 L955.5,662.1 L955.3,661.9 L953.7,663.5 L951.9,665.9 L950.0,668.8 L948.4,672.0 L946.9,675.0 L946.0,678.1 L945.2,681.5 L944.6,684.7 L944.4,687.5 L944.2,689.5Z"/><path d="M946.0,690.0 L946.7,687.5 L947.7,683.9 L948.8,679.8 L950.0,676.0 L951.4,672.2 L953.0,668.1 L954.4,664.5 L955.4,662.0" fill="none" stroke="#8ccc6c" stroke-width="1.0" stroke-linecap="round" opacity="0.75"/><path d="M962.5,660.3 L963.0,663.1 L963.8,667.2 L964.6,672.0 L965.6,676.7 L966.5,680.9 L967.3,684.4 L968.0,687.6 L968.6,690.8 L969.2,694.1 L970.2,697.8 L971.4,702.2 L972.6,707.1 L973.8,712.2 L975.1,717.1 L976.5,721.3 L978.0,724.9 L979.4,728.2 L981.0,730.9 L982.4,733.1 L983.4,734.8 L983.6,734.6 L983.4,732.8 L982.9,730.2 L982.4,727.2 L981.7,723.8 L981.1,720.1 L980.6,715.9 L979.9,711.0 L979.2,705.8 L978.5,700.8 L977.8,696.2 L977.1,692.3 L976.2,689.0 L975.4,685.8 L974.5,682.6 L973.5,679.1 L972.2,675.0 L970.9,670.3 L969.2,665.8 L967.8,661.9 L966.9,659.1Z"/><path d="M964.7,659.7 L965.7,663.4 L967.1,668.8 L968.6,674.7 L970.0,680.0 L971.1,684.3 L972.0,688.3 L973.0,692.4 L974.0,697.0 L975.3,703.0 L976.6,709.9 L977.9,716.3 L978.8,720.7" fill="none" stroke="#8ccc6c" stroke-width="1.2" stroke-linecap="round" opacity="0.75"/><path d="M954.1,812.6 L955.1,810.6 L956.5,807.8 L958.2,804.7 L960.1,801.4 L962.0,798.3 L964.0,795.4 L966.1,792.6 L968.4,789.6 L971.0,786.3 L973.9,782.6 L977.2,778.2 L980.9,773.4 L984.8,768.5 L988.7,764.0 L992.5,760.3 L996.4,757.0 L1000.6,754.0 L1004.8,751.4 L1008.7,749.4 L1011.6,748.1 L1013.3,747.6 L1014.1,747.5 L1014.6,747.5 L1015.6,748.0 L1017.0,748.9 L1018.5,750.1 L1020.0,751.8 L1021.6,754.0 L1023.3,756.9 L1025.1,760.5 L1027.2,765.0 L1029.4,770.3 L1031.6,776.0 L1033.6,781.8 L1035.1,787.3 L1036.5,792.7 L1037.6,798.2 L1038.5,803.8 L1039.0,809.1 L1039.1,814.2 L1038.6,819.3 L1037.7,824.8 L1036.6,830.1 L1035.5,834.7 L1034.9,838.0 L1035.1,838.0 L1036.7,835.1 L1038.9,830.9 L1041.4,826.0 L1043.6,820.4 L1044.9,814.8 L1045.5,809.2 L1045.8,803.4 L1045.7,797.4 L1045.2,791.3 L1044.5,785.3 L1043.2,779.1 L1041.5,772.8 L1039.6,766.6 L1037.6,760.8 L1035.7,755.9 L1033.8,751.6 L1031.9,747.9 L1029.9,744.5 L1027.6,741.6 L1025.0,739.1 L1022.3,737.1 L1019.2,735.4 L1015.4,734.4 L1011.2,734.5 L1007.0,735.5 L1002.6,737.5 L998.0,740.2 L993.2,743.5 L988.4,747.2 L983.9,751.3 L979.6,756.0 L975.5,761.2 L971.6,766.5 L968.1,771.5 L964.9,776.0 L962.2,779.9 L959.8,783.5 L957.7,787.0 L955.8,790.3 L954.0,793.7 L952.2,797.3 L950.6,801.0 L949.3,804.5 L948.1,807.4 L947.3,809.4Z"/><path d="M950.7,811.0 L951.9,808.3 L953.6,804.5 L955.7,800.2 L958.0,796.0 L960.4,792.1 L963.0,788.2 L965.9,784.0 L969.4,779.3 L973.5,773.7 L978.2,767.4 L983.2,761.2 L988.2,755.8 L993.5,751.3 L999.2,747.2 L1004.6,743.9 L1009.3,741.8 L1012.9,740.9 L1015.9,741.1 L1018.5,742.2 L1021.0,744.0 L1023.5,746.4 L1025.8,749.5 L1028.1,753.4 L1030.4,758.2 L1032.9,764.2 L1035.5,771.4 L1038.0,778.9 L1039.8,786.3 L1040.9,794.0 L1041.5,802.2 L1041.8,809.4 L1042.0,814.5" fill="none" stroke="#8ccc6c" stroke-width="2.0" stroke-linecap="round" opacity="0.75"/><path d="M1011.4,750.2 L1012.0,751.8 L1012.9,754.0 L1013.9,756.6 L1014.9,759.3 L1016.0,761.9 L1017.0,764.5 L1018.0,767.2 L1018.9,770.0 L1019.8,772.9 L1020.6,776.1 L1021.6,779.6 L1022.8,783.5 L1024.0,787.7 L1025.2,791.8 L1026.2,795.7 L1027.5,799.4 L1028.8,803.3 L1030.0,806.9 L1031.5,810.0 L1032.6,812.1 L1032.8,812.1 L1033.2,809.7 L1033.8,806.4 L1033.8,802.5 L1033.9,798.4 L1033.8,794.3 L1033.4,790.3 L1032.9,785.9 L1032.4,781.5 L1031.7,777.1 L1030.8,773.1 L1029.5,769.6 L1028.2,766.4 L1026.8,763.5 L1025.4,760.7 L1024.0,758.1 L1022.6,755.4 L1020.8,752.9 L1019.0,750.6 L1017.6,748.7 L1016.6,747.4Z"/><path d="M1014.0,748.8 L1015.1,750.7 L1016.6,753.5 L1018.4,756.7 L1020.0,760.0 L1021.5,763.3 L1023.0,766.7 L1024.4,770.5 L1025.7,774.6 L1027.0,779.8 L1028.2,785.7 L1029.3,791.2 L1030.0,795.0" fill="none" stroke="#8ccc6c" stroke-width="1.6" stroke-linecap="round" opacity="0.75"/><path d="M951.4,875.3 L952.2,873.7 L953.3,871.4 L954.7,868.8 L956.1,866.3 L957.5,864.1 L958.8,862.2 L960.1,860.6 L961.4,859.1 L963.1,857.6 L965.5,855.7 L968.8,853.2 L972.7,850.3 L977.0,847.5 L981.3,844.9 L985.5,843.0 L989.9,841.7 L994.9,840.7 L1000.1,840.1 L1005.2,839.6 L1010.0,839.2 L1014.4,838.6 L1018.1,837.9 L1021.0,837.6 L1023.4,837.6 L1025.6,838.2 L1028.4,839.8 L1031.6,842.4 L1034.9,845.6 L1038.0,849.1 L1040.7,852.4 L1042.8,855.1 L1044.3,857.2 L1045.3,859.2 L1046.3,862.1 L1047.5,866.6 L1048.8,873.8 L1050.0,883.2 L1051.1,893.3 L1052.6,902.2 L1053.7,908.3 L1053.9,908.3 L1054.6,902.1 L1055.4,893.1 L1055.7,882.9 L1055.8,873.2 L1055.5,865.4 L1054.8,860.1 L1053.6,856.0 L1052.2,852.7 L1050.4,849.8 L1048.3,846.8 L1045.7,843.0 L1042.5,838.9 L1038.9,834.8 L1034.8,831.1 L1030.4,828.2 L1025.6,826.5 L1021.0,826.0 L1016.7,826.2 L1012.7,826.6 L1008.6,827.2 L1003.9,827.8 L998.5,828.6 L992.8,829.6 L987.0,831.0 L981.5,833.0 L976.2,835.6 L971.3,838.8 L966.7,842.2 L962.7,845.4 L959.3,848.3 L956.7,850.9 L954.6,853.3 L953.0,855.5 L951.8,857.6 L950.5,859.9 L949.1,862.6 L947.8,865.7 L946.8,868.5 L945.9,871.0 L945.2,872.7Z"/><path d="M948.3,874.0 L949.3,871.8 L950.6,868.6 L952.3,865.1 L954.0,862.0 L955.6,859.5 L957.2,857.1 L959.3,854.7 L962.4,852.0 L966.7,848.6 L971.9,844.7 L977.6,840.9 L983.5,838.0 L989.8,836.0 L996.6,834.7 L1003.2,833.8 L1009.3,833.2 L1014.5,832.5 L1019.2,831.9 L1023.6,831.9 L1028.0,833.2 L1032.5,836.1 L1037.0,840.4 L1041.1,845.1 L1044.5,849.6 L1047.1,854.1 L1049.0,858.8 L1050.5,863.1 L1051.5,866.0" fill="none" stroke="#8ccc6c" stroke-width="1.8" stroke-linecap="round" opacity="0.75"/><path d="M942.9,867.7 L941.0,865.8 L938.3,863.1 L935.0,859.8 L931.2,856.6 L927.1,854.0 L922.9,852.0 L918.5,850.2 L913.9,848.7 L909.1,847.5 L904.2,846.7 L899.1,846.6 L893.9,847.2 L888.8,848.1 L883.8,849.4 L879.0,850.9 L874.3,852.8 L869.8,855.2 L865.6,857.9 L861.9,860.6 L858.7,862.9 L856.0,865.2 L853.8,867.5 L852.1,869.8 L850.8,871.6 L849.8,872.9 L850.0,873.1 L851.4,872.3 L853.4,871.2 L855.7,869.9 L858.3,868.5 L861.3,867.1 L864.8,865.5 L868.8,863.7 L873.1,862.0 L877.4,860.4 L881.6,859.1 L885.9,858.3 L890.4,857.6 L894.9,857.3 L899.3,857.3 L903.4,857.3 L907.4,857.6 L911.5,858.3 L915.5,859.3 L919.4,860.6 L922.9,862.0 L926.4,863.8 L930.1,866.1 L933.7,868.5 L936.8,870.7 L939.1,872.3Z"/><path d="M941.0,870.0 L938.2,867.7 L934.3,864.4 L929.7,860.9 L925.0,858.0 L920.1,855.9 L914.9,854.1 L909.4,852.7 L903.8,852.0 L898.0,852.0 L892.0,852.5 L886.0,853.5 L880.3,855.0 L874.5,857.2 L868.7,860.2 L863.6,863.0 L860.0,865.0" fill="none" stroke="#8ccc6c" stroke-width="1.6" stroke-linecap="round" opacity="0.75"/><path d="M1134.5,1209.9 L1134.3,1199.4 L1134.0,1184.6 L1133.6,1167.3 L1133.4,1149.0 L1133.2,1131.5 L1133.3,1114.2 L1133.4,1095.8 L1133.6,1077.4 L1133.9,1059.8 L1134.1,1044.1 L1134.3,1030.9 L1134.4,1019.8 L1134.5,1009.4 L1134.8,998.5 L1135.2,985.8 L1135.8,971.9 L1136.7,957.6 L1137.6,941.9 L1138.5,923.9 L1139.3,902.7 L1140.0,876.2 L1140.6,845.1 L1141.1,812.5 L1141.5,781.2 L1141.5,754.5 L1141.1,731.9 L1140.5,711.4 L1139.7,693.5 L1139.0,679.0 L1138.5,668.3 L1134.5,668.3 L1134.5,679.1 L1134.6,693.7 L1134.6,711.5 L1134.5,731.9 L1134.1,754.4 L1133.4,781.1 L1132.6,812.3 L1131.6,844.9 L1130.6,876.0 L1129.7,902.4 L1128.8,923.5 L1127.8,941.4 L1126.8,957.0 L1125.9,971.3 L1125.2,985.4 L1124.8,998.2 L1124.5,1009.2 L1124.3,1019.6 L1124.1,1030.8 L1123.9,1043.9 L1123.6,1059.7 L1123.3,1077.3 L1122.9,1095.7 L1122.7,1114.1 L1122.6,1131.5 L1122.6,1149.1 L1122.8,1167.4 L1123.1,1184.8 L1123.3,1199.6 L1123.5,1210.1Z"/><path d="M1125.3,1157.2 L1123.8,1155.5 L1121.6,1153.0 L1119.1,1150.2 L1116.6,1147.4 L1114.5,1145.0 L1113.1,1143.2 L1112.0,1141.4 L1110.4,1139.1 L1107.9,1136.7 L1104.4,1134.3 L1099.7,1131.7 L1094.1,1128.8 L1087.7,1125.9 L1081.2,1123.4 L1074.9,1121.7 L1068.7,1121.2 L1062.6,1121.3 L1056.6,1122.0 L1051.1,1123.3 L1046.2,1125.3 L1042.1,1127.9 L1038.9,1131.2 L1036.3,1135.0 L1034.4,1139.2 L1033.1,1144.0 L1032.4,1150.0 L1032.3,1156.9 L1032.6,1163.9 L1033.4,1170.0 L1033.9,1174.2 L1034.1,1174.2 L1035.0,1170.0 L1036.1,1164.0 L1037.0,1157.2 L1038.2,1150.8 L1039.7,1145.8 L1041.4,1142.2 L1043.1,1139.0 L1045.0,1136.6 L1047.3,1134.7 L1050.0,1133.2 L1053.5,1132.1 L1057.9,1131.5 L1062.9,1131.3 L1068.0,1131.6 L1072.9,1132.3 L1078.2,1133.4 L1084.1,1135.3 L1090.1,1137.7 L1095.5,1140.1 L1099.8,1142.2 L1102.4,1143.8 L1103.8,1145.0 L1105.0,1146.5 L1106.4,1148.4 L1108.5,1150.6 L1111.2,1152.9 L1114.1,1155.4 L1116.9,1157.8 L1119.4,1159.9 L1121.1,1161.4Z"/><path d="M1123.2,1159.3 L1121.0,1157.2 L1117.9,1154.1 L1114.5,1150.8 L1111.5,1147.8 L1109.4,1145.3 L1107.8,1143.0 L1105.7,1140.7 L1102.1,1138.2 L1096.3,1135.2 L1089.0,1131.9 L1081.2,1128.9 L1073.9,1127.0 L1067.0,1126.3 L1060.0,1126.5 L1053.5,1127.4 L1048.1,1129.2 L1043.9,1132.6 L1040.6,1137.2 L1038.2,1141.8 L1036.4,1144.9" fill="none" stroke="#8ccc6c" stroke-width="1.6" stroke-linecap="round" opacity="0.75"/><path d="M1137.2,1147.1 L1138.3,1145.4 L1139.9,1142.9 L1141.8,1140.0 L1143.8,1137.1 L1145.6,1134.4 L1147.3,1132.0 L1148.8,1129.7 L1150.2,1127.6 L1151.9,1125.5 L1154.2,1123.3 L1157.3,1120.7 L1160.9,1117.7 L1164.7,1114.9 L1168.4,1112.7 L1171.5,1111.2 L1174.4,1110.5 L1177.7,1110.3 L1181.0,1110.6 L1184.2,1111.3 L1187.0,1112.4 L1189.6,1113.8 L1192.0,1115.7 L1194.2,1118.1 L1196.3,1120.7 L1198.0,1123.5 L1199.4,1126.9 L1200.4,1131.3 L1201.2,1135.9 L1202.1,1139.9 L1202.8,1142.7 L1203.0,1142.7 L1203.4,1139.8 L1203.9,1135.7 L1204.1,1130.9 L1203.9,1126.0 L1203.0,1121.6 L1201.5,1117.8 L1199.5,1114.1 L1196.9,1110.9 L1193.9,1108.0 L1190.6,1105.7 L1186.8,1103.9 L1182.7,1102.6 L1178.2,1101.8 L1173.5,1101.7 L1168.7,1102.5 L1163.9,1104.4 L1159.5,1107.4 L1155.3,1110.9 L1151.6,1114.3 L1148.4,1117.3 L1145.8,1120.1 L1143.8,1122.9 L1142.1,1125.5 L1140.8,1128.0 L1139.4,1130.6 L1137.8,1133.5 L1136.2,1136.8 L1134.7,1140.0 L1133.5,1142.7 L1132.6,1144.6Z"/><path d="M1134.9,1145.9 L1136.2,1143.4 L1138.2,1139.9 L1140.3,1136.1 L1142.5,1132.5 L1144.4,1129.4 L1146.2,1126.4 L1148.4,1123.4 L1151.3,1120.3 L1155.3,1116.7 L1160.1,1112.7 L1165.2,1109.1 L1170.1,1106.8 L1174.9,1106.0 L1179.9,1106.3 L1184.6,1107.3 L1188.8,1109.0 L1192.5,1111.9 L1195.8,1115.9 L1198.6,1119.8 L1200.5,1122.5" fill="none" stroke="#8ccc6c" stroke-width="1.4" stroke-linecap="round" opacity="0.75"/><path d="M1125.8,1115.1 L1124.3,1112.9 L1122.2,1109.9 L1119.8,1106.3 L1117.3,1102.8 L1115.1,1099.9 L1113.6,1097.7 L1112.4,1095.9 L1110.7,1093.7 L1108.2,1091.3 L1104.8,1088.9 L1100.1,1086.1 L1094.4,1083.0 L1088.3,1079.9 L1082.0,1076.9 L1076.2,1074.3 L1070.8,1072.2 L1065.5,1070.4 L1060.2,1068.7 L1054.8,1067.2 L1049.1,1066.1 L1043.3,1065.3 L1037.3,1064.7 L1031.3,1064.4 L1025.3,1064.7 L1019.7,1065.4 L1014.0,1066.8 L1008.5,1068.9 L1003.5,1071.4 L999.4,1073.7 L996.5,1075.3 L996.5,1075.6 L999.9,1075.1 L1004.5,1074.2 L1009.8,1073.2 L1015.2,1072.3 L1020.3,1071.9 L1025.4,1072.2 L1030.8,1072.8 L1036.3,1073.6 L1041.8,1074.6 L1047.1,1075.8 L1052.0,1077.3 L1056.7,1079.0 L1061.5,1080.9 L1066.4,1083.1 L1071.6,1085.4 L1077.4,1087.7 L1083.6,1090.2 L1089.7,1092.9 L1095.2,1095.4 L1099.4,1097.7 L1102.1,1099.3 L1103.5,1100.6 L1104.6,1101.8 L1105.9,1103.6 L1107.9,1105.8 L1110.5,1108.4 L1113.4,1111.5 L1116.3,1114.6 L1118.8,1117.4 L1120.6,1119.3Z"/><path d="M1123.2,1117.2 L1121.0,1114.5 L1117.9,1110.6 L1114.5,1106.4 L1111.5,1102.8 L1109.4,1100.2 L1107.8,1098.0 L1105.7,1095.8 L1102.1,1093.3 L1096.3,1090.1 L1089.0,1086.5 L1081.2,1083.0 L1073.9,1079.9 L1067.3,1077.2 L1061.0,1074.7 L1054.7,1072.6 L1048.1,1071.0 L1040.6,1069.9 L1032.4,1069.3 L1025.1,1068.9 L1020.0,1068.7" fill="none" stroke="#8ccc6c" stroke-width="1.8" stroke-linecap="round" opacity="0.75"/><path d="M1049.1,1079.4 L1050.1,1080.6 L1051.5,1082.2 L1053.1,1083.9 L1054.6,1085.5 L1055.6,1086.9 L1056.3,1088.2 L1056.8,1089.4 L1057.3,1090.7 L1058.0,1092.3 L1058.8,1094.1 L1059.7,1096.5 L1060.7,1099.4 L1061.9,1102.4 L1063.2,1105.1 L1064.4,1106.9 L1064.6,1106.8 L1065.3,1104.8 L1065.7,1101.9 L1066.0,1098.5 L1065.9,1095.3 L1065.6,1092.4 L1065.2,1090.1 L1064.7,1088.0 L1064.0,1086.1 L1062.8,1084.2 L1061.4,1082.4 L1059.5,1080.5 L1057.4,1078.9 L1055.2,1077.6 L1053.2,1076.6 L1051.9,1075.9Z"/><path d="M1050.5,1077.7 L1052.0,1078.9 L1054.3,1080.6 L1056.6,1082.6 L1058.5,1084.6 L1059.8,1086.9 L1060.8,1089.4 L1061.6,1091.7 L1062.2,1093.3" fill="none" stroke="#8ccc6c" stroke-width="1.2" stroke-linecap="round" opacity="0.75"/><path d="M1035.2,1084.7 L1033.7,1085.5 L1031.6,1086.6 L1028.9,1088.0 L1026.2,1089.8 L1024.0,1091.9 L1022.2,1093.9 L1020.4,1096.0 L1018.8,1098.5 L1017.3,1101.8 L1016.1,1106.1 L1015.6,1112.0 L1015.5,1119.3 L1015.8,1126.9 L1016.4,1133.6 L1017.4,1138.2 L1017.6,1138.2 L1019.2,1133.7 L1020.5,1127.2 L1021.7,1119.8 L1022.8,1112.8 L1023.9,1107.6 L1024.7,1104.2 L1025.5,1101.9 L1026.5,1100.0 L1027.7,1098.3 L1029.0,1096.5 L1030.6,1094.7 L1032.5,1092.9 L1034.6,1091.1 L1036.4,1089.5 L1037.8,1088.4Z"/><path d="M1036.5,1086.6 L1034.6,1087.8 L1031.9,1089.6 L1029.0,1091.8 L1026.5,1094.2 L1024.5,1097.3 L1022.6,1101.0 L1021.1,1104.5 L1020.0,1106.8" fill="none" stroke="#8ccc6c" stroke-width="1.2" stroke-linecap="round" opacity="0.75"/><path d="M1138.1,1085.6 L1139.3,1083.9 L1140.9,1081.5 L1142.7,1078.8 L1144.6,1076.2 L1146.3,1074.1 L1147.8,1072.6 L1149.2,1071.3 L1150.9,1069.9 L1152.9,1068.1 L1155.4,1065.7 L1158.3,1062.6 L1161.5,1059.1 L1165.0,1055.4 L1168.6,1051.8 L1172.1,1048.4 L1175.8,1045.1 L1179.6,1041.7 L1183.3,1038.6 L1186.7,1035.9 L1189.5,1033.9 L1192.0,1032.6 L1194.4,1031.8 L1196.7,1031.4 L1199.1,1031.3 L1201.7,1031.5 L1204.4,1032.2 L1207.4,1033.3 L1210.5,1034.9 L1213.5,1036.7 L1216.1,1038.6 L1218.3,1040.4 L1220.3,1042.2 L1222.1,1044.2 L1223.7,1046.6 L1225.4,1049.6 L1227.0,1053.8 L1228.7,1059.2 L1230.4,1064.8 L1232.1,1069.7 L1233.4,1073.2 L1233.6,1073.1 L1233.7,1069.5 L1233.8,1064.3 L1233.7,1058.3 L1233.0,1052.4 L1232.0,1047.3 L1230.7,1043.3 L1229.1,1039.8 L1227.3,1036.7 L1225.1,1033.8 L1222.5,1031.2 L1219.4,1028.6 L1216.0,1026.0 L1212.2,1023.7 L1208.2,1021.8 L1204.1,1020.4 L1200.2,1019.7 L1196.2,1019.4 L1192.0,1019.8 L1187.8,1020.8 L1183.5,1022.5 L1179.1,1025.0 L1174.8,1028.3 L1170.7,1032.0 L1166.9,1035.8 L1163.3,1039.5 L1159.7,1043.4 L1156.2,1047.5 L1152.8,1051.5 L1149.8,1055.1 L1147.2,1058.2 L1145.2,1060.5 L1143.5,1062.4 L1141.9,1064.1 L1140.3,1066.1 L1138.7,1068.4 L1137.0,1071.2 L1135.3,1074.4 L1133.8,1077.4 L1132.6,1080.0 L1131.7,1081.8Z"/><path d="M1134.9,1083.7 L1136.2,1081.4 L1138.2,1078.0 L1140.3,1074.4 L1142.5,1071.2 L1144.4,1068.9 L1146.3,1067.0 L1148.5,1064.8 L1151.3,1062.0 L1154.8,1058.0 L1158.9,1053.4 L1163.3,1048.5 L1167.7,1044.0 L1172.3,1039.6 L1177.1,1035.1 L1181.9,1031.1 L1186.5,1028.2 L1190.8,1026.4 L1194.9,1025.5 L1198.9,1025.4 L1202.9,1026.0 L1207.2,1027.3 L1211.5,1029.4 L1215.7,1032.1 L1219.3,1034.9 L1222.4,1038.3 L1225.0,1042.2 L1227.2,1045.9 L1228.7,1048.5" fill="none" stroke="#8ccc6c" stroke-width="2.0" stroke-linecap="round" opacity="0.75"/><path d="M1193.8,1035.5 L1193.8,1037.3 L1194.0,1039.7 L1194.5,1042.3 L1195.0,1045.1 L1195.9,1047.5 L1197.0,1049.8 L1198.3,1052.2 L1199.8,1054.5 L1201.3,1056.3 L1202.8,1057.5 L1203.0,1057.4 L1203.6,1055.6 L1203.8,1053.2 L1203.8,1050.5 L1203.5,1047.8 L1203.1,1045.2 L1202.5,1042.7 L1201.3,1040.2 L1200.2,1037.7 L1199.0,1035.6 L1198.0,1034.2Z"/><path d="M1195.9,1034.9 L1196.6,1037.0 L1197.5,1039.9 L1198.5,1043.3 L1199.5,1046.4 L1200.4,1049.4 L1201.4,1052.6 L1202.3,1055.5 L1202.9,1057.5" fill="none" stroke="#8ccc6c" stroke-width="1.2" stroke-linecap="round" opacity="0.75"/><path d="M1130.8,1036.4 L1129.6,1034.7 L1128.0,1032.3 L1126.0,1029.6 L1124.0,1026.7 L1122.1,1024.1 L1120.5,1022.0 L1119.0,1020.0 L1117.4,1018.0 L1115.5,1015.8 L1113.0,1013.2 L1109.8,1009.9 L1106.1,1006.2 L1102.2,1002.4 L1098.3,998.5 L1094.8,994.8 L1091.8,991.2 L1089.0,987.5 L1085.9,983.5 L1082.4,979.4 L1078.2,975.7 L1073.6,972.3 L1068.9,969.0 L1063.7,965.9 L1058.2,963.1 L1052.4,960.8 L1046.1,959.1 L1039.4,957.9 L1032.6,957.3 L1026.0,957.2 L1019.9,957.4 L1014.1,958.4 L1008.4,960.0 L1003.5,962.3 L999.4,964.3 L996.5,965.7 L996.5,966.0 L999.8,965.6 L1004.3,965.1 L1009.5,964.6 L1014.9,964.0 L1020.1,964.1 L1025.5,964.7 L1031.5,965.9 L1037.6,967.3 L1043.4,968.9 L1048.6,970.8 L1053.3,973.1 L1057.7,975.8 L1061.9,978.9 L1065.9,982.2 L1069.6,985.5 L1072.8,988.8 L1075.8,992.1 L1078.8,995.7 L1082.1,999.5 L1085.8,1003.4 L1089.8,1007.2 L1094.0,1011.0 L1098.2,1014.7 L1102.0,1018.1 L1105.2,1021.0 L1107.7,1023.4 L1109.7,1025.2 L1111.4,1026.9 L1113.1,1028.5 L1114.9,1030.3 L1117.1,1032.5 L1119.4,1035.0 L1121.7,1037.4 L1123.6,1039.5 L1125.0,1041.0Z"/><path d="M1127.9,1038.7 L1126.2,1036.6 L1123.8,1033.6 L1121.1,1030.3 L1118.5,1027.2 L1116.4,1024.8 L1114.4,1022.6 L1112.1,1020.1 L1109.1,1017.1 L1105.0,1013.1 L1100.1,1008.6 L1095.1,1003.8 L1090.3,999.1 L1086.2,994.4 L1082.4,989.7 L1078.4,985.0 L1073.9,980.6 L1068.7,976.4 L1063.1,972.4 L1057.0,968.8 L1050.5,965.8 L1042.7,963.7 L1033.8,962.4 L1025.6,961.4 L1020.0,960.7" fill="none" stroke="#8ccc6c" stroke-width="2.0" stroke-linecap="round" opacity="0.75"/><path d="M1071.6,983.2 L1072.4,985.0 L1073.6,987.6 L1074.8,990.5 L1076.0,993.4 L1076.9,996.1 L1077.6,998.4 L1078.2,1000.4 L1078.5,1002.5 L1078.8,1005.0 L1078.9,1008.3 L1078.8,1012.6 L1078.6,1017.7 L1078.7,1023.3 L1078.8,1029.1 L1078.8,1034.7 L1078.9,1040.5 L1079.2,1046.8 L1079.5,1052.9 L1080.1,1058.2 L1080.8,1062.0 L1081.0,1062.0 L1082.1,1058.3 L1083.4,1053.2 L1084.5,1047.2 L1085.6,1040.9 L1086.2,1035.1 L1086.8,1029.5 L1087.4,1023.7 L1087.9,1018.0 L1087.9,1012.6 L1087.7,1007.9 L1087.3,1004.1 L1086.7,1001.0 L1086.0,998.3 L1085.1,995.9 L1084.1,993.3 L1082.7,990.3 L1080.8,987.3 L1078.9,984.6 L1077.3,982.3 L1076.2,980.6Z"/><path d="M1073.9,981.9 L1075.2,984.2 L1077.0,987.5 L1079.0,991.2 L1080.5,994.7 L1081.6,997.7 L1082.4,1000.5 L1082.9,1003.8 L1083.3,1008.1 L1083.3,1014.5 L1083.1,1022.3 L1082.7,1029.8 L1082.5,1034.9" fill="none" stroke="#8ccc6c" stroke-width="1.4" stroke-linecap="round" opacity="0.75"/><path d="M1014.8,962.5 L1013.3,964.0 L1011.0,966.1 L1008.4,968.6 L1005.8,971.6 L1003.6,974.8 L1001.8,977.8 L1000.0,980.8 L998.3,984.3 L996.8,988.6 L995.6,994.1 L995.0,1001.6 L994.8,1010.9 L995.0,1020.5 L995.5,1029.0 L996.4,1034.9 L996.6,1034.9 L998.2,1029.1 L999.6,1020.8 L1001.0,1011.3 L1002.2,1002.3 L1003.4,995.3 L1004.4,990.6 L1005.4,986.9 L1006.6,984.0 L1007.9,981.2 L1009.4,978.4 L1011.2,975.4 L1013.1,972.4 L1015.1,969.6 L1016.9,967.1 L1018.2,965.4Z"/><path d="M1016.5,963.9 L1014.6,966.1 L1011.9,969.1 L1009.0,972.8 L1006.5,976.6 L1004.4,981.2 L1002.4,986.4 L1000.7,991.3 L999.5,994.7" fill="none" stroke="#8ccc6c" stroke-width="1.2" stroke-linecap="round" opacity="0.75"/><path d="M1131.0,950.2 L1129.8,948.2 L1128.2,945.4 L1126.3,942.1 L1124.4,938.8 L1122.5,935.6 L1120.7,933.0 L1119.1,930.7 L1117.5,928.5 L1115.8,926.1 L1114.0,923.1 L1111.9,919.0 L1109.5,913.8 L1106.8,908.0 L1103.6,902.2 L1099.8,896.9 L1095.5,892.8 L1090.9,889.5 L1086.1,887.0 L1081.2,885.0 L1076.1,883.2 L1070.4,881.4 L1064.2,879.8 L1058.0,878.5 L1052.0,877.4 L1046.5,876.7 L1041.8,876.4 L1037.6,876.5 L1033.7,876.9 L1029.9,877.5 L1026.0,878.3 L1021.7,879.5 L1017.0,881.2 L1012.7,883.2 L1009.0,885.1 L1006.5,886.3 L1006.5,886.6 L1009.4,886.3 L1013.5,885.9 L1018.2,885.5 L1022.8,884.8 L1027.0,884.5 L1030.6,884.4 L1034.0,884.4 L1037.4,884.7 L1041.0,885.3 L1045.1,886.1 L1050.0,887.2 L1055.5,888.7 L1061.3,890.5 L1066.8,892.4 L1071.7,894.5 L1076.2,896.5 L1080.3,898.6 L1083.9,900.9 L1087.2,903.1 L1090.2,905.7 L1093.1,909.2 L1095.9,913.8 L1098.8,919.1 L1101.5,924.3 L1104.2,929.0 L1106.7,932.5 L1108.9,935.2 L1110.8,937.4 L1112.7,939.3 L1114.5,941.4 L1116.7,944.1 L1119.1,947.1 L1121.4,950.0 L1123.4,952.6 L1124.8,954.4Z"/><path d="M1127.9,952.3 L1126.2,949.8 L1123.8,946.2 L1121.1,942.2 L1118.5,938.5 L1116.3,935.6 L1114.1,933.0 L1111.8,930.0 L1109.1,926.0 L1106.1,920.4 L1102.8,913.7 L1099.1,906.9 L1095.0,901.3 L1090.4,897.2 L1085.3,894.0 L1079.8,891.3 L1073.9,888.8 L1067.2,886.4 L1059.7,884.3 L1052.4,882.6 L1045.8,881.4 L1039.9,880.9 L1034.4,880.9 L1029.8,881.2 L1026.5,881.4" fill="none" stroke="#8ccc6c" stroke-width="2.0" stroke-linecap="round" opacity="0.75"/><path d="M1052.5,907.7 L1053.1,909.1 L1054.0,910.9 L1055.0,913.1 L1056.0,915.5 L1057.0,918.0 L1058.1,920.6 L1059.1,923.3 L1060.3,926.0 L1061.4,929.1 L1062.5,932.5 L1063.5,936.6 L1064.5,941.3 L1065.4,946.3 L1066.3,951.4 L1067.2,956.5 L1068.4,961.2 L1069.4,965.7 L1070.4,970.4 L1071.3,975.4 L1072.2,981.0 L1073.1,988.1 L1074.4,996.3 L1075.6,1004.7 L1077.1,1012.0 L1078.4,1017.1 L1078.6,1017.1 L1079.4,1011.9 L1080.1,1004.5 L1080.4,996.0 L1080.7,987.5 L1080.4,980.2 L1080.1,974.3 L1079.6,969.0 L1079.1,964.1 L1078.4,959.3 L1077.8,954.4 L1076.7,949.3 L1075.4,944.1 L1074.1,939.0 L1072.7,934.1 L1071.3,929.7 L1069.9,925.9 L1068.4,922.5 L1066.9,919.6 L1065.4,917.0 L1064.0,914.6 L1062.5,912.2 L1061.0,909.8 L1059.7,907.7 L1058.5,906.0 L1057.7,904.8Z"/><path d="M1055.1,906.3 L1056.0,908.0 L1057.4,910.4 L1059.0,913.2 L1060.5,916.3 L1062.0,919.5 L1063.7,922.8 L1065.3,926.6 L1066.9,931.1 L1068.4,936.5 L1069.9,942.6 L1071.2,949.1 L1072.5,955.5 L1073.7,962.3 L1074.8,969.6 L1075.7,976.1 L1076.3,980.6" fill="none" stroke="#8ccc6c" stroke-width="1.6" stroke-linecap="round" opacity="0.75"/><path d="M1140.6,966.4 L1141.6,964.3 L1143.0,961.5 L1144.6,958.2 L1146.2,955.1 L1147.8,952.3 L1149.2,950.1 L1150.5,948.2 L1151.7,946.5 L1153.3,944.6 L1155.5,942.2 L1158.5,939.1 L1162.0,935.6 L1165.8,932.0 L1169.6,928.9 L1173.4,926.5 L1177.1,924.7 L1181.2,923.2 L1185.4,922.1 L1189.9,921.0 L1194.4,920.0 L1199.1,919.2 L1203.9,918.6 L1208.7,918.3 L1213.5,918.4 L1218.3,918.9 L1223.4,919.8 L1228.7,921.0 L1233.9,922.5 L1238.7,924.2 L1242.8,926.4 L1246.5,929.6 L1250.1,934.1 L1253.7,938.8 L1256.8,943.1 L1259.1,946.0 L1259.3,945.9 L1258.2,942.4 L1256.6,937.3 L1254.4,931.5 L1251.3,925.8 L1247.4,921.0 L1242.7,917.3 L1237.3,914.2 L1231.7,911.8 L1225.9,909.9 L1220.3,908.4 L1214.7,907.4 L1209.0,906.8 L1203.4,906.7 L1197.9,906.9 L1192.6,907.3 L1187.3,908.0 L1182.0,909.1 L1176.9,910.8 L1171.8,913.0 L1166.8,915.7 L1162.1,919.2 L1157.6,923.2 L1153.6,927.4 L1150.1,931.4 L1147.1,934.8 L1144.8,937.7 L1142.9,940.4 L1141.5,942.9 L1140.4,945.3 L1139.2,948.0 L1137.9,951.2 L1136.6,954.9 L1135.4,958.4 L1134.4,961.5 L1133.8,963.6Z"/><path d="M1137.2,965.0 L1138.3,962.2 L1139.9,958.3 L1141.7,954.0 L1143.5,950.2 L1145.1,947.2 L1146.6,944.5 L1148.5,941.8 L1151.3,938.5 L1155.1,934.3 L1159.7,929.5 L1164.8,924.9 L1170.1,921.1 L1175.6,918.3 L1181.4,916.3 L1187.4,914.8 L1193.5,913.7 L1199.8,912.9 L1206.2,912.6 L1212.8,912.8 L1219.3,913.7 L1226.4,915.7 L1233.8,918.7 L1240.5,921.7 L1245.1,923.7" fill="none" stroke="#8ccc6c" stroke-width="2.0" stroke-linecap="round" opacity="0.75"/><path d="M1205.4,914.3 L1205.5,916.5 L1205.8,919.5 L1206.5,922.9 L1207.1,926.4 L1207.6,929.6 L1208.4,932.8 L1209.1,936.6 L1210.0,940.3 L1211.0,943.6 L1212.2,945.9 L1212.4,945.9 L1213.5,943.6 L1214.4,940.3 L1215.1,936.4 L1215.3,932.3 L1215.4,928.4 L1214.6,924.7 L1213.4,921.1 L1212.1,917.7 L1210.7,915.0 L1209.6,913.0Z"/><path d="M1207.5,913.7 L1208.3,916.4 L1209.5,920.3 L1210.6,924.7 L1211.5,929.0 L1211.9,933.5 L1212.2,938.4 L1212.2,942.9 L1212.3,945.9" fill="none" stroke="#8ccc6c" stroke-width="1.2" stroke-linecap="round" opacity="0.75"/><path d="M1141.1,701.9 L1140.4,700.4 L1139.4,698.0 L1138.2,695.3 L1136.8,692.5 L1135.3,690.1 L1134.0,688.3 L1132.5,686.6 L1130.5,684.7 L1127.6,683.3 L1124.2,682.6 L1120.5,682.3 L1116.3,682.4 L1111.7,682.8 L1107.1,683.6 L1102.9,684.7 L1099.2,686.2 L1095.5,687.9 L1092.0,690.1 L1088.5,693.0 L1085.6,696.6 L1083.2,700.7 L1081.1,705.1 L1079.4,709.9 L1077.8,715.3 L1076.4,721.5 L1075.1,729.3 L1074.3,738.6 L1073.9,748.2 L1074.0,756.6 L1074.4,762.5 L1074.6,762.5 L1076.8,757.0 L1079.5,749.1 L1082.0,740.0 L1084.6,731.2 L1086.6,724.0 L1088.5,718.7 L1090.3,714.1 L1092.2,710.3 L1094.2,707.1 L1096.2,704.5 L1098.2,702.3 L1100.0,700.6 L1102.1,699.0 L1104.5,697.7 L1107.1,696.5 L1110.1,695.4 L1113.6,694.6 L1117.3,693.9 L1120.7,693.6 L1123.2,693.6 L1124.4,693.7 L1124.9,693.8 L1125.5,694.1 L1126.5,695.0 L1127.7,696.2 L1129.1,697.7 L1130.7,699.7 L1132.2,701.9 L1133.6,704.0 L1134.5,705.5Z"/><path d="M1137.8,703.7 L1136.7,701.7 L1135.1,698.7 L1133.3,695.6 L1131.5,693.1 L1129.9,691.3 L1128.4,689.8 L1126.5,688.7 L1123.7,688.1 L1119.7,688.0 L1114.7,688.4 L1109.6,689.3 L1105.0,690.6 L1101.0,692.3 L1097.4,694.3 L1094.0,697.0 L1090.9,700.5 L1088.0,705.8 L1085.3,712.3 L1083.1,718.5 L1081.5,722.7" fill="none" stroke="#8ccc6c" stroke-width="2.0" stroke-linecap="round" opacity="0.75"/><path d="M1142.0,737.2 L1141.5,734.9 L1140.8,731.5 L1140.0,727.7 L1139.1,723.9 L1138.4,720.8 L1138.0,718.7 L1137.7,716.6 L1137.0,714.0 L1135.6,711.0 L1133.3,708.0 L1130.4,705.4 L1127.0,702.8 L1123.1,700.3 L1118.7,698.4 L1112.7,698.1 L1107.1,701.4 L1104.3,705.5 L1102.8,709.7 L1101.9,713.8 L1101.7,718.1 L1102.4,722.5 L1103.7,726.7 L1105.2,730.6 L1106.6,734.1 L1107.9,737.3 L1108.8,740.1 L1109.5,743.0 L1110.4,746.2 L1111.8,750.0 L1113.7,754.5 L1116.9,760.0 L1121.0,766.5 L1125.3,773.0 L1129.8,778.4 L1133.0,782.0 L1133.2,781.9 L1132.3,777.1 L1130.7,770.3 L1128.3,763.0 L1126.0,755.9 L1124.3,750.2 L1123.2,746.3 L1122.6,743.2 L1122.2,740.3 L1121.8,737.2 L1121.1,733.6 L1120.2,729.7 L1119.1,725.9 L1118.2,722.4 L1117.8,719.6 L1117.7,717.7 L1117.8,715.7 L1118.1,713.5 L1118.4,711.9 L1118.3,711.7 L1116.1,712.8 L1114.9,712.8 L1116.6,713.4 L1119.3,714.8 L1121.9,716.5 L1123.7,717.8 L1124.3,718.3 L1124.5,718.7 L1124.9,719.9 L1125.5,722.1 L1126.6,724.7 L1128.0,727.7 L1129.6,731.2 L1131.2,734.7 L1132.6,737.8 L1133.6,740.0Z"/><path d="M1137.8,738.6 L1136.8,735.6 L1135.4,731.3 L1133.9,726.7 L1132.5,722.7 L1131.6,719.8 L1131.0,717.3 L1130.2,715.1 L1128.5,712.9 L1125.5,710.4 L1121.5,707.8 L1117.5,705.8 L1114.4,705.4 L1112.3,707.0 L1110.9,710.1 L1110.0,713.9 L1109.7,717.9 L1110.2,721.9 L1111.5,726.4 L1113.1,731.0 L1114.5,735.4 L1115.8,740.1 L1117.0,745.0 L1118.2,749.3 L1119.0,752.4" fill="none" stroke="#8ccc6c" stroke-width="2.4" stroke-linecap="round" opacity="0.75"/><path d="M1093.1,701.9 L1092.1,703.7 L1090.7,706.2 L1089.0,709.3 L1087.3,712.8 L1085.8,716.4 L1084.9,720.0 L1084.1,723.6 L1083.4,727.4 L1082.7,731.8 L1081.8,737.0 L1080.8,743.5 L1080.0,751.2 L1079.4,759.3 L1078.7,767.3 L1078.1,774.4 L1077.6,780.9 L1077.2,787.4 L1076.7,793.3 L1076.6,798.4 L1076.7,802.0 L1076.9,802.1 L1078.2,798.7 L1080.0,793.9 L1081.6,788.2 L1083.3,781.9 L1084.9,775.4 L1086.2,768.3 L1087.5,760.3 L1088.9,752.3 L1089.9,744.7 L1090.6,738.1 L1091.1,732.9 L1091.6,728.6 L1092.0,724.9 L1092.5,721.7 L1093.2,718.5 L1093.9,715.2 L1095.0,711.8 L1096.1,708.7 L1097.1,706.0 L1097.9,704.1Z"/><path d="M1095.5,703.0 L1094.4,705.4 L1092.7,709.0 L1091.0,713.1 L1089.5,717.5 L1088.5,721.7 L1087.8,726.1 L1087.1,731.2 L1086.2,737.5 L1085.0,746.5 L1083.6,757.5 L1082.4,767.8 L1081.5,774.9" fill="none" stroke="#8ccc6c" stroke-width="1.4" stroke-linecap="round" opacity="0.75"/><path d="M1140.9,830.8 L1139.8,828.7 L1138.2,825.8 L1136.3,822.3 L1134.4,818.8 L1132.6,815.5 L1131.2,812.5 L1129.8,809.4 L1128.2,806.0 L1126.1,802.4 L1123.5,798.6 L1120.3,794.4 L1116.5,789.7 L1112.4,784.9 L1108.1,780.5 L1103.8,777.0 L1099.4,774.6 L1095.1,773.0 L1090.6,772.3 L1086.2,772.5 L1081.9,773.4 L1077.7,775.2 L1073.6,777.8 L1069.7,780.9 L1066.0,784.5 L1062.9,788.5 L1060.0,792.6 L1057.1,797.1 L1054.4,802.4 L1052.3,808.7 L1050.8,816.2 L1050.5,825.8 L1051.3,837.4 L1052.5,849.2 L1054.3,859.5 L1055.6,866.6 L1055.8,866.6 L1056.8,859.4 L1057.7,849.0 L1058.4,837.3 L1059.3,826.2 L1060.6,817.6 L1062.2,811.6 L1064.3,806.9 L1066.7,802.9 L1069.3,799.4 L1072.1,796.0 L1074.9,793.0 L1077.8,790.5 L1080.7,788.5 L1083.4,787.1 L1085.9,786.3 L1088.1,785.7 L1090.1,785.5 L1092.1,785.7 L1094.3,786.3 L1096.8,787.6 L1099.9,789.8 L1103.7,793.3 L1107.6,797.5 L1111.4,801.7 L1114.5,805.5 L1116.9,808.6 L1118.8,811.5 L1120.5,814.3 L1122.3,817.3 L1124.4,820.4 L1126.6,823.6 L1129.0,826.9 L1131.3,830.1 L1133.3,832.8 L1134.7,834.7Z"/><path d="M1137.8,832.7 L1136.1,830.1 L1133.7,826.3 L1131.1,822.1 L1128.5,817.9 L1126.4,814.1 L1124.3,810.3 L1122.0,806.3 L1119.0,802.1 L1114.9,797.0 L1110.1,791.3 L1105.0,786.1 L1100.3,782.3 L1096.0,780.1 L1092.0,779.1 L1087.9,779.0 L1083.9,779.8 L1079.7,781.6 L1075.4,784.3 L1071.3,787.9 L1067.5,792.2 L1064.0,798.1 L1060.6,805.3 L1057.7,812.2 L1055.7,816.9" fill="none" stroke="#8ccc6c" stroke-width="2.0" stroke-linecap="round" opacity="0.75"/><path d="M1142.4,744.1 L1143.5,742.6 L1145.1,740.4 L1146.9,738.0 L1148.6,735.4 L1150.0,733.2 L1151.2,731.4 L1152.1,730.0 L1152.9,728.8 L1153.9,727.5 L1155.5,725.7 L1157.6,723.0 L1160.2,719.6 L1162.9,716.1 L1165.6,712.8 L1167.7,710.1 L1169.5,708.2 L1171.3,706.6 L1172.9,705.3 L1174.3,704.1 L1175.4,703.1 L1175.2,702.8 L1173.9,702.9 L1172.0,703.0 L1169.6,703.4 L1167.0,704.3 L1164.1,705.8 L1160.9,708.0 L1157.5,710.9 L1154.0,714.0 L1150.8,717.1 L1148.3,719.8 L1146.7,722.1 L1145.5,724.1 L1144.6,725.8 L1143.8,727.4 L1143.0,729.2 L1141.8,731.6 L1140.5,734.4 L1139.4,737.3 L1138.5,739.8 L1137.8,741.6Z"/><path d="M1140.1,742.8 L1141.3,740.7 L1143.0,737.5 L1144.8,734.2 L1146.5,731.2 L1147.7,729.0 L1148.7,727.2 L1150.0,725.2 L1151.9,722.7 L1155.1,719.1 L1159.2,714.8 L1163.2,710.8 L1165.9,707.9" fill="none" stroke="#8ccc6c" stroke-width="1.4" stroke-linecap="round" opacity="0.75"/><path d="M1144.3,680.9 L1145.2,679.0 L1146.4,676.2 L1147.5,673.0 L1148.6,669.6 L1149.6,666.4 L1150.3,662.9 L1151.2,659.0 L1151.8,655.2 L1152.2,651.8 L1152.0,649.2 L1151.8,649.1 L1150.1,651.1 L1148.3,654.0 L1146.4,657.4 L1144.8,661.1 L1143.4,664.5 L1142.5,667.9 L1141.8,671.5 L1141.1,674.9 L1140.9,677.9 L1140.7,680.0Z"/><path d="M1142.5,680.5 L1143.2,677.8 L1144.2,673.9 L1145.3,669.6 L1146.5,665.4 L1147.9,661.1 L1149.5,656.4 L1150.9,652.1 L1151.9,649.2" fill="none" stroke="#8ccc6c" stroke-width="1.0" stroke-linecap="round" opacity="0.75"/><path d="M1159.0,647.0 L1159.5,650.3 L1160.2,655.1 L1161.0,660.5 L1162.1,665.9 L1163.0,670.7 L1163.7,674.5 L1164.4,678.0 L1165.0,681.3 L1165.7,684.7 L1166.8,688.6 L1167.9,693.2 L1169.1,698.5 L1170.3,703.8 L1171.6,709.0 L1173.1,713.5 L1174.5,717.3 L1176.0,720.8 L1177.5,723.7 L1178.9,726.0 L1179.9,727.8 L1180.1,727.7 L1179.9,725.7 L1179.4,723.0 L1178.9,719.8 L1178.2,716.2 L1177.5,712.4 L1177.0,707.9 L1176.4,702.7 L1175.6,697.3 L1174.9,691.9 L1174.2,687.1 L1173.6,683.1 L1172.8,679.6 L1171.9,676.3 L1171.0,672.9 L1170.0,669.1 L1168.8,664.4 L1167.4,659.1 L1165.8,653.8 L1164.4,649.2 L1163.4,646.0Z"/><path d="M1161.2,646.5 L1162.2,650.9 L1163.6,657.1 L1165.1,663.9 L1166.5,669.9 L1167.6,674.6 L1168.5,678.8 L1169.5,683.0 L1170.5,687.9 L1171.8,694.2 L1173.2,701.5 L1174.4,708.2 L1175.3,712.9" fill="none" stroke="#8ccc6c" stroke-width="1.2" stroke-linecap="round" opacity="0.75"/><path d="M1150.6,809.9 L1151.7,807.8 L1153.1,804.9 L1154.8,801.5 L1156.6,798.0 L1158.6,794.8 L1160.6,791.7 L1162.7,788.6 L1165.0,785.4 L1167.6,782.0 L1170.4,778.0 L1173.8,773.4 L1177.5,768.3 L1181.4,763.2 L1185.3,758.4 L1189.1,754.4 L1193.0,750.9 L1197.3,747.7 L1201.5,744.9 L1205.3,742.8 L1208.2,741.5 L1209.9,741.0 L1210.6,740.9 L1211.0,740.9 L1211.9,741.4 L1213.3,742.4 L1214.9,743.7 L1216.3,745.4 L1218.0,747.9 L1219.7,751.0 L1221.6,754.8 L1223.6,759.6 L1225.9,765.1 L1228.1,771.2 L1230.0,777.3 L1231.6,783.2 L1232.9,789.0 L1234.1,794.9 L1234.9,800.7 L1235.5,806.4 L1235.6,811.8 L1235.1,817.3 L1234.1,823.0 L1233.1,828.7 L1232.0,833.5 L1231.4,836.9 L1231.6,837.0 L1233.2,833.9 L1235.4,829.5 L1237.9,824.2 L1240.1,818.3 L1241.4,812.4 L1242.1,806.5 L1242.3,800.3 L1242.2,794.0 L1241.8,787.6 L1241.0,781.3 L1239.7,774.8 L1238.0,768.2 L1236.1,761.6 L1234.2,755.6 L1232.2,750.3 L1230.4,745.9 L1228.5,741.9 L1226.5,738.4 L1224.2,735.3 L1221.7,732.7 L1219.0,730.6 L1215.9,728.8 L1212.0,727.8 L1207.7,727.8 L1203.4,728.9 L1199.0,731.1 L1194.4,733.9 L1189.6,737.4 L1184.8,741.3 L1180.3,745.7 L1176.0,750.6 L1171.9,756.0 L1168.0,761.6 L1164.5,767.0 L1161.4,771.7 L1158.6,775.8 L1156.2,779.6 L1154.1,783.3 L1152.2,786.8 L1150.4,790.3 L1148.7,794.1 L1147.1,798.0 L1145.7,801.7 L1144.6,804.8 L1143.8,806.9Z"/><path d="M1147.2,808.4 L1148.4,805.6 L1150.1,801.6 L1152.2,797.0 L1154.5,792.5 L1156.9,788.4 L1159.5,784.3 L1162.4,779.8 L1165.9,774.9 L1170.0,768.9 L1174.7,762.3 L1179.7,755.7 L1184.7,750.0 L1190.0,745.2 L1195.7,740.9 L1201.1,737.5 L1205.8,735.2 L1209.4,734.3 L1212.4,734.5 L1215.0,735.7 L1217.5,737.5 L1220.0,740.1 L1222.3,743.3 L1224.6,747.5 L1226.9,752.6 L1229.4,759.0 L1232.0,766.5 L1234.5,774.5 L1236.3,782.3 L1237.4,790.4 L1238.0,799.1 L1238.3,806.8 L1238.5,812.1" fill="none" stroke="#8ccc6c" stroke-width="2.0" stroke-linecap="round" opacity="0.75"/><path d="M1207.9,744.0 L1208.5,745.7 L1209.4,748.0 L1210.4,750.7 L1211.4,753.5 L1212.4,756.3 L1213.4,759.0 L1214.4,761.9 L1215.4,764.8 L1216.3,767.9 L1217.1,771.3 L1218.1,775.0 L1219.3,779.2 L1220.5,783.6 L1221.7,788.0 L1222.7,792.1 L1224.0,796.1 L1225.3,800.2 L1226.5,804.1 L1228.0,807.3 L1229.1,809.6 L1229.3,809.6 L1229.8,807.0 L1230.3,803.5 L1230.4,799.5 L1230.4,795.1 L1230.3,790.8 L1229.9,786.6 L1229.4,782.0 L1228.9,777.3 L1228.3,772.7 L1227.3,768.5 L1226.0,764.8 L1224.7,761.4 L1223.3,758.3 L1221.9,755.4 L1220.6,752.7 L1219.1,749.8 L1217.3,747.1 L1215.6,744.7 L1214.1,742.7 L1213.1,741.2Z"/><path d="M1210.5,742.6 L1211.6,744.7 L1213.1,747.6 L1214.9,751.0 L1216.5,754.5 L1218.0,757.9 L1219.5,761.6 L1220.9,765.5 L1222.2,769.9 L1223.5,775.4 L1224.7,781.7 L1225.8,787.5 L1226.5,791.5" fill="none" stroke="#8ccc6c" stroke-width="1.6" stroke-linecap="round" opacity="0.75"/><path d="M1147.9,876.3 L1148.7,874.6 L1149.9,872.2 L1151.2,869.4 L1152.6,866.7 L1154.1,864.4 L1155.4,862.4 L1156.7,860.6 L1158.0,859.1 L1159.7,857.4 L1162.1,855.4 L1165.4,852.7 L1169.3,849.7 L1173.6,846.6 L1177.9,844.0 L1182.1,842.0 L1186.5,840.6 L1191.4,839.5 L1196.6,838.8 L1201.7,838.3 L1206.5,837.8 L1210.9,837.3 L1214.6,836.6 L1217.5,836.2 L1219.8,836.3 L1222.0,836.9 L1224.7,838.5 L1227.9,841.3 L1231.3,844.8 L1234.4,848.5 L1237.1,852.0 L1239.2,854.9 L1240.7,857.0 L1241.8,859.2 L1242.8,862.3 L1243.9,867.1 L1245.2,874.8 L1246.5,884.8 L1247.6,895.4 L1249.0,904.8 L1250.2,911.3 L1250.4,911.3 L1251.1,904.8 L1252.0,895.3 L1252.3,884.5 L1252.4,874.2 L1252.1,866.0 L1251.3,860.4 L1250.2,856.2 L1248.8,852.7 L1247.0,849.7 L1244.9,846.5 L1242.3,842.5 L1239.1,838.2 L1235.5,833.9 L1231.5,830.0 L1227.0,826.9 L1222.2,825.1 L1217.5,824.6 L1213.2,824.8 L1209.1,825.3 L1205.1,826.0 L1200.3,826.6 L1194.9,827.4 L1189.2,828.5 L1183.4,829.9 L1177.9,832.0 L1172.6,834.8 L1167.7,838.2 L1163.1,841.7 L1159.1,845.1 L1155.7,848.2 L1153.1,850.9 L1151.0,853.4 L1149.4,855.7 L1148.2,858.0 L1146.9,860.3 L1145.6,863.2 L1144.3,866.4 L1143.2,869.4 L1142.3,872.0 L1141.7,873.8Z"/><path d="M1144.8,875.1 L1145.8,872.7 L1147.1,869.4 L1148.8,865.7 L1150.5,862.4 L1152.1,859.7 L1153.7,857.2 L1155.8,854.7 L1158.9,851.8 L1163.2,848.1 L1168.4,844.0 L1174.1,840.1 L1180.0,837.0 L1186.3,834.9 L1193.0,833.5 L1199.7,832.6 L1205.8,831.9 L1211.0,831.1 L1215.7,830.5 L1220.1,830.6 L1224.5,831.9 L1229.0,835.0 L1233.5,839.5 L1237.6,844.5 L1241.0,849.2 L1243.6,854.0 L1245.5,859.0 L1247.0,863.5 L1248.0,866.6" fill="none" stroke="#8ccc6c" stroke-width="1.8" stroke-linecap="round" opacity="0.75"/><path d="M1139.5,868.6 L1137.5,866.6 L1134.9,863.7 L1131.5,860.3 L1127.8,856.9 L1123.6,854.2 L1119.5,852.0 L1115.1,850.1 L1110.5,848.5 L1105.6,847.3 L1100.7,846.5 L1095.6,846.3 L1090.4,846.9 L1085.2,847.9 L1080.2,849.2 L1075.5,850.8 L1070.8,852.9 L1066.2,855.4 L1062.1,858.2 L1058.4,861.0 L1055.2,863.5 L1052.4,865.9 L1050.2,868.3 L1048.6,870.6 L1047.3,872.5 L1046.3,873.9 L1046.5,874.1 L1048.0,873.2 L1049.9,872.0 L1052.3,870.7 L1054.9,869.1 L1057.8,867.6 L1061.3,865.9 L1065.4,864.0 L1069.7,862.2 L1074.0,860.4 L1078.1,859.1 L1082.4,858.1 L1086.9,857.5 L1091.4,857.1 L1095.8,857.0 L1099.9,857.0 L1103.9,857.4 L1107.9,858.1 L1111.9,859.2 L1115.8,860.6 L1119.4,862.1 L1122.8,864.0 L1126.5,866.4 L1130.1,869.0 L1133.3,871.4 L1135.5,873.1Z"/><path d="M1137.5,870.8 L1134.7,868.4 L1130.8,864.9 L1126.2,861.2 L1121.5,858.1 L1116.6,855.9 L1111.4,854.0 L1105.9,852.6 L1100.3,851.8 L1094.5,851.7 L1088.5,852.3 L1082.5,853.4 L1076.8,855.0 L1071.0,857.3 L1065.2,860.4 L1060.1,863.5 L1056.5,865.5" fill="none" stroke="#8ccc6c" stroke-width="1.6" stroke-linecap="round" opacity="0.75"/></g></defs><use href="#gp" xlink:href="#gp" fill="#f4f8fb" stroke="#f4f8fb" stroke-width="6" stroke-linejoin="round" opacity="0.55"/><use href="#gp" xlink:href="#gp" fill="#52ae41" stroke="#1b5a1e" stroke-width="2.2" stroke-linejoin="round"/><path d="M1116,936 C1110,920 1112,900 1117,890 C1124,900 1129,918 1130,934 Z" fill="#8cc460" stroke="#3f7d2c" stroke-width="1.2"/><path d="M1122.4,899.1 L1121.5,895.5 L1120.3,890.4 L1119.0,884.7 L1117.9,879.3 L1116.5,873.6 L1115.1,867.4 L1113.9,861.7 L1113.0,857.8 L1109.0,858.2 L1109.1,862.3 L1109.3,868.1 L1109.6,874.6 L1110.1,880.7 L1111.5,886.5 L1113.1,892.3 L1114.6,897.4 L1115.6,900.9Z" fill="#d9bf5e" stroke="#b09640" stroke-width="1"/><path d="M1401.0,1185.0 L1402.2,1186.4 L1403.8,1188.3 L1405.7,1190.6 L1407.8,1192.9 L1409.9,1195.2 L1412.0,1197.0 L1413.9,1198.5 L1415.7,1199.7 L1417.5,1200.9 L1419.6,1201.9 L1421.9,1202.9 L1424.7,1204.0 L1428.2,1205.2 L1432.2,1206.4 L1436.6,1207.7 L1441.0,1208.8 L1445.2,1209.6 L1448.9,1210.0 L1452.1,1209.9 L1454.9,1209.5 L1457.5,1208.8 L1460.0,1207.9 L1462.5,1207.0 L1465.0,1206.0 L1467.7,1204.9 L1470.6,1203.6 L1473.5,1202.2 L1476.2,1200.9 L1478.4,1199.8 L1480.0,1199.0" fill="none" stroke="#c29a4c" stroke-width="7" stroke-linecap="round"/><path d="M1401.0,1185.0 L1402.2,1186.4 L1403.8,1188.3 L1405.7,1190.6 L1407.8,1192.9 L1409.9,1195.2 L1412.0,1197.0 L1413.9,1198.5 L1415.7,1199.7 L1417.5,1200.9 L1419.6,1201.9 L1421.9,1202.9 L1424.7,1204.0 L1428.2,1205.2 L1432.2,1206.4 L1436.6,1207.7 L1441.0,1208.8 L1445.2,1209.6 L1448.9,1210.0 L1452.1,1209.9 L1454.9,1209.5 L1457.5,1208.8 L1460.0,1207.9 L1462.5,1207.0 L1465.0,1206.0 L1467.7,1204.9 L1470.6,1203.6 L1473.5,1202.2 L1476.2,1200.9 L1478.4,1199.8 L1480.0,1199.0" fill="none" stroke="#e8ca78" stroke-width="4.5" stroke-linecap="round"/><path d="M1396.0,585.0 L1393.1,581.1 L1388.8,575.4 L1384.2,569.5 L1380.0,565.0 L1376.2,562.4 L1372.5,560.8 L1369.3,559.8 L1367.0,559.0 M1394.0,594.0 L1390.0,591.1 L1384.4,586.8 L1378.0,583.0 L1372.0,582.0 L1366.0,585.2 L1359.6,591.2 L1354.0,597.7 L1350.0,602.0 M1396.0,606.0 L1393.0,603.6 L1388.7,600.2 L1384.0,596.6 L1380.0,594.0 L1376.6,592.5 L1373.5,591.8 L1370.9,591.3 L1369.0,591.0 M1398.0,617.0 L1393.7,614.9 L1387.6,611.8 L1380.9,609.0 L1375.0,608.0 L1369.9,609.8 L1365.1,613.4 L1360.9,617.4 L1358.0,620.0 M1400.0,636.0 L1394.7,633.0 L1387.1,628.6 L1379.0,624.8 L1372.0,624.0 L1366.4,627.8 L1361.2,634.8 L1357.0,642.0 L1354.0,647.0 M1398.0,565.0 L1395.7,563.4 L1392.3,560.9 L1388.6,558.6 L1385.0,557.0 L1381.4,556.6 L1377.7,557.0 L1374.3,557.6 L1372.0,558.0 M1408.0,574.0 L1410.3,571.9 L1413.6,568.9 L1417.5,566.1 L1422.0,565.0 L1427.7,566.4 L1434.4,569.4 L1440.7,572.8 L1445.0,575.0 M1409.0,598.0 L1413.2,593.8 L1419.2,587.6 L1425.9,582.1 L1432.0,580.0 L1437.7,583.2 L1443.4,589.9 L1448.5,597.1 L1452.0,602.0 M1410.0,617.0 L1415.0,612.1 L1422.4,604.9 L1430.0,598.0 L1436.0,594.0 L1439.9,594.2 L1442.6,597.1 L1444.6,600.6 L1446.0,603.0 M1410.0,622.0 L1417.1,619.5 L1427.4,615.7 L1438.0,612.6 L1446.0,612.0 L1450.6,615.6 L1453.2,621.9 L1454.8,628.5 L1456.0,633.0 M1402.0,575.0 L1401.6,572.2 L1401.1,568.2 L1400.5,563.8 L1400.0,560.0 L1399.5,556.7 L1398.9,553.6 L1398.4,550.9 L1398.0,549.0 M1405.0,575.0 L1405.8,572.2 L1406.9,568.2 L1408.0,563.8 L1409.0,560.0 L1409.7,556.7 L1410.2,553.6 L1410.7,550.9 L1411.0,549.0 M1395.0,575.0 L1391.9,574.6 L1387.5,574.1 L1382.6,573.9 L1378.0,575.0 L1373.6,578.0 L1368.9,582.5 L1364.9,587.0 L1362.0,590.0 M1410.0,585.0 L1413.8,582.7 L1419.4,579.4 L1425.2,576.3 L1430.0,575.0 L1433.4,576.3 L1436.2,579.4 L1438.4,582.7 L1440.0,585.0 M1399.0,628.0 L1395.5,625.4 L1390.4,621.7 L1384.8,617.9 L1380.0,615.0 L1375.8,613.5 L1371.8,612.7 L1368.4,612.3 L1366.0,612.0 M1408.0,632.0 L1411.1,629.4 L1415.7,625.7 L1420.6,622.1 L1425.0,620.0 L1428.8,620.2 L1432.6,621.8 L1435.8,623.7 L1438.0,625.0 M1400.0,590.0 L1397.7,586.6 L1394.4,581.6 L1390.9,576.4 L1388.0,572.0 L1385.9,568.7 L1384.2,565.9 L1382.9,563.6 L1382.0,562.0 M1408.0,592.0 L1409.8,588.8 L1412.5,584.1 L1415.4,579.1 L1418.0,575.0 L1420.3,572.0 L1422.6,569.4 L1424.6,567.4 L1426.0,566.0" fill="none" stroke="#a58560" stroke-width="4.2" stroke-linecap="round"/><path d="M1396.0,585.0 L1393.1,581.1 L1388.8,575.4 L1384.2,569.5 L1380.0,565.0 L1376.2,562.4 L1372.5,560.8 L1369.3,559.8 L1367.0,559.0 M1394.0,594.0 L1390.0,591.1 L1384.4,586.8 L1378.0,583.0 L1372.0,582.0 L1366.0,585.2 L1359.6,591.2 L1354.0,597.7 L1350.0,602.0 M1396.0,606.0 L1393.0,603.6 L1388.7,600.2 L1384.0,596.6 L1380.0,594.0 L1376.6,592.5 L1373.5,591.8 L1370.9,591.3 L1369.0,591.0 M1398.0,617.0 L1393.7,614.9 L1387.6,611.8 L1380.9,609.0 L1375.0,608.0 L1369.9,609.8 L1365.1,613.4 L1360.9,617.4 L1358.0,620.0 M1400.0,636.0 L1394.7,633.0 L1387.1,628.6 L1379.0,624.8 L1372.0,624.0 L1366.4,627.8 L1361.2,634.8 L1357.0,642.0 L1354.0,647.0 M1398.0,565.0 L1395.7,563.4 L1392.3,560.9 L1388.6,558.6 L1385.0,557.0 L1381.4,556.6 L1377.7,557.0 L1374.3,557.6 L1372.0,558.0 M1408.0,574.0 L1410.3,571.9 L1413.6,568.9 L1417.5,566.1 L1422.0,565.0 L1427.7,566.4 L1434.4,569.4 L1440.7,572.8 L1445.0,575.0 M1409.0,598.0 L1413.2,593.8 L1419.2,587.6 L1425.9,582.1 L1432.0,580.0 L1437.7,583.2 L1443.4,589.9 L1448.5,597.1 L1452.0,602.0 M1410.0,617.0 L1415.0,612.1 L1422.4,604.9 L1430.0,598.0 L1436.0,594.0 L1439.9,594.2 L1442.6,597.1 L1444.6,600.6 L1446.0,603.0 M1410.0,622.0 L1417.1,619.5 L1427.4,615.7 L1438.0,612.6 L1446.0,612.0 L1450.6,615.6 L1453.2,621.9 L1454.8,628.5 L1456.0,633.0 M1402.0,575.0 L1401.6,572.2 L1401.1,568.2 L1400.5,563.8 L1400.0,560.0 L1399.5,556.7 L1398.9,553.6 L1398.4,550.9 L1398.0,549.0 M1405.0,575.0 L1405.8,572.2 L1406.9,568.2 L1408.0,563.8 L1409.0,560.0 L1409.7,556.7 L1410.2,553.6 L1410.7,550.9 L1411.0,549.0 M1395.0,575.0 L1391.9,574.6 L1387.5,574.1 L1382.6,573.9 L1378.0,575.0 L1373.6,578.0 L1368.9,582.5 L1364.9,587.0 L1362.0,590.0 M1410.0,585.0 L1413.8,582.7 L1419.4,579.4 L1425.2,576.3 L1430.0,575.0 L1433.4,576.3 L1436.2,579.4 L1438.4,582.7 L1440.0,585.0 M1399.0,628.0 L1395.5,625.4 L1390.4,621.7 L1384.8,617.9 L1380.0,615.0 L1375.8,613.5 L1371.8,612.7 L1368.4,612.3 L1366.0,612.0 M1408.0,632.0 L1411.1,629.4 L1415.7,625.7 L1420.6,622.1 L1425.0,620.0 L1428.8,620.2 L1432.6,621.8 L1435.8,623.7 L1438.0,625.0 M1400.0,590.0 L1397.7,586.6 L1394.4,581.6 L1390.9,576.4 L1388.0,572.0 L1385.9,568.7 L1384.2,565.9 L1382.9,563.6 L1382.0,562.0 M1408.0,592.0 L1409.8,588.8 L1412.5,584.1 L1415.4,579.1 L1418.0,575.0 L1420.3,572.0 L1422.6,569.4 L1424.6,567.4 L1426.0,566.0" fill="none" stroke="#ccaa7c" stroke-width="2.6" stroke-linecap="round"/><path d="M1407.5,651.9 L1407.8,646.5 L1408.3,639.0 L1408.8,630.0 L1409.3,620.1 L1408.9,609.9 L1408.3,598.0 L1407.7,584.3 L1406.1,570.4 L1404.3,558.4 L1403.0,550.0 L1401.0,550.0 L1400.3,558.5 L1399.4,570.7 L1398.6,584.6 L1398.9,598.3 L1399.1,610.1 L1399.3,620.4 L1400.2,630.2 L1401.2,639.2 L1401.9,646.6 L1402.5,652.1Z" fill="#d6a858" stroke="#a88050" stroke-width="1.2"/><defs><g id="tp"><path d="M1403.5,1208.0 L1403.5,1192.8 L1403.4,1171.0 L1403.4,1146.0 L1403.3,1121.2 L1403.3,1100.0 L1403.2,1082.9 L1403.0,1067.6 L1402.9,1053.4 L1402.9,1039.5 L1403.1,1025.1 L1403.4,1010.1 L1404.0,995.0 L1404.6,979.9 L1405.2,964.9 L1405.8,950.3 L1406.5,936.8 L1407.3,924.4 L1408.1,911.6 L1408.9,897.3 L1409.5,880.2 L1410.1,858.4 L1410.7,832.8 L1411.2,806.2 L1411.6,781.0 L1411.8,760.0 L1411.6,744.0 L1411.3,731.1 L1410.9,720.2 L1410.5,710.2 L1410.1,699.9 L1409.5,688.7 L1408.9,677.3 L1408.3,666.7 L1407.8,657.7 L1407.4,651.3 L1403.4,651.5 L1403.5,657.9 L1403.6,666.9 L1403.8,677.5 L1403.9,688.9 L1403.9,700.1 L1404.1,710.4 L1404.2,720.4 L1404.3,731.2 L1404.2,744.0 L1403.8,760.0 L1403.4,780.9 L1402.8,806.0 L1402.1,832.6 L1401.3,858.1 L1400.5,879.8 L1399.7,896.9 L1398.8,911.1 L1397.9,923.7 L1397.0,936.2 L1396.2,949.7 L1395.4,964.4 L1394.6,979.4 L1393.9,994.6 L1393.3,1009.8 L1392.9,1024.9 L1392.7,1039.4 L1392.6,1053.4 L1392.7,1067.7 L1392.7,1082.9 L1392.7,1100.0 L1392.7,1121.2 L1392.6,1146.0 L1392.6,1171.0 L1392.5,1192.8 L1392.5,1208.0Z"/><path d="M1394.2,1144.1 L1392.4,1143.1 L1389.8,1141.5 L1386.7,1139.8 L1383.6,1138.2 L1380.9,1137.0 L1378.7,1136.5 L1376.8,1136.2 L1374.7,1136.4 L1372.7,1136.9 L1370.4,1137.7 L1367.4,1138.8 L1363.7,1140.2 L1359.6,1142.0 L1355.4,1144.6 L1351.8,1148.1 L1348.9,1152.5 L1346.6,1157.4 L1344.7,1162.8 L1343.2,1168.4 L1342.2,1174.1 L1341.8,1180.4 L1342.3,1187.3 L1343.0,1193.9 L1344.1,1199.6 L1344.9,1203.6 L1345.1,1203.6 L1345.6,1199.5 L1346.0,1193.8 L1346.3,1187.2 L1346.9,1180.7 L1347.8,1175.1 L1349.2,1170.0 L1351.0,1165.0 L1353.0,1160.3 L1355.4,1156.2 L1357.6,1152.9 L1360.1,1150.4 L1363.1,1148.3 L1366.5,1146.5 L1369.9,1145.1 L1372.8,1143.9 L1374.8,1143.0 L1375.9,1142.7 L1376.6,1142.6 L1377.6,1142.7 L1379.1,1143.0 L1381.5,1143.6 L1384.5,1144.6 L1387.6,1145.9 L1390.4,1147.1 L1392.4,1147.9Z"/><path d="M1393.3,1146.0 L1390.8,1144.8 L1387.2,1143.0 L1383.3,1141.2 L1380.0,1140.0 L1377.8,1139.5 L1376.0,1139.4 L1374.2,1139.8 L1371.6,1140.8 L1367.8,1142.3 L1363.2,1144.2 L1358.6,1146.9 L1354.7,1150.5 L1351.5,1156.1 L1348.8,1163.2 L1346.6,1169.9 L1345.0,1174.6" fill="none" stroke="#f5e2a8" stroke-width="1.2" stroke-linecap="round" opacity="0.75"/><path d="M1402.6,1138.3 L1403.8,1136.7 L1405.3,1134.5 L1407.1,1132.1 L1408.9,1129.8 L1410.5,1128.1 L1411.8,1126.8 L1412.9,1125.8 L1413.5,1125.4 L1414.0,1125.2 L1415.1,1125.1 L1417.0,1125.3 L1419.3,1125.7 L1421.8,1126.5 L1424.4,1127.8 L1427.3,1129.6 L1430.6,1132.3 L1434.3,1135.9 L1438.2,1139.8 L1442.2,1143.9 L1445.9,1148.0 L1449.1,1152.2 L1452.2,1156.9 L1455.2,1161.8 L1458.1,1166.7 L1461.2,1171.1 L1464.3,1175.4 L1467.5,1179.7 L1470.5,1183.6 L1473.3,1186.8 L1475.3,1189.1 L1475.5,1188.9 L1474.3,1186.1 L1472.6,1182.3 L1470.4,1177.8 L1468.0,1173.1 L1465.6,1168.5 L1463.4,1163.7 L1460.9,1158.7 L1458.2,1153.4 L1455.3,1148.2 L1452.1,1143.2 L1448.5,1138.5 L1444.5,1133.8 L1440.2,1129.6 L1435.9,1126.0 L1431.9,1123.0 L1428.1,1120.8 L1424.3,1119.3 L1420.9,1118.4 L1417.8,1118.0 L1414.9,1117.9 L1412.3,1118.2 L1409.9,1119.3 L1408.1,1120.7 L1406.8,1122.3 L1405.5,1123.9 L1403.9,1126.1 L1402.3,1128.9 L1400.7,1131.6 L1399.5,1134.1 L1398.6,1135.7Z"/><path d="M1400.6,1137.0 L1401.9,1134.9 L1403.9,1131.8 L1406.0,1128.6 L1408.0,1126.0 L1409.6,1124.2 L1411.0,1122.8 L1412.7,1121.8 L1415.0,1121.5 L1418.0,1121.7 L1421.5,1122.4 L1425.4,1123.9 L1429.6,1126.3 L1434.2,1130.0 L1439.3,1134.7 L1444.4,1140.1 L1449.0,1145.6 L1453.3,1151.9 L1457.4,1158.9 L1460.9,1165.3 L1463.4,1169.8" fill="none" stroke="#f5e2a8" stroke-width="1.3" stroke-linecap="round" opacity="0.75"/><path d="M1399.3,1181.2 L1400.6,1183.4 L1402.4,1186.7 L1404.6,1190.4 L1407.1,1194.1 L1409.7,1197.2 L1412.0,1199.6 L1414.4,1201.6 L1416.9,1203.5 L1419.8,1205.2 L1423.3,1206.9 L1427.6,1208.8 L1432.7,1210.7 L1438.3,1212.2 L1443.7,1213.3 L1448.6,1213.9 L1452.9,1213.8 L1456.6,1213.0 L1459.9,1211.9 L1462.9,1210.5 L1465.9,1209.0 L1469.1,1207.2 L1472.5,1205.0 L1475.7,1202.6 L1478.2,1200.4 L1480.1,1198.9 L1479.9,1198.7 L1477.7,1199.5 L1474.6,1200.8 L1471.1,1202.3 L1467.5,1203.8 L1464.1,1205.0 L1461.1,1205.9 L1458.1,1206.8 L1455.3,1207.5 L1452.4,1207.8 L1449.2,1207.7 L1445.1,1206.8 L1440.2,1205.4 L1435.1,1203.5 L1430.3,1201.8 L1426.1,1200.3 L1423.0,1198.9 L1420.5,1197.6 L1418.5,1196.3 L1416.5,1194.7 L1414.3,1192.8 L1411.9,1190.2 L1409.3,1187.1 L1406.6,1183.8 L1404.4,1180.9 L1402.7,1178.8Z"/><path d="M1401.0,1180.0 L1402.9,1182.8 L1405.7,1187.0 L1408.9,1191.3 L1412.0,1195.0 L1414.8,1197.6 L1417.5,1199.8 L1420.7,1201.7 L1424.7,1203.6 L1430.1,1205.8 L1436.6,1208.0 L1443.2,1209.8 L1448.9,1210.8 L1453.9,1210.5 L1458.5,1209.4 L1462.3,1207.9 L1465.0,1207.0" fill="none" stroke="#f5e2a8" stroke-width="1.2" stroke-linecap="round" opacity="0.75"/><path d="M1398.1,1096.2 L1396.9,1094.4 L1395.1,1091.7 L1393.1,1088.7 L1391.0,1085.6 L1389.1,1082.8 L1387.7,1080.5 L1386.6,1078.1 L1384.9,1075.2 L1382.4,1072.2 L1378.6,1069.4 L1373.6,1066.8 L1367.5,1064.3 L1361.0,1062.0 L1354.4,1060.1 L1348.3,1058.6 L1342.8,1057.6 L1337.4,1056.9 L1332.0,1056.7 L1326.7,1057.1 L1321.6,1058.4 L1316.8,1060.3 L1312.5,1063.1 L1308.5,1066.5 L1304.9,1070.7 L1301.9,1075.8 L1299.7,1081.9 L1298.2,1088.7 L1297.1,1095.8 L1296.2,1102.5 L1295.1,1108.4 L1293.7,1113.2 L1292.0,1117.7 L1290.5,1122.5 L1289.3,1127.7 L1289.0,1133.6 L1290.1,1140.7 L1292.1,1148.5 L1294.7,1156.2 L1297.2,1162.8 L1299.0,1167.4 L1299.2,1167.4 L1298.6,1162.5 L1297.5,1155.5 L1296.2,1147.6 L1295.2,1139.9 L1295.0,1133.6 L1295.7,1128.8 L1297.2,1124.7 L1299.1,1120.6 L1301.2,1115.9 L1303.1,1110.4 L1304.6,1104.1 L1305.9,1097.3 L1307.3,1090.6 L1308.9,1084.7 L1310.9,1080.2 L1313.2,1076.8 L1315.8,1074.1 L1318.7,1071.8 L1321.8,1070.1 L1325.0,1068.6 L1328.5,1067.7 L1332.4,1067.2 L1336.7,1067.3 L1341.5,1067.7 L1346.5,1068.4 L1352.0,1069.5 L1358.2,1071.1 L1364.4,1073.1 L1370.0,1075.1 L1374.2,1077.0 L1376.8,1078.7 L1378.3,1080.2 L1379.6,1082.1 L1381.0,1084.5 L1382.9,1087.2 L1385.2,1089.9 L1387.6,1092.8 L1389.9,1095.6 L1391.9,1098.1 L1393.3,1099.8Z"/><path d="M1395.7,1098.0 L1394.0,1095.6 L1391.5,1092.2 L1388.6,1088.5 L1386.0,1085.0 L1384.0,1081.9 L1382.4,1078.9 L1380.2,1076.0 L1376.4,1073.2 L1370.4,1070.4 L1362.8,1067.6 L1354.8,1065.2 L1347.4,1063.5 L1340.9,1062.5 L1334.6,1062.0 L1328.7,1062.3 L1323.3,1063.5 L1318.3,1065.7 L1313.8,1068.8 L1309.8,1072.8 L1306.4,1078.0 L1303.9,1084.8 L1302.1,1093.1 L1300.7,1101.7 L1299.1,1109.4 L1297.1,1116.5 L1295.1,1123.5 L1293.3,1129.4 L1292.0,1133.6" fill="none" stroke="#f5e2a8" stroke-width="1.6" stroke-linecap="round" opacity="0.75"/><path d="M1405.7,1065.3 L1406.7,1063.4 L1408.1,1060.7 L1409.7,1057.7 L1411.5,1054.7 L1413.2,1052.0 L1414.8,1049.8 L1416.3,1047.9 L1418.1,1045.9 L1420.4,1043.3 L1423.5,1039.8 L1427.5,1034.8 L1432.3,1028.8 L1437.5,1022.4 L1442.7,1016.5 L1447.5,1011.8 L1452.1,1008.1 L1456.6,1005.0 L1461.1,1002.4 L1465.4,1000.2 L1469.6,998.5 L1474.0,997.3 L1478.5,996.8 L1483.1,996.7 L1487.3,997.0 L1491.0,997.8 L1494.1,998.9 L1497.0,1000.4 L1499.4,1002.3 L1501.5,1004.6 L1503.2,1007.2 L1504.5,1010.5 L1505.4,1014.6 L1506.0,1019.4 L1506.3,1024.5 L1506.6,1029.6 L1506.7,1035.1 L1506.6,1041.3 L1506.7,1047.3 L1506.6,1052.6 L1506.7,1056.3 L1506.9,1056.3 L1507.8,1052.7 L1509.0,1047.6 L1510.3,1041.6 L1511.2,1035.4 L1511.8,1029.8 L1512.1,1024.5 L1512.4,1019.2 L1512.3,1013.9 L1511.8,1008.7 L1510.4,1004.0 L1508.1,999.9 L1505.2,996.3 L1501.8,993.4 L1497.9,991.0 L1493.6,989.2 L1488.9,988.0 L1483.7,987.2 L1478.1,987.0 L1472.4,987.4 L1466.8,988.5 L1461.3,990.3 L1455.9,992.7 L1450.7,995.9 L1445.6,999.8 L1440.5,1004.2 L1435.2,1009.7 L1429.9,1016.2 L1424.8,1023.0 L1420.3,1029.2 L1416.5,1034.2 L1413.7,1037.9 L1411.6,1040.7 L1409.9,1043.1 L1408.4,1045.4 L1406.8,1048.0 L1405.1,1051.2 L1403.6,1054.7 L1402.2,1058.0 L1401.1,1060.8 L1400.3,1062.7Z"/><path d="M1403.0,1064.0 L1404.2,1061.5 L1405.9,1057.8 L1407.9,1053.8 L1410.0,1050.0 L1412.0,1047.1 L1413.9,1044.4 L1416.4,1041.4 L1420.0,1037.0 L1425.0,1030.5 L1431.1,1022.6 L1437.7,1014.6 L1444.0,1008.0 L1450.0,1003.0 L1456.1,998.9 L1462.2,995.8 L1468.2,993.5 L1474.5,992.2 L1480.9,991.8 L1487.0,992.3 L1492.3,993.5 L1496.9,995.4 L1500.9,998.0 L1504.3,1001.4 L1506.8,1005.6 L1508.3,1011.3 L1508.9,1018.4 L1509.1,1025.1 L1509.2,1029.7" fill="none" stroke="#f5e2a8" stroke-width="1.6" stroke-linecap="round" opacity="0.75"/><path d="M1398.5,1014.8 L1397.5,1012.3 L1396.2,1008.6 L1394.6,1004.4 L1393.0,1000.2 L1391.5,996.5 L1390.6,993.7 L1389.8,991.1 L1388.9,988.3 L1387.3,985.0 L1384.9,981.2 L1381.5,976.6 L1377.3,971.5 L1372.6,966.1 L1367.7,960.8 L1362.9,956.0 L1358.1,951.7 L1353.1,947.4 L1348.0,943.4 L1342.6,940.0 L1337.1,937.6 L1331.6,936.4 L1326.1,936.2 L1320.7,936.8 L1315.6,938.5 L1310.8,941.1 L1306.7,944.7 L1303.0,949.1 L1299.9,954.2 L1297.2,959.7 L1295.1,965.6 L1293.3,971.9 L1291.9,978.8 L1291.0,986.0 L1290.8,993.5 L1291.3,1001.0 L1293.0,1008.9 L1295.6,1017.3 L1298.8,1025.4 L1301.8,1032.2 L1303.9,1037.0 L1304.1,1037.0 L1303.1,1031.8 L1301.5,1024.5 L1299.6,1016.2 L1298.0,1007.9 L1297.3,1000.4 L1297.5,993.7 L1298.4,986.9 L1299.7,980.2 L1301.3,974.0 L1303.1,968.4 L1305.3,963.4 L1307.8,958.8 L1310.6,954.8 L1313.5,951.6 L1316.4,949.3 L1319.4,947.9 L1322.7,947.0 L1326.3,946.7 L1330.0,947.1 L1333.7,948.0 L1337.6,949.6 L1342.0,952.2 L1346.7,955.6 L1351.5,959.4 L1356.1,963.4 L1360.8,967.7 L1365.6,972.5 L1370.3,977.6 L1374.4,982.4 L1377.7,986.4 L1379.9,989.4 L1381.2,991.7 L1382.1,993.9 L1383.1,996.5 L1384.5,999.5 L1386.2,1003.1 L1388.2,1007.2 L1390.1,1011.2 L1391.7,1014.7 L1392.9,1017.2Z"/><path d="M1395.7,1016.0 L1394.3,1012.7 L1392.3,1007.9 L1390.0,1002.7 L1388.0,998.0 L1386.6,994.4 L1385.5,991.3 L1384.0,988.0 L1381.3,983.8 L1377.0,978.3 L1371.5,971.9 L1365.5,965.5 L1359.5,959.7 L1353.6,954.5 L1347.5,949.6 L1341.3,945.5 L1335.4,942.8 L1329.6,941.6 L1323.9,941.6 L1318.5,942.8 L1313.6,945.2 L1309.2,949.0 L1305.3,954.1 L1301.9,960.3 L1299.1,967.0 L1297.1,975.4 L1295.8,985.2 L1294.9,994.4 L1294.3,1000.7" fill="none" stroke="#f5e2a8" stroke-width="1.6" stroke-linecap="round" opacity="0.75"/><path d="M1408.1,954.3 L1409.1,952.6 L1410.4,950.1 L1412.0,947.3 L1413.6,944.4 L1415.2,941.8 L1416.6,939.8 L1417.8,938.0 L1419.2,936.1 L1421.0,933.9 L1423.5,930.9 L1426.7,926.8 L1430.5,921.9 L1434.7,916.7 L1438.9,911.7 L1442.8,907.3 L1446.6,903.5 L1450.3,900.0 L1453.9,896.9 L1457.6,894.1 L1461.3,891.8 L1465.3,889.6 L1469.4,887.5 L1473.3,885.9 L1476.7,885.0 L1479.4,885.0 L1482.1,885.7 L1485.0,887.4 L1488.0,889.9 L1490.9,893.0 L1493.3,896.7 L1495.6,900.9 L1497.5,905.7 L1499.1,911.2 L1500.3,917.1 L1501.1,923.4 L1500.9,931.2 L1499.9,940.6 L1498.6,950.1 L1497.6,958.6 L1497.1,964.5 L1497.3,964.5 L1499.2,958.9 L1501.9,950.8 L1504.5,941.4 L1506.6,931.9 L1507.7,923.6 L1507.7,916.3 L1506.9,909.5 L1505.4,903.2 L1503.4,897.5 L1501.1,892.3 L1498.2,887.6 L1494.7,883.3 L1490.7,879.7 L1486.2,876.8 L1481.2,875.0 L1475.7,874.8 L1470.3,875.8 L1465.1,877.6 L1460.2,880.0 L1455.7,882.6 L1451.4,885.5 L1447.2,888.9 L1443.3,892.6 L1439.4,896.5 L1435.6,900.7 L1431.5,905.5 L1427.3,910.9 L1423.2,916.4 L1419.5,921.5 L1416.5,925.7 L1414.3,929.0 L1412.6,931.5 L1411.3,933.7 L1410.1,935.8 L1408.8,938.2 L1407.4,941.1 L1405.9,944.2 L1404.6,947.3 L1403.5,949.9 L1402.7,951.7Z"/><path d="M1405.4,953.0 L1406.6,950.6 L1408.2,947.2 L1410.1,943.5 L1412.0,940.0 L1413.6,937.3 L1415.2,934.9 L1417.2,932.1 L1420.0,928.3 L1424.0,922.9 L1428.9,916.5 L1434.1,909.8 L1439.2,904.0 L1444.0,899.0 L1448.7,894.5 L1453.5,890.5 L1458.5,887.2 L1463.9,884.2 L1469.6,881.6 L1475.1,880.0 L1480.3,880.0 L1485.1,881.8 L1489.7,885.0 L1493.8,889.3 L1497.2,894.5 L1499.9,901.4 L1501.9,909.9 L1503.3,917.9 L1504.4,923.5" fill="none" stroke="#f5e2a8" stroke-width="1.6" stroke-linecap="round" opacity="0.75"/><path d="M1411.1,698.6 L1410.3,696.1 L1409.0,692.5 L1407.5,688.2 L1405.9,683.9 L1404.4,680.0 L1403.1,676.5 L1401.8,672.8 L1400.1,669.0 L1397.7,665.1 L1394.4,661.6 L1390.2,659.0 L1385.5,657.1 L1380.6,655.7 L1375.6,655.0 L1371.0,655.0 L1366.9,655.6 L1362.7,656.9 L1358.5,659.2 L1354.6,662.8 L1351.4,667.6 L1348.5,673.1 L1346.3,679.7 L1344.3,687.3 L1342.9,696.2 L1341.9,706.6 L1341.8,719.8 L1342.5,736.0 L1343.9,752.5 L1345.6,767.0 L1347.3,777.0 L1347.5,777.0 L1348.9,766.9 L1350.0,752.4 L1351.0,735.9 L1351.8,720.1 L1352.9,707.4 L1354.4,698.1 L1356.3,690.2 L1358.4,683.7 L1360.7,678.3 L1362.6,673.8 L1364.5,670.8 L1366.0,669.2 L1367.6,668.2 L1369.7,667.5 L1372.2,667.0 L1375.0,666.8 L1378.4,667.1 L1382.0,667.9 L1385.3,669.1 L1387.6,670.4 L1389.2,671.9 L1390.7,674.1 L1392.2,677.0 L1393.8,680.5 L1395.6,684.0 L1397.6,687.6 L1399.6,691.6 L1401.6,695.5 L1403.3,699.0 L1404.5,701.4Z"/><path d="M1407.8,700.0 L1406.4,696.7 L1404.5,692.0 L1402.2,686.8 L1400.0,682.0 L1398.1,677.6 L1396.2,673.2 L1394.0,669.2 L1391.0,666.0 L1386.8,663.6 L1381.7,661.9 L1376.4,661.0 L1371.6,661.0 L1367.5,661.8 L1363.7,663.3 L1360.2,666.1 L1357.0,670.7 L1354.0,678.8 L1351.3,689.5 L1349.0,699.9 L1347.4,707.0" fill="none" stroke="#f5e2a8" stroke-width="2.0" stroke-linecap="round" opacity="0.75"/><path d="M1412.0,742.2 L1411.5,738.2 L1410.9,732.5 L1410.2,725.8 L1409.3,719.2 L1408.2,713.5 L1407.3,708.9 L1406.4,704.5 L1405.3,700.2 L1403.9,695.8 L1401.8,691.3 L1398.8,686.8 L1395.2,682.2 L1391.4,678.0 L1387.3,674.6 L1378.3,673.5 L1373.3,681.8 L1373.9,686.9 L1375.1,692.0 L1376.5,697.0 L1377.6,701.2 L1378.3,704.5 L1379.0,707.9 L1379.9,711.5 L1381.3,715.8 L1383.4,721.0 L1386.9,727.7 L1391.6,735.7 L1396.6,743.8 L1401.7,750.7 L1405.3,755.4 L1405.5,755.2 L1404.1,749.5 L1401.9,741.3 L1398.7,732.4 L1395.8,723.7 L1393.6,717.0 L1392.3,712.4 L1391.6,708.8 L1391.2,705.8 L1390.8,702.6 L1390.4,698.8 L1389.7,694.2 L1388.8,689.1 L1388.3,684.7 L1388.2,682.5 L1384.3,687.3 L1379.1,687.5 L1381.0,689.1 L1384.2,692.1 L1387.3,695.6 L1389.6,698.7 L1391.1,701.3 L1392.3,704.3 L1393.4,707.8 L1394.5,711.9 L1395.8,716.5 L1397.3,721.9 L1399.1,728.1 L1400.9,734.4 L1402.5,739.9 L1403.6,743.8Z"/><path d="M1407.8,743.0 L1406.8,737.8 L1405.3,730.2 L1403.6,722.1 L1402.0,715.0 L1400.6,709.3 L1399.4,704.2 L1397.9,699.4 L1395.7,695.0 L1392.3,690.2 L1387.9,685.2 L1383.9,681.5 L1381.3,680.4 L1380.7,682.9 L1381.5,688.1 L1382.8,694.3 L1384.0,700.0 L1385.1,705.2 L1386.4,710.7 L1387.6,715.6 L1388.5,719.0" fill="none" stroke="#f5e2a8" stroke-width="2.3" stroke-linecap="round" opacity="0.75"/><path d="M1353.0,675.0 L1351.6,678.4 L1349.6,683.1 L1347.5,688.6 L1345.6,694.2 L1343.9,699.1 L1342.7,703.3 L1341.9,707.2 L1341.3,711.0 L1340.7,714.7 L1340.2,718.6 L1339.8,722.9 L1339.6,727.5 L1339.6,731.9 L1339.8,735.7 L1340.1,738.4 L1340.3,738.4 L1341.2,735.8 L1342.2,732.2 L1343.1,727.9 L1344.2,723.5 L1345.0,719.4 L1345.9,715.8 L1346.9,712.2 L1347.9,708.7 L1349.0,705.0 L1350.1,700.9 L1351.3,696.0 L1352.9,690.3 L1354.4,684.6 L1355.6,679.7 L1356.4,676.2Z"/><path d="M1354.7,675.6 L1353.2,680.1 L1351.1,686.6 L1348.9,693.7 L1347.0,700.0 L1345.6,705.6 L1344.3,711.0 L1343.3,715.7 L1342.6,719.0" fill="none" stroke="#f5e2a8" stroke-width="1.0" stroke-linecap="round" opacity="0.75"/><path d="M1411.8,658.2 L1413.2,656.1 L1415.3,653.3 L1417.7,650.0 L1420.2,646.7 L1422.5,643.7 L1424.5,641.0 L1426.4,638.3 L1428.2,635.9 L1429.9,633.9 L1431.8,632.3 L1434.0,630.6 L1436.5,628.9 L1438.6,627.9 L1439.5,627.6 L1439.1,627.5 L1439.4,628.3 L1439.9,630.5 L1440.2,634.1 L1440.4,639.4 L1440.5,646.5 L1440.2,657.0 L1439.6,670.6 L1439.1,685.2 L1438.8,698.1 L1439.1,707.0 L1439.3,707.0 L1441.1,698.3 L1443.1,685.5 L1445.2,671.1 L1446.6,657.4 L1447.5,646.7 L1447.9,639.4 L1447.8,633.6 L1447.3,629.2 L1446.2,625.5 L1444.1,622.3 L1440.1,620.5 L1436.1,621.2 L1432.9,623.0 L1430.0,625.1 L1427.4,627.1 L1425.1,629.4 L1423.0,632.0 L1421.1,634.7 L1419.3,637.5 L1417.5,640.3 L1415.5,643.5 L1413.4,647.1 L1411.3,650.6 L1409.5,653.7 L1408.2,655.8Z"/><path d="M1410.0,657.0 L1411.8,654.2 L1414.4,650.3 L1417.3,645.9 L1420.0,642.0 L1422.4,638.6 L1424.7,635.2 L1427.0,632.2 L1429.6,629.7 L1432.7,627.4 L1436.0,625.2 L1439.2,624.1 L1441.6,624.9 L1442.9,629.0 L1443.5,635.4 L1443.8,642.1 L1444.0,646.6" fill="none" stroke="#f5e2a8" stroke-width="1.2" stroke-linecap="round" opacity="0.75"/><path d="M1412.1,708.2 L1413.2,706.6 L1414.7,704.3 L1416.4,701.7 L1418.2,699.1 L1419.9,696.9 L1421.3,694.9 L1422.6,693.1 L1424.0,691.5 L1425.5,689.8 L1427.4,687.9 L1429.9,685.7 L1432.8,683.1 L1435.9,680.7 L1438.8,678.5 L1441.5,677.0 L1443.8,675.5 L1445.8,674.3 L1447.1,673.7 L1448.0,673.5 L1449.2,673.9 L1451.5,675.7 L1454.5,679.1 L1457.7,683.2 L1460.9,687.5 L1463.7,691.2 L1465.9,694.7 L1468.0,698.4 L1469.9,701.9 L1471.6,704.9 L1472.9,707.1 L1473.1,706.9 L1472.7,704.5 L1472.1,701.1 L1471.1,697.1 L1469.7,692.9 L1467.9,688.8 L1465.8,684.4 L1463.1,679.6 L1460.0,674.9 L1456.8,670.7 L1453.4,667.5 L1449.6,665.8 L1445.7,665.7 L1442.4,666.7 L1439.6,668.0 L1436.9,669.4 L1433.9,671.5 L1430.6,674.2 L1427.4,677.1 L1424.5,679.9 L1422.0,682.5 L1419.9,684.7 L1418.2,686.9 L1416.8,688.9 L1415.4,690.9 L1414.1,693.1 L1412.7,695.8 L1411.2,698.7 L1409.9,701.6 L1408.7,704.1 L1407.9,705.8Z"/><path d="M1410.0,707.0 L1411.2,704.8 L1413.0,701.6 L1415.0,698.1 L1417.0,695.0 L1418.7,692.4 L1420.4,690.1 L1422.3,687.8 L1424.7,685.2 L1427.9,682.1 L1431.7,678.7 L1435.6,675.6 L1439.2,673.2 L1442.3,671.4 L1445.2,670.0 L1448.2,669.6 L1451.3,670.7 L1455.1,674.4 L1459.3,680.2 L1463.1,686.0 L1465.8,690.0" fill="none" stroke="#f5e2a8" stroke-width="1.3" stroke-linecap="round" opacity="0.75"/><path d="M1415.4,783.3 L1416.4,781.5 L1417.8,779.0 L1419.4,776.1 L1421.2,773.0 L1423.2,769.9 L1425.2,767.0 L1427.3,764.1 L1429.6,761.0 L1432.3,757.4 L1435.7,753.0 L1439.9,747.4 L1444.8,740.7 L1450.1,733.8 L1455.2,727.5 L1459.7,722.6 L1463.7,719.1 L1467.5,716.3 L1470.9,714.3 L1473.9,713.0 L1476.2,712.3 L1477.7,712.1 L1478.7,712.4 L1479.9,713.1 L1481.5,714.6 L1483.4,716.9 L1485.4,720.1 L1487.5,724.3 L1489.5,729.1 L1491.4,734.3 L1493.1,739.5 L1494.6,744.7 L1496.0,750.0 L1497.2,755.5 L1498.2,761.3 L1499.0,767.4 L1499.3,774.6 L1499.3,782.9 L1499.3,791.2 L1499.3,798.5 L1499.5,803.6 L1499.7,803.6 L1500.7,798.6 L1502.2,791.5 L1503.6,783.2 L1504.6,774.8 L1505.0,767.2 L1504.9,760.7 L1504.5,754.4 L1503.7,748.5 L1502.6,742.8 L1501.3,737.3 L1499.8,731.7 L1498.0,726.0 L1496.1,720.6 L1493.9,715.7 L1491.6,711.5 L1489.2,708.1 L1486.4,705.2 L1483.0,703.0 L1479.0,701.7 L1474.6,701.7 L1470.3,702.8 L1465.8,704.6 L1461.4,707.4 L1456.9,711.0 L1452.3,715.4 L1447.4,721.0 L1442.2,727.8 L1437.1,735.1 L1432.3,742.0 L1428.3,747.8 L1425.2,752.3 L1422.6,756.2 L1420.5,759.6 L1418.6,762.8 L1416.8,766.1 L1415.0,769.5 L1413.4,773.0 L1412.0,776.1 L1410.8,778.8 L1410.0,780.7Z"/><path d="M1412.7,782.0 L1413.9,779.6 L1415.6,776.1 L1417.7,772.1 L1420.0,768.0 L1422.4,764.2 L1425.0,760.3 L1428.0,755.9 L1432.0,750.4 L1437.3,743.1 L1443.5,734.3 L1450.0,725.8 L1456.0,719.0 L1461.3,714.2 L1466.4,710.6 L1471.2,708.2 L1475.4,707.0 L1479.0,707.1 L1482.1,708.3 L1484.8,710.8 L1487.5,714.2 L1490.2,718.9 L1492.8,724.9 L1495.2,731.6 L1497.2,738.4 L1498.9,746.0 L1500.2,754.4 L1501.3,762.0 L1502.0,767.3" fill="none" stroke="#f5e2a8" stroke-width="1.6" stroke-linecap="round" opacity="0.75"/><path d="M1478.1,719.9 L1478.7,721.5 L1479.5,723.6 L1480.4,726.1 L1481.2,728.6 L1482.0,731.0 L1482.5,733.0 L1482.9,734.7 L1483.2,736.6 L1483.5,739.3 L1483.8,743.5 L1484.4,750.2 L1485.5,758.9 L1486.8,768.1 L1488.3,776.2 L1489.9,781.8 L1490.1,781.8 L1491.1,776.1 L1491.6,767.8 L1491.7,758.5 L1491.7,749.6 L1491.2,742.9 L1490.6,738.5 L1490.0,735.4 L1489.4,733.1 L1488.8,731.1 L1488.0,729.0 L1486.9,726.3 L1485.5,723.7 L1484.0,721.4 L1482.8,719.4 L1481.9,718.1Z"/><path d="M1480.0,719.0 L1481.0,720.9 L1482.3,723.7 L1483.8,726.8 L1485.0,730.0 L1485.9,733.5 L1486.6,737.3 L1487.1,740.8 L1487.5,743.2" fill="none" stroke="#f5e2a8" stroke-width="1.2" stroke-linecap="round" opacity="0.75"/><path d="M1407.9,809.3 L1406.6,807.1 L1404.8,804.1 L1402.6,800.4 L1400.3,796.6 L1398.2,793.0 L1396.3,789.6 L1394.5,786.0 L1392.5,782.2 L1390.1,778.2 L1387.2,774.2 L1383.8,770.0 L1379.8,765.6 L1375.7,761.2 L1371.4,757.1 L1367.4,753.8 L1363.6,751.0 L1359.9,748.7 L1356.1,746.9 L1351.9,745.6 L1347.3,745.1 L1342.6,745.6 L1337.8,746.8 L1333.2,748.6 L1328.8,750.8 L1325.1,753.2 L1321.9,755.7 L1318.8,758.4 L1315.9,761.7 L1313.4,765.7 L1311.4,770.5 L1309.8,776.3 L1308.7,782.8 L1307.8,789.7 L1307.3,796.7 L1307.1,803.5 L1307.3,810.0 L1308.1,816.3 L1309.2,822.5 L1310.2,828.6 L1310.8,835.0 L1310.9,842.4 L1310.8,850.7 L1310.9,859.0 L1311.0,866.1 L1311.1,871.2 L1311.3,871.2 L1312.2,866.3 L1313.6,859.2 L1314.9,851.0 L1315.8,842.6 L1316.4,835.0 L1316.5,828.2 L1316.1,821.7 L1315.6,815.5 L1315.3,809.6 L1315.3,803.7 L1315.9,797.4 L1316.7,790.8 L1317.8,784.3 L1319.1,778.5 L1320.6,773.9 L1322.2,770.5 L1324.0,767.9 L1326.0,765.9 L1328.4,764.0 L1331.1,762.2 L1334.2,760.3 L1337.7,758.5 L1341.2,757.0 L1344.6,756.0 L1347.5,755.7 L1349.9,755.8 L1352.5,756.5 L1355.2,757.7 L1358.1,759.4 L1361.4,761.6 L1365.0,764.5 L1369.0,768.0 L1373.0,772.0 L1376.9,776.1 L1380.2,779.8 L1382.9,783.2 L1385.2,786.6 L1387.3,790.1 L1389.5,793.5 L1391.8,797.0 L1394.3,800.6 L1396.8,804.2 L1399.3,807.6 L1401.4,810.6 L1402.9,812.7Z"/><path d="M1405.4,811.0 L1403.6,808.2 L1400.9,804.1 L1397.9,799.5 L1395.0,795.0 L1392.4,790.7 L1389.9,786.2 L1387.1,781.6 L1383.7,777.0 L1379.4,772.0 L1374.4,766.7 L1369.3,761.7 L1364.4,757.7 L1360.0,754.7 L1355.9,752.4 L1351.8,750.9 L1347.4,750.4 L1342.6,751.0 L1337.4,752.7 L1332.5,755.0 L1328.1,757.7 L1324.4,760.4 L1321.1,763.4 L1318.3,767.2 L1316.0,772.2 L1314.1,778.9 L1312.7,786.8 L1311.7,795.4 L1311.2,803.6 L1311.4,812.2 L1312.1,821.3 L1313.0,829.4 L1313.6,835.0" fill="none" stroke="#f5e2a8" stroke-width="1.6" stroke-linecap="round" opacity="0.75"/><path d="M1360.8,853.3 L1357.6,851.5 L1353.0,848.9 L1347.6,845.9 L1341.9,843.0 L1336.5,840.8 L1331.6,839.0 L1326.6,837.4 L1321.5,836.0 L1316.3,835.0 L1311.0,834.7 L1305.7,835.2 L1300.3,836.2 L1295.1,837.8 L1290.2,840.0 L1286.2,842.9 L1283.0,846.1 L1280.7,849.8 L1279.2,853.9 L1278.2,858.3 L1277.6,863.5 L1277.3,870.0 L1277.5,877.6 L1277.9,885.6 L1278.7,893.3 L1279.3,900.1 L1279.9,906.2 L1280.5,912.1 L1281.4,917.4 L1282.3,921.8 L1282.9,925.0 L1283.1,925.0 L1283.5,921.8 L1284.0,917.3 L1284.5,911.9 L1284.7,906.0 L1285.1,899.9 L1285.4,893.1 L1285.7,885.4 L1285.8,877.5 L1286.1,870.3 L1286.8,864.5 L1287.7,860.2 L1288.6,856.9 L1289.7,854.5 L1291.0,852.8 L1292.8,851.1 L1295.5,849.5 L1299.0,847.9 L1303.0,846.4 L1307.3,845.4 L1311.4,844.9 L1315.3,844.9 L1319.6,845.5 L1324.1,846.5 L1328.8,847.8 L1333.5,849.2 L1338.6,851.0 L1344.3,853.1 L1349.9,855.3 L1354.7,857.3 L1358.2,858.7Z"/><path d="M1359.5,856.0 L1355.1,853.9 L1348.7,850.8 L1341.6,847.6 L1335.0,845.0 L1329.0,843.0 L1322.9,841.3 L1317.0,840.1 L1311.2,839.8 L1305.3,840.5 L1299.3,842.0 L1293.9,844.2 L1289.5,847.0 L1286.5,850.1 L1284.5,853.7 L1283.2,858.2 L1282.2,864.0 L1281.7,872.5 L1281.7,883.1 L1282.0,893.1 L1282.2,900.0" fill="none" stroke="#f5e2a8" stroke-width="1.6" stroke-linecap="round" opacity="0.75"/><path d="M1421.8,825.0 L1423.2,823.9 L1425.1,822.4 L1427.2,820.7 L1429.4,819.2 L1431.6,818.0 L1433.6,817.3 L1435.8,816.7 L1438.4,816.2 L1441.5,815.6 L1445.2,814.7 L1449.6,813.4 L1454.6,811.8 L1459.8,810.3 L1464.8,809.0 L1469.1,808.1 L1472.9,807.5 L1476.1,807.0 L1478.7,806.8 L1480.7,807.1 L1482.7,808.0 L1485.2,809.5 L1487.9,811.8 L1490.6,814.7 L1493.3,818.3 L1495.8,822.4 L1498.1,827.3 L1500.3,833.2 L1502.4,839.6 L1504.4,846.2 L1506.3,852.5 L1508.1,859.1 L1509.7,866.2 L1511.2,873.1 L1512.7,879.0 L1513.9,883.2 L1514.1,883.2 L1514.1,878.9 L1514.1,872.7 L1513.7,865.6 L1513.0,858.2 L1512.1,851.3 L1511.0,844.6 L1509.5,837.7 L1507.7,830.9 L1505.7,824.4 L1503.4,818.6 L1500.8,813.6 L1497.8,809.1 L1494.6,805.1 L1491.1,801.8 L1487.3,799.2 L1483.1,797.7 L1478.9,797.2 L1475.0,797.6 L1471.2,798.3 L1467.3,799.1 L1462.5,800.3 L1457.3,801.9 L1452.0,803.8 L1447.0,805.5 L1442.8,806.9 L1439.5,807.9 L1436.5,808.8 L1433.8,809.7 L1431.1,810.7 L1428.4,812.0 L1425.7,813.8 L1423.3,815.9 L1421.1,818.0 L1419.4,819.8 L1418.2,821.0Z"/><path d="M1420.0,823.0 L1421.7,821.5 L1424.1,819.3 L1427.0,816.9 L1430.0,815.0 L1433.0,813.8 L1436.1,812.9 L1439.7,812.0 L1444.0,810.8 L1449.5,809.0 L1455.9,806.9 L1462.4,805.0 L1468.2,803.6 L1473.0,802.7 L1477.2,802.1 L1481.1,802.2 L1485.0,803.6 L1488.9,806.3 L1492.7,810.1 L1496.4,814.9 L1499.6,820.5 L1502.6,828.1 L1505.3,837.3 L1507.6,845.9 L1509.2,851.9" fill="none" stroke="#f5e2a8" stroke-width="1.5" stroke-linecap="round" opacity="0.75"/></g></defs><use href="#tp" xlink:href="#tp" fill="#f4f8fb" stroke="#f4f8fb" stroke-width="6" stroke-linejoin="round" opacity="0.55"/><use href="#tp" xlink:href="#tp" fill="#e9c97e" stroke="#c29a4c" stroke-width="2.2" stroke-linejoin="round"/><path d="M1361.0,816.0 L1361.9,815.5 L1363.0,815.3 L1364.3,815.5 L1365.7,815.9 L1367.2,816.7 L1368.8,817.9 L1370.4,819.3 L1372.0,821.0 L1373.6,823.1 L1375.4,825.7 L1377.2,828.6 L1379.1,831.8 L1380.9,835.2 L1382.7,838.8 L1384.4,842.4 L1386.0,846.0 L1387.5,849.7 L1388.9,853.5 L1390.2,857.4 L1391.5,861.4 L1392.7,865.5 L1393.9,869.7 L1395.0,873.9 L1396.0,878.0 L1397.0,882.2 L1398.0,886.6 L1398.9,891.0 L1399.8,895.5 L1400.5,899.9 L1401.2,904.2 L1401.7,908.2 L1402.0,912.0 L1402.2,915.7 L1402.2,919.5 L1402.1,923.2 L1401.9,926.8 L1401.6,929.9 L1401.2,932.6 L1400.6,934.7 L1400.0,936.0 L1399.2,936.5 L1398.3,936.4 L1397.3,935.6 L1396.1,934.4 L1394.9,932.7 L1393.6,930.7 L1392.3,928.4 L1391.0,926.0 L1389.6,923.2 L1388.2,920.0 L1386.7,916.4 L1385.1,912.5 L1383.6,908.4 L1382.0,904.2 L1380.5,900.1 L1379.0,896.0 L1377.6,891.9 L1376.1,887.7 L1374.7,883.4 L1373.2,879.0 L1371.9,874.6 L1370.5,870.3 L1369.2,866.1 L1368.0,862.0 L1366.8,858.0 L1365.6,853.9 L1364.4,849.8 L1363.2,845.9 L1362.2,842.0 L1361.3,838.4 L1360.5,835.1 L1360.0,832.0 L1359.6,829.2 L1359.4,826.5 L1359.3,824.1 L1359.3,821.8 L1359.5,819.8 L1359.8,818.2 L1360.3,816.9Z" fill="#ecc868" stroke="#b48c42" stroke-width="1.5"/><path d="M1368,830 C1378,850 1388,880 1396,915" fill="none" stroke="#f8e6a8" stroke-width="3" stroke-linecap="round"/></svg>
<h1 id="title" style="margin:0"><span style="left:23.7px;transform:scaleX(1.037)">C</span><span style="left:122.0px;transform:scaleX(1.129)">O</span><span style="left:238.9px;transform:scaleX(0.942)">R</span><span style="left:335.7px;transform:scaleX(1.107)">N</span> <span style="left:475.3px;transform:scaleX(1.046)">D</span><span style="left:578.7px;transform:scaleX(0.969)">E</span><span style="left:668.3px;transform:scaleX(1.051)">V</span><span style="left:766.1px;transform:scaleX(0.979)">E</span><span style="left:857.1px;transform:scaleX(0.967)">L</span><span style="left:930.2px;transform:scaleX(1.141)">O</span><span style="left:1047.4px;transform:scaleX(1.036)">P</span><span style="left:1141.8px;transform:scaleX(1.119)">M</span><span style="left:1267.1px;transform:scaleX(0.979)">E</span><span style="left:1357.9px;transform:scaleX(1.123)">N</span><span style="left:1468.4px;transform:scaleX(0.983)">T</span></h1>
<div id="sub" class="t">CORN GROWTH STAGES</div>
<div id="b1" class="t bl" style="left:557px;top:280px;transform:scaleX(1.104)">VE: Emergence stage</div>
<div id="b2" class="t bl" style="left:557px;top:340px;transform:scaleX(1.091)">Vn: nth Leave stage</div>
<div id="b3" class="t bl" style="left:557px;top:400.5px;transform:scaleX(1.102)">VT: Tasseling stage</div>
<div id="foot" class="t">Graphic courtesy of University of Illinois Extension (extension.illinois.edu)</div>
</body></html>
